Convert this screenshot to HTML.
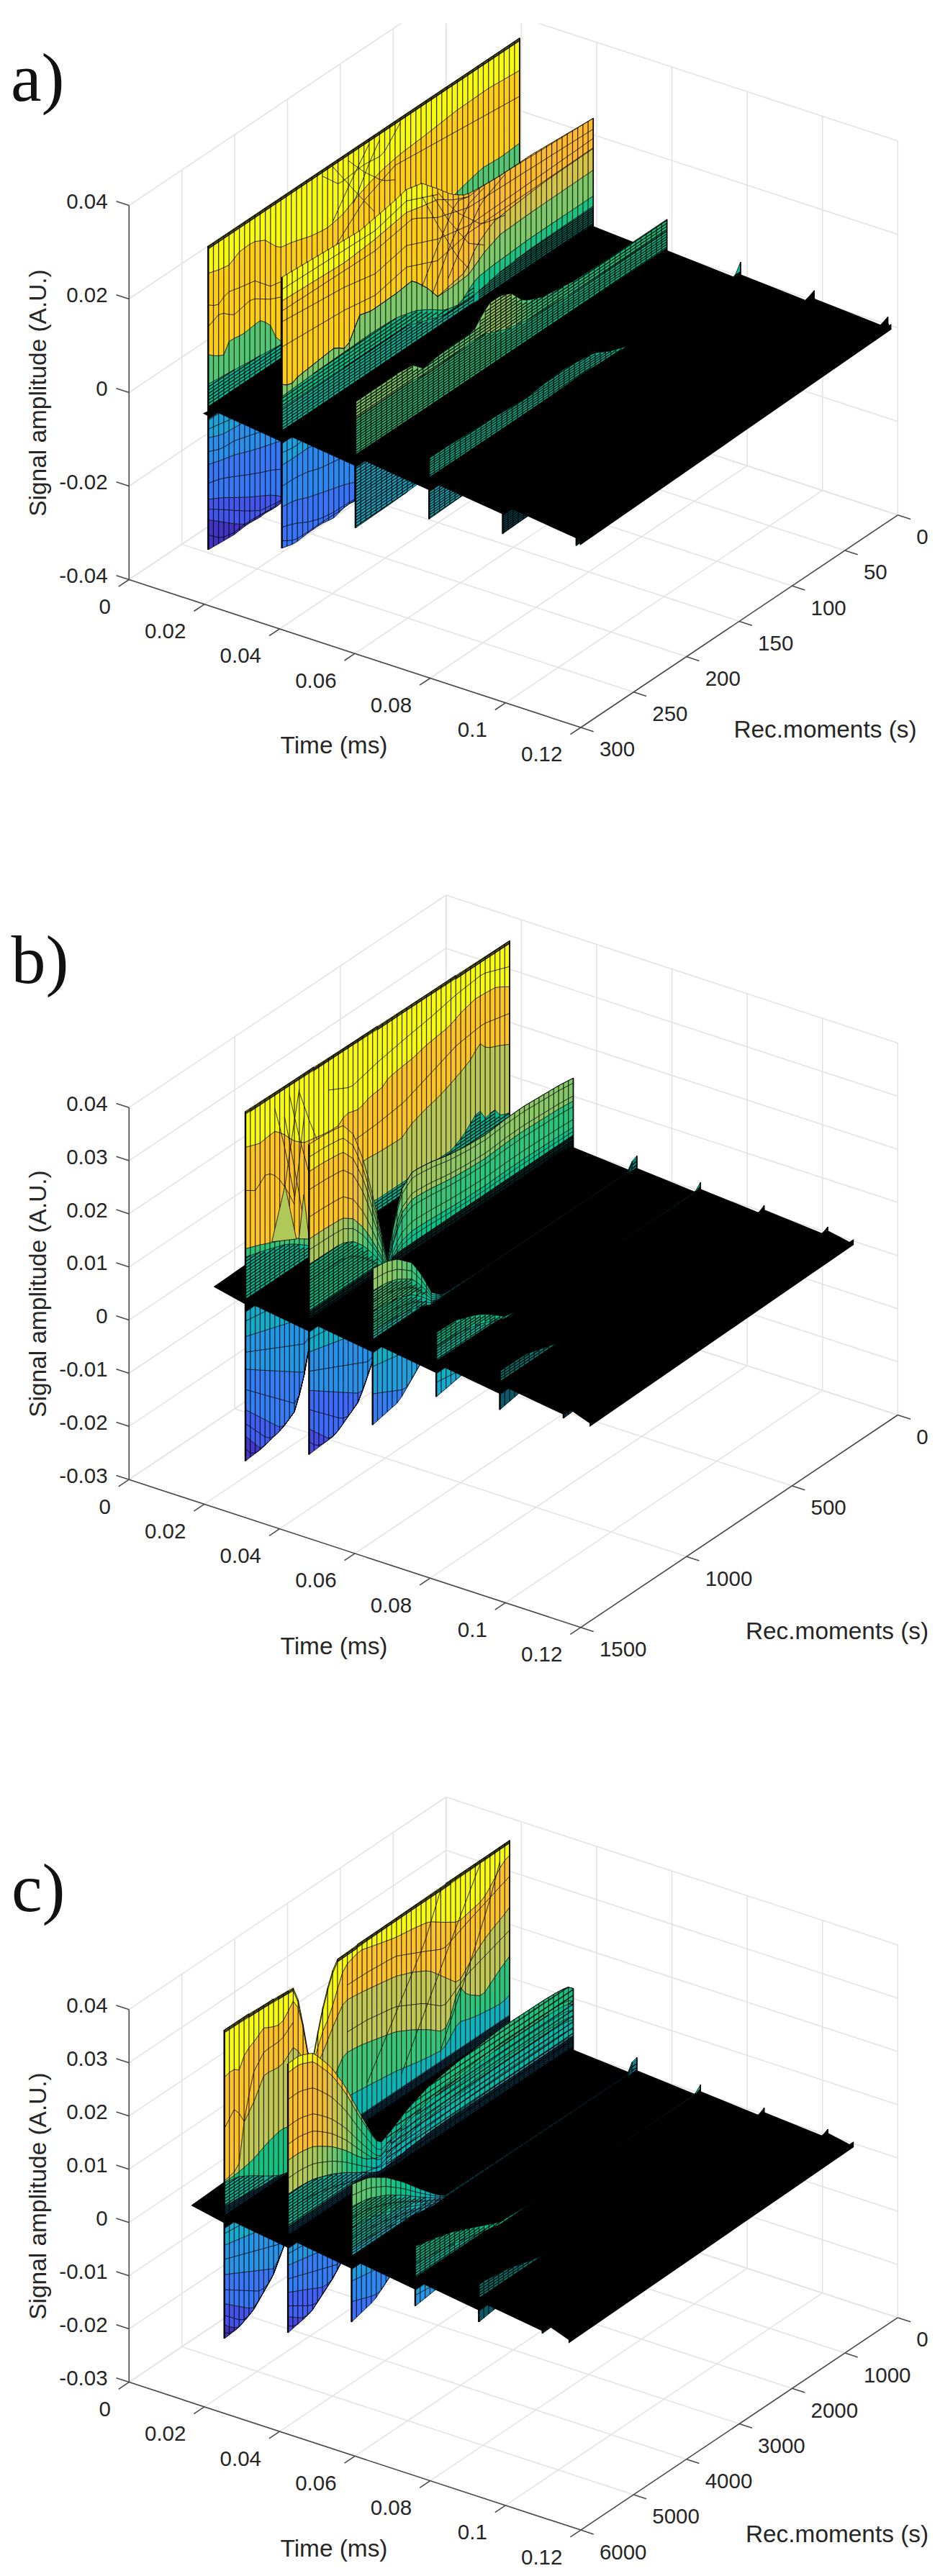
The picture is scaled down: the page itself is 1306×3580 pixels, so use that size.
<!DOCTYPE html>
<html lang="en"><head><meta charset="utf-8"><title>Signal amplitude surfaces</title>
<style>html,body{margin:0;padding:0;background:#fff}svg{display:block}text{white-space:pre}</style></head><body>
<svg width="1306" height="3580" viewBox="0 0 1306 3580">
<rect width="1306" height="3580" fill="#fff"/>
<g id="plot-a">
<clipPath id="cla"><rect x="0" y="32.5" width="1306" height="1300"/></clipPath>
<g clip-path="url(#cla)"><line x1="179.3" y1="805.5" x2="619.7" y2="510.3" stroke="#e3e3e3" stroke-width="1.6"/><line x1="283.9" y1="839.8" x2="724.3" y2="544.5" stroke="#e3e3e3" stroke-width="1.6"/><line x1="388.5" y1="874" x2="828.9" y2="578.8" stroke="#e3e3e3" stroke-width="1.6"/><line x1="493.1" y1="908.2" x2="933.5" y2="613" stroke="#e3e3e3" stroke-width="1.6"/><line x1="597.7" y1="942.5" x2="1038.1" y2="647.3" stroke="#e3e3e3" stroke-width="1.6"/><line x1="702.3" y1="976.8" x2="1142.7" y2="681.5" stroke="#e3e3e3" stroke-width="1.6"/><line x1="806.9" y1="1011" x2="1247.3" y2="715.8" stroke="#e3e3e3" stroke-width="1.6"/><line x1="179.3" y1="805.5" x2="806.9" y2="1011" stroke="#e3e3e3" stroke-width="1.6"/><line x1="179.3" y1="805.5" x2="179.3" y2="285.5" stroke="#e3e3e3" stroke-width="1.6"/><line x1="252.7" y1="756.3" x2="880.3" y2="961.8" stroke="#e3e3e3" stroke-width="1.6"/><line x1="252.7" y1="756.3" x2="252.7" y2="236.3" stroke="#e3e3e3" stroke-width="1.6"/><line x1="326.1" y1="707.1" x2="953.7" y2="912.6" stroke="#e3e3e3" stroke-width="1.6"/><line x1="326.1" y1="707.1" x2="326.1" y2="187.1" stroke="#e3e3e3" stroke-width="1.6"/><line x1="399.5" y1="657.9" x2="1027.1" y2="863.4" stroke="#e3e3e3" stroke-width="1.6"/><line x1="399.5" y1="657.9" x2="399.5" y2="137.9" stroke="#e3e3e3" stroke-width="1.6"/><line x1="472.9" y1="608.7" x2="1100.5" y2="814.2" stroke="#e3e3e3" stroke-width="1.6"/><line x1="472.9" y1="608.7" x2="472.9" y2="88.7" stroke="#e3e3e3" stroke-width="1.6"/><line x1="546.3" y1="559.5" x2="1173.9" y2="765" stroke="#e3e3e3" stroke-width="1.6"/><line x1="546.3" y1="559.5" x2="546.3" y2="39.5" stroke="#e3e3e3" stroke-width="1.6"/><line x1="619.7" y1="510.3" x2="1247.3" y2="715.8" stroke="#e3e3e3" stroke-width="1.6"/><line x1="619.7" y1="510.3" x2="619.7" y2="-9.7" stroke="#e3e3e3" stroke-width="1.6"/><line x1="619.7" y1="510.3" x2="619.7" y2="-9.7" stroke="#e3e3e3" stroke-width="1.6"/><line x1="724.3" y1="544.5" x2="724.3" y2="24.6" stroke="#e3e3e3" stroke-width="1.6"/><line x1="828.9" y1="578.8" x2="828.9" y2="58.8" stroke="#e3e3e3" stroke-width="1.6"/><line x1="933.5" y1="613" x2="933.5" y2="93.1" stroke="#e3e3e3" stroke-width="1.6"/><line x1="1038.1" y1="647.3" x2="1038.1" y2="127.3" stroke="#e3e3e3" stroke-width="1.6"/><line x1="1142.7" y1="681.5" x2="1142.7" y2="161.6" stroke="#e3e3e3" stroke-width="1.6"/><line x1="1247.3" y1="715.8" x2="1247.3" y2="195.8" stroke="#e3e3e3" stroke-width="1.6"/><line x1="179.3" y1="285.5" x2="619.7" y2="-9.7" stroke="#e3e3e3" stroke-width="1.6"/><line x1="619.7" y1="-9.7" x2="1247.3" y2="195.8" stroke="#e3e3e3" stroke-width="1.6"/><line x1="179.3" y1="415.5" x2="619.7" y2="120.3" stroke="#e3e3e3" stroke-width="1.6"/><line x1="619.7" y1="120.3" x2="1247.3" y2="325.8" stroke="#e3e3e3" stroke-width="1.6"/><line x1="179.3" y1="545.5" x2="619.7" y2="250.3" stroke="#e3e3e3" stroke-width="1.6"/><line x1="619.7" y1="250.3" x2="1247.3" y2="455.8" stroke="#e3e3e3" stroke-width="1.6"/><line x1="179.3" y1="675.5" x2="619.7" y2="380.3" stroke="#e3e3e3" stroke-width="1.6"/><line x1="619.7" y1="380.3" x2="1247.3" y2="585.8" stroke="#e3e3e3" stroke-width="1.6"/><line x1="179.3" y1="805.5" x2="619.7" y2="510.3" stroke="#e3e3e3" stroke-width="1.6"/><line x1="619.7" y1="510.3" x2="1247.3" y2="715.8" stroke="#e3e3e3" stroke-width="1.6"/></g>
<polygon points="281.9,574.5 289.5,571 289.5,578.5" fill="#000"/>
<path d="M289.3 341.8l7.2-4.8 7.2-4.8 7.2-4.8 7.3-4.8 7.2-4.9 7.2-4.8 7.2-4.8 7.2-4.8 7.2-4.8 7.2-4.8 7.2-4.9 7.2-4.8 7.3-4.8 7.2-4.8 7.2-4.8 7.2-4.8 7.2-4.9 7.2-4.8 7.2-4.8 7.2-4.8 7.2-4.8 7.3-4.8 7.2-4.9 7.2-4.8 7.2-4.8 7.2-4.8 7.2-4.8 7.2-4.9 7.2-4.8 7.3-4.8 7.2-4.8 7.2-4.8 7.2-4.8 7.2-4.9 7.2-4.8 7.2-4.8 7.2-4.8 7.2-4.8 7.3-4.8 7.2-4.9 7.2-4.8 7.2-4.8 7.2-4.8 7.2-4.8 7.2-4.8 7.2-4.9 7.2-4.8 7.3-4.8 7.2-4.8 7.2-4.8 7.2-4.8 7.2-4.9 7.2-4.8 7.2-4.8 7.2-4.8 7.3-4.8 7.2-4.9 7.2-4.8 7.2-4.8 7.2-4.8 0 4 -7.2 4.8 -7.2 4.8 -7.2 4.8 -7.2 4.9 -7.3 4.8 -7.2 4.8 -7.2 4.8 -7.2 4.8 -7.2 4.9 -7.2 4.8 -7.2 4.8 -7.2 4.8 -7.3 4.8 -7.2 4.8 -7.2 4.9 -7.2 4.8 -7.2 4.8 -7.2 4.8 -7.2 4.8 -7.2 4.8 -7.2 4.9 -7.3 4.8 -7.2 4.8 -7.2 4.8 -7.2 4.8 -7.2 4.8 -7.2 4.9 -7.2 4.8 -7.2 4.8 -7.2 4.8 -7.3 4.8 -7.2 4.8 -7.2 4.9 -7.2 4.8 -7.2 4.8 -7.2 4.8 -7.2 4.8 -7.2 4.9 -7.3 4.8 -7.2 4.8 -7.2 4.8 -7.2 4.8 -7.2 4.8 -7.2 4.9 -7.2 4.8 -7.2 4.8 -7.2 4.8 -7.3 4.8 -7.2 4.8 -7.2 4.9 -7.2 4.8 -7.2 4.8 -7.2 4.8 -7.2 4.8 -7.2 4.8 -7.2 4.9 -7.3 4.8 -7.2 4.8 -7.2 4.8 -7.2 4.8z" fill="#a3a600"/>
<path d="M289.3 345.8l7.2-4.8 7.2-4.8 7.2-4.8 7.3-4.8 7.2-4.9 7.2-4.8 7.2-4.8 7.2-4.8 7.2-4.8 7.2-4.8 7.2-4.9 7.2-4.8 7.3-4.8 7.2-4.8 7.2-4.8 7.2-4.8 7.2-4.9 7.2-4.8 7.2-4.8 7.2-4.8 7.2-4.8 7.3-4.8 7.2-4.9 7.2-4.8 7.2-4.8 7.2-4.8 7.2-4.8 7.2-4.9 7.2-4.8 7.3-4.8 7.2-4.8 7.2-4.8 7.2-4.8 7.2-4.9 7.2-4.8 7.2-4.8 7.2-4.8 7.2-4.8 7.3-4.8 7.2-4.9 7.2-4.8 7.2-4.8 7.2-4.8 7.2-4.8 7.2-4.8 7.2-4.9 7.2-4.8 7.3-4.8 7.2-4.8 7.2-4.8 7.2-4.8 7.2-4.9 7.2-4.8 7.2-4.8 7.2-4.8 7.3-4.8 7.2-4.9 7.2-4.8 7.2-4.8 7.2-4.8 0 41 -7.2 4.2 -7.2 4.1 -7.2 4.2 -7.2 4.2 -7.3 4.1 -7.2 4.2 -7.2 5 -7.2 5 -7.2 5 -7.2 5 -7.2 5 -7.2 5 -7.3 5.7 -7.2 5.6 -7.2 5.7 -7.2 5.7 -7.2 5.6 -7.2 5.7 -7.2 5.5 -7.2 5.4 -7.2 5.5 -7.3 5.4 -7.2 5.6 -7.2 6.2 -7.2 6.2 -7.2 6.3 -7.2 7.2 -7.2 7.2 -7.2 7.3 -7.2 8.2 -7.3 8.2 -7.2 8.3 -7.2 9 -7.2 9 -7.2 6.7 -7.2 6.2 -7.2 6.2 -7.2 4 -7.3 3.5 -7.2 3.5 -7.2 2.6 -7.2 2.3 -7.2 2.4 -7.2 2.5 -7.2 3.3 -7.2 3.2 -7.2-1.4 -7.3-4.3 -7.2-4.2 -7.2 0.9 -7.2 1 -7.2 3.7 -7.2 5.2 -7.2 5.5 -7.2 9.1 -7.2 9.1 -7.3 3.5 -7.2 3.3 -7.2 2.3 -7.2 2.4z" fill="#f9fb0e"/>
<path d="M289.3 379.8l7.2-2.4 7.2-2.3 7.2-3.3 7.3-3.5 7.2-9.1 7.2-9.1 7.2-5.5 7.2-5.2 7.2-3.7 7.2-1 7.2-0.9 7.2 4.2 7.3 4.3 7.2 1.4 7.2-3.2 7.2-3.3 7.2-2.5 7.2-2.4 7.2-2.3 7.2-2.6 7.2-3.5 7.3-3.5 7.2-4 7.2-6.2 7.2-6.2 7.2-6.7 7.2-9 7.2-9 7.2-8.3 7.3-8.2 7.2-8.2 7.2-7.3 7.2-7.2 7.2-7.2 7.2-6.3 7.2-6.2 7.2-6.2 7.2-5.6 7.3-5.4 7.2-5.5 7.2-5.4 7.2-5.5 7.2-5.7 7.2-5.6 7.2-5.7 7.2-5.7 7.2-5.6 7.3-5.7 7.2-5 7.2-5 7.2-5 7.2-5 7.2-5 7.2-5 7.2-4.2 7.3-4.1 7.2-4.2 7.2-4.2 7.2-4.1 7.2-4.2 0 101 -7.2 5.4 -7.2 5.4 -7.2 5.4 -7.2 4.9 -7.3 4.3 -7.2 4.3 -7.2 4.2 -7.2 6.3 -7.2 6.8 -7.2 6.8 -7.2 6.9 -7.2 7.3 -7.3 7.3 -7.2 7.4 -7.2 7.3 -7.2 7.3 -7.2 7.4 -7.2 7.3 -7.2 6.5 -7.2 6.5 -7.2 6.5 -7.3 6.5 -7.2 6.5 -7.2 6.5 -7.2 6.5 -7.2 6.5 -7.2 6.5 -7.2 6.5 -7.2 6.5 -7.2 6.5 -7.3 5.7 -7.2 5.6 -7.2 5.7 -7.2 5.7 -7.2 5.6 -7.2 5.7 -7.2 5.7 -7.2 5.7 -7.3 5.6 -7.2 5.7 -7.2 5.7 -7.2 5.6 -7.2 4.9 -7.2 4.8 -7.2 4.8 -7.2 2.6 -7.2-5.5 -7.3-16 -7.2-4.6 -7.2-2.3 -7.2 5.6 -7.2 5.7 -7.2 5.8 -7.2 4.3 -7.2 3.2 -7.2 4.5 -7.3 18.7 -7.2 1 -7.2-0.1 -7.2-1.4z" fill="#fecd14"/>
<path d="M289.3 492.8l7.2 1.4 7.2 0.1 7.2-1 7.3-18.7 7.2-4.5 7.2-3.2 7.2-4.3 7.2-5.8 7.2-5.7 7.2-5.6 7.2 2.3 7.2 4.6 7.3 16 7.2 5.5 7.2-2.6 7.2-4.8 7.2-4.8 7.2-4.9 7.2-5.6 7.2-5.7 7.2-5.7 7.3-5.6 7.2-5.7 7.2-5.7 7.2-5.7 7.2-5.6 7.2-5.7 7.2-5.7 7.2-5.6 7.3-5.7 7.2-6.5 7.2-6.5 7.2-6.5 7.2-6.5 7.2-6.5 7.2-6.5 7.2-6.5 7.2-6.5 7.3-6.5 7.2-6.5 7.2-6.5 7.2-6.5 7.2-7.3 7.2-7.4 7.2-7.3 7.2-7.3 7.2-7.4 7.3-7.3 7.2-7.3 7.2-6.9 7.2-6.8 7.2-6.8 7.2-6.3 7.2-4.2 7.2-4.3 7.3-4.3 7.2-4.9 7.2-5.4 7.2-5.4 7.2-5.4 0 55 -7.2 5 -7.2 4.9 -7.2 5 -7.2 5 -7.3 4.9 -7.2 5 -7.2 5 -7.2 4.9 -7.2 5 -7.2 5 -7.2 4.9 -7.2 5 -7.3 5 -7.2 4.9 -7.2 5 -7.2 5 -7.2 4.9 -7.2 5 -7.2 5 -7.2 4.9 -7.2 5 -7.3 5 -7.2 4.9 -7.2 5 -7.2 5 -7.2 4.9 -7.2 5 -7.2 5 -7.2 4.9 -7.2 5 -7.3 4.8 -7.2 4.8 -7.2 4.7 -7.2 4.8 -7.2 4.8 -7.2 4.7 -7.2 4.8 -7.2 4.8 -7.3 4.7 -7.2 4.8 -7.2 4.8 -7.2 4.8 -7.2 4.7 -7.2 4.8 -7.2 4.8 -7.2 4.4 -7.2 3.9 -7.3 4 -7.2 3.9 -7.2 3.9 -7.2 4 -7.2 3.9 -7.2 3.9 -7.2 3.9 -7.2 4 -7.2 3.9 -7.3 3.9 -7.2 4 -7.2 3.9 -7.2 3.9z" fill="#52c673"/>
<path d="M289.3 533.8l7.2-3.9 7.2-3.9 7.2-4 7.3-3.9 7.2-3.9 7.2-4 7.2-3.9 7.2-3.9 7.2-3.9 7.2-4 7.2-3.9 7.2-3.9 7.3-4 7.2-3.9 7.2-4.4 7.2-4.8 7.2-4.8 7.2-4.7 7.2-4.8 7.2-4.8 7.2-4.8 7.3-4.7 7.2-4.8 7.2-4.8 7.2-4.7 7.2-4.8 7.2-4.8 7.2-4.7 7.2-4.8 7.3-4.8 7.2-5 7.2-4.9 7.2-5 7.2-5 7.2-4.9 7.2-5 7.2-5 7.2-4.9 7.3-5 7.2-5 7.2-4.9 7.2-5 7.2-5 7.2-4.9 7.2-5 7.2-5 7.2-4.9 7.3-5 7.2-5 7.2-4.9 7.2-5 7.2-5 7.2-4.9 7.2-5 7.2-5 7.3-4.9 7.2-5 7.2-5 7.2-4.9 7.2-5 0 24 -7.2 4.8 -7.2 4.8 -7.2 4.7 -7.2 4.8 -7.3 4.8 -7.2 4.8 -7.2 4.8 -7.2 4.8 -7.2 4.8 -7.2 4.7 -7.2 4.8 -7.2 4.8 -7.3 4.8 -7.2 4.8 -7.2 4.8 -7.2 4.7 -7.2 4.8 -7.2 4.8 -7.2 4.8 -7.2 4.8 -7.2 4.8 -7.3 4.7 -7.2 4.8 -7.2 4.8 -7.2 4.8 -7.2 4.8 -7.2 4.8 -7.2 4.7 -7.2 4.8 -7.2 4.8 -7.3 4.8 -7.2 4.8 -7.2 4.8 -7.2 4.7 -7.2 4.8 -7.2 4.8 -7.2 4.8 -7.2 4.8 -7.3 4.8 -7.2 4.8 -7.2 4.7 -7.2 4.8 -7.2 4.8 -7.2 4.8 -7.2 4.8 -7.2 4.8 -7.2 4.7 -7.3 4.8 -7.2 4.8 -7.2 4.8 -7.2 4.8 -7.2 4.8 -7.2 4.7 -7.2 4.8 -7.2 4.8 -7.2 4.8 -7.3 4.8 -7.2 4.8 -7.2 4.7 -7.2 4.8z" fill="#02be97"/>
<path d="M289.3 564.8l7.2-4.8 7.2-4.7 7.2-4.8 7.3-4.8 7.2-4.8 7.2-4.8 7.2-4.8 7.2-4.7 7.2-4.8 7.2-4.8 7.2-4.8 7.2-4.8 7.3-4.8 7.2-4.7 7.2-4.8 7.2-4.8 7.2-4.8 7.2-4.8 7.2-4.8 7.2-4.7 7.2-4.8 7.3-4.8 7.2-4.8 7.2-4.8 7.2-4.8 7.2-4.8 7.2-4.7 7.2-4.8 7.2-4.8 7.3-4.8 7.2-4.8 7.2-4.8 7.2-4.7 7.2-4.8 7.2-4.8 7.2-4.8 7.2-4.8 7.2-4.8 7.3-4.7 7.2-4.8 7.2-4.8 7.2-4.8 7.2-4.8 7.2-4.8 7.2-4.7 7.2-4.8 7.2-4.8 7.3-4.8 7.2-4.8 7.2-4.8 7.2-4.7 7.2-4.8 7.2-4.8 7.2-4.8 7.2-4.8 7.3-4.8 7.2-4.8 7.2-4.7 7.2-4.8 7.2-4.8 0 12 -7.2 4.9 -7.2 4.9 -7.2 4.8 -7.2 4.9 -7.3 4.9 -7.2 4.9 -7.2 4.9 -7.2 4.9 -7.2 4.9 -7.2 4.8 -7.2 4.9 -7.2 4.9 -7.3 4.9 -7.2 4.9 -7.2 4.9 -7.2 4.8 -7.2 4.9 -7.2 4.9 -7.2 4.9 -7.2 4.9 -7.2 4.9 -7.3 4.8 -7.2 4.9 -7.2 4.9 -7.2 4.9 -7.2 4.9 -7.2 4.9 -7.2 4.8 -7.2 4.9 -7.2 4.9 -7.3 4.9 -7.2 4.9 -7.2 4.9 -7.2 4.8 -7.2 4.9 -7.2 4.9 -7.2 4.9 -7.2 4.9 -7.3 4.9 -7.2 4.9 -7.2 4.8 -7.2 4.9 -7.2 4.9 -7.2 4.9 -7.2 4.9 -7.2 4.9 -7.2 4.8 -7.3 4.9 -7.2 4.9 -7.2 4.9 -7.2 4.9 -7.2 4.9 -7.2 4.8 -7.2 4.9 -7.2 4.9 -7.2 4.9 -7.3 4.9 -7.2 4.9 -7.2 4.8 -7.2 4.9z" fill="#000"/>
<path d="M289.3 582.8l7.2-4.9 7.2-4.8 7.2-4.9 7.3-4.9 7.2-4.9 7.2-4.9 7.2-4.9 7.2-4.8 7.2-4.9 7.2-4.9 7.2-4.9 7.2-4.9 7.3-4.9 7.2-4.8 7.2-4.9 7.2-4.9 7.2-4.9 7.2-4.9 7.2-4.9 7.2-4.8 7.2-4.9 7.3-4.9 7.2-4.9 7.2-4.9 7.2-4.9 7.2-4.9 7.2-4.8 7.2-4.9 7.2-4.9 7.3-4.9 7.2-4.9 7.2-4.9 7.2-4.8 7.2-4.9 7.2-4.9 7.2-4.9 7.2-4.9 7.2-4.9 7.3-4.8 7.2-4.9 7.2-4.9 7.2-4.9 7.2-4.9 7.2-4.9 7.2-4.8 7.2-4.9 7.2-4.9 7.3-4.9 7.2-4.9 7.2-4.9 7.2-4.8 7.2-4.9 7.2-4.9 7.2-4.9 7.2-4.9 7.3-4.9 7.2-4.9 7.2-4.8 7.2-4.9 7.2-4.9 0 28.5 -7.2 5.1 -7.2 5.1 -7.2 4.8 -7.2 4.5 -7.3 4.4 -7.2 4.4 -7.2 4.3 -7.2 4.3 -7.2 4.2 -7.2 4.1 -7.2 5.5 -7.2 5.6 -7.3 4.5 -7.2 3.7 -7.2 3.6 -7.2 3.3 -7.2 3.3 -7.2 4.6 -7.2 5.9 -7.2 5.9 -7.2 4.2 -7.3 4.1 -7.2 4.2 -7.2 4.2 -7.2 4.3 -7.2 4.4 -7.2 4.4 -7.2 4.7 -7.2 4.8 -7.2 4.9 -7.3 3.4 -7.2 3.3 -7.2 3.9 -7.2 4.4 -7.2 4.4 -7.2 6.1 -7.2 6 -7.2 4.7 -7.3 3.3 -7.2 3.3 -7.2 4.3 -7.2 4.3 -7.2 4.4 -7.2 4.6 -7.2 4.7 -7.2 4.4 -7.2 4.5 -7.3 4.1 -7.2 3.8 -7.2 3.8 -7.2 5.2 -7.2 5.1 -7.2 5.2 -7.2 5.3 -7.2 5.3 -7.2 2.6 -7.3 2.6 -7.2 3.8 -7.2 4.9 -7.2 4.9z" fill="#12adcb"/>
<path d="M289.3 584.2l7.2-4.9 7.2-4.9 7.2-3.8 7.3-2.6 7.2-2.6 7.2-5.3 7.2-5.3 7.2-5.2 7.2-5.1 7.2-5.2 7.2-3.8 7.2-3.8 7.3-4.1 7.2-4.5 7.2-4.4 7.2-4.7 7.2-4.6 7.2-4.4 7.2-4.3 7.2-4.3 7.2-3.3 7.3-3.3 7.2-4.7 7.2-6 7.2-6.1 7.2-4.4 7.2-4.4 7.2-3.9 7.2-3.3 7.3-3.4 7.2-4.9 7.2-4.8 7.2-4.7 7.2-4.4 7.2-4.4 7.2-4.3 7.2-4.2 7.2-4.2 7.3-4.1 7.2-4.2 7.2-5.9 7.2-5.9 7.2-4.6 7.2-3.3 7.2-3.3 7.2-3.6 7.2-3.7 7.3-4.5 7.2-5.6 7.2-5.5 7.2-4.1 7.2-4.2 7.2-4.3 7.2-4.3 7.2-4.4 7.3-4.4 7.2-4.5 7.2-4.8 7.2-5.1 7.2-5.1 0 89.2 -7.2 1.9 -7.2 1.9 -7.2 3.1 -7.2 4.3 -7.3 4.4 -7.2 3.4 -7.2 3.5 -7.2 3.4 -7.2 3.3 -7.2 3.3 -7.2 3.3 -7.2 3.3 -7.3 3.8 -7.2 4.3 -7.2 4.4 -7.2 2.4 -7.2 2.5 -7.2 2.5 -7.2 2.6 -7.2 2.5 -7.2 5.1 -7.3 5.1 -7.2 4 -7.2 2.9 -7.2 3 -7.2 3.2 -7.2 3.2 -7.2 3.3 -7.2 3.5 -7.2 3.5 -7.3 3.7 -7.2 3.7 -7.2 3.1 -7.2 2.5 -7.2 2.4 -7.2 3.7 -7.2 3.6 -7.2 4.4 -7.3 4.9 -7.2 5 -7.2 2 -7.2 2 -7.2 2.8 -7.2 3.4 -7.2 3.4 -7.2 3.6 -7.2 3.7 -7.3 3.6 -7.2 3.4 -7.2 3.4 -7.2 3 -7.2 2.9 -7.2 3.6 -7.2 4.2 -7.2 4.2 -7.2 4 -7.3 3.9 -7.2 2.8 -7.2 1.6 -7.2 1.5z" fill="#1ba2db"/>
<path d="M289.3 608.4l7.2-1.5 7.2-1.6 7.2-2.8 7.3-3.9 7.2-4 7.2-4.2 7.2-4.2 7.2-3.6 7.2-2.9 7.2-3 7.2-3.4 7.2-3.4 7.3-3.6 7.2-3.7 7.2-3.6 7.2-3.4 7.2-3.4 7.2-2.8 7.2-2 7.2-2 7.2-5 7.3-4.9 7.2-4.4 7.2-3.6 7.2-3.7 7.2-2.4 7.2-2.5 7.2-3.1 7.2-3.7 7.3-3.7 7.2-3.5 7.2-3.5 7.2-3.3 7.2-3.2 7.2-3.2 7.2-3 7.2-2.9 7.2-4 7.3-5.1 7.2-5.1 7.2-2.5 7.2-2.6 7.2-2.5 7.2-2.5 7.2-2.4 7.2-4.4 7.2-4.3 7.3-3.8 7.2-3.3 7.2-3.3 7.2-3.3 7.2-3.3 7.2-3.4 7.2-3.5 7.2-3.4 7.3-4.4 7.2-4.3 7.2-3.1 7.2-1.9 7.2-1.9 0 64.5 -7.2 4.5 -7.2 4.5 -7.2 3.9 -7.2 3.4 -7.3 3.4 -7.2 6 -7.2 6 -7.2 5.4 -7.2 4.8 -7.2 4.8 -7.2 4.7 -7.2 4.7 -7.3 4.7 -7.2 4.8 -7.2 4.8 -7.2 4.7 -7.2 4.7 -7.2 2.8 -7.2 1.2 -7.2 1.1 -7.2 1.6 -7.3 1.6 -7.2 2.7 -7.2 3.9 -7.2 3.9 -7.2 1.4 -7.2 1.5 -7.2 1.7 -7.2 1.9 -7.2 1.9 -7.3 2.3 -7.2 2.3 -7.2 2.3 -7.2 2.3 -7.2 2.4 -7.2 1.3 -7.2 1.3 -7.2 1.9 -7.3 2.7 -7.2 2.6 -7.2 3.5 -7.2 3.5 -7.2 2 -7.2 0.5 -7.2 0.6 -7.2 2.3 -7.2 2.3 -7.3 2.4 -7.2 2.5 -7.2 2.5 -7.2 2.1 -7.2 2.1 -7.2 1.9 -7.2 1.8 -7.2 1.9 -7.2 2.9 -7.3 2.9 -7.2 2.7 -7.2 2.4 -7.2 2.4z" fill="#2890ec"/>
<path d="M289.3 645.6l7.2-2.4 7.2-2.4 7.2-2.7 7.3-2.9 7.2-2.9 7.2-1.9 7.2-1.8 7.2-1.9 7.2-2.1 7.2-2.1 7.2-2.5 7.2-2.5 7.3-2.4 7.2-2.3 7.2-2.3 7.2-0.6 7.2-0.5 7.2-2 7.2-3.5 7.2-3.5 7.2-2.6 7.3-2.7 7.2-1.9 7.2-1.3 7.2-1.3 7.2-2.4 7.2-2.3 7.2-2.3 7.2-2.3 7.3-2.3 7.2-1.9 7.2-1.9 7.2-1.7 7.2-1.5 7.2-1.4 7.2-3.9 7.2-3.9 7.2-2.7 7.3-1.6 7.2-1.6 7.2-1.1 7.2-1.2 7.2-2.8 7.2-4.7 7.2-4.7 7.2-4.8 7.2-4.8 7.3-4.7 7.2-4.7 7.2-4.7 7.2-4.8 7.2-4.8 7.2-5.4 7.2-6 7.2-6 7.3-3.4 7.2-3.4 7.2-3.9 7.2-4.5 7.2-4.5 0 0 -7.2 6 -7.2 6 -7.2 5.2 -7.2 4.2 -7.3 4.2 -7.2 3.6 -7.2 3.5 -7.2 4.9 -7.2 6.2 -7.2 6.3 -7.2 4.6 -7.2 4.7 -7.3 4.7 -7.2 4.6 -7.2 4.7 -7.2 4.8 -7.2 4.9 -7.2 5.1 -7.2 5.3 -7.2 5.4 -7.2 3.8 -7.3 3.8 -7.2 4.2 -7.2 4.6 -7.2 4.6 -7.2 6.5 -7.2 6.6 -7.2 5.2 -7.2 3.9 -7.2 3.9 -7.3 4.6 -7.2 4.7 -7.2 4.8 -7.2 5 -7.2 5 -7.2 4.9 -7.2 5 -7.2 4.5 -7.3 4.2 -7.2 4.1 -7.2 5.5 -7.2 5.4 -7.2 5.4 -7.2 5.2 -7.2 5.2 -7.2-1.5 -7.2-1.4 -7.3-0.5 -7.2 0.7 -7.2 0.6 -7.2 0.7 -7.2 0.7 -7.2 0.4 -7.2 0.1 -7.2 0.2 -7.2 0 -7.3 0.1 -7.2 0.5 -7.2 1 -7.2 0.9z" fill="#3677f6"/>
<path d="M289.3 694l7.2-0.9 7.2-1 7.2-0.5 7.3-0.1 7.2 0 7.2-0.2 7.2-0.1 7.2-0.4 7.2-0.7 7.2-0.7 7.2-0.6 7.2-0.7 7.3 0.5 7.2 1.4 7.2 1.5 7.2-5.2 7.2-5.2 7.2-5.4 7.2-5.4 7.2-5.5 7.2-4.1 7.3-4.2 7.2-4.5 7.2-5 7.2-4.9 7.2-5 7.2-5 7.2-4.8 7.2-4.7 7.3-4.6 7.2-3.9 7.2-3.9 7.2-5.2 7.2-6.6 7.2-6.5 7.2-4.6 7.2-4.6 7.2-4.2 7.3-3.8 7.2-3.8 7.2-5.4 7.2-5.3 7.2-5.1 7.2-4.9 7.2-4.8 7.2-4.7 7.2-4.6 7.3-4.7 7.2-4.7 7.2-4.6 7.2-6.3 7.2-6.2 7.2-4.9 7.2-3.5 7.2-3.6 7.3-4.2 7.2-4.2 7.2-5.2 7.2-6 7.2-6 0 3.7 -7.2 4.7 -7.2 4.6 -7.2 5.3 -7.2 5.8 -7.3 5.8 -7.2 4.1 -7.2 4 -7.2 3.9 -7.2 3.8 -7.2 4.4 -7.2 5.8 -7.2 6.4 -7.3 5.4 -7.2 4.5 -7.2 4.6 -7.2 4.6 -7.2 4.6 -7.2 4.8 -7.2 4.8 -7.2 4.9 -7.2 5.2 -7.3 5.2 -7.2 4.5 -7.2 3.9 -7.2 3.8 -7.2 4.9 -7.2 5 -7.2 5.4 -7.2 6.2 -7.2 6.2 -7.3 3.9 -7.2 3.9 -7.2 4.3 -7.2 4.8 -7.2 4.7 -7.2 5.1 -7.2 5 -7.2 5 -7.3 4.9 -7.2 4.9 -7.2 4.3 -7.2 4.3 -7.2 4.9 -7.2 5.5 -7.2 5.6 -7.2 5.4 -7.2 5.4 -7.3 4.3 -7.2 3.2 -7.2 3.2 -7.2 5.4 -7.2 5.4 -7.2 2.4 -7.2-0.4 -7.2-0.4 -7.2-1.1 -7.3-1.1 -7.2-1.1 -7.2-1 -7.2-1z" fill="#4256ec"/>
<path d="M289.3 722.5l7.2 1 7.2 1 7.2 1.1 7.3 1.1 7.2 1.1 7.2 0.4 7.2 0.4 7.2-2.4 7.2-5.4 7.2-5.4 7.2-3.2 7.2-3.2 7.3-4.3 7.2-5.4 7.2-5.4 7.2-5.6 7.2-5.5 7.2-4.9 7.2-4.3 7.2-4.3 7.2-4.9 7.3-4.9 7.2-5 7.2-5 7.2-5.1 7.2-4.7 7.2-4.8 7.2-4.3 7.2-3.9 7.3-3.9 7.2-6.2 7.2-6.2 7.2-5.4 7.2-5 7.2-4.9 7.2-3.8 7.2-3.9 7.2-4.5 7.3-5.2 7.2-5.2 7.2-4.9 7.2-4.8 7.2-4.8 7.2-4.6 7.2-4.6 7.2-4.6 7.2-4.5 7.3-5.4 7.2-6.4 7.2-5.8 7.2-4.4 7.2-3.8 7.2-3.9 7.2-4 7.2-4.1 7.3-5.8 7.2-5.8 7.2-5.3 7.2-4.6 7.2-4.7 0 0 -7.2 4.7 -7.2 5 -7.2 5.4 -7.2 5.3 -7.3 5.8 -7.2 4.1 -7.2 4 -7.2 3.9 -7.2 6.8 -7.2 6.9 -7.2 2.7 -7.2 4 -7.3 5.4 -7.2 4.5 -7.2 4.6 -7.2 4.6 -7.2 5.1 -7.2 4.3 -7.2 4.8 -7.2 4.9 -7.2 5.2 -7.3 6.2 -7.2 5.3 -7.2 3.4 -7.2 3.5 -7.2 4.9 -7.2 4.9 -7.2 5.2 -7.2 5.5 -7.2 6.2 -7.3 3.9 -7.2 3.9 -7.2 4.3 -7.2 5 -7.2 6.5 -7.2 4.5 -7.2 4.5 -7.2 4.4 -7.3 4.6 -7.2 4.9 -7.2 4.9 -7.2 5.7 -7.2 4.6 -7.2 3.8 -7.2 5.6 -7.2 5.4 -7.2 5.4 -7.3 4.3 -7.2 4.2 -7.2 5.5 -7.2 4.1 -7.2 4 -7.2 4.9 -7.2 5.6 -7.2 5.7 -7.2 4.2 -7.3 4.3 -7.2 4.2 -7.2 4.1 -7.2 4.1z" fill="#4235c3"/>
<path d="M289.3 345.6 722 55.6M289.3 343.2 722 53.2" fill="none" stroke="#000" stroke-width="1.5" stroke-opacity="0.85"/>
<path d="M318.2 546.2 722 275.5M289.3 560.9 722 270.9M289.3 556.3 722 266.3M289.3 551.7 722 261.7M289.3 547.1 476.8 421.4M520.1 392.4 722 257.1M289.3 542.5 361.4 494.2M289.3 537.9 325.4 513.8" fill="none" stroke="#000" stroke-width="1.5" stroke-opacity="0.85"/>
<path d="M289.3 341.8V763.9M296.5 337V759.8M303.7 332.2V755.7M310.9 327.4V751.5M318.2 322.6V747.2M325.4 317.7V743M332.6 312.9V737.3M339.8 308.1V731.7M347 303.3V726.8M354.2 298.5V722.8M361.4 293.7V718.7M368.6 288.8V713.2M375.8 284V709M383.1 279.2V704.7M390.3 274.4V699.3M397.5 269.6V693.9M404.7 264.8V688.3M411.9 259.9V684.5M419.1 255.1V679.9M426.3 250.3V674.2M433.5 245.5V669.3M440.7 240.7V664.4M448 235.9V659.8M455.2 231V655.4M462.4 226.2V650.9M469.6 221.4V646.4M476.8 216.6V639.9M484 211.8V634.9M491.2 206.9V630.6M498.4 202.1V626.7M505.7 197.3V622.8M512.9 192.5V616.6M520.1 187.7V611.1M527.3 182.9V605.9M534.5 178V601M541.7 173.2V596.1M548.9 168.4V592.6M556.1 163.6V589.2M563.3 158.8V583.9M570.6 154V577.7M577.8 149.1V572.5M585 144.3V567.6M592.2 139.5V562.8M599.4 134.7V558.5M606.6 129.9V553.4M613.8 125.1V548.8M621 120.2V544.2M628.2 115.4V539.7M635.5 110.6V534.3M642.7 105.8V530.3M649.9 101V527.6M657.1 96.2V520.7M664.3 91.3V513.9M671.5 86.5V510M678.7 81.7V506M685.9 76.9V501.9M693.2 72.1V496.1M700.4 67.2V490.8M707.6 62.4V485.4M714.8 57.6V480.4M722 52.8V475.7" fill="none" stroke="#000" stroke-width="1.25" stroke-opacity="0.8"/>
<path d="M289.3 341.8l7.2-4.8 7.2-4.8 7.2-4.8 7.3-4.8 7.2-4.9 7.2-4.8 7.2-4.8 7.2-4.8 7.2-4.8 7.2-4.8 7.2-4.9 7.2-4.8 7.3-4.8 7.2-4.8 7.2-4.8 7.2-4.8 7.2-4.9 7.2-4.8 7.2-4.8 7.2-4.8 7.2-4.8 7.3-4.8 7.2-4.9 7.2-4.8 7.2-4.8 7.2-4.8 7.2-4.8 7.2-4.9 7.2-4.8 7.3-4.8 7.2-4.8 7.2-4.8 7.2-4.8 7.2-4.9 7.2-4.8 7.2-4.8 7.2-4.8 7.2-4.8 7.3-4.8 7.2-4.9 7.2-4.8 7.2-4.8 7.2-4.8 7.2-4.8 7.2-4.8 7.2-4.9 7.2-4.8 7.3-4.8 7.2-4.8 7.2-4.8 7.2-4.8 7.2-4.9 7.2-4.8 7.2-4.8 7.2-4.8 7.3-4.8 7.2-4.9 7.2-4.8 7.2-4.8 7.2-4.8M289.3 345.8l7.2-4.8 7.2-4.8 7.2-4.8 7.3-4.8 7.2-4.9 7.2-4.8 7.2-4.8 7.2-4.8 7.2-4.8 7.2-4.8 7.2-4.9 7.2-4.8 7.3-4.8 7.2-4.8 7.2-4.8 7.2-4.8 7.2-4.9 7.2-4.8 7.2-4.8 7.2-4.8 7.2-4.8 7.3-4.8 7.2-4.9 7.2-4.8 7.2-4.8 7.2-4.8 7.2-4.8 7.2-4.9 7.2-4.8 7.3-4.8 7.2-4.8 7.2-4.8 7.2-4.8 7.2-4.9 7.2-4.8 7.2-4.8 7.2-4.8 7.2-4.8 7.3-4.8 7.2-4.9 7.2-4.8 7.2-4.8 7.2-4.8 7.2-4.8 7.2-4.8 7.2-4.9 7.2-4.8 7.3-4.8 7.2-4.8 7.2-4.8 7.2-4.8 7.2-4.9 7.2-4.8 7.2-4.8 7.2-4.8 7.3-4.8 7.2-4.9 7.2-4.8 7.2-4.8 7.2-4.8M289.3 379.8l7.2-2.4 7.2-2.3 7.2-3.3 7.3-3.5 7.2-9.1 7.2-9.1 7.2-5.5 7.2-5.2 7.2-3.7 7.2-1 7.2-0.9 7.2 4.2 7.3 4.3 7.2 1.4 7.2-3.2 7.2-3.3 7.2-2.5 7.2-2.4 7.2-2.3 7.2-2.6 7.2-3.5 7.3-3.5 7.2-4 7.2-6.2 7.2-6.2 7.2-6.7 7.2-9 7.2-9 7.2-8.3 7.3-8.2 7.2-8.2 7.2-7.3 7.2-7.2 7.2-7.2 7.2-6.3 7.2-6.2 7.2-6.2 7.2-5.6 7.3-5.4 7.2-5.5 7.2-5.4 7.2-5.5 7.2-5.7 7.2-5.6 7.2-5.7 7.2-5.7 7.2-5.6 7.3-5.7 7.2-5 7.2-5 7.2-5 7.2-5 7.2-5 7.2-5 7.2-4.2 7.3-4.1 7.2-4.2 7.2-4.2 7.2-4.1 7.2-4.2M289.3 492.8l7.2 1.4 7.2 0.1 7.2-1 7.3-18.7 7.2-4.5 7.2-3.2 7.2-4.3 7.2-5.8 7.2-5.7 7.2-5.6 7.2 2.3 7.2 4.6 7.3 16 7.2 5.5 7.2-2.6 7.2-4.8 7.2-4.8 7.2-4.9 7.2-5.6 7.2-5.7 7.2-5.7 7.3-5.6 7.2-5.7 7.2-5.7 7.2-5.7 7.2-5.6 7.2-5.7 7.2-5.7 7.2-5.6 7.3-5.7 7.2-6.5 7.2-6.5 7.2-6.5 7.2-6.5 7.2-6.5 7.2-6.5 7.2-6.5 7.2-6.5 7.3-6.5 7.2-6.5 7.2-6.5 7.2-6.5 7.2-7.3 7.2-7.4 7.2-7.3 7.2-7.3 7.2-7.4 7.3-7.3 7.2-7.3 7.2-6.9 7.2-6.8 7.2-6.8 7.2-6.3 7.2-4.2 7.2-4.3 7.3-4.3 7.2-4.9 7.2-5.4 7.2-5.4 7.2-5.4M289.3 533.8l7.2-3.9 7.2-3.9 7.2-4 7.3-3.9 7.2-3.9 7.2-4 7.2-3.9 7.2-3.9 7.2-3.9 7.2-4 7.2-3.9 7.2-3.9 7.3-4 7.2-3.9 7.2-4.4 7.2-4.8 7.2-4.8 7.2-4.7 7.2-4.8 7.2-4.8 7.2-4.8 7.3-4.7 7.2-4.8 7.2-4.8 7.2-4.7 7.2-4.8 7.2-4.8 7.2-4.7 7.2-4.8 7.3-4.8 7.2-5 7.2-4.9 7.2-5 7.2-5 7.2-4.9 7.2-5 7.2-5 7.2-4.9 7.3-5 7.2-5 7.2-4.9 7.2-5 7.2-5 7.2-4.9 7.2-5 7.2-5 7.2-4.9 7.3-5 7.2-5 7.2-4.9 7.2-5 7.2-5 7.2-4.9 7.2-5 7.2-5 7.3-4.9 7.2-5 7.2-5 7.2-4.9 7.2-5M289.3 564.8l7.2-4.8 7.2-4.7 7.2-4.8 7.3-4.8 7.2-4.8 7.2-4.8 7.2-4.8 7.2-4.7 7.2-4.8 7.2-4.8 7.2-4.8 7.2-4.8 7.3-4.8 7.2-4.7 7.2-4.8 7.2-4.8 7.2-4.8 7.2-4.8 7.2-4.8 7.2-4.7 7.2-4.8 7.3-4.8 7.2-4.8 7.2-4.8 7.2-4.8 7.2-4.8 7.2-4.7 7.2-4.8 7.2-4.8 7.3-4.8 7.2-4.8 7.2-4.8 7.2-4.7 7.2-4.8 7.2-4.8 7.2-4.8 7.2-4.8 7.2-4.8 7.3-4.7 7.2-4.8 7.2-4.8 7.2-4.8 7.2-4.8 7.2-4.8 7.2-4.7 7.2-4.8 7.2-4.8 7.3-4.8 7.2-4.8 7.2-4.8 7.2-4.7 7.2-4.8 7.2-4.8 7.2-4.8 7.2-4.8 7.3-4.8 7.2-4.8 7.2-4.7 7.2-4.8 7.2-4.8M289.3 582.8l7.2-4.9 7.2-4.8 7.2-4.9 7.3-4.9 7.2-4.9 7.2-4.9 7.2-4.9 7.2-4.8 7.2-4.9 7.2-4.9 7.2-4.9 7.2-4.9 7.3-4.9 7.2-4.8 7.2-4.9 7.2-4.9 7.2-4.9 7.2-4.9 7.2-4.9 7.2-4.8 7.2-4.9 7.3-4.9 7.2-4.9 7.2-4.9 7.2-4.9 7.2-4.9 7.2-4.8 7.2-4.9 7.2-4.9 7.3-4.9 7.2-4.9 7.2-4.9 7.2-4.8 7.2-4.9 7.2-4.9 7.2-4.9 7.2-4.9 7.2-4.9 7.3-4.8 7.2-4.9 7.2-4.9 7.2-4.9 7.2-4.9 7.2-4.9 7.2-4.8 7.2-4.9 7.2-4.9 7.3-4.9 7.2-4.9 7.2-4.9 7.2-4.8 7.2-4.9 7.2-4.9 7.2-4.9 7.2-4.9 7.3-4.9 7.2-4.9 7.2-4.8 7.2-4.9 7.2-4.9M289.3 584.2l7.2-4.9 7.2-4.9 7.2-3.8 7.3-2.6 7.2-2.6 7.2-5.3 7.2-5.3 7.2-5.2 7.2-5.1 7.2-5.2 7.2-3.8 7.2-3.8 7.3-4.1 7.2-4.5 7.2-4.4 7.2-4.7 7.2-4.6 7.2-4.4 7.2-4.3 7.2-4.3 7.2-3.3 7.3-3.3 7.2-4.7 7.2-6 7.2-6.1 7.2-4.4 7.2-4.4 7.2-3.9 7.2-3.3 7.3-3.4 7.2-4.9 7.2-4.8 7.2-4.7 7.2-4.4 7.2-4.4 7.2-4.3 7.2-4.2 7.2-4.2 7.3-4.1 7.2-4.2 7.2-5.9 7.2-5.9 7.2-4.6 7.2-3.3 7.2-3.3 7.2-3.6 7.2-3.7 7.3-4.5 7.2-5.6 7.2-5.5 7.2-4.1 7.2-4.2 7.2-4.3 7.2-4.3 7.2-4.4 7.3-4.4 7.2-4.5 7.2-4.8 7.2-5.1 7.2-5.1M289.3 608.4l7.2-1.5 7.2-1.6 7.2-2.8 7.3-3.9 7.2-4 7.2-4.2 7.2-4.2 7.2-3.6 7.2-2.9 7.2-3 7.2-3.4 7.2-3.4 7.3-3.6 7.2-3.7 7.2-3.6 7.2-3.4 7.2-3.4 7.2-2.8 7.2-2 7.2-2 7.2-5 7.3-4.9 7.2-4.4 7.2-3.6 7.2-3.7 7.2-2.4 7.2-2.5 7.2-3.1 7.2-3.7 7.3-3.7 7.2-3.5 7.2-3.5 7.2-3.3 7.2-3.2 7.2-3.2 7.2-3 7.2-2.9 7.2-4 7.3-5.1 7.2-5.1 7.2-2.5 7.2-2.6 7.2-2.5 7.2-2.5 7.2-2.4 7.2-4.4 7.2-4.3 7.3-3.8 7.2-3.3 7.2-3.3 7.2-3.3 7.2-3.3 7.2-3.4 7.2-3.5 7.2-3.4 7.3-4.4 7.2-4.3 7.2-3.1 7.2-1.9 7.2-1.9M289.3 645.6l7.2-2.4 7.2-2.4 7.2-2.7 7.3-2.9 7.2-2.9 7.2-1.9 7.2-1.8 7.2-1.9 7.2-2.1 7.2-2.1 7.2-2.5 7.2-2.5 7.3-2.4 7.2-2.3 7.2-2.3 7.2-0.6 7.2-0.5 7.2-2 7.2-3.5 7.2-3.5 7.2-2.6 7.3-2.7 7.2-1.9 7.2-1.3 7.2-1.3 7.2-2.4 7.2-2.3 7.2-2.3 7.2-2.3 7.3-2.3 7.2-1.9 7.2-1.9 7.2-1.7 7.2-1.5 7.2-1.4 7.2-3.9 7.2-3.9 7.2-2.7 7.3-1.6 7.2-1.6 7.2-1.1 7.2-1.2 7.2-2.8 7.2-4.7 7.2-4.7 7.2-4.8 7.2-4.8 7.3-4.7 7.2-4.7 7.2-4.7 7.2-4.8 7.2-4.8 7.2-5.4 7.2-6 7.2-6 7.3-3.4 7.2-3.4 7.2-3.9 7.2-4.5 7.2-4.5M289.3 694l7.2-0.9 7.2-1 7.2-0.5 7.3-0.1 7.2 0 7.2-0.2 7.2-0.1 7.2-0.4 7.2-0.7 7.2-0.7 7.2-0.6 7.2-0.7 7.3 0.5 7.2 1.4 7.2 1.5 7.2-5.2 7.2-5.2 7.2-5.4 7.2-5.4 7.2-5.5 7.2-4.1 7.3-4.2 7.2-4.5 7.2-5 7.2-4.9 7.2-5 7.2-5 7.2-4.8 7.2-4.7 7.3-4.6 7.2-3.9 7.2-3.9 7.2-5.2 7.2-6.6 7.2-6.5 7.2-4.6 7.2-4.6 7.2-4.2 7.3-3.8 7.2-3.8 7.2-5.4 7.2-5.3 7.2-5.1 7.2-4.9 7.2-4.8 7.2-4.7 7.2-4.6 7.3-4.7 7.2-4.7 7.2-4.6 7.2-6.3 7.2-6.2 7.2-4.9 7.2-3.5 7.2-3.6 7.3-4.2 7.2-4.2 7.2-5.2 7.2-6 7.2-6M289.3 722.5l7.2 1 7.2 1 7.2 1.1 7.3 1.1 7.2 1.1 7.2 0.4 7.2 0.4 7.2-2.4 7.2-5.4 7.2-5.4 7.2-3.2 7.2-3.2 7.3-4.3 7.2-5.4 7.2-5.4 7.2-5.6 7.2-5.5 7.2-4.9 7.2-4.3 7.2-4.3 7.2-4.9 7.3-4.9 7.2-5 7.2-5 7.2-5.1 7.2-4.7 7.2-4.8 7.2-4.3 7.2-3.9 7.3-3.9 7.2-6.2 7.2-6.2 7.2-5.4 7.2-5 7.2-4.9 7.2-3.8 7.2-3.9 7.2-4.5 7.3-5.2 7.2-5.2 7.2-4.9 7.2-4.8 7.2-4.8 7.2-4.6 7.2-4.6 7.2-4.6 7.2-4.5 7.3-5.4 7.2-6.4 7.2-5.8 7.2-4.4 7.2-3.8 7.2-3.9 7.2-4 7.2-4.1 7.3-5.8 7.2-5.8 7.2-5.3 7.2-4.6 7.2-4.7M289.3 763.9l7.2-4.1 7.2-4.1 7.2-4.2 7.3-4.3 7.2-4.2 7.2-5.7 7.2-5.6 7.2-4.9 7.2-4 7.2-4.1 7.2-5.5 7.2-4.2 7.3-4.3 7.2-5.4 7.2-5.4 7.2-5.6 7.2-3.8 7.2-4.6 7.2-5.7 7.2-4.9 7.2-4.9 7.3-4.6 7.2-4.4 7.2-4.5 7.2-4.5 7.2-6.5 7.2-5 7.2-4.3 7.2-3.9 7.3-3.9 7.2-6.2 7.2-5.5 7.2-5.2 7.2-4.9 7.2-4.9 7.2-3.5 7.2-3.4 7.2-5.3 7.3-6.2 7.2-5.2 7.2-4.9 7.2-4.8 7.2-4.3 7.2-5.1 7.2-4.6 7.2-4.6 7.2-4.5 7.3-5.4 7.2-4 7.2-2.7 7.2-6.9 7.2-6.8 7.2-3.9 7.2-4 7.2-4.1 7.3-5.8 7.2-5.3 7.2-5.4 7.2-5 7.2-4.7M289.3 596.4l7.2-3.2 7.2-3.2 7.2-3.1 7.3-3 7.2-3 7.2-5.7 7.2-5.7 7.2-4.6 7.2-3.4 7.2-3.4 7.2-3.5 7.2-3.6 7.3-3.8 7.2-4 7.2-4.1 7.2-4.1 7.2-4.1 7.2-3.6 7.2-3.2 7.2-3.2 7.2-4.1 7.3-4.1 7.2-4.7 7.2-5.5 7.2-5.5 7.2-2.4 7.2-2.5 7.2-3.1 7.2-3.8 7.3-3.8 7.2-4.4 7.2-4.4 7.2-4.1 7.2-3.8 7.2-3.9 7.2-3.6 7.2-3.6 7.2-4.1 7.3-4.4 7.2-4.5 7.2-4.5 7.2-4.5 7.2-3.2 7.2-2.1 7.2-2 7.2-4.8 7.2-4.8 7.3-4.6 7.2-4.5 7.2-4.5 7.2-3.5 7.2-3.4 7.2-3.7 7.2-4 7.2-3.9 7.3-4.2 7.2-4.3 7.2-3.9 7.2-3.7 7.2-3.8M289.3 627.7l7.2-1.6 7.2-1.5 7.2-3.1 7.3-4.4 7.2-4.4 7.2-2.5 7.2-2.5 7.2-2.5 7.2-2.4 7.2-2.4 7.2-2.9 7.2-2.8 7.3-3 7.2-3 7.2-3.1 7.2-1.9 7.2-2 7.2-2.3 7.2-2.7 7.2-2.7 7.2-4.5 7.3-4.5 7.2-3 7.2-1.5 7.2-1.5 7.2-2.5 7.2-2.6 7.2-2.8 7.2-3.1 7.3-3.2 7.2-2.7 7.2-2.8 7.2-2.5 7.2-2.4 7.2-2.4 7.2-3.3 7.2-3.3 7.2-3.4 7.3-3.6 7.2-3.7 7.2-0.9 7.2-0.9 7.2-2.1 7.2-3.3 7.2-3.3 7.2-3.4 7.2-3.4 7.3-2.9 7.2-2.4 7.2-2.4 7.2-2.8 7.2-2.7 7.2-2.9 7.2-3.2 7.2-3.2 7.3-2.7 7.2-2.7 7.2-2 7.2-1.3 7.2-1.2M289.3 671.7l7.2-2.7 7.2-2.6 7.2-1.9 7.3-1.1 7.2-1.1 7.2-1 7.2-0.9 7.2-1.1 7.2-1.2 7.2-1.2 7.2-1.6 7.2-1.6 7.3-1 7.2-0.4 7.2-0.3 7.2-0.8 7.2-0.8 7.2-1.9 7.2-3 7.2-3.1 7.2-0.2 7.3-0.2 7.2-0.9 7.2-1.6 7.2-1.6 7.2-5.1 7.2-5.1 7.2-5 7.2-4.9 7.3-4.9 7.2-4.2 7.2-4.3 7.2-4.8 7.2-5.3 7.2-5.3 7.2-6 7.2-6 7.2-4.5 7.3-3.1 7.2-3 7.2-5.1 7.2-5.1 7.2-5.3 7.2-5.4 7.2-5.4 7.2-4.6 7.2-4.7 7.3-4.6 7.2-4.7 7.2-4.7 7.2-5.4 7.2-5.3 7.2-5.2 7.2-4.9 7.2-5 7.3-3.1 7.2-3.2 7.2-4.7 7.2-6.1 7.2-6.1M289.3 707.5l7.2 0.2 7.2 0.3 7.2 0.3 7.3 0.5 7.2 0.6 7.2 0.3 7.2 0.3 7.2 0.1 7.2-0.3 7.2-0.3 7.2-3.3 7.2-3.3 7.3-3.7 7.2-4.1 7.2-4.2 7.2-6.6 7.2-6.7 7.2-5.4 7.2-4.2 7.2-4.1 7.2-4.5 7.3-4.5 7.2-4.7 7.2-5.1 7.2-5 7.2-4.9 7.2-5 7.2-4.6 7.2-4.1 7.3-4.2 7.2-5.2 7.2-5.1 7.2-5.7 7.2-6.2 7.2-6.3 7.2-3.2 7.2-3.2 7.2-4.1 7.3-4.8 7.2-4.9 7.2-5.3 7.2-5.4 7.2-5 7.2-4.7 7.2-4.7 7.2-4.6 7.2-4.6 7.3-5.1 7.2-5.4 7.2-5.4 7.2-5.2 7.2-5.2 7.2-4.1 7.2-3 7.2-3 7.3-5.9 7.2-5.9 7.2-5.6 7.2-5.3 7.2-5.4M289.3 743.5l7.2 1.8 7.2 1.8 7.2-0.7 7.3-3.2 7.2-3.2 7.2-5.6 7.2-5.6 7.2-4.9 7.2-4.1 7.2-4.1 7.2-4.1 7.2-4.1 7.3-5.2 7.2-6.3 7.2-6.3 7.2-4.4 7.2-4.4 7.2-4.5 7.2-4.5 7.2-4.5 7.2-4.9 7.3-5 7.2-5 7.2-5.1 7.2-5 7.2-4.1 7.2-4 7.2-4.5 7.2-4.9 7.3-5 7.2-6.4 7.2-6.5 7.2-4.9 7.2-3.5 7.2-3.4 7.2-4.7 7.2-4.7 7.2-5 7.3-5.2 7.2-5.3 7.2-4.7 7.2-4.8 7.2-4.7 7.2-4.5 7.2-4.4 7.2-5.5 7.2-5.4 7.3-5.5 7.2-5.5 7.2-5.5 7.2-3.1 7.2-3.1 7.2-4.3 7.2-5.4 7.2-5.4 7.3-5.4 7.2-5.4 7.2-4.9 7.2-4.5 7.2-4.5M289.3 423.8l7.2 0.8 7.2-1.5 7.2-10.4 7.3-7.4 7.2-2.7 7.2-2.8 7.2-3.1 7.2-3.2 7.2-3.2 7.2 2.5 7.2 2.5 7.2 2.5 7.3-3.1 7.2-3.2 7.2-3.2 7.2-3.1 7.2-3.2 7.2-3.2 7.2-5.1 7.2-5.2 7.2-5.2 7.3-5.1 7.2-5.2 7.2-5.2 7.2-11.5 7.2-11.5 7.2-11.5 7.2-11.5 7.2-11.5 7.3-11.5 7.2-8.2 7.2-8.1 7.2-8.2 7.2-8.2 7.2-8.1 7.2-8.2 7.2-4 7.2-4 7.3-4 7.2-4 7.2-4 7.2-4 7.2-4 7.2-4 7.2-4 7.2-4 7.2-4 7.3-4 7.2-4 7.2-4 7.2-4 7.2-4 7.2-4 7.2-4 7.2-4 7.3-4 7.2-4 7.2-4 7.2-4 7.2-4M289.3 453.8l7.2-8.1 7.2-8.2 7.2-2.2 7.3 1.9 7.2 0.1 7.2-6.5 7.2-6.5 7.2-6.5 7.2-2.5 7.2 0.2 7.2 0.2 7.2 0.1 7.3-1.5 7.2-1.5 7.2-1.5 7.2-1.5 7.2-1.5 7.2-1.5M462.4 231.8l7.2 8 7.2 7.9 7.2 7.9 7.2 7.9 7.2 7.6 7.3 7.7 7.2 7.7 7.2 7.6M462.4 307.8l7.2-15.9 7.2-16 7.2-15.9 7.2-15.5 7.2-14.9 7.3-14.8 7.2-14.8M484 223.3l7.2 5.2 7.2 5.1 7.3 5.2 7.2 3.5 7.2 3.5 7.2 3.5 7.2 1.8 7.2-0.6 7.2-0.7M491.2 282.9l7.2-18.7 7.3-18.7 7.2-18.7 7.2-16.3 7.2-15.7M448 244.8l7.2 3.5 7.2 3.5 7.2 3.5 7.2-3.8 7.2-5.7 7.2-5.7 7.2-5.6 7.3-5.7 7.2-3.7 7.2-3.7 7.2-3.8 7.2-7.5 7.2-13.1 7.2-13.2 7.2-13.2" fill="none" stroke="#000" stroke-width="0.8" stroke-linejoin="round"/>
<path d="M289.3 341.8L289.3 763.9" stroke="#000" stroke-width="2.4" fill="none"/>
<path d="M722 52.8L722 475.7" stroke="#000" stroke-width="1.6" fill="none"/>
<polygon points="289.3,567.8 391.6,614.3 824.3,321.3 722,280.8" fill="#000"/>
<defs><linearGradient id="g1" gradientUnits="userSpaceOnUse" x1="391.6" y1="0" x2="824.3" y2="0"><stop offset="0.000" stop-color="#f9fb0e"/><stop offset="0.450" stop-color="#f9fb0e"/><stop offset="0.500" stop-color="#fecd14"/><stop offset="0.600" stop-color="#fdbe2a"/><stop offset="1.000" stop-color="#fdb932"/></linearGradient><linearGradient id="g2" gradientUnits="userSpaceOnUse" x1="391.6" y1="0" x2="824.3" y2="0"><stop offset="0.000" stop-color="#fecd14"/><stop offset="0.450" stop-color="#fecd14"/><stop offset="0.600" stop-color="#fdbc2e"/><stop offset="1.000" stop-color="#fdb932"/></linearGradient><linearGradient id="g3" gradientUnits="userSpaceOnUse" x1="391.6" y1="0" x2="824.3" y2="0"><stop offset="0.000" stop-color="#07c28a"/><stop offset="0.600" stop-color="#07c28a"/><stop offset="0.750" stop-color="#1bc382"/><stop offset="1.000" stop-color="#1bc382"/></linearGradient><linearGradient id="g4" gradientUnits="userSpaceOnUse" x1="391.6" y1="0" x2="824.3" y2="0"><stop offset="0.000" stop-color="#03bc9d"/><stop offset="0.600" stop-color="#03bc9d"/><stop offset="0.800" stop-color="#0a7a66"/><stop offset="1.000" stop-color="#0a7a66"/></linearGradient></defs>
<path d="M391.6 385.3l7.2-4.3 7.2-4.3 7.2-4.3 7.3-4.3 7.2-4.3 7.2-4.3 7.2-4.3 7.2-4.3 7.2-4.3 7.2-4.3 7.2-4.3 7.2-4.3 7.3-4.3 7.2-4.3 7.2-4.3 7.2-6.2 7.2-6.2 7.2-6.2 7.2-6.2 7.2-6.2 7.2-6.2 7.3-6.5 7.2-6.9 7.2-6.9 7.2-2.8 7.2-2.9 7.2-2.8 7.2 2.5 7.2 2.5 7.3 2.5 7.2 3 7.2 2.9 7.2 2.2 7.2 0.3 7.2 0.4 7.2-2.2 7.2-3.8 7.2-3.9 7.3-4.1 7.2-4.2 7.2-4.3 7.2-4.3 7.2-4.8 7.2-4.9 7.2-4.8 7.2-4.8 7.2-4.9 7.3-4.8 7.2-4.3 7.2-4.2 7.2-4.3 7.2-4.2 7.2-4.3 7.2-4.2 7.2-4.3 7.3-4.2 7.2-4.3 7.2-4.2 7.2-4.3 7.2-4.2 0 0 -7.2 4.4 -7.2 4.4 -7.2 4.4 -7.2 4.5 -7.3 4.4 -7.2 4.4 -7.2 4.4 -7.2 4.4 -7.2 4.4 -7.2 4.5 -7.2 4.4 -7.2 4.4 -7.3 4.4 -7.2 4.4 -7.2 4.5 -7.2 4.4 -7.2 4.5 -7.2 4.8 -7.2 4.3 -7.2 4.3 -7.2 4.2 -7.3 4.9 -7.2 5.6 -7.2 5.7 -7.2 1.5 -7.2 1.5 -7.2 1.5 -7.2-0.2 -7.2-0.1 -7.2-0.2 -7.3 3.2 -7.2 3.1 -7.2 3.2 -7.2 2.8 -7.2 2.9 -7.2 2.8 -7.2 6.2 -7.2 6.1 -7.3 6.2 -7.2 6.2 -7.2 6.1 -7.2 6.2 -7.2 5.5 -7.2 5.5 -7.2 5.5 -7.2 5.5 -7.2 5.5 -7.3 5.5 -7.2 4.4 -7.2 4.5 -7.2 4.4 -7.2 4.4 -7.2 4.4 -7.2 4.4 -7.2 4.4 -7.2 4.5 -7.3 4.4 -7.2 4.4 -7.2 4.4 -7.2 4.4z" fill="url(#g1)"/>
<path d="M391.6 418.3l7.2-4.4 7.2-4.4 7.2-4.4 7.3-4.4 7.2-4.5 7.2-4.4 7.2-4.4 7.2-4.4 7.2-4.4 7.2-4.4 7.2-4.5 7.2-4.4 7.3-5.5 7.2-5.5 7.2-5.5 7.2-5.5 7.2-5.5 7.2-5.5 7.2-6.2 7.2-6.1 7.2-6.2 7.3-6.2 7.2-6.1 7.2-6.2 7.2-2.8 7.2-2.9 7.2-2.8 7.2-3.2 7.2-3.1 7.3-3.2 7.2 0.2 7.2 0.1 7.2 0.2 7.2-1.5 7.2-1.5 7.2-1.5 7.2-5.7 7.2-5.6 7.3-4.9 7.2-4.2 7.2-4.3 7.2-4.3 7.2-4.8 7.2-4.5 7.2-4.4 7.2-4.5 7.2-4.4 7.3-4.4 7.2-4.4 7.2-4.4 7.2-4.5 7.2-4.4 7.2-4.4 7.2-4.4 7.2-4.4 7.3-4.4 7.2-4.5 7.2-4.4 7.2-4.4 7.2-4.4 0 42 -7.2 4.9 -7.2 5 -7.2 4.9 -7.2 5 -7.3 4.9 -7.2 5 -7.2 4.9 -7.2 5 -7.2 4.9 -7.2 5.5 -7.2 5.5 -7.2 5.5 -7.3 5.5 -7.2 5.5 -7.2 5.5 -7.2 5.8 -7.2 5.7 -7.2 5.8 -7.2 5.7 -7.2 8.9 -7.2 10.3 -7.3 10.3 -7.2 13.3 -7.2 18.3 -7.2 12.1 -7.2 6.4 -7.2 6.4 -7.2 6.5 -7.2 6.5 -7.2 6.5 -7.3-6.3 -7.2-5.8 -7.2-3.8 -7.2-3.8 -7.2-1.9 -7.2 5.7 -7.2 5.8 -7.2 5.8 -7.3 5 -7.2 5.1 -7.2 5 -7.2 5.1 -7.2 4.4 -7.2 2.6 -7.2 2.7 -7.2 18.5 -7.2 19.4 -7.3 8.5 -7.2-0.7 -7.2 0.6 -7.2 5.6 -7.2 5.7 -7.2 5.7 -7.2 5.7 -7.2 5.7 -7.2 5.6 -7.3 6 -7.2 8.3 -7.2 2.4 -7.2-0.6z" fill="url(#g2)"/>
<path d="M391.6 534.3l7.2 0.6 7.2-2.4 7.2-8.3 7.3-6 7.2-5.6 7.2-5.7 7.2-5.7 7.2-5.7 7.2-5.7 7.2-5.6 7.2-0.6 7.2 0.7 7.3-8.5 7.2-19.4 7.2-18.5 7.2-2.7 7.2-2.6 7.2-4.4 7.2-5.1 7.2-5 7.2-5.1 7.3-5 7.2-5.8 7.2-5.8 7.2-5.7 7.2 1.9 7.2 3.8 7.2 3.8 7.2 5.8 7.3 6.3 7.2-6.5 7.2-6.5 7.2-6.5 7.2-6.4 7.2-6.4 7.2-12.1 7.2-18.3 7.2-13.3 7.3-10.3 7.2-10.3 7.2-8.9 7.2-5.7 7.2-5.8 7.2-5.7 7.2-5.8 7.2-5.5 7.2-5.5 7.3-5.5 7.2-5.5 7.2-5.5 7.2-5.5 7.2-4.9 7.2-5 7.2-4.9 7.2-5 7.3-4.9 7.2-5 7.2-4.9 7.2-5 7.2-4.9 0 30 -7.2 4.9 -7.2 4.9 -7.2 4.9 -7.2 5 -7.3 4.9 -7.2 4.9 -7.2 4.9 -7.2 4.9 -7.2 4.9 -7.2 5 -7.2 4.9 -7.2 4.9 -7.3 5.2 -7.2 5.1 -7.2 5.2 -7.2 5.2 -7.2 5.1 -7.2 5.2 -7.2 8.2 -7.2 8.1 -7.2 8.2 -7.3 10.2 -7.2 10.1 -7.2 10.2 -7.2 5.5 -7.2 5.5 -7.2 5.5 -7.2 4.8 -7.2 4.9 -7.2 4.8 -7.3-6.3 -7.2-5.8 -7.2-3.8 -7.2-3.8 -7.2-1.9 -7.2 5.7 -7.2 5.8 -7.2 5.8 -7.3 5 -7.2 5.1 -7.2 5 -7.2 5.1 -7.2 4.4 -7.2 2.6 -7.2 2.7 -7.2 18.5 -7.2 19.4 -7.3 8.5 -7.2-0.7 -7.2 0.6 -7.2 5.6 -7.2 5.7 -7.2 5.7 -7.2 5.7 -7.2 5.7 -7.2 5.6 -7.3 6 -7.2 8.3 -7.2 2.4 -7.2-0.6z" fill="#d4c548"/>
<path d="M391.6 534.3l7.2 0.6 7.2-2.4 7.2-8.3 7.3-6 7.2-5.6 7.2-5.7 7.2-5.7 7.2-5.7 7.2-5.7 7.2-5.6 7.2-0.6 7.2 0.7 7.3-8.5 7.2-19.4 7.2-18.5 7.2-2.7 7.2-2.6 7.2-4.4 7.2-5.1 7.2-5 7.2-5.1 7.3-5 7.2-5.8 7.2-5.8 7.2-5.7 7.2 1.9 7.2 3.8 7.2 3.8 7.2 5.8 7.3 6.3 7.2-4.8 7.2-4.9 7.2-4.8 7.2-5.5 7.2-5.5 7.2-5.5 7.2-10.2 7.2-10.1 7.3-10.2 7.2-8.2 7.2-8.1 7.2-8.2 7.2-5.2 7.2-5.1 7.2-5.2 7.2-5.2 7.2-5.1 7.3-5.2 7.2-4.9 7.2-4.9 7.2-5 7.2-4.9 7.2-4.9 7.2-4.9 7.2-4.9 7.3-4.9 7.2-5 7.2-4.9 7.2-4.9 7.2-4.9 0 36 -7.2 4.8 -7.2 4.9 -7.2 4.8 -7.2 4.8 -7.3 4.9 -7.2 4.8 -7.2 4.8 -7.2 4.9 -7.2 4.8 -7.2 4.8 -7.2 4.9 -7.2 4.8 -7.3 5.2 -7.2 5.3 -7.2 5.2 -7.2 5.3 -7.2 5.2 -7.2 5.3 -7.2 5.2 -7.2 5.6 -7.2 5.7 -7.3 5.8 -7.2 7.9 -7.2 11.3 -7.2 11.2 -7.2 9 -7.2 3.1 -7.2 3 -7.2 1.5 -7.2-0.4 -7.3-0.5 -7.2 0.1 -7.2 0.6 -7.2 0.6 -7.2 2.3 -7.2 2.7 -7.2 2.7 -7.2 2.8 -7.3 4.4 -7.2 4.4 -7.2 4.4 -7.2 4.4 -7.2 4.6 -7.2 5.1 -7.2 5 -7.2 5.1 -7.2 5 -7.3 5 -7.2 5.1 -7.2 5 -7.2 5.1 -7.2 5 -7.2 5.2 -7.2 5.2 -7.2 5.2 -7.2 5.3 -7.3 5.2 -7.2 5.2 -7.2 5.2 -7.2 5.2z" fill="#7dc869"/>
<path d="M391.6 551.3l7.2-5.2 7.2-5.2 7.2-5.2 7.3-5.2 7.2-5.3 7.2-5.2 7.2-5.2 7.2-5.2 7.2-5 7.2-5.1 7.2-5 7.2-5.1 7.3-5 7.2-5 7.2-5.1 7.2-5 7.2-5.1 7.2-4.6 7.2-4.4 7.2-4.4 7.2-4.4 7.3-4.4 7.2-2.8 7.2-2.7 7.2-2.7 7.2-2.3 7.2-0.6 7.2-0.6 7.2-0.1 7.3 0.5 7.2 0.4 7.2-1.5 7.2-3 7.2-3.1 7.2-9 7.2-11.2 7.2-11.3 7.2-7.9 7.3-5.8 7.2-5.7 7.2-5.6 7.2-5.2 7.2-5.3 7.2-5.2 7.2-5.3 7.2-5.2 7.2-5.3 7.3-5.2 7.2-4.8 7.2-4.9 7.2-4.8 7.2-4.8 7.2-4.9 7.2-4.8 7.2-4.8 7.3-4.9 7.2-4.8 7.2-4.8 7.2-4.9 7.2-4.8 0 14 -7.2 4.9 -7.2 4.9 -7.2 4.9 -7.2 5 -7.3 4.9 -7.2 4.9 -7.2 4.9 -7.2 4.9 -7.2 4.9 -7.2 5 -7.2 4.9 -7.2 4.9 -7.3 5.5 -7.2 5.5 -7.2 5.5 -7.2 5.5 -7.2 5.5 -7.2 5.5 -7.2 6.5 -7.2 6.5 -7.2 6.5 -7.3 6.5 -7.2 6.5 -7.2 6.5 -7.2 4.4 -7.2 4.4 -7.2 4.5 -7.2 4.4 -7.2 3.9 -7.2 2.1 -7.3 2 -7.2 2.1 -7.2 2 -7.2 2.1 -7.2 2.1 -7.2 2 -7.2 4.8 -7.2 4.7 -7.3 4.8 -7.2 4.7 -7.2 4.8 -7.2 4.7 -7.2 4.8 -7.2 4.7 -7.2 4.8 -7.2 4.7 -7.2 4.8 -7.3 4.7 -7.2 4.8 -7.2 4.7 -7.2 4.8 -7.2 4.7 -7.2 4.8 -7.2 4.7 -7.2 4.8 -7.2 4.7 -7.3 4.8 -7.2 4.7 -7.2 4.8 -7.2 4.7z" fill="url(#g3)"/>
<path d="M391.6 567.3l7.2-4.7 7.2-4.8 7.2-4.7 7.3-4.8 7.2-4.7 7.2-4.8 7.2-4.7 7.2-4.8 7.2-4.7 7.2-4.8 7.2-4.7 7.2-4.8 7.3-4.7 7.2-4.8 7.2-4.7 7.2-4.8 7.2-4.7 7.2-4.8 7.2-4.7 7.2-4.8 7.2-4.7 7.3-4.8 7.2-4.7 7.2-4.8 7.2-2 7.2-2.1 7.2-2.1 7.2-2 7.2-2.1 7.3-2 7.2-2.1 7.2-3.9 7.2-4.4 7.2-4.5 7.2-4.4 7.2-4.4 7.2-6.5 7.2-6.5 7.3-6.5 7.2-6.5 7.2-6.5 7.2-6.5 7.2-5.5 7.2-5.5 7.2-5.5 7.2-5.5 7.2-5.5 7.3-5.5 7.2-4.9 7.2-4.9 7.2-5 7.2-4.9 7.2-4.9 7.2-4.9 7.2-4.9 7.3-4.9 7.2-5 7.2-4.9 7.2-4.9 7.2-4.9 0 25 -7.2 4.8 -7.2 4.8 -7.2 4.7 -7.2 4.8 -7.3 4.8 -7.2 4.8 -7.2 4.8 -7.2 4.8 -7.2 4.7 -7.2 4.8 -7.2 4.8 -7.2 4.8 -7.3 4.8 -7.2 4.8 -7.2 4.8 -7.2 4.7 -7.2 4.8 -7.2 4.8 -7.2 4.8 -7.2 4.8 -7.2 4.8 -7.3 4.7 -7.2 4.8 -7.2 4.8 -7.2 4.8 -7.2 4.8 -7.2 4.8 -7.2 4.7 -7.2 4.8 -7.2 4.8 -7.3 4.8 -7.2 4.8 -7.2 4.8 -7.2 4.7 -7.2 4.8 -7.2 4.8 -7.2 4.8 -7.2 4.8 -7.3 4.8 -7.2 4.7 -7.2 4.8 -7.2 4.8 -7.2 4.8 -7.2 4.8 -7.2 4.8 -7.2 4.8 -7.2 4.7 -7.3 4.8 -7.2 4.8 -7.2 4.8 -7.2 4.8 -7.2 4.8 -7.2 4.7 -7.2 4.8 -7.2 4.8 -7.2 4.8 -7.3 4.8 -7.2 4.8 -7.2 4.7 -7.2 4.8z" fill="url(#g4)"/>
<path d="M391.6 598.3l7.2-4.8 7.2-4.7 7.2-4.8 7.3-4.8 7.2-4.8 7.2-4.8 7.2-4.8 7.2-4.7 7.2-4.8 7.2-4.8 7.2-4.8 7.2-4.8 7.3-4.8 7.2-4.7 7.2-4.8 7.2-4.8 7.2-4.8 7.2-4.8 7.2-4.8 7.2-4.8 7.2-4.7 7.3-4.8 7.2-4.8 7.2-4.8 7.2-4.8 7.2-4.8 7.2-4.7 7.2-4.8 7.2-4.8 7.3-4.8 7.2-4.8 7.2-4.8 7.2-4.7 7.2-4.8 7.2-4.8 7.2-4.8 7.2-4.8 7.2-4.8 7.3-4.7 7.2-4.8 7.2-4.8 7.2-4.8 7.2-4.8 7.2-4.8 7.2-4.7 7.2-4.8 7.2-4.8 7.3-4.8 7.2-4.8 7.2-4.8 7.2-4.8 7.2-4.7 7.2-4.8 7.2-4.8 7.2-4.8 7.3-4.8 7.2-4.8 7.2-4.7 7.2-4.8 7.2-4.8 0 12 -7.2 4.9 -7.2 4.9 -7.2 4.8 -7.2 4.9 -7.3 4.9 -7.2 4.9 -7.2 4.9 -7.2 4.9 -7.2 4.8 -7.2 4.9 -7.2 4.9 -7.2 4.9 -7.3 4.9 -7.2 4.9 -7.2 4.9 -7.2 4.8 -7.2 4.9 -7.2 4.9 -7.2 4.9 -7.2 4.9 -7.2 4.9 -7.3 4.8 -7.2 4.9 -7.2 4.9 -7.2 4.9 -7.2 4.9 -7.2 4.9 -7.2 4.8 -7.2 4.9 -7.2 4.9 -7.3 4.9 -7.2 4.9 -7.2 4.9 -7.2 4.8 -7.2 4.9 -7.2 4.9 -7.2 4.9 -7.2 4.9 -7.3 4.9 -7.2 4.8 -7.2 4.9 -7.2 4.9 -7.2 4.9 -7.2 4.9 -7.2 4.9 -7.2 4.9 -7.2 4.8 -7.3 4.9 -7.2 4.9 -7.2 4.9 -7.2 4.9 -7.2 4.9 -7.2 4.8 -7.2 4.9 -7.2 4.9 -7.2 4.9 -7.3 4.9 -7.2 4.9 -7.2 4.8 -7.2 4.9z" fill="#000"/>
<path d="M391.6 616.3l7.2-4.9 7.2-4.8 7.2-4.9 7.3-4.9 7.2-4.9 7.2-4.9 7.2-4.9 7.2-4.8 7.2-4.9 7.2-4.9 7.2-4.9 7.2-4.9 7.3-4.9 7.2-4.8 7.2-4.9 7.2-4.9 7.2-4.9 7.2-4.9 7.2-4.9 7.2-4.9 7.2-4.8 7.3-4.9 7.2-4.9 7.2-4.9 7.2-4.9 7.2-4.9 7.2-4.8 7.2-4.9 7.2-4.9 7.3-4.9 7.2-4.9 7.2-4.9 7.2-4.8 7.2-4.9 7.2-4.9 7.2-4.9 7.2-4.9 7.2-4.9 7.3-4.8 7.2-4.9 7.2-4.9 7.2-4.9 7.2-4.9 7.2-4.9 7.2-4.8 7.2-4.9 7.2-4.9 7.3-4.9 7.2-4.9 7.2-4.9 7.2-4.9 7.2-4.8 7.2-4.9 7.2-4.9 7.2-4.9 7.3-4.9 7.2-4.9 7.2-4.8 7.2-4.9 7.2-4.9 0 15.5 -7.2 3.8 -7.2 3.7 -7.2 4.3 -7.2 4.9 -7.3 4.9 -7.2 4.8 -7.2 4.7 -7.2 4.5 -7.2 4.4 -7.2 4.4 -7.2 4.2 -7.2 4.1 -7.3 5.3 -7.2 6.3 -7.2 6.3 -7.2 3.8 -7.2 3.7 -7.2 3.8 -7.2 3.7 -7.2 3.8 -7.2 5.5 -7.3 5.5 -7.2 5 -7.2 4.5 -7.2 4.5 -7.2 4.5 -7.2 4.5 -7.2 4.6 -7.2 4.7 -7.2 4.7 -7.3 5.6 -7.2 5.6 -7.2 4.3 -7.2 3.1 -7.2 3 -7.2 4.7 -7.2 4.6 -7.2 5.3 -7.3 5.9 -7.2 5.9 -7.2 4 -7.2 4 -7.2 4.3 -7.2 4.7 -7.2 4.6 -7.2 4.7 -7.2 4.8 -7.3 4.8 -7.2 4.8 -7.2 4.9 -7.2 3.3 -7.2 4.2 -7.2 4.8 -7.2 4.9 -7.2 5.4 -7.2 5.5 -7.3 5.5 -7.2 4.3 -7.2 3.7 -7.2 4.9z" fill="#12adcb"/>
<path d="M391.6 616.3l7.2-4.9 7.2-3.7 7.2-4.3 7.3-5.5 7.2-5.5 7.2-5.4 7.2-4.9 7.2-4.8 7.2-4.2 7.2-3.3 7.2-4.9 7.2-4.8 7.3-4.8 7.2-4.8 7.2-4.7 7.2-4.6 7.2-4.7 7.2-4.3 7.2-4 7.2-4 7.2-5.9 7.3-5.9 7.2-5.3 7.2-4.6 7.2-4.7 7.2-3 7.2-3.1 7.2-4.3 7.2-5.6 7.3-5.6 7.2-4.7 7.2-4.7 7.2-4.6 7.2-4.5 7.2-4.5 7.2-4.5 7.2-4.5 7.2-5 7.3-5.5 7.2-5.5 7.2-3.8 7.2-3.7 7.2-3.8 7.2-3.7 7.2-3.8 7.2-6.3 7.2-6.3 7.3-5.3 7.2-4.1 7.2-4.2 7.2-4.4 7.2-4.4 7.2-4.5 7.2-4.7 7.2-4.8 7.3-4.9 7.2-4.9 7.2-4.3 7.2-3.7 7.2-3.8 0 72.6 -7.2 3.8 -7.2 3.9 -7.2 3.4 -7.2 2.9 -7.3 2.9 -7.2 4.3 -7.2 4.3 -7.2 4.2 -7.2 3.9 -7.2 3.9 -7.2 3.7 -7.2 3.7 -7.3 3.7 -7.2 3.7 -7.2 3.6 -7.2 5.5 -7.2 5.4 -7.2 4.1 -7.2 2.8 -7.2 2.7 -7.2 3.2 -7.3 3.2 -7.2 4 -7.2 5 -7.2 4.9 -7.2 3.7 -7.2 3.7 -7.2 3.8 -7.2 3.8 -7.2 3.8 -7.3 4.1 -7.2 4 -7.2 4.3 -7.2 4.6 -7.2 4.6 -7.2 2.3 -7.2 2.3 -7.2 3.3 -7.3 4.3 -7.2 4.2 -7.2 5.2 -7.2 5.2 -7.2 4.1 -7.2 3.1 -7.2 3 -7.2 4 -7.2 3.9 -7.3 4 -7.2 4 -7.2 4 -7.2 4 -7.2 4 -7.2 3.4 -7.2 2.9 -7.2 2.8 -7.2 5.2 -7.3 5.1 -7.2 4.8 -7.2 4.5 -7.2 4.5z" fill="#1e9fde"/>
<path d="M391.6 646.6l7.2-4.5 7.2-4.5 7.2-4.8 7.3-5.1 7.2-5.2 7.2-2.8 7.2-2.9 7.2-3.4 7.2-4 7.2-4 7.2-4 7.2-4 7.3-4 7.2-3.9 7.2-4 7.2-3 7.2-3.1 7.2-4.1 7.2-5.2 7.2-5.2 7.2-4.2 7.3-4.3 7.2-3.3 7.2-2.3 7.2-2.3 7.2-4.6 7.2-4.6 7.2-4.3 7.2-4 7.3-4.1 7.2-3.8 7.2-3.8 7.2-3.8 7.2-3.7 7.2-3.7 7.2-4.9 7.2-5 7.2-4 7.3-3.2 7.2-3.2 7.2-2.7 7.2-2.8 7.2-4.1 7.2-5.4 7.2-5.5 7.2-3.6 7.2-3.7 7.3-3.7 7.2-3.7 7.2-3.7 7.2-3.9 7.2-3.9 7.2-4.2 7.2-4.3 7.2-4.3 7.3-2.9 7.2-2.9 7.2-3.4 7.2-3.9 7.2-3.8 0 61.6 -7.2 6.5 -7.2 6.6 -7.2 5.5 -7.2 4.5 -7.3 4.5 -7.2 3.8 -7.2 3.8 -7.2 4.6 -7.2 5.5 -7.2 5.4 -7.2 4.8 -7.2 4.8 -7.3 4.8 -7.2 4.6 -7.2 4.7 -7.2 4.7 -7.2 4.8 -7.2 5.3 -7.2 5.9 -7.2 5.9 -7.2 3.7 -7.3 3.7 -7.2 4.1 -7.2 4.3 -7.2 4.4 -7.2 6 -7.2 6 -7.2 5.3 -7.2 4.4 -7.2 4.5 -7.3 4.8 -7.2 4.8 -7.2 4.4 -7.2 4.2 -7.2 4.1 -7.2 2.9 -7.2 2.9 -7.2 2 -7.3 0.9 -7.2 0.9 -7.2 3.1 -7.2 3.1 -7.2 3.3 -7.2 3.6 -7.2 3.7 -7.2 1.3 -7.2 1.4 -7.3 2 -7.2 2.5 -7.2 2.6 -7.2 2.5 -7.2 2.5 -7.2 2.5 -7.2 2.4 -7.2 2.5 -7.2 1.6 -7.3 1.6 -7.2 2.6 -7.2 3.8 -7.2 3.8z" fill="#2c88f1"/>
<path d="M391.6 704.7l7.2-3.8 7.2-3.8 7.2-2.6 7.3-1.6 7.2-1.6 7.2-2.5 7.2-2.4 7.2-2.5 7.2-2.5 7.2-2.5 7.2-2.6 7.2-2.5 7.3-2 7.2-1.4 7.2-1.3 7.2-3.7 7.2-3.6 7.2-3.3 7.2-3.1 7.2-3.1 7.2-0.9 7.3-0.9 7.2-2 7.2-2.9 7.2-2.9 7.2-4.1 7.2-4.2 7.2-4.4 7.2-4.8 7.3-4.8 7.2-4.5 7.2-4.4 7.2-5.3 7.2-6 7.2-6 7.2-4.4 7.2-4.3 7.2-4.1 7.3-3.7 7.2-3.7 7.2-5.9 7.2-5.9 7.2-5.3 7.2-4.8 7.2-4.7 7.2-4.7 7.2-4.6 7.3-4.8 7.2-4.8 7.2-4.8 7.2-5.4 7.2-5.5 7.2-4.6 7.2-3.8 7.2-3.8 7.3-4.5 7.2-4.5 7.2-5.5 7.2-6.6 7.2-6.5 0 1 -7.2 5.5 -7.2 6.6 -7.2 5.5 -7.2 4.5 -7.3 4.5 -7.2 3.8 -7.2 4 -7.2 5 -7.2 5.9 -7.2 5.9 -7.2 4.4 -7.2 4.5 -7.3 4.2 -7.2 4.4 -7.2 4.7 -7.2 4.7 -7.2 5.6 -7.2 5 -7.2 5.4 -7.2 5.9 -7.2 3.7 -7.3 3.7 -7.2 5.5 -7.2 5.8 -7.2 5.7 -7.2 3.2 -7.2 4.6 -7.2 5.3 -7.2 4.4 -7.2 5 -7.3 4.5 -7.2 4.6 -7.2 4.4 -7.2 4.2 -7.2 4.1 -7.2 6.8 -7.2 6.7 -7.2 4.9 -7.3 3.1 -7.2 3.1 -7.2 5.5 -7.2 5.5 -7.2 5.2 -7.2 5 -7.2 5.1 -7.2 3.3 -7.2 3.3 -7.3 5.2 -7.2 7.2 -7.2 7.2 -7.2 3.4 -7.2 3.5 -7.2 4.3 -7.2 5 -7.2 5 -7.2 5.6 -7.3 5.7 -7.2 4.2 -7.2 2.7 -7.2 2.7z" fill="#3874f7"/>
<path d="M615.2 439 658.4 410M608 438.8 622.4 429.1M644 414.6 658.4 405M593.5 443.5 608 433.8M651.2 404.8 658.4 400M579.1 448.1 600.7 433.6M478.1 510.8 593.5 433.5M391.6 563.8 586.3 433.3M391.6 558.8 579.1 433.1M391.6 553.8 564.7 437.8M434.9 519.8 550.3 442.5" fill="none" stroke="#000" stroke-width="1.5" stroke-opacity="0.85"/>
<path d="M449.3 560.6 658.4 420.4M391.6 595 658.4 416.2M391.6 590.8 658.4 412M391.6 586.6 608 441.6M391.6 582.4 593.5 447.1M391.6 578.2 586.3 447.7M391.6 574 571.9 453.2M391.6 569.8 564.7 453.8" fill="none" stroke="#000" stroke-width="1.5" stroke-opacity="0.85"/>
<path d="M665.6 416.1 824.3 309.8M665.6 413.1 824.3 306.8M665.6 410.1 824.3 303.8M665.6 407.1 824.3 300.8M665.6 404.1 824.3 297.8M680.1 391.5 824.3 294.8M694.5 378.8 824.3 291.8M716.1 361.3 824.3 288.8" fill="none" stroke="#000" stroke-width="1.5" stroke-opacity="0.85"/>
<path d="M391.6 385.3V761.9M398.8 381V759.2M406 376.7V756.5M413.2 372.4V752.3M420.5 368.1V746.6M427.7 363.8V741M434.9 359.5V736M442.1 355.2V731M449.3 350.9V726.7M456.5 346.6V723.2M463.7 342.3V719.8M470.9 338V712.6M478.1 333.7V705.4M485.4 329.4V700.2M492.6 325.1V696.9M499.8 320.8V693.6M507 314.6V688.5M514.2 308.4V683.5M521.4 302.2V678.3M528.6 296V672.8M535.8 289.8V667.3M543 283.6V664.2M550.3 277.1V661.1M557.5 270.2V656.2M564.7 263.3V649.5M571.9 260.5V642.7M579.1 257.6V638.6M586.3 254.8V634.4M593.5 257.3V630M600.7 259.8V625.4M608 262.3V620.9M615.2 265.3V615.9M622.4 268.2V611.5M629.6 270.4V606.2M636.8 270.7V601.6M644 271.1V598.4M651.2 268.9V592.7M658.4 265.1V586.9M665.6 261.2V581.4M672.9 257.1V577.7M680.1 252.9V574M687.3 248.6V568.1M694.5 244.3V562.7M701.7 239.5V557.7M708.9 234.6V552.1M716.1 229.8V547.4M723.3 225V542.7M730.5 220.1V538.3M737.8 215.3V534.1M745 211V529.6M752.2 206.8V525.2M759.4 202.5V519.3M766.6 198.3V513.4M773.8 194V508.4M781 189.8V504.4M788.2 185.5V500.6M795.5 181.3V496.1M802.7 177V491.6M809.9 172.8V486.1M817.1 168.5V479.5M824.3 164.3V474" fill="none" stroke="#000" stroke-width="1.25" stroke-opacity="0.8"/>
<path d="M391.6 385.3l7.2-4.3 7.2-4.3 7.2-4.3 7.3-4.3 7.2-4.3 7.2-4.3 7.2-4.3 7.2-4.3 7.2-4.3 7.2-4.3 7.2-4.3 7.2-4.3 7.3-4.3 7.2-4.3 7.2-4.3 7.2-6.2 7.2-6.2 7.2-6.2 7.2-6.2 7.2-6.2 7.2-6.2 7.3-6.5 7.2-6.9 7.2-6.9 7.2-2.8 7.2-2.9 7.2-2.8 7.2 2.5 7.2 2.5 7.3 2.5 7.2 3 7.2 2.9 7.2 2.2 7.2 0.3 7.2 0.4 7.2-2.2 7.2-3.8 7.2-3.9 7.3-4.1 7.2-4.2 7.2-4.3 7.2-4.3 7.2-4.8 7.2-4.9 7.2-4.8 7.2-4.8 7.2-4.9 7.3-4.8 7.2-4.3 7.2-4.2 7.2-4.3 7.2-4.2 7.2-4.3 7.2-4.2 7.2-4.3 7.3-4.2 7.2-4.3 7.2-4.2 7.2-4.3 7.2-4.2M391.6 418.3l7.2-4.4 7.2-4.4 7.2-4.4 7.3-4.4 7.2-4.5 7.2-4.4 7.2-4.4 7.2-4.4 7.2-4.4 7.2-4.4 7.2-4.5 7.2-4.4 7.3-5.5 7.2-5.5 7.2-5.5 7.2-5.5 7.2-5.5 7.2-5.5 7.2-6.2 7.2-6.1 7.2-6.2 7.3-6.2 7.2-6.1 7.2-6.2 7.2-2.8 7.2-2.9 7.2-2.8 7.2-3.2 7.2-3.1 7.3-3.2 7.2 0.2 7.2 0.1 7.2 0.2 7.2-1.5 7.2-1.5 7.2-1.5 7.2-5.7 7.2-5.6 7.3-4.9 7.2-4.2 7.2-4.3 7.2-4.3 7.2-4.8 7.2-4.5 7.2-4.4 7.2-4.5 7.2-4.4 7.3-4.4 7.2-4.4 7.2-4.4 7.2-4.5 7.2-4.4 7.2-4.4 7.2-4.4 7.2-4.4 7.3-4.4 7.2-4.5 7.2-4.4 7.2-4.4 7.2-4.4M391.6 534.3l7.2 0.6 7.2-2.4 7.2-8.3 7.3-6 7.2-5.6 7.2-5.7 7.2-5.7 7.2-5.7 7.2-5.7 7.2-5.6 7.2-0.6 7.2 0.7 7.3-8.5 7.2-19.4 7.2-18.5 7.2-2.7 7.2-2.6 7.2-4.4 7.2-5.1 7.2-5 7.2-5.1 7.3-5 7.2-5.8 7.2-5.8 7.2-5.7 7.2 1.9 7.2 3.8 7.2 3.8 7.2 5.8 7.3 6.3 7.2-6.5 7.2-6.5 7.2-6.5 7.2-6.4 7.2-6.4 7.2-12.1 7.2-18.3 7.2-13.3 7.3-10.3 7.2-10.3 7.2-8.9 7.2-5.7 7.2-5.8 7.2-5.7 7.2-5.8 7.2-5.5 7.2-5.5 7.3-5.5 7.2-5.5 7.2-5.5 7.2-5.5 7.2-4.9 7.2-5 7.2-4.9 7.2-5 7.3-4.9 7.2-5 7.2-4.9 7.2-5 7.2-4.9M391.6 534.3l7.2 0.6 7.2-2.4 7.2-8.3 7.3-6 7.2-5.6 7.2-5.7 7.2-5.7 7.2-5.7 7.2-5.7 7.2-5.6 7.2-0.6 7.2 0.7 7.3-8.5 7.2-19.4 7.2-18.5 7.2-2.7 7.2-2.6 7.2-4.4 7.2-5.1 7.2-5 7.2-5.1 7.3-5 7.2-5.8 7.2-5.8 7.2-5.7 7.2 1.9 7.2 3.8 7.2 3.8 7.2 5.8 7.3 6.3 7.2-4.8 7.2-4.9 7.2-4.8 7.2-5.5 7.2-5.5 7.2-5.5 7.2-10.2 7.2-10.1 7.3-10.2 7.2-8.2 7.2-8.1 7.2-8.2 7.2-5.2 7.2-5.1 7.2-5.2 7.2-5.2 7.2-5.1 7.3-5.2 7.2-4.9 7.2-4.9 7.2-5 7.2-4.9 7.2-4.9 7.2-4.9 7.2-4.9 7.3-4.9 7.2-5 7.2-4.9 7.2-4.9 7.2-4.9M391.6 551.3l7.2-5.2 7.2-5.2 7.2-5.2 7.3-5.2 7.2-5.3 7.2-5.2 7.2-5.2 7.2-5.2 7.2-5 7.2-5.1 7.2-5 7.2-5.1 7.3-5 7.2-5 7.2-5.1 7.2-5 7.2-5.1 7.2-4.6 7.2-4.4 7.2-4.4 7.2-4.4 7.3-4.4 7.2-2.8 7.2-2.7 7.2-2.7 7.2-2.3 7.2-0.6 7.2-0.6 7.2-0.1 7.3 0.5 7.2 0.4 7.2-1.5 7.2-3 7.2-3.1 7.2-9 7.2-11.2 7.2-11.3 7.2-7.9 7.3-5.8 7.2-5.7 7.2-5.6 7.2-5.2 7.2-5.3 7.2-5.2 7.2-5.3 7.2-5.2 7.2-5.3 7.3-5.2 7.2-4.8 7.2-4.9 7.2-4.8 7.2-4.8 7.2-4.9 7.2-4.8 7.2-4.8 7.3-4.9 7.2-4.8 7.2-4.8 7.2-4.9 7.2-4.8M391.6 567.3l7.2-4.7 7.2-4.8 7.2-4.7 7.3-4.8 7.2-4.7 7.2-4.8 7.2-4.7 7.2-4.8 7.2-4.7 7.2-4.8 7.2-4.7 7.2-4.8 7.3-4.7 7.2-4.8 7.2-4.7 7.2-4.8 7.2-4.7 7.2-4.8 7.2-4.7 7.2-4.8 7.2-4.7 7.3-4.8 7.2-4.7 7.2-4.8 7.2-2 7.2-2.1 7.2-2.1 7.2-2 7.2-2.1 7.3-2 7.2-2.1 7.2-3.9 7.2-4.4 7.2-4.5 7.2-4.4 7.2-4.4 7.2-6.5 7.2-6.5 7.3-6.5 7.2-6.5 7.2-6.5 7.2-6.5 7.2-5.5 7.2-5.5 7.2-5.5 7.2-5.5 7.2-5.5 7.3-5.5 7.2-4.9 7.2-4.9 7.2-5 7.2-4.9 7.2-4.9 7.2-4.9 7.2-4.9 7.3-4.9 7.2-5 7.2-4.9 7.2-4.9 7.2-4.9M391.6 598.3l7.2-4.8 7.2-4.7 7.2-4.8 7.3-4.8 7.2-4.8 7.2-4.8 7.2-4.8 7.2-4.7 7.2-4.8 7.2-4.8 7.2-4.8 7.2-4.8 7.3-4.8 7.2-4.7 7.2-4.8 7.2-4.8 7.2-4.8 7.2-4.8 7.2-4.8 7.2-4.8 7.2-4.7 7.3-4.8 7.2-4.8 7.2-4.8 7.2-4.8 7.2-4.8 7.2-4.7 7.2-4.8 7.2-4.8 7.3-4.8 7.2-4.8 7.2-4.8 7.2-4.7 7.2-4.8 7.2-4.8 7.2-4.8 7.2-4.8 7.2-4.8 7.3-4.7 7.2-4.8 7.2-4.8 7.2-4.8 7.2-4.8 7.2-4.8 7.2-4.7 7.2-4.8 7.2-4.8 7.3-4.8 7.2-4.8 7.2-4.8 7.2-4.8 7.2-4.7 7.2-4.8 7.2-4.8 7.2-4.8 7.3-4.8 7.2-4.8 7.2-4.7 7.2-4.8 7.2-4.8M391.6 616.3l7.2-4.9 7.2-4.8 7.2-4.9 7.3-4.9 7.2-4.9 7.2-4.9 7.2-4.9 7.2-4.8 7.2-4.9 7.2-4.9 7.2-4.9 7.2-4.9 7.3-4.9 7.2-4.8 7.2-4.9 7.2-4.9 7.2-4.9 7.2-4.9 7.2-4.9 7.2-4.9 7.2-4.8 7.3-4.9 7.2-4.9 7.2-4.9 7.2-4.9 7.2-4.9 7.2-4.8 7.2-4.9 7.2-4.9 7.3-4.9 7.2-4.9 7.2-4.9 7.2-4.8 7.2-4.9 7.2-4.9 7.2-4.9 7.2-4.9 7.2-4.9 7.3-4.8 7.2-4.9 7.2-4.9 7.2-4.9 7.2-4.9 7.2-4.9 7.2-4.8 7.2-4.9 7.2-4.9 7.3-4.9 7.2-4.9 7.2-4.9 7.2-4.9 7.2-4.8 7.2-4.9 7.2-4.9 7.2-4.9 7.3-4.9 7.2-4.9 7.2-4.8 7.2-4.9 7.2-4.9M391.6 616.3l7.2-4.9 7.2-3.7 7.2-4.3 7.3-5.5 7.2-5.5 7.2-5.4 7.2-4.9 7.2-4.8 7.2-4.2 7.2-3.3 7.2-4.9 7.2-4.8 7.3-4.8 7.2-4.8 7.2-4.7 7.2-4.6 7.2-4.7 7.2-4.3 7.2-4 7.2-4 7.2-5.9 7.3-5.9 7.2-5.3 7.2-4.6 7.2-4.7 7.2-3 7.2-3.1 7.2-4.3 7.2-5.6 7.3-5.6 7.2-4.7 7.2-4.7 7.2-4.6 7.2-4.5 7.2-4.5 7.2-4.5 7.2-4.5 7.2-5 7.3-5.5 7.2-5.5 7.2-3.8 7.2-3.7 7.2-3.8 7.2-3.7 7.2-3.8 7.2-6.3 7.2-6.3 7.3-5.3 7.2-4.1 7.2-4.2 7.2-4.4 7.2-4.4 7.2-4.5 7.2-4.7 7.2-4.8 7.3-4.9 7.2-4.9 7.2-4.3 7.2-3.7 7.2-3.8M391.6 646.6l7.2-4.5 7.2-4.5 7.2-4.8 7.3-5.1 7.2-5.2 7.2-2.8 7.2-2.9 7.2-3.4 7.2-4 7.2-4 7.2-4 7.2-4 7.3-4 7.2-3.9 7.2-4 7.2-3 7.2-3.1 7.2-4.1 7.2-5.2 7.2-5.2 7.2-4.2 7.3-4.3 7.2-3.3 7.2-2.3 7.2-2.3 7.2-4.6 7.2-4.6 7.2-4.3 7.2-4 7.3-4.1 7.2-3.8 7.2-3.8 7.2-3.8 7.2-3.7 7.2-3.7 7.2-4.9 7.2-5 7.2-4 7.3-3.2 7.2-3.2 7.2-2.7 7.2-2.8 7.2-4.1 7.2-5.4 7.2-5.5 7.2-3.6 7.2-3.7 7.3-3.7 7.2-3.7 7.2-3.7 7.2-3.9 7.2-3.9 7.2-4.2 7.2-4.3 7.2-4.3 7.3-2.9 7.2-2.9 7.2-3.4 7.2-3.9 7.2-3.8M391.6 704.7l7.2-3.8 7.2-3.8 7.2-2.6 7.3-1.6 7.2-1.6 7.2-2.5 7.2-2.4 7.2-2.5 7.2-2.5 7.2-2.5 7.2-2.6 7.2-2.5 7.3-2 7.2-1.4 7.2-1.3 7.2-3.7 7.2-3.6 7.2-3.3 7.2-3.1 7.2-3.1 7.2-0.9 7.3-0.9 7.2-2 7.2-2.9 7.2-2.9 7.2-4.1 7.2-4.2 7.2-4.4 7.2-4.8 7.3-4.8 7.2-4.5 7.2-4.4 7.2-5.3 7.2-6 7.2-6 7.2-4.4 7.2-4.3 7.2-4.1 7.3-3.7 7.2-3.7 7.2-5.9 7.2-5.9 7.2-5.3 7.2-4.8 7.2-4.7 7.2-4.7 7.2-4.6 7.3-4.8 7.2-4.8 7.2-4.8 7.2-5.4 7.2-5.5 7.2-4.6 7.2-3.8 7.2-3.8 7.3-4.5 7.2-4.5 7.2-5.5 7.2-6.6 7.2-6.5M391.6 761.9l7.2-2.7 7.2-2.7 7.2-4.2 7.3-5.7 7.2-5.6 7.2-5 7.2-5 7.2-4.3 7.2-3.5 7.2-3.4 7.2-7.2 7.2-7.2 7.3-5.2 7.2-3.3 7.2-3.3 7.2-5.1 7.2-5 7.2-5.2 7.2-5.5 7.2-5.5 7.2-3.1 7.3-3.1 7.2-4.9 7.2-6.7 7.2-6.8 7.2-4.1 7.2-4.2 7.2-4.4 7.2-4.6 7.3-4.5 7.2-5 7.2-4.4 7.2-5.3 7.2-4.6 7.2-3.2 7.2-5.7 7.2-5.8 7.2-5.5 7.3-3.7 7.2-3.7 7.2-5.9 7.2-5.4 7.2-5 7.2-5.6 7.2-4.7 7.2-4.7 7.2-4.4 7.3-4.2 7.2-4.5 7.2-4.4 7.2-5.9 7.2-5.9 7.2-5 7.2-4 7.2-3.8 7.3-4.5 7.2-4.5 7.2-5.5 7.2-6.6 7.2-5.5M391.6 629.3l7.2-3.3 7.2-3.3 7.2-4.6 7.3-6 7.2-5.9 7.2-4.2 7.2-4.2 7.2-3.6 7.2-3.2 7.2-3.2 7.2-4.8 7.2-4.8 7.3-4.6 7.2-4.3 7.2-4.2 7.2-4.2 7.2-4.1 7.2-4.1 7.2-4.1 7.2-4.1 7.2-5.7 7.3-5.6 7.2-4.4 7.2-3.1 7.2-3.1 7.2-3.6 7.2-3.6 7.2-4.5 7.2-5.5 7.3-5.4 7.2-4 7.2-4 7.2-4.1 7.2-4.3 7.2-4.2 7.2-4.3 7.2-4.4 7.2-4.6 7.3-4.9 7.2-4.8 7.2-2.8 7.2-2.9 7.2-3.7 7.2-4.6 7.2-4.7 7.2-5.6 7.2-5.7 7.3-4.4 7.2-3.3 7.2-3.3 7.2-4.3 7.2-4.4 7.2-4.3 7.2-4.4 7.2-4.3 7.3-4.4 7.2-4.4 7.2-3.9 7.2-3.3 7.2-3.4M391.6 676.1l7.2-4.8 7.2-4.7 7.2-4.1 7.3-3.4 7.2-3.4 7.2-2.1 7.2-2.1 7.2-2.9 7.2-3.5 7.2-3.6 7.2-3.2 7.2-3.2 7.3-3.1 7.2-3 7.2-3.1 7.2-2.8 7.2-2.8 7.2-3.7 7.2-4.8 7.2-4.8 7.2-2.2 7.3-2.3 7.2-2.2 7.2-2.3 7.2-2.2 7.2-4.2 7.2-4.2 7.2-3.6 7.2-3.1 7.3-3 7.2-3.1 7.2-3.1 7.2-3.1 7.2-3.3 7.2-3.2 7.2-4 7.2-4 7.2-2.8 7.3-1.7 7.2-1.7 7.2-3.2 7.2-3.3 7.2-3.9 7.2-4.6 7.2-4.5 7.2-2.4 7.2-2.5 7.3-2.8 7.2-3.1 7.2-3.2 7.2-4.4 7.2-4.4 7.2-4.7 7.2-5 7.2-5 7.3-3.8 7.2-3.7 7.2-4.8 7.2-5.9 7.2-5.8M391.6 732.7l7.2-2.1 7.2-2.1 7.2-1.5 7.3-0.7 7.2-0.8 7.2-1.9 7.2-1.9 7.2-2.8 7.2-3.6 7.2-3.6 7.2-4.6 7.2-4.7 7.3-4.4 7.2-4.2 7.2-4.3 7.2-6.5 7.2-6.5 7.2-5.4 7.2-4.2 7.2-4.2 7.2-3.8 7.3-3.7 7.2-4.8 7.2-5.6 7.2-5.7 7.2-4.7 7.2-4.8 7.2-4.7 7.2-4.7 7.3-4.8 7.2-4.8 7.2-4.8 7.2-5.4 7.2-5.9 7.2-5.9 7.2-3.3 7.2-3.4 7.2-4 7.3-4.6 7.2-4.5 7.2-6.2 7.2-6.2 7.2-5.3 7.2-4.2 7.2-4.3 7.2-4.8 7.2-4.8 7.3-4.9 7.2-4.9 7.2-4.9 7.2-5.1 7.2-5.1 7.2-4.4 7.2-3.5 7.2-3.5 7.3-5.7 7.2-5.7 7.2-5.8 7.2-5.9 7.2-5.9M391.6 751.7l7.2-0.4 7.2-0.4 7.2-2.5 7.3-4.6 7.2-4.6 7.2-5 7.2-5 7.2-4.8 7.2-4.6 7.2-4.7 7.2-4.1 7.2-5.6 7.3-5.2 7.2-5 7.2-6.4 7.2-4.5 7.2-4.5 7.2-4.2 7.2-3.7 7.2-4.6 7.2-4.6 7.3-5.5 7.2-5.1 7.2-4.8 7.2-4.8 7.2-4.7 7.2-4.7 7.2-4.7 7.2-4.7 7.3-4.8 7.2-6.1 7.2-6.1 7.2-4.8 7.2-3.5 7.2-3.5 7.2-4.4 7.2-4.3 7.2-5.2 7.3-6 7.2-6.1 7.2-4.4 7.2-4.5 7.2-4.6 7.2-4.8 7.2-4.8 7.2-4.9 7.2-4.9 7.3-5.1 7.2-5.3 7.2-5.3 7.2-3.5 7.2-3.5 7.2-4.9 7.2-4.8 7.2-5.4 7.3-6 7.2-6.1 7.2-4.9 7.2-3.7 7.2-3.8M391.6 447.3l7.2-4 7.2-4 7.2-4 7.3-4 7.2-4 7.2-4 7.2-4 7.2-4 7.2-4 7.2-4 7.2-4 7.2-4 7.3-3.1 7.2-3.2 7.2-3.2 7.2-3.1 7.2-3.2 7.2-3.2 7.2-6.5 7.2-6.5 7.2-6.5 7.3-6.5 7.2-6.5 7.2-6.5 7.2-1.5 7.2-1.5 7.2-1.5 7.2-1.5 7.2-1.5 7.3-1.5 7.2-3.2 7.2-3.1 7.2-3.2 7.2-3.2 7.2-3.1 7.2-3.2 7.2-5 7.2-5.1 7.3-5 7.2-5.1 7.2-5 7.2-5 7.2-5.1 7.2-5 7.2-5.1 7.2-5 7.2-5.1 7.3-5 7.2-5 7.2-5.1 7.2-5 7.2-5.1 7.2-5 7.2-5.1 7.2-5 7.3-5 7.2-5.1 7.2-5 7.2-5.1 7.2-5M391.6 482.3l7.2-4.2 7.2-4.3 7.2-4.2 7.3-4.3 7.2-4.2 7.2-4.3 7.2-4.2 7.2-4.3 7.2-4.2 7.2-4.3 7.2-4.2 7.2-4.3 7.3-3.5 7.2-3.5 7.2-3.5 7.2-3.5 7.2-3.5 7.2-3.5 7.2-6.5 7.2-6.5 7.2-6.5 7.3-6.5 7.2-6.5 7.2-6.5 7.2-1.5 7.2-1.5 7.2-1.5 7.2-1.5 7.2-1.5 7.3-1.5 7.2-6.5 7.2-6.5 7.2-6.5 7.2-6.5 7.2-6.5 7.2-6.5 7.2-4.9 7.2-4.9 7.3-4.9 7.2-5 7.2-4.9 7.2-4.9 7.2-4.9 7.2-4.9 7.2-4.9 7.2-5 7.2-4.9 7.3-4.9 7.2-4.9 7.2-4.9 7.2-5 7.2-4.9 7.2-4.9 7.2-4.9 7.2-4.9 7.3-4.9 7.2-5 7.2-4.9 7.2-4.9 7.2-4.9M391.6 402.3l7.2-4.5 7.2-4.6 7.2-4.5 7.3-4.6 7.2-4.6 7.2-4.5 7.2-4.6 7.2-4.5 7.2-4.6 7.2-4.5 7.2-4.6 7.2-4.5 7.3-4.6 7.2-4.6 7.2-4.5 7.2-4.6 7.2-4.5 7.2-4.6 7.2-6.8 7.2-6.9 7.2-6.8 7.3-6.8 7.2-6.9 7.2-6.8 7.2-1.5 7.2-1.5 7.2-1.5 7.2-1.5 7.2-1.5 7.3-1.5M391.6 432.3l7.2-4.6 7.2-4.7 7.2-4.7 7.3-4.6 7.2-4.7 7.2-4.7 7.2-4.6 7.2-4.7 7.2-4.7 7.2-4.6 7.2-4.7 7.2-4.7 7.3-4.6 7.2-4.7 7.2-4.7 7.2-4.6 7.2-4.7 7.2-4.7 7.2-6.2 7.2-6.2 7.2-6.3 7.3-6.2 7.2-6.2 7.2-6.2 7.2-6.2 7.2-1.5 7.2-0.2 7.2-0.3 7.2-0.2 7.3-0.3 7.2-2.3 7.2-2.4 7.2-2.3 7.2-2.3 7.2-2.4 7.2-2.3 7.2-4.5 7.2-4.6 7.3-4.5 7.2-4.6 7.2-4.5 7.2-4.5 7.2-4.6 7.2-4.5 7.2-4.6 7.2-4.5 7.2-4.6 7.3-4.5 7.2-4.5 7.2-4.6 7.2-4.5 7.2-4.6 7.2-4.5 7.2-4.6 7.2-4.5 7.3-4.5 7.2-4.6 7.2-4.5 7.2-4.6 7.2-4.5M586.3 272.6l7.2 13.3 7.2 13.2 7.3 13.2 7.2 11.8 7.2 11.9 7.2 11.8 7.2 10.2 7.2 7.6 7.2 7.7M600.7 270.5l7.3 11.8 7.2 11.8 7.2 11.2 7.2 8.2 7.2 8.3 7.2 8.2 7.2 8.3 7.2 0.7 7.2 0.7 7.3 0.8M608 267.3l7.2 7.7 7.2 7.6 7.2 7.7 7.2 6 7.2 3.5 7.2 3.5 7.2 3.5 7.2 3.5 7.3-0.2 7.2-2.8 7.2-2.7 7.2-2.8 7.2-2.7M586.3 398.5l7.2-18.7 7.2-18.8 7.3-18.7 7.2-17.3 7.2-17.4 7.2-17.3 7.2-11.5 7.2-2.7 7.2-2.8M600.7 409.1l7.3-20.1 7.2-20.1 7.2-20.1 7.2-17.7 7.2-15.9 7.2-15.9 7.2-16 7.2-7.6 7.2-7.6 7.3-7.6M622.4 387.6l7.2-17.3 7.2-17.3 7.2-17.1 7.2-15.9 7.2-16 7.2-15.9 7.3-11.5 7.2-8.6 7.2-8.6 7.2-8.6 7.2-8.6" fill="none" stroke="#000" stroke-width="0.8" stroke-linejoin="round"/>
<path d="M391.6 385.3L391.6 761.9" stroke="#000" stroke-width="2.4" fill="none"/>
<path d="M824.3 164.3L824.3 474" stroke="#000" stroke-width="1.6" fill="none"/>
<polygon points="391.6,601.3 493.9,647.8 926.6,354.8 824.3,314.3" fill="#000"/>
<defs><linearGradient id="g5" gradientUnits="userSpaceOnUse" x1="493.9" y1="0" x2="926.6" y2="0"><stop offset="0.000" stop-color="#81c868"/><stop offset="0.062" stop-color="#81c868"/><stop offset="0.125" stop-color="#81c868"/><stop offset="0.188" stop-color="#76c86b"/><stop offset="0.250" stop-color="#54c673"/><stop offset="0.312" stop-color="#5dc671"/><stop offset="0.375" stop-color="#5ec770"/><stop offset="0.438" stop-color="#9ac85f"/><stop offset="0.500" stop-color="#89c865"/><stop offset="0.562" stop-color="#3ac579"/><stop offset="0.625" stop-color="#23c47f"/><stop offset="0.688" stop-color="#1dc381"/><stop offset="0.750" stop-color="#1ac382"/><stop offset="0.812" stop-color="#1ac382"/><stop offset="0.875" stop-color="#1ac382"/><stop offset="0.938" stop-color="#1ac382"/><stop offset="1.000" stop-color="#1ac382"/></linearGradient><linearGradient id="g6" gradientUnits="userSpaceOnUse" x1="493.9" y1="0" x2="926.6" y2="0"><stop offset="0.000" stop-color="#2cc47c"/><stop offset="0.062" stop-color="#2cc47c"/><stop offset="0.125" stop-color="#2cc47c"/><stop offset="0.188" stop-color="#2ac47d"/><stop offset="0.250" stop-color="#23c47f"/><stop offset="0.312" stop-color="#26c47e"/><stop offset="0.375" stop-color="#28c47d"/><stop offset="0.438" stop-color="#1fc380"/><stop offset="0.500" stop-color="#10c286"/><stop offset="0.562" stop-color="#08c289"/><stop offset="0.625" stop-color="#05c18a"/><stop offset="0.688" stop-color="#03c18b"/><stop offset="0.750" stop-color="#02c18b"/><stop offset="0.812" stop-color="#01c18c"/><stop offset="0.875" stop-color="#01c18c"/><stop offset="0.938" stop-color="#00c18c"/><stop offset="1.000" stop-color="#00c18d"/></linearGradient></defs>
<path d="M493.9 557.8l7.2-4.8 7.2-4.8 7.2-4.9 7.2-4.8 7.3-4.8 7.2-4.9 7.2-4.8 7.2-4.7 7.2-3.9 7.2-3.9 7.2-3.9 7.2 1.8 7.3 2.4 7.2-5.8 7.2-5.9 7.2-6 7.2-6 7.2-5.3 7.2-4.8 7.2-4.9 7.2-4.8 7.3-4.8 7.2-6.7 7.2-13.8 7.2-12.5 7.2-10.5 7.2-5.4 7.2-3.8 7.2-1.5 7.2-1.5 7.3 4.3 7.2 4.4 7.2 0.8 7.2-1.5 7.2-1.5 7.2-1.5 7.2-3.7 7.2-3.6 7.3-3.7 7.2-3.7 7.2-3.6 7.2-3.7 7.2-4.7 7.2-4.6 7.2-4.7 7.2-4.7 7.2-4.6 7.3-4.7 7.2-4.8 7.2-4.9 7.2-4.8 7.2-4.8 7.2-4.9 7.2-4.8 7.2-4.8 7.3-4.9 7.2-4.8 7.2-4.8 7.2-4.9 7.2-4.8 0 16 -7.2 4.7 -7.2 4.7 -7.2 4.8 -7.2 4.7 -7.3 4.7 -7.2 4.7 -7.2 4.7 -7.2 4.8 -7.2 4.7 -7.2 4.7 -7.2 4.7 -7.2 4.8 -7.3 4.7 -7.2 4.7 -7.2 4.7 -7.2 4.8 -7.2 4.7 -7.2 4.7 -7.2 4.4 -7.2 4.4 -7.2 4.4 -7.3 4.4 -7.2 4.3 -7.2 4.4 -7.2 4.4 -7.2 4.4 -7.2 4.4 -7.2 3 -7.2 3.1 -7.3 3 -7.2 3 -7.2 2.2 -7.2 1.6 -7.2 1.5 -7.2 1.6 -7.2 3.3 -7.2 4.4 -7.2 4.6 -7.3 5.3 -7.2 5.4 -7.2 5.3 -7.2 5.4 -7.2 5.3 -7.2 5.4 -7.2 5.3 -7.2 4.6 -7.2 3.4 -7.3 3.5 -7.2 3.4 -7.2 4.6 -7.2 4.8 -7.2 4.9 -7.2 4.8 -7.2 4.8 -7.2 4.9 -7.3 4.8 -7.2 4.8 -7.2 4.9 -7.2 4.8 -7.2 4.8z" fill="url(#g5)"/>
<path d="M493.9 581.8l7.2-4.8 7.2-4.8 7.2-4.9 7.2-4.8 7.3-4.8 7.2-4.9 7.2-4.8 7.2-4.8 7.2-4.9 7.2-4.8 7.2-4.6 7.2-3.4 7.3-3.5 7.2-3.4 7.2-4.6 7.2-5.3 7.2-5.4 7.2-5.3 7.2-5.4 7.2-5.3 7.2-5.4 7.3-5.3 7.2-4.6 7.2-4.4 7.2-3.3 7.2-1.6 7.2-1.5 7.2-1.6 7.2-2.2 7.2-3 7.3-3 7.2-3.1 7.2-3 7.2-4.4 7.2-4.4 7.2-4.4 7.2-4.4 7.2-4.3 7.3-4.4 7.2-4.4 7.2-4.4 7.2-4.4 7.2-4.7 7.2-4.7 7.2-4.8 7.2-4.7 7.2-4.7 7.3-4.7 7.2-4.8 7.2-4.7 7.2-4.7 7.2-4.7 7.2-4.8 7.2-4.7 7.2-4.7 7.3-4.7 7.2-4.7 7.2-4.8 7.2-4.7 7.2-4.7 0 24 -7.2 4.8 -7.2 4.8 -7.2 4.7 -7.2 4.8 -7.3 4.8 -7.2 4.8 -7.2 4.8 -7.2 4.8 -7.2 4.7 -7.2 4.8 -7.2 4.8 -7.2 4.8 -7.3 4.8 -7.2 4.8 -7.2 4.7 -7.2 4.8 -7.2 4.8 -7.2 4.8 -7.2 4.8 -7.2 4.8 -7.2 4.8 -7.3 4.7 -7.2 4.8 -7.2 4.8 -7.2 4.8 -7.2 4.8 -7.2 4.8 -7.2 4.7 -7.2 4.8 -7.3 4.8 -7.2 4.8 -7.2 4.8 -7.2 4.8 -7.2 4.7 -7.2 4.8 -7.2 4.8 -7.2 4.8 -7.2 4.8 -7.3 4.8 -7.2 4.7 -7.2 4.8 -7.2 4.8 -7.2 4.8 -7.2 4.8 -7.2 4.8 -7.2 4.7 -7.2 4.8 -7.3 4.8 -7.2 4.8 -7.2 4.8 -7.2 4.8 -7.2 4.8 -7.2 4.7 -7.2 4.8 -7.2 4.8 -7.3 4.8 -7.2 4.8 -7.2 4.8 -7.2 4.7 -7.2 4.8z" fill="url(#g6)"/>
<path d="M493.9 631.8l7.2-4.8 7.2-4.7 7.2-4.8 7.2-4.8 7.3-4.8 7.2-4.8 7.2-4.8 7.2-4.7 7.2-4.8 7.2-4.8 7.2-4.8 7.2-4.8 7.3-4.8 7.2-4.8 7.2-4.7 7.2-4.8 7.2-4.8 7.2-4.8 7.2-4.8 7.2-4.8 7.2-4.7 7.3-4.8 7.2-4.8 7.2-4.8 7.2-4.8 7.2-4.8 7.2-4.7 7.2-4.8 7.2-4.8 7.2-4.8 7.3-4.8 7.2-4.8 7.2-4.7 7.2-4.8 7.2-4.8 7.2-4.8 7.2-4.8 7.2-4.8 7.3-4.7 7.2-4.8 7.2-4.8 7.2-4.8 7.2-4.8 7.2-4.8 7.2-4.8 7.2-4.7 7.2-4.8 7.3-4.8 7.2-4.8 7.2-4.8 7.2-4.8 7.2-4.7 7.2-4.8 7.2-4.8 7.2-4.8 7.3-4.8 7.2-4.8 7.2-4.7 7.2-4.8 7.2-4.8 0 12 -7.2 4.9 -7.2 4.9 -7.2 4.8 -7.2 4.9 -7.3 4.9 -7.2 4.9 -7.2 4.9 -7.2 4.9 -7.2 4.8 -7.2 4.9 -7.2 4.9 -7.2 4.9 -7.3 4.9 -7.2 4.9 -7.2 4.8 -7.2 4.9 -7.2 4.9 -7.2 4.9 -7.2 4.9 -7.2 4.9 -7.2 4.9 -7.3 4.8 -7.2 4.9 -7.2 4.9 -7.2 4.9 -7.2 4.9 -7.2 4.9 -7.2 4.8 -7.2 4.9 -7.3 4.9 -7.2 4.9 -7.2 4.9 -7.2 4.9 -7.2 4.8 -7.2 4.9 -7.2 4.9 -7.2 4.9 -7.2 4.9 -7.3 4.9 -7.2 4.8 -7.2 4.9 -7.2 4.9 -7.2 4.9 -7.2 4.9 -7.2 4.9 -7.2 4.8 -7.2 4.9 -7.3 4.9 -7.2 4.9 -7.2 4.9 -7.2 4.9 -7.2 4.9 -7.2 4.8 -7.2 4.9 -7.2 4.9 -7.3 4.9 -7.2 4.9 -7.2 4.9 -7.2 4.8 -7.2 4.9z" fill="#000"/>
<path d="M493.9 649.8l7.2-4.9 7.2-4.8 7.2-4.9 7.2-4.9 7.3-4.9 7.2-4.9 7.2-4.9 7.2-4.8 7.2-4.9 7.2-4.9 7.2-4.9 7.2-4.9 7.3-4.9 7.2-4.9 7.2-4.8 7.2-4.9 7.2-4.9 7.2-4.9 7.2-4.9 7.2-4.9 7.2-4.8 7.3-4.9 7.2-4.9 7.2-4.9 7.2-4.9 7.2-4.9 7.2-4.8 7.2-4.9 7.2-4.9 7.2-4.9 7.3-4.9 7.2-4.9 7.2-4.8 7.2-4.9 7.2-4.9 7.2-4.9 7.2-4.9 7.2-4.9 7.3-4.8 7.2-4.9 7.2-4.9 7.2-4.9 7.2-4.9 7.2-4.9 7.2-4.9 7.2-4.8 7.2-4.9 7.3-4.9 7.2-4.9 7.2-4.9 7.2-4.9 7.2-4.8 7.2-4.9 7.2-4.9 7.2-4.9 7.3-4.9 7.2-4.9 7.2-4.8 7.2-4.9 7.2-4.9 0 34 -7.2 6 -7.2 5.9 -7.2 6 -7.2 6 -7.3 6 -7.2 6 -7.2 5.9 -7.2 6 -7.2 6 -7.2 6 -7.2 5.9 -7.2 6 -7.3 6 -7.2 6 -7.2 5.9 -7.2 6 -7.2 6 -7.2 6 -7.2 5.9 -7.2 6 -7.2 6 -7.3 6 -7.2 6 -7.2 5.9 -7.2 6 -7.2 6 -7.2 6 -7.2 5.9 -7.2 6 -7.3 6 -7.2 6 -7.2 5.9 -7.2 6 -7.2 6 -7.2 6 -7.2 6 -7.2 5.9 -7.2 6 -7.3 6 -7.2 6 -7.2 5.9 -7.2 6 -7.2 5.2 -7.2 5.1 -7.2 5.2 -7.2 5.2 -7.2 5.1 -7.3 5.2 -7.2 5.2 -7.2 5.2 -7.2 5.1 -7.2 5.2 -7.2 5.2 -7.2 5.1 -7.2 5 -7.3 5 -7.2 5 -7.2 5 -7.2 5 -7.2 5z" fill="#12adcb"/>
<path d="M789.6 410.5 926.6 318.7M731.9 445 926.6 314.5M717.5 450.5 926.6 310.3M703 455.9 926.6 306.1M688.6 461.4 782.4 398.6M681.4 462 760.7 408.9M580.4 525.5 645.3 482M659.8 472.3 746.3 414.3M493.9 579.3 731.9 419.8M493.9 575.1 724.7 420.4M493.9 570.9 580.4 512.9M609.3 493.6 724.7 416.2M493.9 566.7 573.2 513.6M667 450.7 717.5 416.9M493.9 562.5 573.2 509.4M667 446.5 717.5 412.7M493.9 558.3 551.6 519.7M674.2 437.5 710.2 413.3M674.2 433.3 710.2 409.1M681.4 424.2 703 409.7M681.4 420 695.8 410.4" fill="none" stroke="#000" stroke-width="1.5" stroke-opacity="0.85"/>
<path d="M602.1 560.5 926.6 343M493.9 629.4 926.6 339.4M493.9 625.8 926.6 335.8M493.9 622.2 926.6 332.2M493.9 618.6 926.6 328.6M493.9 615 926.6 325M493.9 611.4 926.6 321.4M493.9 607.8 782.4 414.5M493.9 604.2 724.7 449.5M493.9 600.6 710.2 455.6M493.9 597 695.8 461.7M493.9 593.4 688.6 462.9M493.9 589.8 681.4 464.1M493.9 586.2 674.2 465.4M493.9 582.6 573.2 529.5" fill="none" stroke="#000" stroke-width="1.5" stroke-opacity="0.85"/>
<path d="M493.9 731.7 566 683.4M493.9 727.5 630.9 635.7M493.9 723.3 659.8 612.1M493.9 719.1 681.4 593.4M493.9 714.9 710.2 569.9M493.9 710.7 739.1 546.4M493.9 706.5 760.7 527.7M493.9 702.3 789.6 504.1M493.9 698.1 818.4 480.6M493.9 693.9 840.1 461.9M493.9 689.7 868.9 438.4M493.9 685.5 897.8 414.8M493.9 681.3 926.6 391.3M493.9 677.1 926.6 387.1M493.9 672.9 926.6 382.9M493.9 668.7 926.6 378.7M493.9 664.5 926.6 374.5M493.9 660.3 926.6 370.3M493.9 656.1 926.6 366.1M493.9 651.9 926.6 361.9M731.9 488.2 926.6 357.7" fill="none" stroke="#000" stroke-width="1.5" stroke-opacity="0.85"/>
<path d="M493.9 557.8V733.8M501.1 553V728.8M508.3 548.2V723.8M515.5 543.3V718.8M522.7 538.5V713.8M530 533.7V708.8M537.2 528.8V703.8M544.4 524V698.7M551.6 519.3V693.5M558.8 515.4V688.3M566 511.5V683.2M573.2 507.6V678M580.4 509.4V672.8M587.7 511.8V667.6M594.9 506V662.5M602.1 500.1V657.3M609.3 494.1V652.1M616.5 488.1V647M623.7 482.8V641.8M630.9 478V635.8M638.1 473.1V629.9M645.3 468.3V623.9M652.6 463.5V617.9M659.8 456.8V611.9M667 443V606M674.2 430.5V600M681.4 420V594M688.6 414.6V588M695.8 410.8V582M703 409.3V576.1M710.2 407.8V570.1M717.5 412.1V564.1M724.7 416.5V558.1M731.9 417.3V552.2M739.1 415.8V546.2M746.3 414.3V540.2M753.5 412.8V534.2M760.7 409.1V528.3M767.9 405.5V522.3M775.2 401.8V516.3M782.4 398.1V510.3M789.6 394.5V504.3M796.8 390.8V498.4M804 386.1V492.4M811.2 381.5V486.4M818.4 376.8V480.4M825.6 372.1V474.5M832.8 367.5V468.5M840.1 362.8V462.5M847.3 358V456.5M854.5 353.1V450.6M861.7 348.3V444.6M868.9 343.5V438.6M876.1 338.6V432.6M883.3 333.8V426.7M890.5 329V420.7M897.8 324.1V414.7M905 319.3V408.7M912.2 314.5V402.7M919.4 309.6V396.8M926.6 304.8V390.8" fill="none" stroke="#000" stroke-width="1.25" stroke-opacity="0.8"/>
<path d="M493.9 557.8l7.2-4.8 7.2-4.8 7.2-4.9 7.2-4.8 7.3-4.8 7.2-4.9 7.2-4.8 7.2-4.7 7.2-3.9 7.2-3.9 7.2-3.9 7.2 1.8 7.3 2.4 7.2-5.8 7.2-5.9 7.2-6 7.2-6 7.2-5.3 7.2-4.8 7.2-4.9 7.2-4.8 7.3-4.8 7.2-6.7 7.2-13.8 7.2-12.5 7.2-10.5 7.2-5.4 7.2-3.8 7.2-1.5 7.2-1.5 7.3 4.3 7.2 4.4 7.2 0.8 7.2-1.5 7.2-1.5 7.2-1.5 7.2-3.7 7.2-3.6 7.3-3.7 7.2-3.7 7.2-3.6 7.2-3.7 7.2-4.7 7.2-4.6 7.2-4.7 7.2-4.7 7.2-4.6 7.3-4.7 7.2-4.8 7.2-4.9 7.2-4.8 7.2-4.8 7.2-4.9 7.2-4.8 7.2-4.8 7.3-4.9 7.2-4.8 7.2-4.8 7.2-4.9 7.2-4.8M493.9 581.8l7.2-4.8 7.2-4.8 7.2-4.9 7.2-4.8 7.3-4.8 7.2-4.9 7.2-4.8 7.2-4.8 7.2-4.9 7.2-4.8 7.2-4.6 7.2-3.4 7.3-3.5 7.2-3.4 7.2-4.6 7.2-5.3 7.2-5.4 7.2-5.3 7.2-5.4 7.2-5.3 7.2-5.4 7.3-5.3 7.2-4.6 7.2-4.4 7.2-3.3 7.2-1.6 7.2-1.5 7.2-1.6 7.2-2.2 7.2-3 7.3-3 7.2-3.1 7.2-3 7.2-4.4 7.2-4.4 7.2-4.4 7.2-4.4 7.2-4.3 7.3-4.4 7.2-4.4 7.2-4.4 7.2-4.4 7.2-4.7 7.2-4.7 7.2-4.8 7.2-4.7 7.2-4.7 7.3-4.7 7.2-4.8 7.2-4.7 7.2-4.7 7.2-4.7 7.2-4.8 7.2-4.7 7.2-4.7 7.3-4.7 7.2-4.7 7.2-4.8 7.2-4.7 7.2-4.7M493.9 631.8l7.2-4.8 7.2-4.7 7.2-4.8 7.2-4.8 7.3-4.8 7.2-4.8 7.2-4.8 7.2-4.7 7.2-4.8 7.2-4.8 7.2-4.8 7.2-4.8 7.3-4.8 7.2-4.8 7.2-4.7 7.2-4.8 7.2-4.8 7.2-4.8 7.2-4.8 7.2-4.8 7.2-4.7 7.3-4.8 7.2-4.8 7.2-4.8 7.2-4.8 7.2-4.8 7.2-4.7 7.2-4.8 7.2-4.8 7.2-4.8 7.3-4.8 7.2-4.8 7.2-4.7 7.2-4.8 7.2-4.8 7.2-4.8 7.2-4.8 7.2-4.8 7.3-4.7 7.2-4.8 7.2-4.8 7.2-4.8 7.2-4.8 7.2-4.8 7.2-4.8 7.2-4.7 7.2-4.8 7.3-4.8 7.2-4.8 7.2-4.8 7.2-4.8 7.2-4.7 7.2-4.8 7.2-4.8 7.2-4.8 7.3-4.8 7.2-4.8 7.2-4.7 7.2-4.8 7.2-4.8M493.9 649.8l7.2-4.9 7.2-4.8 7.2-4.9 7.2-4.9 7.3-4.9 7.2-4.9 7.2-4.9 7.2-4.8 7.2-4.9 7.2-4.9 7.2-4.9 7.2-4.9 7.3-4.9 7.2-4.9 7.2-4.8 7.2-4.9 7.2-4.9 7.2-4.9 7.2-4.9 7.2-4.9 7.2-4.8 7.3-4.9 7.2-4.9 7.2-4.9 7.2-4.9 7.2-4.9 7.2-4.8 7.2-4.9 7.2-4.9 7.2-4.9 7.3-4.9 7.2-4.9 7.2-4.8 7.2-4.9 7.2-4.9 7.2-4.9 7.2-4.9 7.2-4.9 7.3-4.8 7.2-4.9 7.2-4.9 7.2-4.9 7.2-4.9 7.2-4.9 7.2-4.9 7.2-4.8 7.2-4.9 7.3-4.9 7.2-4.9 7.2-4.9 7.2-4.9 7.2-4.8 7.2-4.9 7.2-4.9 7.2-4.9 7.3-4.9 7.2-4.9 7.2-4.8 7.2-4.9 7.2-4.9M493.9 733.8l7.2-5 7.2-5 7.2-5 7.2-5 7.3-5 7.2-5 7.2-5.1 7.2-5.2 7.2-5.2 7.2-5.1 7.2-5.2 7.2-5.2 7.3-5.2 7.2-5.1 7.2-5.2 7.2-5.2 7.2-5.1 7.2-5.2 7.2-6 7.2-5.9 7.2-6 7.3-6 7.2-6 7.2-5.9 7.2-6 7.2-6 7.2-6 7.2-6 7.2-5.9 7.2-6 7.3-6 7.2-6 7.2-5.9 7.2-6 7.2-6 7.2-6 7.2-5.9 7.2-6 7.3-6 7.2-6 7.2-6 7.2-5.9 7.2-6 7.2-6 7.2-6 7.2-5.9 7.2-6 7.3-6 7.2-6 7.2-5.9 7.2-6 7.2-6 7.2-6 7.2-5.9 7.2-6 7.3-6 7.2-6 7.2-6 7.2-5.9 7.2-6" fill="none" stroke="#000" stroke-width="0.8" stroke-linejoin="round"/>
<path d="M493.9 557.8L493.9 733.8" stroke="#000" stroke-width="2.4" fill="none"/>
<path d="M926.6 304.8L926.6 390.8" stroke="#000" stroke-width="1.6" fill="none"/>
<polygon points="493.9,634.8 596.2,681.3 1028.9,388.3 926.6,347.8" fill="#000"/>
<path d="M596.2 636.3l7.2-4.5 7.2-4.5 7.2-4.5 7.2-4.5 7.3-4.5 7.2-4.5 7.2-4.5 7.2-4.5 7.2-4.5 7.2-4.4 7.2-4.4 7.2-4.4 7.3-4.5 7.2-4.4 7.2-4.4 7.2-4.4 7.2-4.4 7.2-4.4 7.2-4.9 7.2-5.5 7.2-5.6 7.3-5.5 7.2-5.5 7.2-5.5 7.2-5.6 7.2-5.2 7.2-3.9 7.2-3.8 7.2-3.9 7.2-3.9 7.3-3.7 7.2-3.2 7.2-0.8 7.2-0.8 7.2-1.1 7.2-2.1 7.2-2 7.2-2.1 7.3-2.2 7.2-3.3 7.2-4.9 7.2-4.8 7.2-4.8 7.2-4.9 7.2-4.8 7.2-4.8 7.2-4.9 7.3-4.8 7.2-4.8 7.2-4.9 7.2-4.8 7.2-4.8 7.2-4.9 7.2-4.8 7.2-4.8 7.2-4.9 7.3-4.8 7.2-4.8 7.2-7.4 7.2-17.3 0 14 -7.2 4.7 -7.2 6 -7.2 4.8 -7.3 4.8 -7.2 4.9 -7.2 4.8 -7.2 4.8 -7.2 4.9 -7.2 4.8 -7.2 4.8 -7.2 4.9 -7.2 4.8 -7.3 4.8 -7.2 4.9 -7.2 4.8 -7.2 4.8 -7.2 4.9 -7.2 4.8 -7.2 4.8 -7.2 4.9 -7.2 3.3 -7.3 2.6 -7.2 4.7 -7.2 4.7 -7.2 4.3 -7.2 4.4 -7.2 4.3 -7.2 4.3 -7.2 4.4 -7.3 4.3 -7.2 5 -7.2 5 -7.2 5 -7.2 5 -7.2 5 -7.2 5 -7.2 5 -7.2 5 -7.3 5 -7.2 5 -7.2 5 -7.2 5 -7.2 4.8 -7.2 4.8 -7.2 4.7 -7.2 4.8 -7.2 4.8 -7.3 4.8 -7.2 4.8 -7.2 4.7 -7.2 4.8 -7.2 4.8 -7.2 4.8 -7.2 4.7 -7.2 4.8 -7.3 4.8 -7.2 4.8 -7.2 4.8 -7.2 4.7 -7.2 4.8z" fill="#02be97"/>
<path d="M596.2 663.3l7.2-4.8 7.2-4.7 7.2-4.8 7.2-4.8 7.3-4.8 7.2-4.8 7.2-4.7 7.2-4.8 7.2-4.8 7.2-4.8 7.2-4.7 7.2-4.8 7.3-4.8 7.2-4.8 7.2-4.8 7.2-4.7 7.2-4.8 7.2-4.8 7.2-5 7.2-5 7.2-5 7.3-5 7.2-5 7.2-5 7.2-5 7.2-5 7.2-5 7.2-5 7.2-5 7.2-5 7.3-4.3 7.2-4.4 7.2-4.3 7.2-4.3 7.2-4.4 7.2-4.3 7.2-4.7 7.2-4.7 7.3-2.6 7.2-3.3 7.2-4.9 7.2-4.8 7.2-4.8 7.2-4.9 7.2-4.8 7.2-4.8 7.2-4.9 7.3-4.8 7.2-4.8 7.2-4.9 7.2-4.8 7.2-4.8 7.2-4.9 7.2-4.8 7.2-4.8 7.2-4.9 7.3-4.8 7.2-4.8 7.2-6 7.2-4.7 0 12 -7.2 4.9 -7.2 4.9 -7.2 4.8 -7.3 4.9 -7.2 4.9 -7.2 4.9 -7.2 4.9 -7.2 4.9 -7.2 4.8 -7.2 4.9 -7.2 4.9 -7.2 4.9 -7.3 4.9 -7.2 4.9 -7.2 4.8 -7.2 4.9 -7.2 4.9 -7.2 4.9 -7.2 4.9 -7.2 4.9 -7.2 4.8 -7.3 4.9 -7.2 4.9 -7.2 4.9 -7.2 4.9 -7.2 4.9 -7.2 4.9 -7.2 4.8 -7.2 4.9 -7.3 4.9 -7.2 4.9 -7.2 4.9 -7.2 4.9 -7.2 4.8 -7.2 4.9 -7.2 4.9 -7.2 4.9 -7.2 4.9 -7.3 4.9 -7.2 4.8 -7.2 4.9 -7.2 4.9 -7.2 4.9 -7.2 4.9 -7.2 4.9 -7.2 4.8 -7.2 4.9 -7.3 4.9 -7.2 4.9 -7.2 4.9 -7.2 4.9 -7.2 4.8 -7.2 4.9 -7.2 4.9 -7.2 4.9 -7.3 4.9 -7.2 4.9 -7.2 4.9 -7.2 4.8 -7.2 4.9z" fill="#000"/>
<path d="M596.2 683.3l7.2-4.9 7.2-4.8 7.2-4.9 7.2-4.9 7.3-4.9 7.2-4.9 7.2-4.9 7.2-4.9 7.2-4.8 7.2-4.9 7.2-4.9 7.2-4.9 7.3-4.9 7.2-4.9 7.2-4.8 7.2-4.9 7.2-4.9 7.2-4.9 7.2-4.9 7.2-4.9 7.2-4.8 7.3-4.9 7.2-4.9 7.2-4.9 7.2-4.9 7.2-4.9 7.2-4.8 7.2-4.9 7.2-4.9 7.2-4.9 7.3-4.9 7.2-4.9 7.2-4.8 7.2-4.9 7.2-4.9 7.2-4.9 7.2-4.9 7.2-4.9 7.3-4.9 7.2-4.8 7.2-4.9 7.2-4.9 7.2-4.9 7.2-4.9 7.2-4.9 7.2-4.8 7.2-4.9 7.3-4.9 7.2-4.9 7.2-4.9 7.2-4.9 7.2-4.8 7.2-4.9 7.2-4.9 7.2-4.9 7.2-4.9 7.3-4.9 7.2-4.8 7.2-4.9 7.2-4.9 0 6 -7.2 5.5 -7.2 5.5 -7.2 5.5 -7.3 5.5 -7.2 5.5 -7.2 5.5 -7.2 5.5 -7.2 5.5 -7.2 5.5 -7.2 5.5 -7.2 5.5 -7.2 5.5 -7.3 5.5 -7.2 5.5 -7.2 5.5 -7.2 5.5 -7.2 5.5 -7.2 5.5 -7.2 5.5 -7.2 5.5 -7.2 5.5 -7.3 5.5 -7.2 5.5 -7.2 5.5 -7.2 5.5 -7.2 5.5 -7.2 5.5 -7.2 5.5 -7.2 5.5 -7.3 5.5 -7.2 5.5 -7.2 5.5 -7.2 5.5 -7.2 5.5 -7.2 5.5 -7.2 5.5 -7.2 5.5 -7.2 5.5 -7.3 5.5 -7.2 5.5 -7.2 5.5 -7.2 5.5 -7.2 5.5 -7.2 5.5 -7.2 5.5 -7.2 5.5 -7.2 5.5 -7.3 5.5 -7.2 5.1 -7.2 5.1 -7.2 5.1 -7.2 5 -7.2 5.1 -7.2 5.1 -7.2 5.1 -7.3 5.1 -7.2 5.1 -7.2 5.1 -7.2 5 -7.2 5.1z" fill="#0eb1c2"/>
<path d="M1021.7 382.4 1028.9 377.6M653.9 625.5 747.6 562.7M834.2 504.7 863 485.4M596.2 660.8 855.8 486.8M596.2 657.4 848.6 488.2M596.2 654 841.4 489.7M596.2 650.6 834.2 491.1M596.2 647.2 827 492.5M596.2 643.8 819.8 494M596.2 640.4 682.7 582.4M762.1 529.2 798.1 505.1M596.2 637 617.8 622.5" fill="none" stroke="#000" stroke-width="1.5" stroke-opacity="0.85"/>
<path d="M596.2 719.5 661.1 676M596.2 715.9 711.6 638.6M596.2 712.3 747.6 610.8M596.2 708.7 790.9 578.2M596.2 705.1 827 550.4M596.2 701.5 863 522.7M596.2 697.9 906.3 490.1M596.2 694.3 942.4 462.3M596.2 690.7 985.6 429.7M596.2 687.1 1021.7 401.9M596.2 683.5 1028.9 393.5" fill="none" stroke="#000" stroke-width="1.5" stroke-opacity="0.85"/>
<path d="M596.2 636.3V721.3M603.4 631.8V716.2M610.6 627.3V711.2M617.8 622.8V706.1M625 618.3V701M632.3 613.8V695.9M639.5 609.3V690.8M646.7 604.8V685.7M653.9 600.3V680.6M661.1 595.8V675.6M668.3 591.4V670.5M675.5 587V665.4M682.7 582.6V660.3M690 578.1V654.8M697.2 573.7V649.3M704.4 569.3V643.8M711.6 564.9V638.3M718.8 560.5V632.8M726 556.1V627.3M733.2 551.2V621.8M740.4 545.7V616.3M747.6 540.1V610.8M754.9 534.6V605.3M762.1 529.1V599.8M769.3 523.6V594.3M776.5 518V588.8M783.7 512.8V583.3M790.9 508.9V577.8M798.1 505.1V572.3M805.3 501.2V566.8M812.5 497.3V561.3M819.8 493.6V555.8M827 490.4V550.3M834.2 489.6V544.8M841.4 488.8V539.3M848.6 487.7V533.8M855.8 485.6V528.3M863 483.6V522.8M870.2 481.5V517.3M877.5 479.3V511.8M884.7 476V506.3M891.9 471.1V500.8M899.1 466.3V495.3M906.3 461.5V489.8M913.5 456.6V484.3M920.7 451.8V478.8M927.9 447V473.3M935.1 442.1V467.8M942.4 437.3V462.3M949.6 432.5V456.8M956.8 427.6V451.3M964 422.8V445.8M971.2 418V440.3M978.4 413.1V434.8M985.6 408.3V429.3M992.8 403.5V423.8M1000 398.6V418.3M1007.3 393.8V412.8M1014.5 389V407.3M1021.7 381.6V401.8M1028.9 364.3V396.3" fill="none" stroke="#000" stroke-width="1.3" stroke-opacity="0.8"/>
<path d="M596.2 636.3l7.2-4.5 7.2-4.5 7.2-4.5 7.2-4.5 7.3-4.5 7.2-4.5 7.2-4.5 7.2-4.5 7.2-4.5 7.2-4.4 7.2-4.4 7.2-4.4 7.3-4.5 7.2-4.4 7.2-4.4 7.2-4.4 7.2-4.4 7.2-4.4 7.2-4.9 7.2-5.5 7.2-5.6 7.3-5.5 7.2-5.5 7.2-5.5 7.2-5.6 7.2-5.2 7.2-3.9 7.2-3.8 7.2-3.9 7.2-3.9 7.3-3.7 7.2-3.2 7.2-0.8 7.2-0.8 7.2-1.1 7.2-2.1 7.2-2 7.2-2.1 7.3-2.2 7.2-3.3 7.2-4.9 7.2-4.8 7.2-4.8 7.2-4.9 7.2-4.8 7.2-4.8 7.2-4.9 7.3-4.8 7.2-4.8 7.2-4.9 7.2-4.8 7.2-4.8 7.2-4.9 7.2-4.8 7.2-4.8 7.2-4.9 7.3-4.8 7.2-4.8 7.2-7.4 7.2-17.3M596.2 663.3l7.2-4.8 7.2-4.7 7.2-4.8 7.2-4.8 7.3-4.8 7.2-4.8 7.2-4.7 7.2-4.8 7.2-4.8 7.2-4.8 7.2-4.7 7.2-4.8 7.3-4.8 7.2-4.8 7.2-4.8 7.2-4.7 7.2-4.8 7.2-4.8 7.2-5 7.2-5 7.2-5 7.3-5 7.2-5 7.2-5 7.2-5 7.2-5 7.2-5 7.2-5 7.2-5 7.2-5 7.3-4.3 7.2-4.4 7.2-4.3 7.2-4.3 7.2-4.4 7.2-4.3 7.2-4.7 7.2-4.7 7.3-2.6 7.2-3.3 7.2-4.9 7.2-4.8 7.2-4.8 7.2-4.9 7.2-4.8 7.2-4.8 7.2-4.9 7.3-4.8 7.2-4.8 7.2-4.9 7.2-4.8 7.2-4.8 7.2-4.9 7.2-4.8 7.2-4.8 7.2-4.9 7.3-4.8 7.2-4.8 7.2-6 7.2-4.7M596.2 683.3l7.2-4.9 7.2-4.8 7.2-4.9 7.2-4.9 7.3-4.9 7.2-4.9 7.2-4.9 7.2-4.9 7.2-4.8 7.2-4.9 7.2-4.9 7.2-4.9 7.3-4.9 7.2-4.9 7.2-4.8 7.2-4.9 7.2-4.9 7.2-4.9 7.2-4.9 7.2-4.9 7.2-4.8 7.3-4.9 7.2-4.9 7.2-4.9 7.2-4.9 7.2-4.9 7.2-4.8 7.2-4.9 7.2-4.9 7.2-4.9 7.3-4.9 7.2-4.9 7.2-4.8 7.2-4.9 7.2-4.9 7.2-4.9 7.2-4.9 7.2-4.9 7.3-4.9 7.2-4.8 7.2-4.9 7.2-4.9 7.2-4.9 7.2-4.9 7.2-4.9 7.2-4.8 7.2-4.9 7.3-4.9 7.2-4.9 7.2-4.9 7.2-4.9 7.2-4.8 7.2-4.9 7.2-4.9 7.2-4.9 7.2-4.9 7.3-4.9 7.2-4.8 7.2-4.9 7.2-4.9M596.2 721.3l7.2-5.1 7.2-5 7.2-5.1 7.2-5.1 7.3-5.1 7.2-5.1 7.2-5.1 7.2-5.1 7.2-5 7.2-5.1 7.2-5.1 7.2-5.1 7.3-5.5 7.2-5.5 7.2-5.5 7.2-5.5 7.2-5.5 7.2-5.5 7.2-5.5 7.2-5.5 7.2-5.5 7.3-5.5 7.2-5.5 7.2-5.5 7.2-5.5 7.2-5.5 7.2-5.5 7.2-5.5 7.2-5.5 7.2-5.5 7.3-5.5 7.2-5.5 7.2-5.5 7.2-5.5 7.2-5.5 7.2-5.5 7.2-5.5 7.2-5.5 7.3-5.5 7.2-5.5 7.2-5.5 7.2-5.5 7.2-5.5 7.2-5.5 7.2-5.5 7.2-5.5 7.2-5.5 7.3-5.5 7.2-5.5 7.2-5.5 7.2-5.5 7.2-5.5 7.2-5.5 7.2-5.5 7.2-5.5 7.2-5.5 7.3-5.5 7.2-5.5 7.2-5.5 7.2-5.5" fill="none" stroke="#000" stroke-width="0.8" stroke-linejoin="round"/>
<path d="M596.2 636.3L596.2 721.3" stroke="#000" stroke-width="2.4" fill="none"/>
<path d="M1028.9 364.3L1028.9 396.3" stroke="#000" stroke-width="1.6" fill="none"/>
<polygon points="596.2,668.3 698.5,714.8 1131.2,421.8 1028.9,381.3" fill="#000"/>
<path d="M698.5 695.8l7.2-4.8 7.2-4.7 7.2-4.8 7.2-4.8 7.3-4.7 7.2-4.8 7.2-4.8 7.2-4.7 7.2-4.8 7.2-4.8 7.2-4.7 7.2-4.8 7.3-4.8 7.2-4.7 7.2-4.8 7.2-4.8 7.2-4.7 7.2-4.8 7.2-4.8 7.2-4.7 7.2-4.8 7.3-4.8 7.2-4.7 7.2-4.8 7.2-4.8 7.2-4.7 7.2-4.8 7.2-4.8 7.2-4.7 7.2-4.8 7.3-4.8 7.2-4.7 7.2-4.8 7.2-4.8 7.2-4.7 7.2-4.8 7.2-4.7 7.2-4.8 7.3-4.8 7.2-4.7 7.2-4.8 7.2-4.8 7.2-4.7 7.2-4.8 7.2-4.7 7.2-4.8 7.2-4.8 7.3-4.7 7.2-4.8 7.2-4.8 7.2-4.7 7.2-4.8 7.2-4.7 7.2-4.8 7.2-4.8 7.2-4.7 7.3-4.8 7.2-4.8 7.2-7.5 7.2-8.1 0 20 -7.2 4.9 -7.2 4.9 -7.2 4.8 -7.3 4.9 -7.2 4.9 -7.2 4.9 -7.2 4.9 -7.2 4.9 -7.2 4.8 -7.2 4.9 -7.2 4.9 -7.2 4.9 -7.3 4.9 -7.2 4.9 -7.2 4.8 -7.2 4.9 -7.2 4.9 -7.2 4.9 -7.2 4.9 -7.2 4.9 -7.2 4.8 -7.3 4.9 -7.2 4.9 -7.2 4.9 -7.2 4.9 -7.2 4.9 -7.2 4.8 -7.2 4.9 -7.2 4.9 -7.3 4.9 -7.2 4.9 -7.2 4.9 -7.2 4.9 -7.2 4.8 -7.2 4.9 -7.2 4.9 -7.2 4.9 -7.2 4.9 -7.3 4.9 -7.2 4.8 -7.2 4.9 -7.2 4.9 -7.2 4.9 -7.2 4.9 -7.2 4.9 -7.2 4.8 -7.2 4.9 -7.3 4.9 -7.2 4.9 -7.2 4.9 -7.2 4.9 -7.2 4.8 -7.2 4.9 -7.2 4.9 -7.2 4.9 -7.3 4.9 -7.2 4.9 -7.2 4.8 -7.2 4.9 -7.2 4.9z" fill="#000"/>
<path d="M698.5 716.8l7.2-4.9 7.2-4.9 7.2-4.8 7.2-4.9 7.3-4.9 7.2-4.9 7.2-4.9 7.2-4.9 7.2-4.8 7.2-4.9 7.2-4.9 7.2-4.9 7.3-4.9 7.2-4.9 7.2-4.8 7.2-4.9 7.2-4.9 7.2-4.9 7.2-4.9 7.2-4.9 7.2-4.8 7.3-4.9 7.2-4.9 7.2-4.9 7.2-4.9 7.2-4.9 7.2-4.8 7.2-4.9 7.2-4.9 7.2-4.9 7.3-4.9 7.2-4.9 7.2-4.9 7.2-4.8 7.2-4.9 7.2-4.9 7.2-4.9 7.2-4.9 7.3-4.9 7.2-4.8 7.2-4.9 7.2-4.9 7.2-4.9 7.2-4.9 7.2-4.9 7.2-4.8 7.2-4.9 7.3-4.9 7.2-4.9 7.2-4.9 7.2-4.9 7.2-4.8 7.2-4.9 7.2-4.9 7.2-4.9 7.2-4.9 7.3-4.9 7.2-4.8 7.2-4.9 7.2-4.9 0 2 -7.2 5.3 -7.2 5.3 -7.2 5.3 -7.3 5.3 -7.2 5.2 -7.2 5.3 -7.2 5.3 -7.2 5.3 -7.2 5.3 -7.2 5.3 -7.2 5.3 -7.2 5.3 -7.3 5.3 -7.2 5.3 -7.2 5.3 -7.2 5.3 -7.2 5.3 -7.2 5.2 -7.2 5.3 -7.2 5.3 -7.2 5.3 -7.3 5.3 -7.2 5.3 -7.2 5.3 -7.2 5.3 -7.2 5.3 -7.2 5.3 -7.2 5.3 -7.2 5.3 -7.3 5.2 -7.2 5.3 -7.2 5.3 -7.2 5.3 -7.2 5.3 -7.2 5.3 -7.2 5.3 -7.2 5.3 -7.2 5.3 -7.3 5.3 -7.2 5.3 -7.2 5.3 -7.2 5.3 -7.2 5.2 -7.2 5.3 -7.2 5.3 -7.2 5.3 -7.2 5.3 -7.3 5.3 -7.2 5.2 -7.2 5.1 -7.2 5.2 -7.2 5.2 -7.2 5.1 -7.2 5.2 -7.2 5.2 -7.3 5.1 -7.2 5.2 -7.2 5.2 -7.2 5.1 -7.2 5.2z" fill="#0a4f5a"/>
<path d="M698.5 740.3 741.8 711.3M698.5 737.3 799.5 669.6M698.5 734.3 842.7 637.6M698.5 731.3 893.2 600.8M698.5 728.3 936.5 568.8M698.5 725.3 987 532M698.5 722.3 1030.2 500M698.5 719.3 1080.7 463.1M698.5 716.3 1131.2 426.3" fill="none" stroke="#000" stroke-width="1.5" stroke-opacity="0.85"/>
<path d="M698.5 695.8V741.8M705.7 691V736.6M712.9 686.3V731.5M720.1 681.5V726.3M727.3 676.7V721.1M734.6 672V716M741.8 667.2V710.8M749 662.4V705.6M756.2 657.7V700.5M763.4 652.9V695.3M770.6 648.1V690.1M777.8 643.4V685M785 638.6V679.8M792.3 633.8V674.5M799.5 629.1V669.2M806.7 624.3V663.9M813.9 619.5V658.6M821.1 614.8V653.3M828.3 610V648.1M835.5 605.2V642.8M842.7 600.5V637.5M849.9 595.7V632.2M857.2 590.9V626.9M864.4 586.2V621.6M871.6 581.4V616.3M878.8 576.6V611M886 571.9V605.7M893.2 567.1V600.4M900.4 562.3V595.1M907.6 557.6V589.8M914.8 552.8V584.5M922.1 548V579.3M929.3 543.3V574M936.5 538.5V568.7M943.7 533.7V563.4M950.9 529V558.1M958.1 524.2V552.8M965.3 519.5V547.5M972.5 514.7V542.2M979.8 509.9V536.9M987 505.2V531.6M994.2 500.4V526.3M1001.4 495.6V521M1008.6 490.9V515.8M1015.8 486.1V510.5M1023 481.4V505.2M1030.2 476.6V499.9M1037.4 471.8V494.6M1044.7 467.1V489.3M1051.9 462.3V484M1059.1 457.5V478.7M1066.3 452.8V473.4M1073.5 448V468.1M1080.7 443.3V462.8M1087.9 438.5V457.5M1095.1 433.7V452.2M1102.3 429V447M1109.6 424.2V441.7M1116.8 419.4V436.4M1124 411.9V431.1M1131.2 403.8V425.8" fill="none" stroke="#000" stroke-width="1.3" stroke-opacity="0.8"/>
<path d="M698.5 695.8l7.2-4.8 7.2-4.7 7.2-4.8 7.2-4.8 7.3-4.7 7.2-4.8 7.2-4.8 7.2-4.7 7.2-4.8 7.2-4.8 7.2-4.7 7.2-4.8 7.3-4.8 7.2-4.7 7.2-4.8 7.2-4.8 7.2-4.7 7.2-4.8 7.2-4.8 7.2-4.7 7.2-4.8 7.3-4.8 7.2-4.7 7.2-4.8 7.2-4.8 7.2-4.7 7.2-4.8 7.2-4.8 7.2-4.7 7.2-4.8 7.3-4.8 7.2-4.7 7.2-4.8 7.2-4.8 7.2-4.7 7.2-4.8 7.2-4.7 7.2-4.8 7.3-4.8 7.2-4.7 7.2-4.8 7.2-4.8 7.2-4.7 7.2-4.8 7.2-4.7 7.2-4.8 7.2-4.8 7.3-4.7 7.2-4.8 7.2-4.8 7.2-4.7 7.2-4.8 7.2-4.7 7.2-4.8 7.2-4.8 7.2-4.7 7.3-4.8 7.2-4.8 7.2-7.5 7.2-8.1M698.5 716.8l7.2-4.9 7.2-4.9 7.2-4.8 7.2-4.9 7.3-4.9 7.2-4.9 7.2-4.9 7.2-4.9 7.2-4.8 7.2-4.9 7.2-4.9 7.2-4.9 7.3-4.9 7.2-4.9 7.2-4.8 7.2-4.9 7.2-4.9 7.2-4.9 7.2-4.9 7.2-4.9 7.2-4.8 7.3-4.9 7.2-4.9 7.2-4.9 7.2-4.9 7.2-4.9 7.2-4.8 7.2-4.9 7.2-4.9 7.2-4.9 7.3-4.9 7.2-4.9 7.2-4.9 7.2-4.8 7.2-4.9 7.2-4.9 7.2-4.9 7.2-4.9 7.3-4.9 7.2-4.8 7.2-4.9 7.2-4.9 7.2-4.9 7.2-4.9 7.2-4.9 7.2-4.8 7.2-4.9 7.3-4.9 7.2-4.9 7.2-4.9 7.2-4.9 7.2-4.8 7.2-4.9 7.2-4.9 7.2-4.9 7.2-4.9 7.3-4.9 7.2-4.8 7.2-4.9 7.2-4.9M698.5 741.8l7.2-5.2 7.2-5.1 7.2-5.2 7.2-5.2 7.3-5.1 7.2-5.2 7.2-5.2 7.2-5.1 7.2-5.2 7.2-5.2 7.2-5.1 7.2-5.2 7.3-5.3 7.2-5.3 7.2-5.3 7.2-5.3 7.2-5.3 7.2-5.2 7.2-5.3 7.2-5.3 7.2-5.3 7.3-5.3 7.2-5.3 7.2-5.3 7.2-5.3 7.2-5.3 7.2-5.3 7.2-5.3 7.2-5.3 7.2-5.3 7.3-5.2 7.2-5.3 7.2-5.3 7.2-5.3 7.2-5.3 7.2-5.3 7.2-5.3 7.2-5.3 7.3-5.3 7.2-5.3 7.2-5.3 7.2-5.3 7.2-5.2 7.2-5.3 7.2-5.3 7.2-5.3 7.2-5.3 7.3-5.3 7.2-5.3 7.2-5.3 7.2-5.3 7.2-5.3 7.2-5.3 7.2-5.3 7.2-5.3 7.2-5.2 7.3-5.3 7.2-5.3 7.2-5.3 7.2-5.3" fill="none" stroke="#000" stroke-width="0.8" stroke-linejoin="round"/>
<path d="M698.5 695.8L698.5 741.8" stroke="#000" stroke-width="2.4" fill="none"/>
<path d="M1131.2 403.8L1131.2 425.8" stroke="#000" stroke-width="1.6" fill="none"/>
<polygon points="698.5,701.8 800.8,748.3 1233.5,455.3 1131.2,414.8" fill="#000"/>
<path d="M800.8 734.3l7.2-4.8 7.2-4.8 7.2-4.8 7.2-4.8 7.3-4.8 7.2-4.8 7.2-4.8 7.2-4.8 7.2-4.8 7.2-4.8 7.2-4.8 7.2-4.8 7.2-4.8 7.3-4.8 7.2-4.8 7.2-4.8 7.2-4.8 7.2-4.8 7.2-4.8 7.2-4.8 7.2-4.8 7.3-4.8 7.2-4.8 7.2-4.8 7.2-4.8 7.2-4.8 7.2-4.8 7.2-4.8 7.2-4.8 7.2-4.8 7.3-4.8 7.2-4.8 7.2-4.8 7.2-4.8 7.2-4.8 7.2-4.8 7.2-4.8 7.2-4.8 7.3-4.8 7.2-4.8 7.2-4.8 7.2-4.8 7.2-4.8 7.2-4.8 7.2-4.8 7.2-4.8 7.2-4.8 7.3-4.8 7.2-4.8 7.2-4.8 7.2-4.8 7.2-4.8 7.2-4.8 7.2-4.8 7.2-4.8 7.2-4.8 7.3-4.8 7.2-4.8 7.2-7.5 7.2-8.1 0 17 -7.2 4.9 -7.2 4.8 -7.2 4.9 -7.3 4.9 -7.2 4.9 -7.2 4.9 -7.2 4.9 -7.2 4.9 -7.2 4.8 -7.2 4.9 -7.2 4.9 -7.2 4.9 -7.3 4.9 -7.2 4.9 -7.2 4.8 -7.2 4.9 -7.2 4.9 -7.2 4.9 -7.2 4.9 -7.2 4.9 -7.2 4.8 -7.3 4.9 -7.2 4.9 -7.2 4.9 -7.2 4.9 -7.2 4.9 -7.2 4.8 -7.2 4.9 -7.2 4.9 -7.3 4.9 -7.2 4.9 -7.2 4.9 -7.2 4.8 -7.2 4.9 -7.2 4.9 -7.2 4.9 -7.2 4.9 -7.2 4.9 -7.3 4.9 -7.2 4.8 -7.2 4.9 -7.2 4.9 -7.2 4.9 -7.2 4.9 -7.2 4.9 -7.2 4.8 -7.3 4.9 -7.2 4.9 -7.2 4.9 -7.2 4.9 -7.2 4.9 -7.2 4.8 -7.2 4.9 -7.2 4.9 -7.2 4.9 -7.3 4.9 -7.2 4.9 -7.2 4.8 -7.2 4.9 -7.2 4.9z" fill="#000"/>
<path d="M800.8 750.3l7.2-4.9 7.2-4.9 7.2-4.8 7.2-4.9 7.3-4.9 7.2-4.9 7.2-4.9 7.2-4.9 7.2-4.8 7.2-4.9 7.2-4.9 7.2-4.9 7.2-4.9 7.3-4.9 7.2-4.8 7.2-4.9 7.2-4.9 7.2-4.9 7.2-4.9 7.2-4.9 7.2-4.8 7.3-4.9 7.2-4.9 7.2-4.9 7.2-4.9 7.2-4.9 7.2-4.9 7.2-4.8 7.2-4.9 7.2-4.9 7.3-4.9 7.2-4.9 7.2-4.9 7.2-4.8 7.2-4.9 7.2-4.9 7.2-4.9 7.2-4.9 7.3-4.9 7.2-4.8 7.2-4.9 7.2-4.9 7.2-4.9 7.2-4.9 7.2-4.9 7.2-4.8 7.2-4.9 7.3-4.9 7.2-4.9 7.2-4.9 7.2-4.9 7.2-4.8 7.2-4.9 7.2-4.9 7.2-4.9 7.2-4.9 7.3-4.9 7.2-4.9 7.2-4.8 7.2-4.9 0 0 -7.2 4.9 -7.2 4.8 -7.2 4.9 -7.3 4.9 -7.2 4.9 -7.2 4.9 -7.2 4.9 -7.2 5.1 -7.2 5 -7.2 5 -7.2 5.1 -7.2 5 -7.3 5 -7.2 5.1 -7.2 5 -7.2 5 -7.2 5.1 -7.2 5 -7.2 5 -7.2 5.1 -7.2 5 -7.3 5 -7.2 5.1 -7.2 5 -7.2 5 -7.2 5.1 -7.2 5 -7.2 5 -7.2 5.1 -7.3 5 -7.2 5 -7.2 5.1 -7.2 5 -7.2 5 -7.2 5.1 -7.2 5 -7.2 5 -7.2 5.1 -7.3 5 -7.2 5 -7.2 5.1 -7.2 5 -7.2 5 -7.2 5.1 -7.2 5 -7.2 5 -7.3 5.1 -7.2 5 -7.2 5 -7.2 5.1 -7.2 5 -7.2 5 -7.2 5.1 -7.2 5 -7.2 5 -7.3 5.1 -7.2 5 -7.2 5 -7.2 5.1 -7.2 5z" fill="#06303a"/>
<path d="M800.8 756.8 872.9 708.5M800.8 753.8 981.1 633M800.8 750.8 1089.3 557.5M1089.3 554.5 1233.5 457.8" fill="none" stroke="#000" stroke-width="1.5" stroke-opacity="0.85"/>
<path d="M800.8 734.3V758.3M808 729.5V753.3M815.2 724.7V748.2M822.4 719.9V743.2M829.6 715.1V738.2M836.9 710.3V733.1M844.1 705.5V728.1M851.3 700.7V723.1M858.5 695.9V718M865.7 691.1V713M872.9 686.3V708M880.1 681.5V702.9M887.3 676.7V697.9M894.5 671.9V692.9M901.8 667.1V687.8M909 662.3V682.8M916.2 657.5V677.8M923.4 652.7V672.7M930.6 647.9V667.7M937.8 643.1V662.7M945 638.3V657.6M952.2 633.5V652.6M959.5 628.7V647.6M966.7 623.9V642.5M973.9 619.1V637.5M981.1 614.3V632.5M988.3 609.5V627.4M995.5 604.7V622.4M1002.7 599.9V617.4M1009.9 595.1V612.3M1017.1 590.3V607.3M1024.4 585.5V602.3M1031.6 580.7V597.2M1038.8 575.9V592.2M1046 571.1V587.2M1053.2 566.3V582.1M1060.4 561.5V577.1M1067.6 556.7V572.1M1074.8 551.9V567M1082.1 547.1V562M1089.3 542.3V557M1096.5 537.5V551.9M1103.7 532.7V546.9M1110.9 527.9V541.9M1118.1 523.1V536.8M1125.3 518.3V531.8M1132.5 513.5V526.8M1139.7 508.7V521.7M1147 503.9V516.7M1154.2 499.1V511.7M1161.4 494.3V506.6M1168.6 489.5V501.6M1175.8 484.7V496.6M1183 479.9V491.5M1190.2 475.1V486.6M1197.4 470.3V481.7M1204.6 465.5V476.8M1211.9 460.7V471.9M1219.1 455.9V467M1226.3 448.4V462.2M1233.5 440.3V457.3" fill="none" stroke="#000" stroke-width="1.3" stroke-opacity="0.8"/>
<path d="M800.8 734.3l7.2-4.8 7.2-4.8 7.2-4.8 7.2-4.8 7.3-4.8 7.2-4.8 7.2-4.8 7.2-4.8 7.2-4.8 7.2-4.8 7.2-4.8 7.2-4.8 7.2-4.8 7.3-4.8 7.2-4.8 7.2-4.8 7.2-4.8 7.2-4.8 7.2-4.8 7.2-4.8 7.2-4.8 7.3-4.8 7.2-4.8 7.2-4.8 7.2-4.8 7.2-4.8 7.2-4.8 7.2-4.8 7.2-4.8 7.2-4.8 7.3-4.8 7.2-4.8 7.2-4.8 7.2-4.8 7.2-4.8 7.2-4.8 7.2-4.8 7.2-4.8 7.3-4.8 7.2-4.8 7.2-4.8 7.2-4.8 7.2-4.8 7.2-4.8 7.2-4.8 7.2-4.8 7.2-4.8 7.3-4.8 7.2-4.8 7.2-4.8 7.2-4.8 7.2-4.8 7.2-4.8 7.2-4.8 7.2-4.8 7.2-4.8 7.3-4.8 7.2-4.8 7.2-7.5 7.2-8.1M800.8 750.3l7.2-4.9 7.2-4.9 7.2-4.8 7.2-4.9 7.3-4.9 7.2-4.9 7.2-4.9 7.2-4.9 7.2-4.8 7.2-4.9 7.2-4.9 7.2-4.9 7.2-4.9 7.3-4.9 7.2-4.8 7.2-4.9 7.2-4.9 7.2-4.9 7.2-4.9 7.2-4.9 7.2-4.8 7.3-4.9 7.2-4.9 7.2-4.9 7.2-4.9 7.2-4.9 7.2-4.9 7.2-4.8 7.2-4.9 7.2-4.9 7.3-4.9 7.2-4.9 7.2-4.9 7.2-4.8 7.2-4.9 7.2-4.9 7.2-4.9 7.2-4.9 7.3-4.9 7.2-4.8 7.2-4.9 7.2-4.9 7.2-4.9 7.2-4.9 7.2-4.9 7.2-4.8 7.2-4.9 7.3-4.9 7.2-4.9 7.2-4.9 7.2-4.9 7.2-4.8 7.2-4.9 7.2-4.9 7.2-4.9 7.2-4.9 7.3-4.9 7.2-4.9 7.2-4.8 7.2-4.9M800.8 758.3l7.2-5 7.2-5.1 7.2-5 7.2-5 7.3-5.1 7.2-5 7.2-5 7.2-5.1 7.2-5 7.2-5 7.2-5.1 7.2-5 7.2-5 7.3-5.1 7.2-5 7.2-5 7.2-5.1 7.2-5 7.2-5 7.2-5.1 7.2-5 7.3-5 7.2-5.1 7.2-5 7.2-5 7.2-5.1 7.2-5 7.2-5 7.2-5.1 7.2-5 7.3-5 7.2-5.1 7.2-5 7.2-5 7.2-5.1 7.2-5 7.2-5 7.2-5.1 7.3-5 7.2-5 7.2-5.1 7.2-5 7.2-5 7.2-5.1 7.2-5 7.2-5 7.2-5.1 7.3-5 7.2-5 7.2-5.1 7.2-5 7.2-5 7.2-5.1 7.2-4.9 7.2-4.9 7.2-4.9 7.3-4.9 7.2-4.9 7.2-4.8 7.2-4.9" fill="none" stroke="#000" stroke-width="0.8" stroke-linejoin="round"/>
<path d="M800.8 734.3L800.8 758.3" stroke="#000" stroke-width="2.4" fill="none"/>
<path d="M1233.5 440.3L1233.5 457.3" stroke="#000" stroke-width="1.6" fill="none"/>
<polygon points="800.8,735.3 805.7,749.9 1238.4,456.9 1233.5,448.3" fill="#000"/>
<polygon points="805.7,736.9 1238.4,449.9 1238.4,457.9 805.7,757.9" fill="#000"/>
<line x1="179.3" y1="805.5" x2="179.3" y2="285.5" stroke="#4a4a4a" stroke-width="1.6"/>
<line x1="179.3" y1="805.5" x2="806.9" y2="1011" stroke="#4a4a4a" stroke-width="1.6"/>
<line x1="806.9" y1="1011" x2="1247.3" y2="715.8" stroke="#4a4a4a" stroke-width="1.6"/>
<line x1="179.3" y1="285.5" x2="161.5" y2="279.7" stroke="#4a4a4a" stroke-width="1.6"/>
<text x="149.6" y="290.1" font-size="29.5" text-anchor="end" font-family='"Liberation Sans", sans-serif' fill="#262626">0.04</text>
<line x1="179.3" y1="415.5" x2="161.5" y2="409.7" stroke="#4a4a4a" stroke-width="1.6"/>
<text x="149.6" y="420.1" font-size="29.5" text-anchor="end" font-family='"Liberation Sans", sans-serif' fill="#262626">0.02</text>
<line x1="179.3" y1="545.5" x2="161.5" y2="539.7" stroke="#4a4a4a" stroke-width="1.6"/>
<text x="149.6" y="550.1" font-size="29.5" text-anchor="end" font-family='"Liberation Sans", sans-serif' fill="#262626">0</text>
<line x1="179.3" y1="675.5" x2="161.5" y2="669.7" stroke="#4a4a4a" stroke-width="1.6"/>
<text x="149.6" y="680.1" font-size="29.5" text-anchor="end" font-family='"Liberation Sans", sans-serif' fill="#262626">-0.02</text>
<line x1="179.3" y1="805.5" x2="161.5" y2="799.7" stroke="#4a4a4a" stroke-width="1.6"/>
<text x="149.6" y="810.1" font-size="29.5" text-anchor="end" font-family='"Liberation Sans", sans-serif' fill="#262626">-0.04</text>
<line x1="179.3" y1="805.5" x2="164.8" y2="815.2" stroke="#4a4a4a" stroke-width="1.6"/>
<text x="153.8" y="852.9" font-size="29.5" text-anchor="end" font-family='"Liberation Sans", sans-serif' fill="#262626">0</text>
<line x1="283.9" y1="839.8" x2="269.4" y2="849.5" stroke="#4a4a4a" stroke-width="1.6"/>
<text x="258.4" y="887.1" font-size="29.5" text-anchor="end" font-family='"Liberation Sans", sans-serif' fill="#262626">0.02</text>
<line x1="388.5" y1="874" x2="374" y2="883.7" stroke="#4a4a4a" stroke-width="1.6"/>
<text x="363" y="921.4" font-size="29.5" text-anchor="end" font-family='"Liberation Sans", sans-serif' fill="#262626">0.04</text>
<line x1="493.1" y1="908.2" x2="478.6" y2="918" stroke="#4a4a4a" stroke-width="1.6"/>
<text x="467.6" y="955.6" font-size="29.5" text-anchor="end" font-family='"Liberation Sans", sans-serif' fill="#262626">0.06</text>
<line x1="597.7" y1="942.5" x2="583.2" y2="952.2" stroke="#4a4a4a" stroke-width="1.6"/>
<text x="572.2" y="989.9" font-size="29.5" text-anchor="end" font-family='"Liberation Sans", sans-serif' fill="#262626">0.08</text>
<line x1="702.3" y1="976.8" x2="687.8" y2="986.5" stroke="#4a4a4a" stroke-width="1.6"/>
<text x="676.8" y="1024.2" font-size="29.5" text-anchor="end" font-family='"Liberation Sans", sans-serif' fill="#262626">0.1</text>
<line x1="806.9" y1="1011" x2="792.4" y2="1020.7" stroke="#4a4a4a" stroke-width="1.6"/>
<text x="781.4" y="1058.4" font-size="29.5" text-anchor="end" font-family='"Liberation Sans", sans-serif' fill="#262626">0.12</text>
<line x1="1247.3" y1="715.8" x2="1265.1" y2="721.6" stroke="#4a4a4a" stroke-width="1.6"/>
<text x="1273.3" y="756.2" font-size="29.5" text-anchor="start" font-family='"Liberation Sans", sans-serif' fill="#262626">0</text>
<line x1="1173.9" y1="765" x2="1191.7" y2="770.8" stroke="#4a4a4a" stroke-width="1.6"/>
<text x="1199.9" y="805.4" font-size="29.5" text-anchor="start" font-family='"Liberation Sans", sans-serif' fill="#262626">50</text>
<line x1="1100.5" y1="814.2" x2="1118.3" y2="820" stroke="#4a4a4a" stroke-width="1.6"/>
<text x="1126.5" y="854.6" font-size="29.5" text-anchor="start" font-family='"Liberation Sans", sans-serif' fill="#262626">100</text>
<line x1="1027.1" y1="863.4" x2="1044.9" y2="869.2" stroke="#4a4a4a" stroke-width="1.6"/>
<text x="1053.1" y="903.8" font-size="29.5" text-anchor="start" font-family='"Liberation Sans", sans-serif' fill="#262626">150</text>
<line x1="953.7" y1="912.6" x2="971.5" y2="918.4" stroke="#4a4a4a" stroke-width="1.6"/>
<text x="979.7" y="953" font-size="29.5" text-anchor="start" font-family='"Liberation Sans", sans-serif' fill="#262626">200</text>
<line x1="880.3" y1="961.8" x2="898.1" y2="967.6" stroke="#4a4a4a" stroke-width="1.6"/>
<text x="906.3" y="1002.2" font-size="29.5" text-anchor="start" font-family='"Liberation Sans", sans-serif' fill="#262626">250</text>
<line x1="806.9" y1="1011" x2="824.7" y2="1016.8" stroke="#4a4a4a" stroke-width="1.6"/>
<text x="832.9" y="1051.4" font-size="29.5" text-anchor="start" font-family='"Liberation Sans", sans-serif' fill="#262626">300</text>
<text x="464" y="1047" font-size="33.4" text-anchor="middle" font-family='"Liberation Sans", sans-serif' fill="#262626">Time (ms)</text>
<text x="1146.5" y="1025" font-size="33.4" text-anchor="middle" font-family='"Liberation Sans", sans-serif' fill="#262626">Rec.moments (s)</text>
<text x="64.3" y="546" font-size="33.4" text-anchor="middle" font-family='"Liberation Sans", sans-serif' fill="#262626" transform="rotate(-90 64.3 546)">Signal amplitude (A.U.)</text>
<text x="15" y="140.3" font-size="96" text-anchor="start" font-family='"Liberation Serif", serif' fill="#111">a)</text>
</g>
<g id="plot-b">
<g><line x1="179.3" y1="2056.2" x2="619.7" y2="1761" stroke="#e3e3e3" stroke-width="1.6"/><line x1="283.9" y1="2090.4" x2="724.3" y2="1795.2" stroke="#e3e3e3" stroke-width="1.6"/><line x1="388.5" y1="2124.7" x2="828.9" y2="1829.5" stroke="#e3e3e3" stroke-width="1.6"/><line x1="493.1" y1="2158.9" x2="933.5" y2="1863.7" stroke="#e3e3e3" stroke-width="1.6"/><line x1="597.7" y1="2193.2" x2="1038.1" y2="1898" stroke="#e3e3e3" stroke-width="1.6"/><line x1="702.3" y1="2227.4" x2="1142.7" y2="1932.2" stroke="#e3e3e3" stroke-width="1.6"/><line x1="806.9" y1="2261.7" x2="1247.3" y2="1966.5" stroke="#e3e3e3" stroke-width="1.6"/><line x1="179.3" y1="2056.2" x2="806.9" y2="2261.7" stroke="#e3e3e3" stroke-width="1.6"/><line x1="179.3" y1="2056.2" x2="179.3" y2="1539.2" stroke="#e3e3e3" stroke-width="1.6"/><line x1="326.1" y1="1957.8" x2="953.7" y2="2163.3" stroke="#e3e3e3" stroke-width="1.6"/><line x1="326.1" y1="1957.8" x2="326.1" y2="1440.8" stroke="#e3e3e3" stroke-width="1.6"/><line x1="472.9" y1="1859.4" x2="1100.5" y2="2064.9" stroke="#e3e3e3" stroke-width="1.6"/><line x1="472.9" y1="1859.4" x2="472.9" y2="1342.4" stroke="#e3e3e3" stroke-width="1.6"/><line x1="619.7" y1="1761" x2="1247.3" y2="1966.5" stroke="#e3e3e3" stroke-width="1.6"/><line x1="619.7" y1="1761" x2="619.7" y2="1244" stroke="#e3e3e3" stroke-width="1.6"/><line x1="619.7" y1="1761" x2="619.7" y2="1244" stroke="#e3e3e3" stroke-width="1.6"/><line x1="724.3" y1="1795.2" x2="724.3" y2="1278.2" stroke="#e3e3e3" stroke-width="1.6"/><line x1="828.9" y1="1829.5" x2="828.9" y2="1312.5" stroke="#e3e3e3" stroke-width="1.6"/><line x1="933.5" y1="1863.7" x2="933.5" y2="1346.8" stroke="#e3e3e3" stroke-width="1.6"/><line x1="1038.1" y1="1898" x2="1038.1" y2="1381" stroke="#e3e3e3" stroke-width="1.6"/><line x1="1142.7" y1="1932.2" x2="1142.7" y2="1415.2" stroke="#e3e3e3" stroke-width="1.6"/><line x1="1247.3" y1="1966.5" x2="1247.3" y2="1449.5" stroke="#e3e3e3" stroke-width="1.6"/><line x1="179.3" y1="1539.2" x2="619.7" y2="1244" stroke="#e3e3e3" stroke-width="1.6"/><line x1="619.7" y1="1244" x2="1247.3" y2="1449.5" stroke="#e3e3e3" stroke-width="1.6"/><line x1="179.3" y1="1613.1" x2="619.7" y2="1317.9" stroke="#e3e3e3" stroke-width="1.6"/><line x1="619.7" y1="1317.9" x2="1247.3" y2="1523.4" stroke="#e3e3e3" stroke-width="1.6"/><line x1="179.3" y1="1686.9" x2="619.7" y2="1391.7" stroke="#e3e3e3" stroke-width="1.6"/><line x1="619.7" y1="1391.7" x2="1247.3" y2="1597.2" stroke="#e3e3e3" stroke-width="1.6"/><line x1="179.3" y1="1760.8" x2="619.7" y2="1465.6" stroke="#e3e3e3" stroke-width="1.6"/><line x1="619.7" y1="1465.6" x2="1247.3" y2="1671.1" stroke="#e3e3e3" stroke-width="1.6"/><line x1="179.3" y1="1834.6" x2="619.7" y2="1539.4" stroke="#e3e3e3" stroke-width="1.6"/><line x1="619.7" y1="1539.4" x2="1247.3" y2="1744.9" stroke="#e3e3e3" stroke-width="1.6"/><line x1="179.3" y1="1908.5" x2="619.7" y2="1613.3" stroke="#e3e3e3" stroke-width="1.6"/><line x1="619.7" y1="1613.3" x2="1247.3" y2="1818.8" stroke="#e3e3e3" stroke-width="1.6"/><line x1="179.3" y1="1982.3" x2="619.7" y2="1687.1" stroke="#e3e3e3" stroke-width="1.6"/><line x1="619.7" y1="1687.1" x2="1247.3" y2="1892.6" stroke="#e3e3e3" stroke-width="1.6"/><line x1="179.3" y1="2056.2" x2="619.7" y2="1761" stroke="#e3e3e3" stroke-width="1.6"/><line x1="619.7" y1="1761" x2="1247.3" y2="1966.5" stroke="#e3e3e3" stroke-width="1.6"/></g>
<polygon points="296.6,1788.3 341.5,1757 345,1757 345,1815" fill="#000"/>
<defs><linearGradient id="g7" gradientUnits="userSpaceOnUse" x1="341" y1="0" x2="708.1" y2="0"><stop offset="0.000" stop-color="#28c47d"/><stop offset="0.250" stop-color="#44c576"/><stop offset="0.350" stop-color="#b9c855"/><stop offset="1.000" stop-color="#b9c855"/></linearGradient></defs>
<path d="M341 1544.4l6.8-4.4 6.8-4.3 6.8-4.4 6.8-4.4 6.8-4.3 6.8-4.4 6.8-4.4 6.8-4.4 6.8-4.3 6.8-4.4 6.8-4.4 6.8-4.3 6.7-4.4 6.8-4.4 6.8-4.4 6.8-4.3 6.8-4.4 6.8-4.4 6.8-4.3 6.8-4.4 6.8-4.4 6.8-4.4 6.8-4.3 6.8-4.4 6.8-4.4 6.8-4.3 6.8-4.4 6.8-4.4 6.8-4.4 6.8-4.4 6.8-4.5 6.8-4.4 6.8-4.4 6.8-4.4 6.8-4.4 6.8-4.4 6.8-4.4 6.8-4.4 6.8-4.4 6.8-4.4 6.8-4.4 6.8-4.5 6.8-4.4 6.8-4.4 6.8-4.4 6.8-4.4 6.8-4.4 6.8-4.4 6.8-4.4 6.8-4.4 6.8-4.4 6.8-4.4 6.8-4.4 6.8-4.5 0 4 -6.8 4.5 -6.8 4.4 -6.8 4.4 -6.8 4.4 -6.8 4.4 -6.8 4.4 -6.8 4.4 -6.8 4.4 -6.8 4.4 -6.8 4.4 -6.8 4.4 -6.8 4.4 -6.8 4.5 -6.8 4.4 -6.8 4.4 -6.8 4.4 -6.8 4.4 -6.8 4.4 -6.8 4.4 -6.8 4.4 -6.8 4.4 -6.8 4.4 -6.8 4.4 -6.8 4.5 -6.8 4.4 -6.8 4.4 -6.8 4.4 -6.8 4.4 -6.8 4.3 -6.8 4.4 -6.8 4.4 -6.8 4.3 -6.8 4.4 -6.8 4.4 -6.8 4.4 -6.8 4.3 -6.8 4.4 -6.8 4.4 -6.8 4.3 -6.8 4.4 -6.8 4.4 -6.7 4.4 -6.8 4.3 -6.8 4.4 -6.8 4.4 -6.8 4.3 -6.8 4.4 -6.8 4.4 -6.8 4.4 -6.8 4.3 -6.8 4.4 -6.8 4.4 -6.8 4.3 -6.8 4.4z" fill="#a3a600"/>
<path d="M341 1548.4l6.8-4.4 6.8-4.3 6.8-4.4 6.8-4.4 6.8-4.3 6.8-4.4 6.8-4.4 6.8-4.4 6.8-4.3 6.8-4.4 6.8-4.4 6.8-4.3 6.7-4.4 6.8-4.4 6.8-4.4 6.8-4.3 6.8-4.4 6.8-4.4 6.8-4.3 6.8-4.4 6.8-4.4 6.8-4.4 6.8-4.3 6.8-4.4 6.8-4.4 6.8-4.3 6.8-4.4 6.8-4.4 6.8-4.4 6.8-4.4 6.8-4.5 6.8-4.4 6.8-4.4 6.8-4.4 6.8-4.4 6.8-4.4 6.8-4.4 6.8-4.4 6.8-4.4 6.8-4.4 6.8-4.4 6.8-4.5 6.8-4.4 6.8-4.4 6.8-4.4 6.8-4.4 6.8-4.4 6.8-4.4 6.8-4.4 6.8-4.4 6.8-4.4 6.8-4.4 6.8-4.4 6.8-4.5 0 60 -6.8 0.2 -6.8 0.1 -6.8 1.1 -6.8 3.7 -6.8 3.7 -6.8 4.1 -6.8 4 -6.8 6.4 -6.8 6.4 -6.8 6.8 -6.8 7.9 -6.8 7.9 -6.8 6.5 -6.8 5.5 -6.8 5.6 -6.8 5.6 -6.8 5.7 -6.8 6.3 -6.8 6.7 -6.8 6.2 -6.8 5.4 -6.8 5.4 -6.8 5.6 -6.8 5.7 -6.8 6.5 -6.8 10.6 -6.8 5.3 -6.8 5.3 -6.8 6.2 -6.8 7.8 -6.8 6.6 -6.8 2.4 -6.8 2.3 -6.8 6.7 -6.8 10.7 -6.8 4.5 -6.8 3.8 -6.8 3.7 -6.8 2.9 -6.8 3 -6.8 2.9 -6.7 2.9 -6.8-0.9 -6.8-1.5 -6.8-3.8 -6.8-4.7 -6.8-2.9 -6.8-1.7 -6.8 5.2 -6.8 5.5 -6.8 5.6 -6.8 2.1 -6.8 1.8 -6.8 1.8z" fill="#f9fb0e"/>
<path d="M341 1594.4l6.8-1.8 6.8-1.8 6.8-2.1 6.8-5.6 6.8-5.5 6.8-5.2 6.8 1.7 6.8 2.9 6.8 4.7 6.8 3.8 6.8 1.5 6.8 0.9 6.7-2.9 6.8-2.9 6.8-3 6.8-2.9 6.8-3.7 6.8-3.8 6.8-4.5 6.8-10.7 6.8-6.7 6.8-2.3 6.8-2.4 6.8-6.6 6.8-7.8 6.8-6.2 6.8-5.3 6.8-5.3 6.8-10.6 6.8-6.5 6.8-5.7 6.8-5.6 6.8-5.4 6.8-5.4 6.8-6.2 6.8-6.7 6.8-6.3 6.8-5.7 6.8-5.6 6.8-5.6 6.8-5.5 6.8-6.5 6.8-7.9 6.8-7.9 6.8-6.8 6.8-6.4 6.8-6.4 6.8-4 6.8-4.1 6.8-3.7 6.8-3.7 6.8-1.1 6.8-0.1 6.8-0.2 0 80 -6.8 0.9 -6.8 0.8 -6.8 1.4 -6.8 1.4 -6.8-0.5 -6.8-4.7 -6.8 10 -6.8 12.3 -6.8 8.6 -6.8 8.3 -6.8 7.9 -6.8 7.9 -6.8 7.6 -6.8 7.3 -6.8 7 -6.8 6.4 -6.8 6.4 -6.8 6.9 -6.8 7.2 -6.8 7.2 -6.8 9.6 -6.8 9.7 -6.8 4.9 -6.8 4.1 -6.8 4.2 -6.8 4.1 -6.8 4.2 -6.8 3.6 -6.8 3.6 -6.8 4.7 -6.8 4.9 -6.8 4.8 -6.8 6.9 -6.8 8.3 -6.8 8.3 -6.8 11.6 -6.8 11.9 -6.8 11.7 -6.8 10.8 -6.8 10.7 -6.8 10.7 -6.7 3.1 -6.8 2.7 -6.8 0.8 -6.8 0.3 -6.8 0.9 -6.8 1.6 -6.8 1.6 -6.8 1.4 -6.8 1.4 -6.8 1.3 -6.8 1.8 -6.8 1.8 -6.8 1.8z" fill="#fec421"/>
<path d="M341 1735.4l6.8-1.8 6.8-1.8 6.8-1.8 6.8-1.3 6.8-1.4 6.8-1.4 6.8-1.6 6.8-1.6 6.8-0.9 6.8-0.3 6.8-0.8 6.8-2.7 6.7-3.1 6.8-10.7 6.8-10.7 6.8-10.8 6.8-11.7 6.8-11.9 6.8-11.6 6.8-8.3 6.8-8.3 6.8-6.9 6.8-4.8 6.8-4.9 6.8-4.7 6.8-3.6 6.8-3.6 6.8-4.2 6.8-4.1 6.8-4.2 6.8-4.1 6.8-4.9 6.8-9.7 6.8-9.6 6.8-7.2 6.8-7.2 6.8-6.9 6.8-6.4 6.8-6.4 6.8-7 6.8-7.3 6.8-7.6 6.8-7.9 6.8-7.9 6.8-8.3 6.8-8.6 6.8-12.3 6.8-10 6.8 4.7 6.8 0.5 6.8-1.4 6.8-1.4 6.8-0.8 6.8-0.9 0 95 -6.8 2.4 -6.8 0.8 -6.8-7.1 -6.8 5.4 -6.8 6.5 -6.8-10 -6.8 5.4 -6.8 11.6 -6.8 11.6 -6.8 9.6 -6.8 8.5 -6.8 8 -6.8 4.5 -6.8 4.5 -6.8 4.5 -6.8 4.5 -6.8 4.5 -6.8 4.5 -6.8 4.5 -6.8 4.4 -6.8 4.5 -6.8 4.5 -6.8 4.5 -6.8 4.5 -6.8 4.5 -6.8 4.5 -6.8 4.5 -6.8 3.3 -6.8 3.3 -6.8 3.3 -6.8 3.4 -6.8 3.3 -6.8 3.3 -6.8 3.3 -6.8 3.4 -6.8 6.1 -6.8 6.4 -6.8 6.4 -6.8 6.4 -6.8 6.4 -6.8 6.4 -6.7-0.7 -6.8-1 -6.8-0.3 -6.8 0 -6.8 0.7 -6.8 2 -6.8 1.9 -6.8 2 -6.8 2.1 -6.8 2.2 -6.8 2.4 -6.8 2.5 -6.8 2.5z" fill="url(#g7)"/>
<path d="M341 1747.4l6.8-2.5 6.8-2.5 6.8-2.4 6.8-2.2 6.8-2.1 6.8-2 6.8-1.9 6.8-2 6.8-0.7 6.8 0 6.8 0.3 6.8 1 6.7 0.7 6.8-6.4 6.8-6.4 6.8-6.4 6.8-6.4 6.8-6.4 6.8-6.1 6.8-3.4 6.8-3.3 6.8-3.3 6.8-3.3 6.8-3.4 6.8-3.3 6.8-3.3 6.8-3.3 6.8-4.5 6.8-4.5 6.8-4.5 6.8-4.5 6.8-4.5 6.8-4.5 6.8-4.5 6.8-4.4 6.8-4.5 6.8-4.5 6.8-4.5 6.8-4.5 6.8-4.5 6.8-4.5 6.8-4.5 6.8-8 6.8-8.5 6.8-9.6 6.8-11.6 6.8-11.6 6.8-5.4 6.8 10 6.8-6.5 6.8-5.4 6.8 7.1 6.8-0.8 6.8-2.4 0 16 -6.8 4.5 -6.8 4.5 -6.8 4.5 -6.8 4.5 -6.8 4.5 -6.8 4.5 -6.8 4.6 -6.8 4.5 -6.8 4.5 -6.8 4.5 -6.8 4.5 -6.8 4.5 -6.8 4.5 -6.8 4.5 -6.8 4.5 -6.8 4.5 -6.8 4.5 -6.8 4.5 -6.8 4.5 -6.8 4.5 -6.8 4.5 -6.8 4.5 -6.8 4.5 -6.8 4.5 -6.8 4.5 -6.8 4.5 -6.8 4.5 -6.8 4.5 -6.8 4.5 -6.8 4.5 -6.8 4.5 -6.8 4.5 -6.8 4.5 -6.8 4.5 -6.8 4.5 -6.8 4.5 -6.8 4.5 -6.8 4.5 -6.8 4.5 -6.8 4.5 -6.8 4.5 -6.7 4.5 -6.8 4.5 -6.8 4.5 -6.8 4.5 -6.8 4.5 -6.8 4.5 -6.8 4.5 -6.8 4.5 -6.8 4.5 -6.8 4.5 -6.8 4.5 -6.8 4.5 -6.8 4.5z" fill="#02be97"/>
<path d="M341 1805.4l6.8-4.5 6.8-4.5 6.8-4.5 6.8-4.5 6.8-4.5 6.8-4.5 6.8-4.5 6.8-4.5 6.8-4.5 6.8-4.5 6.8-4.5 6.8-4.5 6.7-4.5 6.8-4.5 6.8-4.5 6.8-4.5 6.8-4.5 6.8-4.5 6.8-4.5 6.8-4.5 6.8-4.5 6.8-4.5 6.8-4.5 6.8-4.5 6.8-4.5 6.8-4.5 6.8-4.5 6.8-4.5 6.8-4.5 6.8-4.5 6.8-4.5 6.8-4.5 6.8-4.5 6.8-4.5 6.8-4.5 6.8-4.5 6.8-4.5 6.8-4.5 6.8-4.5 6.8-4.5 6.8-4.5 6.8-4.5 6.8-4.5 6.8-4.5 6.8-4.5 6.8-4.5 6.8-4.5 6.8-4.6 6.8-4.5 6.8-4.5 6.8-4.5 6.8-4.5 6.8-4.5 6.8-4.5 0 12 -6.8 4.7 -6.8 4.6 -6.8 4.6 -6.8 4.6 -6.8 4.6 -6.8 4.6 -6.8 4.6 -6.8 4.6 -6.8 4.7 -6.8 4.6 -6.8 4.6 -6.8 4.6 -6.8 4.6 -6.8 4.6 -6.8 4.6 -6.8 4.6 -6.8 4.7 -6.8 4.6 -6.8 4.6 -6.8 4.6 -6.8 4.6 -6.8 4.6 -6.8 4.6 -6.8 4.6 -6.8 4.7 -6.8 4.6 -6.8 4.6 -6.8 4.6 -6.8 4.6 -6.8 4.6 -6.8 4.6 -6.8 4.6 -6.8 4.7 -6.8 4.6 -6.8 4.6 -6.8 4.6 -6.8 4.6 -6.8 4.6 -6.8 4.6 -6.8 4.6 -6.8 4.7 -6.7 4.6 -6.8 4.6 -6.8 4.6 -6.8 4.6 -6.8 4.6 -6.8 4.6 -6.8 4.6 -6.8 4.7 -6.8 4.6 -6.8 4.6 -6.8 4.6 -6.8 4.6 -6.8 4.6z" fill="#000"/>
<path d="M341 1823.4l6.8-4.6 6.8-4.6 6.8-4.6 6.8-4.6 6.8-4.6 6.8-4.7 6.8-4.6 6.8-4.6 6.8-4.6 6.8-4.6 6.8-4.6 6.8-4.6 6.7-4.6 6.8-4.7 6.8-4.6 6.8-4.6 6.8-4.6 6.8-4.6 6.8-4.6 6.8-4.6 6.8-4.6 6.8-4.7 6.8-4.6 6.8-4.6 6.8-4.6 6.8-4.6 6.8-4.6 6.8-4.6 6.8-4.6 6.8-4.7 6.8-4.6 6.8-4.6 6.8-4.6 6.8-4.6 6.8-4.6 6.8-4.6 6.8-4.6 6.8-4.7 6.8-4.6 6.8-4.6 6.8-4.6 6.8-4.6 6.8-4.6 6.8-4.6 6.8-4.6 6.8-4.7 6.8-4.6 6.8-4.6 6.8-4.6 6.8-4.6 6.8-4.6 6.8-4.6 6.8-4.6 6.8-4.7 0 24 -6.8 4.6 -6.8 4.6 -6.8 4.5 -6.8 4.6 -6.8 4.5 -6.8 4.6 -6.8 4.5 -6.8 4.6 -6.8 4.6 -6.8 4.5 -6.8 4.6 -6.8 4.5 -6.8 4.6 -6.8 4.5 -6.8 4.6 -6.8 4.6 -6.8 4.5 -6.8 4.6 -6.8 4.5 -6.8 4.6 -6.8 4.5 -6.8 4.6 -6.8 4.6 -6.8 4.5 -6.8 4.6 -6.8 4.5 -6.8 4.6 -6.8 4.5 -6.8 4.6 -6.8 4.6 -6.8 4.5 -6.8 4.6 -6.8 4.5 -6.8 4.6 -6.8 4.5 -6.8 4.6 -6.8 4.6 -6.8 9.7 -6.8 30.5 -6.8 15.1 -6.8 7.3 -6.7 2.1 -6.8 2.2 -6.8 2.1 -6.8 2.2 -6.8 2.2 -6.8 2.1 -6.8 2.2 -6.8 2.1 -6.8 2.2 -6.8 2.1 -6.8 2.2 -6.8 2.2 -6.8 2.1z" fill="#12adcb"/>
<path d="M341 1857.6l6.8-2.1 6.8-2.2 6.8-2.2 6.8-2.1 6.8-2.2 6.8-2.1 6.8-2.2 6.8-2.1 6.8-2.2 6.8-2.2 6.8-2.1 6.8-2.2 6.7-2.1 6.8-7.3 6.8-15.1 6.8-30.5 6.8-9.7 6.8-4.6 6.8-4.6 6.8-4.5 6.8-4.6 6.8-4.5 6.8-4.6 6.8-4.5 6.8-4.6 6.8-4.6 6.8-4.5 6.8-4.6 6.8-4.5 6.8-4.6 6.8-4.5 6.8-4.6 6.8-4.6 6.8-4.5 6.8-4.6 6.8-4.5 6.8-4.6 6.8-4.5 6.8-4.6 6.8-4.6 6.8-4.5 6.8-4.6 6.8-4.5 6.8-4.6 6.8-4.5 6.8-4.6 6.8-4.6 6.8-4.5 6.8-4.6 6.8-4.5 6.8-4.6 6.8-4.5 6.8-4.6 6.8-4.6 0 0 -6.8 4.6 -6.8 4.6 -6.8 4.5 -6.8 4.6 -6.8 4.5 -6.8 4.6 -6.8 4.5 -6.8 4.6 -6.8 4.6 -6.8 4.5 -6.8 4.6 -6.8 4.5 -6.8 4.6 -6.8 4.5 -6.8 4.6 -6.8 4.6 -6.8 4.5 -6.8 4.6 -6.8 4.5 -6.8 4.6 -6.8 4.5 -6.8 4.6 -6.8 4.6 -6.8 4.5 -6.8 4.6 -6.8 4.5 -6.8 4.6 -6.8 4.5 -6.8 4.6 -6.8 4.6 -6.8 4.5 -6.8 4.6 -6.8 4.5 -6.8 4.6 -6.8 4.5 -6.8 4.6 -6.8 4.6 -6.8 9.7 -6.8 30.5 -6.8 30.5 -6.8 35.6 -6.7 33.3 -6.8 0.3 -6.8-0.3 -6.8-0.4 -6.8-0.3 -6.8-0.4 -6.8-0.3 -6.8-0.4 -6.8-0.4 -6.8-0.3 -6.8-0.4 -6.8-0.4 -6.8-0.3z" fill="#2297e6"/>
<path d="M341 1903l6.8 0.3 6.8 0.4 6.8 0.4 6.8 0.3 6.8 0.4 6.8 0.4 6.8 0.3 6.8 0.4 6.8 0.3 6.8 0.4 6.8 0.3 6.8-0.3 6.7-33.3 6.8-35.6 6.8-30.5 6.8-30.5 6.8-9.7 6.8-4.6 6.8-4.6 6.8-4.5 6.8-4.6 6.8-4.5 6.8-4.6 6.8-4.5 6.8-4.6 6.8-4.6 6.8-4.5 6.8-4.6 6.8-4.5 6.8-4.6 6.8-4.5 6.8-4.6 6.8-4.6 6.8-4.5 6.8-4.6 6.8-4.5 6.8-4.6 6.8-4.5 6.8-4.6 6.8-4.6 6.8-4.5 6.8-4.6 6.8-4.5 6.8-4.6 6.8-4.5 6.8-4.6 6.8-4.6 6.8-4.5 6.8-4.6 6.8-4.5 6.8-4.6 6.8-4.5 6.8-4.6 6.8-4.6 0 0 -6.8 4.6 -6.8 4.6 -6.8 4.5 -6.8 4.6 -6.8 4.5 -6.8 4.6 -6.8 4.5 -6.8 4.6 -6.8 4.6 -6.8 4.5 -6.8 4.6 -6.8 4.5 -6.8 4.6 -6.8 4.5 -6.8 4.6 -6.8 4.6 -6.8 4.5 -6.8 4.6 -6.8 4.5 -6.8 4.6 -6.8 4.5 -6.8 4.6 -6.8 4.6 -6.8 4.5 -6.8 4.6 -6.8 4.5 -6.8 4.6 -6.8 4.5 -6.8 4.6 -6.8 4.6 -6.8 4.5 -6.8 4.6 -6.8 4.5 -6.8 4.6 -6.8 4.5 -6.8 4.6 -6.8 4.6 -6.8 9.7 -6.8 30.5 -6.8 30.5 -6.8 35.6 -6.7 37.5 -6.8 28.1 -6.8 23.2 -6.8 9.4 -6.8 9.3 -6.8 2.6 -6.8-3.4 -6.8-3.4 -6.8-3.5 -6.8-3.5 -6.8-3.5 -6.8-3.5 -6.8-3.5z" fill="#327ef4"/>
<path d="M341 1959.1l6.8 3.5 6.8 3.5 6.8 3.5 6.8 3.5 6.8 3.5 6.8 3.4 6.8 3.4 6.8-2.6 6.8-9.3 6.8-9.4 6.8-23.2 6.8-28.1 6.7-37.5 6.8-35.6 6.8-30.5 6.8-30.5 6.8-9.7 6.8-4.6 6.8-4.6 6.8-4.5 6.8-4.6 6.8-4.5 6.8-4.6 6.8-4.5 6.8-4.6 6.8-4.6 6.8-4.5 6.8-4.6 6.8-4.5 6.8-4.6 6.8-4.5 6.8-4.6 6.8-4.6 6.8-4.5 6.8-4.6 6.8-4.5 6.8-4.6 6.8-4.5 6.8-4.6 6.8-4.6 6.8-4.5 6.8-4.6 6.8-4.5 6.8-4.6 6.8-4.5 6.8-4.6 6.8-4.6 6.8-4.5 6.8-4.6 6.8-4.5 6.8-4.6 6.8-4.5 6.8-4.6 6.8-4.6 0 0 -6.8 4.6 -6.8 4.6 -6.8 4.5 -6.8 4.6 -6.8 4.5 -6.8 4.6 -6.8 4.5 -6.8 4.6 -6.8 4.6 -6.8 4.5 -6.8 4.6 -6.8 4.5 -6.8 4.6 -6.8 4.5 -6.8 4.6 -6.8 4.6 -6.8 4.5 -6.8 4.6 -6.8 4.5 -6.8 4.6 -6.8 4.5 -6.8 4.6 -6.8 4.6 -6.8 4.5 -6.8 4.6 -6.8 4.5 -6.8 4.6 -6.8 4.5 -6.8 4.6 -6.8 4.6 -6.8 4.5 -6.8 4.6 -6.8 4.5 -6.8 4.6 -6.8 4.5 -6.8 4.6 -6.8 4.6 -6.8 9.7 -6.8 30.5 -6.8 30.5 -6.8 35.6 -6.7 37.5 -6.8 28.1 -6.8 23.2 -6.8 9.4 -6.8 9.3 -6.8 7.9 -6.8 6.6 -6.8 6.7 -6.8 6.6 -6.8 3.8 -6.8-5.5 -6.8-5.5 -6.8-5.5z" fill="#415ef2"/>
<path d="M341 1995.9l6.8 5.5 6.8 5.5 6.8 5.5 6.8-3.8 6.8-6.6 6.8-6.7 6.8-6.6 6.8-7.9 6.8-9.3 6.8-9.4 6.8-23.2 6.8-28.1 6.7-37.5 6.8-35.6 6.8-30.5 6.8-30.5 6.8-9.7 6.8-4.6 6.8-4.6 6.8-4.5 6.8-4.6 6.8-4.5 6.8-4.6 6.8-4.5 6.8-4.6 6.8-4.6 6.8-4.5 6.8-4.6 6.8-4.5 6.8-4.6 6.8-4.5 6.8-4.6 6.8-4.6 6.8-4.5 6.8-4.6 6.8-4.5 6.8-4.6 6.8-4.5 6.8-4.6 6.8-4.6 6.8-4.5 6.8-4.6 6.8-4.5 6.8-4.6 6.8-4.5 6.8-4.6 6.8-4.6 6.8-4.5 6.8-4.6 6.8-4.5 6.8-4.6 6.8-4.5 6.8-4.6 6.8-4.6 0 0 -6.8 4.6 -6.8 4.6 -6.8 4.5 -6.8 4.6 -6.8 4.5 -6.8 4.6 -6.8 4.5 -6.8 4.6 -6.8 4.6 -6.8 4.5 -6.8 4.6 -6.8 4.5 -6.8 4.6 -6.8 4.5 -6.8 4.6 -6.8 4.6 -6.8 4.5 -6.8 4.6 -6.8 4.5 -6.8 4.6 -6.8 4.5 -6.8 4.6 -6.8 4.6 -6.8 4.5 -6.8 4.6 -6.8 4.5 -6.8 4.6 -6.8 4.5 -6.8 4.6 -6.8 4.6 -6.8 4.5 -6.8 4.6 -6.8 4.5 -6.8 4.6 -6.8 4.5 -6.8 4.6 -6.8 4.6 -6.8 9.7 -6.8 30.5 -6.8 30.5 -6.8 35.6 -6.7 37.5 -6.8 28.1 -6.8 23.2 -6.8 9.4 -6.8 9.3 -6.8 7.9 -6.8 6.6 -6.8 6.7 -6.8 6.6 -6.8 6.3 -6.8 5.2 -6.8 5.1 -6.8 5.2z" fill="#4338c8"/>
<path d="M633.3 1360.3 708.1 1310.1M524.5 1430.8 708.1 1307.7M436.1 1487.6 633.3 1355.5M347.8 1544.5 524.5 1426M341 1546.6 436.1 1482.8" fill="none" stroke="#000" stroke-width="1.5" stroke-opacity="0.85"/>
<path d="M381.8 1778.9 708.1 1560.1M341 1801.8 708.1 1555.7M341 1797.4 708.1 1551.3M341 1793 708.1 1546.9M341 1788.6 422.6 1733.9M436.1 1724.8 517.7 1670.1M633.3 1592.7 694.5 1551.7M341 1784.2 415.8 1734.1M456.5 1706.8 497.3 1679.4M640.1 1583.7 687.7 1551.8M341 1779.8 415.8 1729.7M646.9 1574.8 687.7 1547.4M341 1775.4 409 1729.8M653.7 1565.8 667.3 1556.7M680.9 1547.6 687.7 1543M341 1771 402.2 1730M653.7 1561.4 667.3 1552.3M341 1766.6 395.4 1730.2M660.5 1552.4 667.3 1547.9M341 1762.2 381.8 1734.9M341 1757.8 368.2 1739.6M341 1753.4 361.4 1739.7M341 1749 347.8 1744.5" fill="none" stroke="#000" stroke-width="1.5" stroke-opacity="0.85"/>
<path d="M341 1544.4V2030.4M347.8 1540V2025.2M354.6 1535.7V2020.1M361.4 1531.3V2014.9M368.2 1526.9V2008.6M375 1522.6V2002M381.8 1518.2V1995.3M388.6 1513.8V1988.7M395.4 1509.4V1980.8M402.2 1505.1V1971.5M409 1500.7V1962.1M415.8 1496.3V1938.9M422.6 1492V1910.8M429.3 1487.6V1873.3M436.1 1483.2V1837.7M442.9 1478.8V1807.2M449.7 1474.5V1776.7M456.5 1470.1V1767M463.3 1465.7V1762.4M470.1 1461.4V1757.8M476.9 1457V1753.3M483.7 1452.6V1748.7M490.5 1448.2V1744.2M497.3 1443.9V1739.6M504.1 1439.5V1735.1M510.9 1435.1V1730.5M517.7 1430.8V1725.9M524.5 1426.4V1721.4M531.3 1422V1716.8M538.1 1417.6V1712.3M544.9 1413.2V1707.7M551.7 1408.7V1703.2M558.5 1404.3V1698.6M565.3 1399.9V1694M572.1 1395.5V1689.5M578.9 1391.1V1684.9M585.7 1386.7V1680.4M592.5 1382.3V1675.8M599.3 1377.9V1671.3M606.1 1373.5V1666.7M612.9 1369.1V1662.1M619.7 1364.7V1657.6M626.5 1360.2V1653M633.3 1355.8V1648.5M640.1 1351.4V1643.9M646.9 1347V1639.4M653.7 1342.6V1634.8M660.5 1338.2V1630.2M667.3 1333.8V1625.7M674.1 1329.4V1621.1M680.9 1325V1616.6M687.7 1320.6V1612M694.5 1316.2V1607.5M701.3 1311.8V1602.9M708.1 1307.3V1598.3" fill="none" stroke="#000" stroke-width="1.25" stroke-opacity="0.8"/>
<path d="M341 1544.4l6.8-4.4 6.8-4.3 6.8-4.4 6.8-4.4 6.8-4.3 6.8-4.4 6.8-4.4 6.8-4.4 6.8-4.3 6.8-4.4 6.8-4.4 6.8-4.3 6.7-4.4 6.8-4.4 6.8-4.4 6.8-4.3 6.8-4.4 6.8-4.4 6.8-4.3 6.8-4.4 6.8-4.4 6.8-4.4 6.8-4.3 6.8-4.4 6.8-4.4 6.8-4.3 6.8-4.4 6.8-4.4 6.8-4.4 6.8-4.4 6.8-4.5 6.8-4.4 6.8-4.4 6.8-4.4 6.8-4.4 6.8-4.4 6.8-4.4 6.8-4.4 6.8-4.4 6.8-4.4 6.8-4.4 6.8-4.5 6.8-4.4 6.8-4.4 6.8-4.4 6.8-4.4 6.8-4.4 6.8-4.4 6.8-4.4 6.8-4.4 6.8-4.4 6.8-4.4 6.8-4.4 6.8-4.5M341 1548.4l6.8-4.4 6.8-4.3 6.8-4.4 6.8-4.4 6.8-4.3 6.8-4.4 6.8-4.4 6.8-4.4 6.8-4.3 6.8-4.4 6.8-4.4 6.8-4.3 6.7-4.4 6.8-4.4 6.8-4.4 6.8-4.3 6.8-4.4 6.8-4.4 6.8-4.3 6.8-4.4 6.8-4.4 6.8-4.4 6.8-4.3 6.8-4.4 6.8-4.4 6.8-4.3 6.8-4.4 6.8-4.4 6.8-4.4 6.8-4.4 6.8-4.5 6.8-4.4 6.8-4.4 6.8-4.4 6.8-4.4 6.8-4.4 6.8-4.4 6.8-4.4 6.8-4.4 6.8-4.4 6.8-4.4 6.8-4.5 6.8-4.4 6.8-4.4 6.8-4.4 6.8-4.4 6.8-4.4 6.8-4.4 6.8-4.4 6.8-4.4 6.8-4.4 6.8-4.4 6.8-4.4 6.8-4.5M341 1594.4l6.8-1.8 6.8-1.8 6.8-2.1 6.8-5.6 6.8-5.5 6.8-5.2 6.8 1.7 6.8 2.9 6.8 4.7 6.8 3.8 6.8 1.5 6.8 0.9 6.7-2.9 6.8-2.9 6.8-3 6.8-2.9 6.8-3.7 6.8-3.8 6.8-4.5 6.8-10.7 6.8-6.7 6.8-2.3 6.8-2.4 6.8-6.6 6.8-7.8 6.8-6.2 6.8-5.3 6.8-5.3 6.8-10.6 6.8-6.5 6.8-5.7 6.8-5.6 6.8-5.4 6.8-5.4 6.8-6.2 6.8-6.7 6.8-6.3 6.8-5.7 6.8-5.6 6.8-5.6 6.8-5.5 6.8-6.5 6.8-7.9 6.8-7.9 6.8-6.8 6.8-6.4 6.8-6.4 6.8-4 6.8-4.1 6.8-3.7 6.8-3.7 6.8-1.1 6.8-0.1 6.8-0.2M341 1735.4l6.8-1.8 6.8-1.8 6.8-1.8 6.8-1.3 6.8-1.4 6.8-1.4 6.8-1.6 6.8-1.6 6.8-0.9 6.8-0.3 6.8-0.8 6.8-2.7 6.7-3.1 6.8-10.7 6.8-10.7 6.8-10.8 6.8-11.7 6.8-11.9 6.8-11.6 6.8-8.3 6.8-8.3 6.8-6.9 6.8-4.8 6.8-4.9 6.8-4.7 6.8-3.6 6.8-3.6 6.8-4.2 6.8-4.1 6.8-4.2 6.8-4.1 6.8-4.9 6.8-9.7 6.8-9.6 6.8-7.2 6.8-7.2 6.8-6.9 6.8-6.4 6.8-6.4 6.8-7 6.8-7.3 6.8-7.6 6.8-7.9 6.8-7.9 6.8-8.3 6.8-8.6 6.8-12.3 6.8-10 6.8 4.7 6.8 0.5 6.8-1.4 6.8-1.4 6.8-0.8 6.8-0.9M341 1747.4l6.8-2.5 6.8-2.5 6.8-2.4 6.8-2.2 6.8-2.1 6.8-2 6.8-1.9 6.8-2 6.8-0.7 6.8 0 6.8 0.3 6.8 1 6.7 0.7 6.8-6.4 6.8-6.4 6.8-6.4 6.8-6.4 6.8-6.4 6.8-6.1 6.8-3.4 6.8-3.3 6.8-3.3 6.8-3.3 6.8-3.4 6.8-3.3 6.8-3.3 6.8-3.3 6.8-4.5 6.8-4.5 6.8-4.5 6.8-4.5 6.8-4.5 6.8-4.5 6.8-4.5 6.8-4.4 6.8-4.5 6.8-4.5 6.8-4.5 6.8-4.5 6.8-4.5 6.8-4.5 6.8-4.5 6.8-8 6.8-8.5 6.8-9.6 6.8-11.6 6.8-11.6 6.8-5.4 6.8 10 6.8-6.5 6.8-5.4 6.8 7.1 6.8-0.8 6.8-2.4M341 1805.4l6.8-4.5 6.8-4.5 6.8-4.5 6.8-4.5 6.8-4.5 6.8-4.5 6.8-4.5 6.8-4.5 6.8-4.5 6.8-4.5 6.8-4.5 6.8-4.5 6.7-4.5 6.8-4.5 6.8-4.5 6.8-4.5 6.8-4.5 6.8-4.5 6.8-4.5 6.8-4.5 6.8-4.5 6.8-4.5 6.8-4.5 6.8-4.5 6.8-4.5 6.8-4.5 6.8-4.5 6.8-4.5 6.8-4.5 6.8-4.5 6.8-4.5 6.8-4.5 6.8-4.5 6.8-4.5 6.8-4.5 6.8-4.5 6.8-4.5 6.8-4.5 6.8-4.5 6.8-4.5 6.8-4.5 6.8-4.5 6.8-4.5 6.8-4.5 6.8-4.5 6.8-4.5 6.8-4.5 6.8-4.6 6.8-4.5 6.8-4.5 6.8-4.5 6.8-4.5 6.8-4.5 6.8-4.5M341 1823.4l6.8-4.6 6.8-4.6 6.8-4.6 6.8-4.6 6.8-4.6 6.8-4.7 6.8-4.6 6.8-4.6 6.8-4.6 6.8-4.6 6.8-4.6 6.8-4.6 6.7-4.6 6.8-4.7 6.8-4.6 6.8-4.6 6.8-4.6 6.8-4.6 6.8-4.6 6.8-4.6 6.8-4.6 6.8-4.7 6.8-4.6 6.8-4.6 6.8-4.6 6.8-4.6 6.8-4.6 6.8-4.6 6.8-4.6 6.8-4.7 6.8-4.6 6.8-4.6 6.8-4.6 6.8-4.6 6.8-4.6 6.8-4.6 6.8-4.6 6.8-4.7 6.8-4.6 6.8-4.6 6.8-4.6 6.8-4.6 6.8-4.6 6.8-4.6 6.8-4.6 6.8-4.7 6.8-4.6 6.8-4.6 6.8-4.6 6.8-4.6 6.8-4.6 6.8-4.6 6.8-4.6 6.8-4.7M341 1857.6l6.8-2.1 6.8-2.2 6.8-2.2 6.8-2.1 6.8-2.2 6.8-2.1 6.8-2.2 6.8-2.1 6.8-2.2 6.8-2.2 6.8-2.1 6.8-2.2 6.7-2.1 6.8-7.3 6.8-15.1 6.8-30.5 6.8-9.7 6.8-4.6 6.8-4.6 6.8-4.5 6.8-4.6 6.8-4.5 6.8-4.6 6.8-4.5 6.8-4.6 6.8-4.6 6.8-4.5 6.8-4.6 6.8-4.5 6.8-4.6 6.8-4.5 6.8-4.6 6.8-4.6 6.8-4.5 6.8-4.6 6.8-4.5 6.8-4.6 6.8-4.5 6.8-4.6 6.8-4.6 6.8-4.5 6.8-4.6 6.8-4.5 6.8-4.6 6.8-4.5 6.8-4.6 6.8-4.6 6.8-4.5 6.8-4.6 6.8-4.5 6.8-4.6 6.8-4.5 6.8-4.6 6.8-4.6M341 1903l6.8 0.3 6.8 0.4 6.8 0.4 6.8 0.3 6.8 0.4 6.8 0.4 6.8 0.3 6.8 0.4 6.8 0.3 6.8 0.4 6.8 0.3 6.8-0.3 6.7-33.3 6.8-35.6 6.8-30.5 6.8-30.5 6.8-9.7 6.8-4.6 6.8-4.6 6.8-4.5 6.8-4.6 6.8-4.5 6.8-4.6 6.8-4.5 6.8-4.6 6.8-4.6 6.8-4.5 6.8-4.6 6.8-4.5 6.8-4.6 6.8-4.5 6.8-4.6 6.8-4.6 6.8-4.5 6.8-4.6 6.8-4.5 6.8-4.6 6.8-4.5 6.8-4.6 6.8-4.6 6.8-4.5 6.8-4.6 6.8-4.5 6.8-4.6 6.8-4.5 6.8-4.6 6.8-4.6 6.8-4.5 6.8-4.6 6.8-4.5 6.8-4.6 6.8-4.5 6.8-4.6 6.8-4.6M341 1959.1l6.8 3.5 6.8 3.5 6.8 3.5 6.8 3.5 6.8 3.5 6.8 3.4 6.8 3.4 6.8-2.6 6.8-9.3 6.8-9.4 6.8-23.2 6.8-28.1 6.7-37.5 6.8-35.6 6.8-30.5 6.8-30.5 6.8-9.7 6.8-4.6 6.8-4.6 6.8-4.5 6.8-4.6 6.8-4.5 6.8-4.6 6.8-4.5 6.8-4.6 6.8-4.6 6.8-4.5 6.8-4.6 6.8-4.5 6.8-4.6 6.8-4.5 6.8-4.6 6.8-4.6 6.8-4.5 6.8-4.6 6.8-4.5 6.8-4.6 6.8-4.5 6.8-4.6 6.8-4.6 6.8-4.5 6.8-4.6 6.8-4.5 6.8-4.6 6.8-4.5 6.8-4.6 6.8-4.6 6.8-4.5 6.8-4.6 6.8-4.5 6.8-4.6 6.8-4.5 6.8-4.6 6.8-4.6M341 1995.9l6.8 5.5 6.8 5.5 6.8 5.5 6.8-3.8 6.8-6.6 6.8-6.7 6.8-6.6 6.8-7.9 6.8-9.3 6.8-9.4 6.8-23.2 6.8-28.1 6.7-37.5 6.8-35.6 6.8-30.5 6.8-30.5 6.8-9.7 6.8-4.6 6.8-4.6 6.8-4.5 6.8-4.6 6.8-4.5 6.8-4.6 6.8-4.5 6.8-4.6 6.8-4.6 6.8-4.5 6.8-4.6 6.8-4.5 6.8-4.6 6.8-4.5 6.8-4.6 6.8-4.6 6.8-4.5 6.8-4.6 6.8-4.5 6.8-4.6 6.8-4.5 6.8-4.6 6.8-4.6 6.8-4.5 6.8-4.6 6.8-4.5 6.8-4.6 6.8-4.5 6.8-4.6 6.8-4.6 6.8-4.5 6.8-4.6 6.8-4.5 6.8-4.6 6.8-4.5 6.8-4.6 6.8-4.6M341 2030.4l6.8-5.2 6.8-5.1 6.8-5.2 6.8-6.3 6.8-6.6 6.8-6.7 6.8-6.6 6.8-7.9 6.8-9.3 6.8-9.4 6.8-23.2 6.8-28.1 6.7-37.5 6.8-35.6 6.8-30.5 6.8-30.5 6.8-9.7 6.8-4.6 6.8-4.6 6.8-4.5 6.8-4.6 6.8-4.5 6.8-4.6 6.8-4.5 6.8-4.6 6.8-4.6 6.8-4.5 6.8-4.6 6.8-4.5 6.8-4.6 6.8-4.5 6.8-4.6 6.8-4.6 6.8-4.5 6.8-4.6 6.8-4.5 6.8-4.6 6.8-4.5 6.8-4.6 6.8-4.6 6.8-4.5 6.8-4.6 6.8-4.5 6.8-4.6 6.8-4.5 6.8-4.6 6.8-4.6 6.8-4.5 6.8-4.6 6.8-4.5 6.8-4.6 6.8-4.5 6.8-4.6 6.8-4.6M341 1836l6.8-3.3 6.8-3.4 6.8-3.4 6.8-3.3 6.8-3.4 6.8-3.3 6.8-3.4 6.8-3.3 6.8-3.4 6.8-3.4 6.8-3.3 6.8-3.4 6.7-3.3 6.8-3.4 6.8-4.6 6.8-11.5 6.8-5.9 6.8-4.6 6.8-4.6 6.8-4.5 6.8-4.6 6.8-4.5 6.8-4.6 6.8-4.5 6.8-4.6 6.8-4.6 6.8-4.5 6.8-4.6 6.8-4.5 6.8-4.6 6.8-4.5 6.8-4.6 6.8-4.6 6.8-4.5 6.8-4.6 6.8-4.5 6.8-4.6 6.8-4.5 6.8-4.6 6.8-4.6 6.8-4.5 6.8-4.6 6.8-4.5 6.8-4.6 6.8-4.5 6.8-4.6 6.8-4.6 6.8-4.5 6.8-4.6 6.8-4.5 6.8-4.6 6.8-4.5 6.8-4.6 6.8-4.6M341 1879.2l6.8-0.9 6.8-1 6.8-1 6.8-0.9 6.8-1 6.8-0.9 6.8-1 6.8-0.9 6.8-1 6.8-1 6.8-0.9 6.8-1 6.7-8.9 6.8-21.1 6.8-30.5 6.8-30.5 6.8-9.7 6.8-4.6 6.8-4.6 6.8-4.5 6.8-4.6 6.8-4.5 6.8-4.6 6.8-4.5 6.8-4.6 6.8-4.6 6.8-4.5 6.8-4.6 6.8-4.5 6.8-4.6 6.8-4.5 6.8-4.6 6.8-4.6 6.8-4.5 6.8-4.6 6.8-4.5 6.8-4.6 6.8-4.5 6.8-4.6 6.8-4.6 6.8-4.5 6.8-4.6 6.8-4.5 6.8-4.6 6.8-4.5 6.8-4.6 6.8-4.6 6.8-4.5 6.8-4.6 6.8-4.5 6.8-4.6 6.8-4.5 6.8-4.6 6.8-4.6M341 1931.1l6.8 1.9 6.8 1.9 6.8 1.9 6.8 2 6.8 1.9 6.8 1.9 6.8 1.9 6.8 1.9 6.8 2 6.8 1.9 6.8-11.4 6.8-28.1 6.7-37.5 6.8-35.6 6.8-30.5 6.8-30.5 6.8-9.7 6.8-4.6 6.8-4.6 6.8-4.5 6.8-4.6 6.8-4.5 6.8-4.6 6.8-4.5 6.8-4.6 6.8-4.6 6.8-4.5 6.8-4.6 6.8-4.5 6.8-4.6 6.8-4.5 6.8-4.6 6.8-4.6 6.8-4.5 6.8-4.6 6.8-4.5 6.8-4.6 6.8-4.5 6.8-4.6 6.8-4.6 6.8-4.5 6.8-4.6 6.8-4.5 6.8-4.6 6.8-4.5 6.8-4.6 6.8-4.6 6.8-4.5 6.8-4.6 6.8-4.5 6.8-4.6 6.8-4.5 6.8-4.6 6.8-4.6M341 1978.6l6.8 4.5 6.8 4.6 6.8 4.6 6.8 4.5 6.8 1.8 6.8-3.3 6.8-6.6 6.8-7.9 6.8-9.3 6.8-9.4 6.8-23.2 6.8-28.1 6.7-37.5 6.8-35.6 6.8-30.5 6.8-30.5 6.8-9.7 6.8-4.6 6.8-4.6 6.8-4.5 6.8-4.6 6.8-4.5 6.8-4.6 6.8-4.5 6.8-4.6 6.8-4.6 6.8-4.5 6.8-4.6 6.8-4.5 6.8-4.6 6.8-4.5 6.8-4.6 6.8-4.6 6.8-4.5 6.8-4.6 6.8-4.5 6.8-4.6 6.8-4.5 6.8-4.6 6.8-4.6 6.8-4.5 6.8-4.6 6.8-4.5 6.8-4.6 6.8-4.5 6.8-4.6 6.8-4.6 6.8-4.5 6.8-4.6 6.8-4.5 6.8-4.6 6.8-4.5 6.8-4.6 6.8-4.6M341 2013.1l6.8 6.5 6.8-0.3 6.8-4.4 6.8-6.3 6.8-6.6 6.8-6.7 6.8-6.6 6.8-7.9 6.8-9.3 6.8-9.4 6.8-23.2 6.8-28.1 6.7-37.5 6.8-35.6 6.8-30.5 6.8-30.5 6.8-9.7 6.8-4.6 6.8-4.6 6.8-4.5 6.8-4.6 6.8-4.5 6.8-4.6 6.8-4.5 6.8-4.6 6.8-4.6 6.8-4.5 6.8-4.6 6.8-4.5 6.8-4.6 6.8-4.5 6.8-4.6 6.8-4.6 6.8-4.5 6.8-4.6 6.8-4.5 6.8-4.6 6.8-4.5 6.8-4.6 6.8-4.6 6.8-4.5 6.8-4.6 6.8-4.5 6.8-4.6 6.8-4.5 6.8-4.6 6.8-4.6 6.8-4.5 6.8-4.6 6.8-4.5 6.8-4.6 6.8-4.5 6.8-4.6 6.8-4.6M341 1654.4l6.8 0.1 6.8 0.1 6.8-9.7 6.8-11.5 6.8-2 6.8 2.3 6.8 6 6.8 9.4 6.8 11 6.8 13.9M381.8 1540.9l6.8 25 6.8 28.4 6.8 32.4 6.8 35.1M395.4 1552.1l6.8 34.3 6.8 36.6 6.8 37.1 6.8 40.2M402.2 1521.7l6.8 29.7 6.8 28.8 6.8 25.1 6.7 25.1 6.8 28.7 6.8 32.5M415.8 1517.8l6.8 19.2 6.7 19 6.8 17.1 6.8 17 6.8 17.1M388.6 1700.1l6.8-47.8 6.8-47.8 6.8-46.7 6.8-44.1M409 1668.4l6.8-55.6 6.8-62M456.5 1514.9l6.8-0.8 6.8-0.9 6.8-0.8 6.8-0.9 6.8-3.1 6.8-6.4 6.8-6.4 6.8-6.4 6.8-6.4 6.8-6.4 6.8-5.9 6.8-5.8 6.8-5.9 6.8-5.8 6.8-5.9 6.8-5.7 6.8-5.7 6.8-5.7 6.8-5.6 6.8-5.7 6.8-5.7 6.8-6.1 6.8-6 6.8-6.1 6.8-6 6.8-6 6.8-5.5 6.8-5.3 6.8-5.3 6.8-5.3 6.8-5.3 6.8-3.9 6.8-1.7 6.8-1.8 6.8-1.8 6.8-1.8 6.8-1.8M456.5 1607.2l6.8-4.1 6.8-4.2 6.8-4.2 6.8-4.2 6.8-4.5 6.8-4.9 6.8-4.9 6.8-5 6.8-4.9 6.8-4.9 6.8-5.5 6.8-5.5 6.8-5.5 6.8-5.5 6.8-5.4 6.8-6.6 6.8-7.4 6.8-7.3 6.8-7.3 6.8-7.4 6.8-7.3 6.8-7.3 6.8-7.4 6.8-7.3 6.8-7.3 6.8-7.4 6.8-5.8 6.8-5.5 6.8-5.5 6.8-5.5 6.8-5.5 6.8-4.3 6.8-2.7 6.8-2.7 6.8-2.7 6.8-2.8 6.8-2.7" fill="none" stroke="#000" stroke-width="0.8" stroke-linejoin="round"/>
<path d="M341 1544.4L341 2030.4" stroke="#000" stroke-width="2.4" fill="none"/>
<path d="M708.1 1307.3L708.1 1598.3" stroke="#000" stroke-width="1.6" fill="none"/>
<polygon points="377.7,1725.8 390.5,1671.2 396,1647.5 403.4,1682.6 411.8,1721.9" fill="#afc858" stroke="#000" stroke-width="0.8"/>
<polygon points="415.3,1721.6 422.1,1660 429.6,1722" fill="#afc858" stroke="#000" stroke-width="0.8"/>
<polygon points="341,1808.4 429.4,1850.4 796.5,1601.3 708.1,1565.3" fill="#000"/>
<defs><linearGradient id="g8" gradientUnits="userSpaceOnUse" x1="429.4" y1="0" x2="796.5" y2="0"><stop offset="0.000" stop-color="#fbe810"/><stop offset="0.062" stop-color="#fbe711"/><stop offset="0.125" stop-color="#fce411"/><stop offset="0.188" stop-color="#fdc224"/><stop offset="0.250" stop-color="#93c862"/><stop offset="0.312" stop-color="#13c285"/><stop offset="0.375" stop-color="#a2c85d"/><stop offset="0.438" stop-color="#a9c85a"/><stop offset="0.500" stop-color="#9ec85e"/><stop offset="0.562" stop-color="#94c861"/><stop offset="0.625" stop-color="#8ec863"/><stop offset="0.688" stop-color="#8dc864"/><stop offset="0.750" stop-color="#92c862"/><stop offset="0.812" stop-color="#93c862"/><stop offset="0.875" stop-color="#90c863"/><stop offset="0.938" stop-color="#8cc864"/><stop offset="1.000" stop-color="#85c866"/></linearGradient><linearGradient id="g9" gradientUnits="userSpaceOnUse" x1="429.4" y1="0" x2="796.5" y2="0"><stop offset="0.000" stop-color="#fec61f"/><stop offset="0.062" stop-color="#fec51f"/><stop offset="0.125" stop-color="#fec422"/><stop offset="0.188" stop-color="#edbf3a"/><stop offset="0.250" stop-color="#68c76e"/><stop offset="0.312" stop-color="#10c286"/><stop offset="0.375" stop-color="#9cc85f"/><stop offset="0.438" stop-color="#a3c85c"/><stop offset="0.500" stop-color="#98c860"/><stop offset="0.562" stop-color="#8ec863"/><stop offset="0.625" stop-color="#89c865"/><stop offset="0.688" stop-color="#87c866"/><stop offset="0.750" stop-color="#8cc864"/><stop offset="0.812" stop-color="#8ec863"/><stop offset="0.875" stop-color="#8ac865"/><stop offset="0.938" stop-color="#87c866"/><stop offset="1.000" stop-color="#80c868"/></linearGradient><linearGradient id="g10" gradientUnits="userSpaceOnUse" x1="429.4" y1="0" x2="796.5" y2="0"><stop offset="0.000" stop-color="#adc859"/><stop offset="0.062" stop-color="#acc859"/><stop offset="0.125" stop-color="#a9c85a"/><stop offset="0.188" stop-color="#7dc869"/><stop offset="0.250" stop-color="#13c285"/><stop offset="0.312" stop-color="#02bf94"/><stop offset="0.375" stop-color="#3ec578"/><stop offset="0.438" stop-color="#45c576"/><stop offset="0.500" stop-color="#3bc579"/><stop offset="0.562" stop-color="#31c47b"/><stop offset="0.625" stop-color="#2cc47c"/><stop offset="0.688" stop-color="#2bc47c"/><stop offset="0.750" stop-color="#2fc47b"/><stop offset="0.812" stop-color="#31c47b"/><stop offset="0.875" stop-color="#2dc47c"/><stop offset="0.938" stop-color="#2ac47d"/><stop offset="1.000" stop-color="#26c47e"/></linearGradient></defs>
<path d="M429.4 1590.4l6.8-4.3 6.8-4.2 6.8-4.3 6.8-3.5 6.7-3.5 6.8-3.5 6.8-2.7 6.8 5.8 6.8 5.8 6.8 16.4 6.8 18 6.8 23.5 6.8 27.2 6.8 28.1 6.8 29.8 6.8 30.1 6.8-38.8 6.8-32.7 6.8-25.5 6.8-11.2 6.8-11.1 6.8-4.8 6.8-3.5 6.8-3.5 6.8-3.4 6.8-2.7 6.8-2.7 6.8-2.7 6.8-2.9 6.8-3.5 6.8-3.5 6.8-3.5 6.8-3.8 6.8-4 6.8-4.1 6.8-4 6.8-5.1 6.8-5.3 6.8-5.4 6.8-5.3 6.8-4.9 6.8-4.8 6.8-4.8 6.8-4.6 6.8-4 6.8-4.1 6.8-4 6.8-4 6.8-4 6.8-4.1 6.8-4 6.8-3.6 6.8-3.5 6.8-3.4 0 0 -6.8 3.4 -6.8 3.5 -6.8 3.6 -6.8 4 -6.8 4.1 -6.8 4 -6.8 4 -6.8 4 -6.8 4.1 -6.8 4 -6.8 4.6 -6.8 4.8 -6.8 4.8 -6.8 4.9 -6.8 5.3 -6.8 5.4 -6.8 5.3 -6.8 5.1 -6.8 4 -6.8 4.1 -6.8 4 -6.8 3.8 -6.8 3.5 -6.8 3.5 -6.8 3.5 -6.8 2.9 -6.8 2.7 -6.8 2.7 -6.8 2.7 -6.8 3.4 -6.8 3.5 -6.8 3.5 -6.8 4.8 -6.8 11.1 -6.8 11.2 -6.8 25.5 -6.8 33.3 -6.8 40.2 -6.8-23.8 -6.8-24.6 -6.8-23.1 -6.8-22.5 -6.8-19.3 -6.8-14.6 -6.8-13.2 -6.8-4.3 -6.8-4.3 -6.8 3 -6.8 3.7 -6.7 3.6 -6.8 3.8 -6.8 4.2 -6.8 4.3 -6.8 4.3z" fill="url(#g8)"/>
<path d="M429.4 1628.3l6.8-4.3 6.8-4.3 6.8-4.2 6.8-3.8 6.7-3.6 6.8-3.7 6.8-3 6.8 4.3 6.8 4.3 6.8 13.2 6.8 14.6 6.8 19.3 6.8 22.5 6.8 23.1 6.8 24.6 6.8 23.8 6.8-40.2 6.8-33.3 6.8-25.5 6.8-11.2 6.8-11.1 6.8-4.8 6.8-3.5 6.8-3.5 6.8-3.4 6.8-2.7 6.8-2.7 6.8-2.7 6.8-2.9 6.8-3.5 6.8-3.5 6.8-3.5 6.8-3.8 6.8-4 6.8-4.1 6.8-4 6.8-5.1 6.8-5.3 6.8-5.4 6.8-5.3 6.8-4.9 6.8-4.8 6.8-4.8 6.8-4.6 6.8-4 6.8-4.1 6.8-4 6.8-4 6.8-4 6.8-4.1 6.8-4 6.8-3.6 6.8-3.5 6.8-3.4 0 31.7 -6.8 3.8 -6.8 3.8 -6.8 3.9 -6.8 4.2 -6.8 4.2 -6.8 4.2 -6.8 4.2 -6.8 4.2 -6.8 4.2 -6.8 4.2 -6.8 4.6 -6.8 4.7 -6.8 4.7 -6.8 4.8 -6.8 5.1 -6.8 5.1 -6.8 5 -6.8 5 -6.8 4.2 -6.8 4.2 -6.8 4.2 -6.8 4 -6.8 3.9 -6.8 3.8 -6.8 3.8 -6.8 3.5 -6.8 3.3 -6.8 3.3 -6.8 3.3 -6.8 3.7 -6.8 3.9 -6.8 3.8 -6.8 4.7 -6.8 9.1 -6.8 9 -6.8 21.2 -6.8 25.2 -6.8 27.1 -6.8-11 -6.8-11.9 -6.8-11.1 -6.8-10.7 -6.8-8.9 -6.8-6.3 -6.8-5.5 -6.8-0.4 -6.8-0.4 -6.8 3.6 -6.8 4.1 -6.7 4 -6.8 4.1 -6.8 4.4 -6.8 4.4 -6.8 4.4z" fill="url(#g9)"/>
<path d="M429.4 1721.9l6.8-4.4 6.8-4.4 6.8-4.4 6.8-4.1 6.7-4 6.8-4.1 6.8-3.6 6.8 0.4 6.8 0.4 6.8 5.5 6.8 6.3 6.8 8.9 6.8 10.7 6.8 11.1 6.8 11.9 6.8 11 6.8-27.1 6.8-25.2 6.8-21.2 6.8-9 6.8-9.1 6.8-4.7 6.8-3.8 6.8-3.9 6.8-3.7 6.8-3.3 6.8-3.3 6.8-3.3 6.8-3.5 6.8-3.8 6.8-3.8 6.8-3.9 6.8-4 6.8-4.2 6.8-4.2 6.8-4.2 6.8-5 6.8-5 6.8-5.1 6.8-5.1 6.8-4.8 6.8-4.7 6.8-4.7 6.8-4.6 6.8-4.2 6.8-4.2 6.8-4.2 6.8-4.2 6.8-4.2 6.8-4.2 6.8-4.2 6.8-3.9 6.8-3.8 6.8-3.8 0 36.6 -6.8 4.2 -6.8 4.2 -6.8 4.3 -6.8 4.4 -6.8 4.4 -6.8 4.4 -6.8 4.4 -6.8 4.3 -6.8 4.4 -6.8 4.4 -6.8 4.6 -6.8 4.6 -6.8 4.7 -6.8 4.6 -6.8 4.8 -6.8 4.8 -6.8 4.8 -6.8 4.8 -6.8 4.4 -6.8 4.3 -6.8 4.4 -6.8 4.4 -6.8 4.2 -6.8 4.2 -6.8 4.2 -6.8 4.1 -6.8 4 -6.8 4 -6.8 3.9 -6.8 4.2 -6.8 4.3 -6.8 4.2 -6.8 4.6 -6.8 6.6 -6.8 6.6 -6.8 10.7 -6.8 13.1 -6.8 15.3 -6.8-7.4 -6.8-7.2 -6.8-6.5 -6.8-6.2 -6.8-5 -6.8-3.1 -6.8-2.6 -6.8 1 -6.8 1.1 -6.8 3.9 -6.8 4.2 -6.7 4.2 -6.8 4.2 -6.8 4.4 -6.8 4.5 -6.8 4.4z" fill="url(#g10)"/>
<path d="M429.4 1757.3l6.8-4.4 6.8-4.5 6.8-4.4 6.8-4.2 6.7-4.2 6.8-4.2 6.8-3.9 6.8-1.1 6.8-1 6.8 2.6 6.8 3.1 6.8 5 6.8 6.2 6.8 6.5 6.8 7.2 6.8 7.4 6.8-15.3 6.8-13.1 6.8-10.7 6.8-6.6 6.8-6.6 6.8-4.6 6.8-4.2 6.8-4.3 6.8-4.2 6.8-3.9 6.8-4 6.8-4 6.8-4.1 6.8-4.2 6.8-4.2 6.8-4.2 6.8-4.4 6.8-4.4 6.8-4.3 6.8-4.4 6.8-4.8 6.8-4.8 6.8-4.8 6.8-4.8 6.8-4.6 6.8-4.7 6.8-4.6 6.8-4.6 6.8-4.4 6.8-4.4 6.8-4.3 6.8-4.4 6.8-4.4 6.8-4.4 6.8-4.4 6.8-4.3 6.8-4.2 6.8-4.2 0 10.7 -6.8 4.5 -6.8 4.6 -6.8 4.6 -6.8 4.5 -6.8 4.6 -6.8 4.5 -6.8 4.6 -6.8 4.5 -6.8 4.6 -6.8 4.6 -6.8 4.5 -6.8 4.6 -6.8 4.5 -6.8 4.6 -6.8 4.5 -6.8 4.6 -6.8 4.6 -6.8 4.5 -6.8 4.6 -6.8 4.5 -6.8 4.6 -6.8 4.5 -6.8 4.6 -6.8 4.6 -6.8 4.5 -6.8 4.6 -6.8 4.5 -6.8 4.6 -6.8 4.5 -6.8 4.6 -6.8 4.5 -6.8 4.6 -6.8 4.6 -6.8 4.5 -6.8 4.6 -6.8 4.5 -6.8 6.8 -6.8 15.3 -6.8-7.4 -6.8 3.6 -6.8 4.5 -6.8 4.6 -6.8 4.5 -6.8 4.6 -6.8 4.5 -6.8 4.6 -6.8 4.6 -6.8 4.5 -6.8 4.6 -6.7 4.5 -6.8 4.6 -6.8 4.5 -6.8 4.6 -6.8 4.6z" fill="#0ac288"/>
<path d="M429.4 1823.4l6.8-4.6 6.8-4.6 6.8-4.5 6.8-4.6 6.7-4.5 6.8-4.6 6.8-4.5 6.8-4.6 6.8-4.6 6.8-4.5 6.8-4.6 6.8-4.5 6.8-4.6 6.8-4.5 6.8-3.6 6.8 7.4 6.8-15.3 6.8-6.8 6.8-4.5 6.8-4.6 6.8-4.5 6.8-4.6 6.8-4.6 6.8-4.5 6.8-4.6 6.8-4.5 6.8-4.6 6.8-4.5 6.8-4.6 6.8-4.5 6.8-4.6 6.8-4.6 6.8-4.5 6.8-4.6 6.8-4.5 6.8-4.6 6.8-4.5 6.8-4.6 6.8-4.6 6.8-4.5 6.8-4.6 6.8-4.5 6.8-4.6 6.8-4.5 6.8-4.6 6.8-4.6 6.8-4.5 6.8-4.6 6.8-4.5 6.8-4.6 6.8-4.5 6.8-4.6 6.8-4.6 6.8-4.5 0 13 -6.8 4.5 -6.8 4.5 -6.8 4.5 -6.8 4.5 -6.8 4.5 -6.8 4.5 -6.8 4.5 -6.8 4.5 -6.8 4.5 -6.8 4.5 -6.8 4.5 -6.8 4.5 -6.8 4.5 -6.8 4.5 -6.8 4.5 -6.8 4.5 -6.8 4.5 -6.8 4.5 -6.8 4.5 -6.8 4.5 -6.8 4.5 -6.8 4.5 -6.8 4.5 -6.8 4.5 -6.8 4.5 -6.8 4.5 -6.8 4.5 -6.8 4.5 -6.8 4.5 -6.8 4.5 -6.8 4.5 -6.8 4.5 -6.8 4.5 -6.8 4.5 -6.8 4.5 -6.8 4.5 -6.8 4.5 -6.8 6.6 -6.8 2.4 -6.8 4.5 -6.8 4.5 -6.8 4.5 -6.8 4.5 -6.8 4.5 -6.8 4.5 -6.8 4.5 -6.8 4.6 -6.8 4.5 -6.8 4.5 -6.7 4.5 -6.8 4.5 -6.8 4.5 -6.8 4.5 -6.8 4.5z" fill="#0a5a52"/>
<path d="M429.4 1833.4l6.8-4.5 6.8-4.5 6.8-4.5 6.8-4.5 6.7-4.5 6.8-4.5 6.8-4.5 6.8-4.6 6.8-4.5 6.8-4.5 6.8-4.5 6.8-4.5 6.8-4.5 6.8-4.5 6.8-4.5 6.8-2.4 6.8-6.6 6.8-4.5 6.8-4.5 6.8-4.5 6.8-4.5 6.8-4.5 6.8-4.5 6.8-4.5 6.8-4.5 6.8-4.5 6.8-4.5 6.8-4.5 6.8-4.5 6.8-4.5 6.8-4.5 6.8-4.5 6.8-4.5 6.8-4.5 6.8-4.5 6.8-4.5 6.8-4.5 6.8-4.5 6.8-4.5 6.8-4.5 6.8-4.5 6.8-4.5 6.8-4.5 6.8-4.5 6.8-4.5 6.8-4.5 6.8-4.5 6.8-4.5 6.8-4.5 6.8-4.5 6.8-4.5 6.8-4.5 6.8-4.5 6.8-4.5 0 12.6 -6.8 4.6 -6.8 4.6 -6.8 4.6 -6.8 4.6 -6.8 4.6 -6.8 4.6 -6.8 4.6 -6.8 4.6 -6.8 4.6 -6.8 4.6 -6.8 4.6 -6.8 4.6 -6.8 4.6 -6.8 4.6 -6.8 4.6 -6.8 4.6 -6.8 4.6 -6.8 4.6 -6.8 4.6 -6.8 4.6 -6.8 4.6 -6.8 4.6 -6.8 4.6 -6.8 4.6 -6.8 4.6 -6.8 4.6 -6.8 4.6 -6.8 4.6 -6.8 4.6 -6.8 4.6 -6.8 4.6 -6.8 4.6 -6.8 4.6 -6.8 4.6 -6.8 4.6 -6.8 4.6 -6.8 4.6 -6.8 4.6 -6.8 4.6 -6.8 4.6 -6.8 4.6 -6.8 4.6 -6.8 4.6 -6.8 4.6 -6.8 4.6 -6.8 4.6 -6.8 4.7 -6.8 4.6 -6.8 4.6 -6.7 4.6 -6.8 4.6 -6.8 4.6 -6.8 4.6 -6.8 4.6z" fill="#000"/>
<path d="M429.4 1851.4l6.8-4.6 6.8-4.6 6.8-4.6 6.8-4.6 6.7-4.6 6.8-4.6 6.8-4.6 6.8-4.7 6.8-4.6 6.8-4.6 6.8-4.6 6.8-4.6 6.8-4.6 6.8-4.6 6.8-4.6 6.8-4.6 6.8-4.6 6.8-4.6 6.8-4.6 6.8-4.6 6.8-4.6 6.8-4.6 6.8-4.6 6.8-4.6 6.8-4.6 6.8-4.6 6.8-4.6 6.8-4.6 6.8-4.6 6.8-4.6 6.8-4.6 6.8-4.6 6.8-4.6 6.8-4.6 6.8-4.6 6.8-4.6 6.8-4.6 6.8-4.6 6.8-4.6 6.8-4.6 6.8-4.6 6.8-4.6 6.8-4.6 6.8-4.6 6.8-4.6 6.8-4.6 6.8-4.6 6.8-4.6 6.8-4.6 6.8-4.6 6.8-4.6 6.8-4.6 6.8-4.6 6.8-4.6 0 14.4 -6.8 4.7 -6.8 4.7 -6.8 4.7 -6.8 4.6 -6.8 4.7 -6.8 4.7 -6.8 4.7 -6.8 4.7 -6.8 4.7 -6.8 4.7 -6.8 4.7 -6.8 4.7 -6.8 4.6 -6.8 4.7 -6.8 4.7 -6.8 4.7 -6.8 4.7 -6.8 4.7 -6.8 4.7 -6.8 4.7 -6.8 4.7 -6.8 4.6 -6.8 4.7 -6.8 4.7 -6.8 4.7 -6.8 4.7 -6.8 4.7 -6.8 4.7 -6.8 4.7 -6.8 4.7 -6.8 4.7 -6.8 4.6 -6.8 4.7 -6.8 4.7 -6.8 4.7 -6.8 4.7 -6.8 4.7 -6.8 10.2 -6.8 32.3 -6.8 8.6 -6.8 3.5 -6.8 2.6 -6.8 2.6 -6.8 2.6 -6.8 2.5 -6.8 2.6 -6.8 2.6 -6.8 2.6 -6.8 2.6 -6.7 2.5 -6.8 2.6 -6.8 2.6 -6.8 2.6 -6.8 2.6z" fill="#12adcb"/>
<path d="M429.4 1879l6.8-2.6 6.8-2.6 6.8-2.6 6.8-2.6 6.7-2.5 6.8-2.6 6.8-2.6 6.8-2.6 6.8-2.6 6.8-2.5 6.8-2.6 6.8-2.6 6.8-2.6 6.8-3.5 6.8-8.6 6.8-32.3 6.8-10.2 6.8-4.7 6.8-4.7 6.8-4.7 6.8-4.7 6.8-4.7 6.8-4.6 6.8-4.7 6.8-4.7 6.8-4.7 6.8-4.7 6.8-4.7 6.8-4.7 6.8-4.7 6.8-4.7 6.8-4.7 6.8-4.6 6.8-4.7 6.8-4.7 6.8-4.7 6.8-4.7 6.8-4.7 6.8-4.7 6.8-4.7 6.8-4.7 6.8-4.6 6.8-4.7 6.8-4.7 6.8-4.7 6.8-4.7 6.8-4.7 6.8-4.7 6.8-4.7 6.8-4.7 6.8-4.6 6.8-4.7 6.8-4.7 6.8-4.7 0 0 -6.8 4.7 -6.8 4.7 -6.8 4.7 -6.8 4.6 -6.8 4.7 -6.8 4.7 -6.8 4.7 -6.8 4.7 -6.8 4.7 -6.8 4.7 -6.8 4.7 -6.8 4.7 -6.8 4.6 -6.8 4.7 -6.8 4.7 -6.8 4.7 -6.8 4.7 -6.8 4.7 -6.8 4.7 -6.8 4.7 -6.8 4.7 -6.8 4.6 -6.8 4.7 -6.8 4.7 -6.8 4.7 -6.8 4.7 -6.8 4.7 -6.8 4.7 -6.8 4.7 -6.8 4.7 -6.8 4.7 -6.8 4.6 -6.8 4.7 -6.8 4.7 -6.8 4.7 -6.8 4.7 -6.8 4.7 -6.8 10.2 -6.8 32.3 -6.8 32.4 -6.8 26.1 -6.8 20 -6.8 20 -6.8 4.4 -6.8-0.4 -6.8-0.3 -6.8-0.4 -6.8-0.4 -6.8-0.4 -6.7-0.4 -6.8-0.4 -6.8-0.4 -6.8-0.4 -6.8-0.3z" fill="#2692ea"/>
<path d="M429.4 1932.4l6.8 0.3 6.8 0.4 6.8 0.4 6.8 0.4 6.7 0.4 6.8 0.4 6.8 0.4 6.8 0.4 6.8 0.3 6.8 0.4 6.8-4.4 6.8-20 6.8-20 6.8-26.1 6.8-32.4 6.8-32.3 6.8-10.2 6.8-4.7 6.8-4.7 6.8-4.7 6.8-4.7 6.8-4.7 6.8-4.6 6.8-4.7 6.8-4.7 6.8-4.7 6.8-4.7 6.8-4.7 6.8-4.7 6.8-4.7 6.8-4.7 6.8-4.7 6.8-4.6 6.8-4.7 6.8-4.7 6.8-4.7 6.8-4.7 6.8-4.7 6.8-4.7 6.8-4.7 6.8-4.7 6.8-4.6 6.8-4.7 6.8-4.7 6.8-4.7 6.8-4.7 6.8-4.7 6.8-4.7 6.8-4.7 6.8-4.7 6.8-4.6 6.8-4.7 6.8-4.7 6.8-4.7 0 0 -6.8 4.7 -6.8 4.7 -6.8 4.7 -6.8 4.6 -6.8 4.7 -6.8 4.7 -6.8 4.7 -6.8 4.7 -6.8 4.7 -6.8 4.7 -6.8 4.7 -6.8 4.7 -6.8 4.6 -6.8 4.7 -6.8 4.7 -6.8 4.7 -6.8 4.7 -6.8 4.7 -6.8 4.7 -6.8 4.7 -6.8 4.7 -6.8 4.6 -6.8 4.7 -6.8 4.7 -6.8 4.7 -6.8 4.7 -6.8 4.7 -6.8 4.7 -6.8 4.7 -6.8 4.7 -6.8 4.7 -6.8 4.6 -6.8 4.7 -6.8 4.7 -6.8 4.7 -6.8 4.7 -6.8 4.7 -6.8 10.2 -6.8 32.3 -6.8 32.4 -6.8 26.1 -6.8 20 -6.8 20 -6.8 17.3 -6.8 9.7 -6.8 9.7 -6.8 9.7 -6.8 9.7 -6.8 7.5 -6.7 3.8 -6.8-3.4 -6.8-3.3 -6.8-3.4 -6.8-3.3z" fill="#3d6bf9"/>
<path d="M429.4 1985.8l6.8 3.3 6.8 3.4 6.8 3.3 6.8 3.4 6.7-3.8 6.8-7.5 6.8-9.7 6.8-9.7 6.8-9.7 6.8-9.7 6.8-17.3 6.8-20 6.8-20 6.8-26.1 6.8-32.4 6.8-32.3 6.8-10.2 6.8-4.7 6.8-4.7 6.8-4.7 6.8-4.7 6.8-4.7 6.8-4.6 6.8-4.7 6.8-4.7 6.8-4.7 6.8-4.7 6.8-4.7 6.8-4.7 6.8-4.7 6.8-4.7 6.8-4.7 6.8-4.6 6.8-4.7 6.8-4.7 6.8-4.7 6.8-4.7 6.8-4.7 6.8-4.7 6.8-4.7 6.8-4.7 6.8-4.6 6.8-4.7 6.8-4.7 6.8-4.7 6.8-4.7 6.8-4.7 6.8-4.7 6.8-4.7 6.8-4.7 6.8-4.6 6.8-4.7 6.8-4.7 6.8-4.7 0 0 -6.8 4.7 -6.8 4.7 -6.8 4.7 -6.8 4.6 -6.8 4.7 -6.8 4.7 -6.8 4.7 -6.8 4.7 -6.8 4.7 -6.8 4.7 -6.8 4.7 -6.8 4.7 -6.8 4.6 -6.8 4.7 -6.8 4.7 -6.8 4.7 -6.8 4.7 -6.8 4.7 -6.8 4.7 -6.8 4.7 -6.8 4.7 -6.8 4.6 -6.8 4.7 -6.8 4.7 -6.8 4.7 -6.8 4.7 -6.8 4.7 -6.8 4.7 -6.8 4.7 -6.8 4.7 -6.8 4.7 -6.8 4.6 -6.8 4.7 -6.8 4.7 -6.8 4.7 -6.8 4.7 -6.8 4.7 -6.8 10.2 -6.8 32.3 -6.8 32.4 -6.8 26.1 -6.8 20 -6.8 20 -6.8 17.3 -6.8 9.7 -6.8 9.7 -6.8 9.7 -6.8 9.7 -6.8 7.9 -6.7 5.1 -6.8 5.1 -6.8 5.1 -6.8 5.1 -6.8 5.2z" fill="#4649e2"/>
<path d="M504.1 1784.3 531.3 1766.1M544.9 1757 796.5 1588.4M429.4 1830.7 531.3 1762.3M544.9 1753.2 796.5 1584.6M429.4 1826.9 531.3 1758.5M544.9 1749.4 796.5 1580.8" fill="none" stroke="#000" stroke-width="1.5" stroke-opacity="0.85"/>
<path d="M429.4 1821.6 524.5 1757.8M429.4 1817.4 524.5 1753.6M429.4 1813.2 524.5 1749.4M429.4 1809 517.7 1749.7M429.4 1804.8 517.7 1745.5M429.4 1800.6 510.9 1745.9M429.4 1796.4 510.9 1741.7M429.4 1792.2 510.9 1737.5M429.4 1788 504.1 1737.8M429.4 1783.8 504.1 1733.6M429.4 1779.6 497.3 1734M429.4 1775.4 497.3 1729.8M429.4 1771.2 490.5 1730.2M429.4 1767 490.5 1726M429.4 1762.8 483.7 1726.3M429.4 1758.6 470.1 1731.2" fill="none" stroke="#000" stroke-width="1.5" stroke-opacity="0.85"/>
<path d="M578.9 1734.8 796.5 1589M429.4 1832.5 531.3 1764.1M544.9 1755 796.5 1586.4M429.4 1829.9 531.3 1761.5M544.9 1752.4 796.5 1583.8M429.4 1827.3 531.3 1758.9M544.9 1749.8 796.5 1581.2M429.4 1824.7 531.3 1756.3M551.7 1742.6 796.5 1578.6" fill="none" stroke="#000" stroke-width="1.5" stroke-opacity="0.85"/>
<path d="M429.4 1590.4V2021.4M436.2 1586.1V2016.2M443 1581.9V2011.1M449.8 1577.6V2006M456.6 1574.1V2000.9M463.3 1570.6V1995.8M470.1 1567.1V1987.9M476.9 1564.4V1978.2M483.7 1570.2V1968.5M490.5 1576V1958.8M497.3 1592.4V1949.1M504.1 1610.4V1931.8M510.9 1633.9V1911.8M517.7 1661.1V1891.8M524.5 1689.2V1865.7M531.3 1719V1833.3M538.1 1749.1V1801M544.9 1710.3V1790.8M551.7 1677.6V1786.1M558.5 1652.1V1781.4M565.3 1640.9V1776.7M572.1 1629.8V1772M578.9 1625V1767.3M585.7 1621.5V1762.7M592.5 1618V1758M599.3 1614.6V1753.3M606.1 1611.9V1748.6M612.9 1609.2V1743.9M619.7 1606.5V1739.2M626.5 1603.6V1734.5M633.3 1600.1V1729.8M640.1 1596.6V1725.1M646.9 1593.1V1720.4M653.7 1589.3V1715.8M660.5 1585.3V1711.1M667.3 1581.2V1706.4M674.1 1577.2V1701.7M680.9 1572.1V1697M687.7 1566.8V1692.3M694.5 1561.4V1687.6M701.3 1556.1V1682.9M708.1 1551.2V1678.2M714.9 1546.4V1673.6M721.7 1541.6V1668.9M728.5 1537V1664.2M735.3 1533V1659.5M742.1 1528.9V1654.8M748.9 1524.9V1650.1M755.7 1520.9V1645.4M762.5 1516.9V1640.7M769.3 1512.8V1636M776.1 1508.8V1631.4M782.9 1505.2V1626.7M789.7 1501.7V1622M796.5 1498.3V1617.3" fill="none" stroke="#000" stroke-width="1.25" stroke-opacity="0.8"/>
<path d="M429.4 1590.4l6.8-4.3 6.8-4.2 6.8-4.3 6.8-3.5 6.7-3.5 6.8-3.5 6.8-2.7 6.8 5.8 6.8 5.8 6.8 16.4 6.8 18 6.8 23.5 6.8 27.2 6.8 28.1 6.8 29.8 6.8 30.1 6.8-38.8 6.8-32.7 6.8-25.5 6.8-11.2 6.8-11.1 6.8-4.8 6.8-3.5 6.8-3.5 6.8-3.4 6.8-2.7 6.8-2.7 6.8-2.7 6.8-2.9 6.8-3.5 6.8-3.5 6.8-3.5 6.8-3.8 6.8-4 6.8-4.1 6.8-4 6.8-5.1 6.8-5.3 6.8-5.4 6.8-5.3 6.8-4.9 6.8-4.8 6.8-4.8 6.8-4.6 6.8-4 6.8-4.1 6.8-4 6.8-4 6.8-4 6.8-4.1 6.8-4 6.8-3.6 6.8-3.5 6.8-3.4M429.4 1628.3l6.8-4.3 6.8-4.3 6.8-4.2 6.8-3.8 6.7-3.6 6.8-3.7 6.8-3 6.8 4.3 6.8 4.3 6.8 13.2 6.8 14.6 6.8 19.3 6.8 22.5 6.8 23.1 6.8 24.6 6.8 23.8 6.8-40.2 6.8-33.3 6.8-25.5 6.8-11.2 6.8-11.1 6.8-4.8 6.8-3.5 6.8-3.5 6.8-3.4 6.8-2.7 6.8-2.7 6.8-2.7 6.8-2.9 6.8-3.5 6.8-3.5 6.8-3.5 6.8-3.8 6.8-4 6.8-4.1 6.8-4 6.8-5.1 6.8-5.3 6.8-5.4 6.8-5.3 6.8-4.9 6.8-4.8 6.8-4.8 6.8-4.6 6.8-4 6.8-4.1 6.8-4 6.8-4 6.8-4 6.8-4.1 6.8-4 6.8-3.6 6.8-3.5 6.8-3.4M429.4 1721.9l6.8-4.4 6.8-4.4 6.8-4.4 6.8-4.1 6.7-4 6.8-4.1 6.8-3.6 6.8 0.4 6.8 0.4 6.8 5.5 6.8 6.3 6.8 8.9 6.8 10.7 6.8 11.1 6.8 11.9 6.8 11 6.8-27.1 6.8-25.2 6.8-21.2 6.8-9 6.8-9.1 6.8-4.7 6.8-3.8 6.8-3.9 6.8-3.7 6.8-3.3 6.8-3.3 6.8-3.3 6.8-3.5 6.8-3.8 6.8-3.8 6.8-3.9 6.8-4 6.8-4.2 6.8-4.2 6.8-4.2 6.8-5 6.8-5 6.8-5.1 6.8-5.1 6.8-4.8 6.8-4.7 6.8-4.7 6.8-4.6 6.8-4.2 6.8-4.2 6.8-4.2 6.8-4.2 6.8-4.2 6.8-4.2 6.8-4.2 6.8-3.9 6.8-3.8 6.8-3.8M429.4 1757.3l6.8-4.4 6.8-4.5 6.8-4.4 6.8-4.2 6.7-4.2 6.8-4.2 6.8-3.9 6.8-1.1 6.8-1 6.8 2.6 6.8 3.1 6.8 5 6.8 6.2 6.8 6.5 6.8 7.2 6.8 7.4 6.8-15.3 6.8-13.1 6.8-10.7 6.8-6.6 6.8-6.6 6.8-4.6 6.8-4.2 6.8-4.3 6.8-4.2 6.8-3.9 6.8-4 6.8-4 6.8-4.1 6.8-4.2 6.8-4.2 6.8-4.2 6.8-4.4 6.8-4.4 6.8-4.3 6.8-4.4 6.8-4.8 6.8-4.8 6.8-4.8 6.8-4.8 6.8-4.6 6.8-4.7 6.8-4.6 6.8-4.6 6.8-4.4 6.8-4.4 6.8-4.3 6.8-4.4 6.8-4.4 6.8-4.4 6.8-4.4 6.8-4.3 6.8-4.2 6.8-4.2M429.4 1823.4l6.8-4.6 6.8-4.6 6.8-4.5 6.8-4.6 6.7-4.5 6.8-4.6 6.8-4.5 6.8-4.6 6.8-4.6 6.8-4.5 6.8-4.6 6.8-4.5 6.8-4.6 6.8-4.5 6.8-3.6 6.8 7.4 6.8-15.3 6.8-6.8 6.8-4.5 6.8-4.6 6.8-4.5 6.8-4.6 6.8-4.6 6.8-4.5 6.8-4.6 6.8-4.5 6.8-4.6 6.8-4.5 6.8-4.6 6.8-4.5 6.8-4.6 6.8-4.6 6.8-4.5 6.8-4.6 6.8-4.5 6.8-4.6 6.8-4.5 6.8-4.6 6.8-4.6 6.8-4.5 6.8-4.6 6.8-4.5 6.8-4.6 6.8-4.5 6.8-4.6 6.8-4.6 6.8-4.5 6.8-4.6 6.8-4.5 6.8-4.6 6.8-4.5 6.8-4.6 6.8-4.6 6.8-4.5M429.4 1833.4l6.8-4.5 6.8-4.5 6.8-4.5 6.8-4.5 6.7-4.5 6.8-4.5 6.8-4.5 6.8-4.6 6.8-4.5 6.8-4.5 6.8-4.5 6.8-4.5 6.8-4.5 6.8-4.5 6.8-4.5 6.8-2.4 6.8-6.6 6.8-4.5 6.8-4.5 6.8-4.5 6.8-4.5 6.8-4.5 6.8-4.5 6.8-4.5 6.8-4.5 6.8-4.5 6.8-4.5 6.8-4.5 6.8-4.5 6.8-4.5 6.8-4.5 6.8-4.5 6.8-4.5 6.8-4.5 6.8-4.5 6.8-4.5 6.8-4.5 6.8-4.5 6.8-4.5 6.8-4.5 6.8-4.5 6.8-4.5 6.8-4.5 6.8-4.5 6.8-4.5 6.8-4.5 6.8-4.5 6.8-4.5 6.8-4.5 6.8-4.5 6.8-4.5 6.8-4.5 6.8-4.5 6.8-4.5M429.4 1851.4l6.8-4.6 6.8-4.6 6.8-4.6 6.8-4.6 6.7-4.6 6.8-4.6 6.8-4.6 6.8-4.7 6.8-4.6 6.8-4.6 6.8-4.6 6.8-4.6 6.8-4.6 6.8-4.6 6.8-4.6 6.8-4.6 6.8-4.6 6.8-4.6 6.8-4.6 6.8-4.6 6.8-4.6 6.8-4.6 6.8-4.6 6.8-4.6 6.8-4.6 6.8-4.6 6.8-4.6 6.8-4.6 6.8-4.6 6.8-4.6 6.8-4.6 6.8-4.6 6.8-4.6 6.8-4.6 6.8-4.6 6.8-4.6 6.8-4.6 6.8-4.6 6.8-4.6 6.8-4.6 6.8-4.6 6.8-4.6 6.8-4.6 6.8-4.6 6.8-4.6 6.8-4.6 6.8-4.6 6.8-4.6 6.8-4.6 6.8-4.6 6.8-4.6 6.8-4.6 6.8-4.6 6.8-4.6M429.4 1879l6.8-2.6 6.8-2.6 6.8-2.6 6.8-2.6 6.7-2.5 6.8-2.6 6.8-2.6 6.8-2.6 6.8-2.6 6.8-2.5 6.8-2.6 6.8-2.6 6.8-2.6 6.8-3.5 6.8-8.6 6.8-32.3 6.8-10.2 6.8-4.7 6.8-4.7 6.8-4.7 6.8-4.7 6.8-4.7 6.8-4.6 6.8-4.7 6.8-4.7 6.8-4.7 6.8-4.7 6.8-4.7 6.8-4.7 6.8-4.7 6.8-4.7 6.8-4.7 6.8-4.6 6.8-4.7 6.8-4.7 6.8-4.7 6.8-4.7 6.8-4.7 6.8-4.7 6.8-4.7 6.8-4.7 6.8-4.6 6.8-4.7 6.8-4.7 6.8-4.7 6.8-4.7 6.8-4.7 6.8-4.7 6.8-4.7 6.8-4.7 6.8-4.6 6.8-4.7 6.8-4.7 6.8-4.7M429.4 1932.4l6.8 0.3 6.8 0.4 6.8 0.4 6.8 0.4 6.7 0.4 6.8 0.4 6.8 0.4 6.8 0.4 6.8 0.3 6.8 0.4 6.8-4.4 6.8-20 6.8-20 6.8-26.1 6.8-32.4 6.8-32.3 6.8-10.2 6.8-4.7 6.8-4.7 6.8-4.7 6.8-4.7 6.8-4.7 6.8-4.6 6.8-4.7 6.8-4.7 6.8-4.7 6.8-4.7 6.8-4.7 6.8-4.7 6.8-4.7 6.8-4.7 6.8-4.7 6.8-4.6 6.8-4.7 6.8-4.7 6.8-4.7 6.8-4.7 6.8-4.7 6.8-4.7 6.8-4.7 6.8-4.7 6.8-4.6 6.8-4.7 6.8-4.7 6.8-4.7 6.8-4.7 6.8-4.7 6.8-4.7 6.8-4.7 6.8-4.7 6.8-4.6 6.8-4.7 6.8-4.7 6.8-4.7M429.4 1985.8l6.8 3.3 6.8 3.4 6.8 3.3 6.8 3.4 6.7-3.8 6.8-7.5 6.8-9.7 6.8-9.7 6.8-9.7 6.8-9.7 6.8-17.3 6.8-20 6.8-20 6.8-26.1 6.8-32.4 6.8-32.3 6.8-10.2 6.8-4.7 6.8-4.7 6.8-4.7 6.8-4.7 6.8-4.7 6.8-4.6 6.8-4.7 6.8-4.7 6.8-4.7 6.8-4.7 6.8-4.7 6.8-4.7 6.8-4.7 6.8-4.7 6.8-4.7 6.8-4.6 6.8-4.7 6.8-4.7 6.8-4.7 6.8-4.7 6.8-4.7 6.8-4.7 6.8-4.7 6.8-4.7 6.8-4.6 6.8-4.7 6.8-4.7 6.8-4.7 6.8-4.7 6.8-4.7 6.8-4.7 6.8-4.7 6.8-4.7 6.8-4.6 6.8-4.7 6.8-4.7 6.8-4.7M429.4 2021.4l6.8-5.2 6.8-5.1 6.8-5.1 6.8-5.1 6.7-5.1 6.8-7.9 6.8-9.7 6.8-9.7 6.8-9.7 6.8-9.7 6.8-17.3 6.8-20 6.8-20 6.8-26.1 6.8-32.4 6.8-32.3 6.8-10.2 6.8-4.7 6.8-4.7 6.8-4.7 6.8-4.7 6.8-4.7 6.8-4.6 6.8-4.7 6.8-4.7 6.8-4.7 6.8-4.7 6.8-4.7 6.8-4.7 6.8-4.7 6.8-4.7 6.8-4.7 6.8-4.6 6.8-4.7 6.8-4.7 6.8-4.7 6.8-4.7 6.8-4.7 6.8-4.7 6.8-4.7 6.8-4.7 6.8-4.6 6.8-4.7 6.8-4.7 6.8-4.7 6.8-4.7 6.8-4.7 6.8-4.7 6.8-4.7 6.8-4.7 6.8-4.6 6.8-4.7 6.8-4.7 6.8-4.7M429.4 1608.1l6.8-4.3 6.8-4.2 6.8-4.3 6.8-3.7 6.7-3.5 6.8-3.6 6.8-2.8 6.8 5.1 6.8 5.1 6.8 14.9 6.8 16.4 6.8 21.5 6.8 25 6.8 25.8 6.8 27.4 6.8 27.7 6.8-36.4 6.8-30.8 6.8-24 6.8-10.7 6.8-10.7 6.8-4.7 6.8-3.6 6.8-3.5 6.8-3.5 6.8-2.9 6.8-2.8 6.8-2.8 6.8-3.1 6.8-3.6 6.8-3.5 6.8-3.6 6.8-3.8 6.8-4.1 6.8-4.1 6.8-4 6.8-5.1 6.8-5.3 6.8-5.3 6.8-5.3 6.8-4.8 6.8-4.8 6.8-4.8 6.8-4.6 6.8-4.1 6.8-4 6.8-4.1 6.8-4.1 6.8-4 6.8-4.1 6.8-4.1 6.8-3.6 6.8-3.6 6.8-3.5M429.4 1653.6l6.8-4.3 6.8-4.3 6.8-4.3 6.8-3.9 6.7-3.7 6.8-3.8 6.8-3.2 6.8 3.3 6.8 3.2 6.8 11.2 6.8 12.3 6.8 16.5 6.8 19.3 6.8 19.9 6.8 21.2 6.8 21.5 6.8-30.3 6.8-25.7 6.8-20.2 6.8-9.5 6.8-9.6 6.8-4.7 6.8-3.7 6.8-3.8 6.8-3.7 6.8-3.1 6.8-3.2 6.8-3.2 6.8-3.3 6.8-3.8 6.8-3.7 6.8-3.8 6.8-4 6.8-4.1 6.8-4.2 6.8-4.2 6.8-4.9 6.8-5.2 6.8-5.1 6.8-5.2 6.8-4.7 6.8-4.8 6.8-4.7 6.8-4.6 6.8-4.2 6.8-4.2 6.8-4.1 6.8-4.2 6.8-4.1 6.8-4.2 6.8-4.2 6.8-3.8 6.8-3.7 6.8-3.8M429.4 1691.6l6.8-4.4 6.8-4.4 6.8-4.3 6.8-4 6.7-3.9 6.8-4 6.8-3.4 6.8 1.7 6.8 1.7 6.8 8 6.8 8.9 6.8 12.3 6.8 14.5 6.8 15 6.8 16.1 6.8 16.3 6.8-25.2 6.8-21.4 6.8-17.1 6.8-8.5 6.8-8.6 6.8-4.7 6.8-3.9 6.8-3.9 6.8-3.8 6.8-3.5 6.8-3.4 6.8-3.5 6.8-3.6 6.8-3.9 6.8-3.9 6.8-3.9 6.8-4.1 6.8-4.3 6.8-4.2 6.8-4.2 6.8-4.9 6.8-5.1 6.8-5 6.8-5 6.8-4.7 6.8-4.8 6.8-4.7 6.8-4.6 6.8-4.2 6.8-4.2 6.8-4.3 6.8-4.2 6.8-4.3 6.8-4.2 6.8-4.2 6.8-4 6.8-3.9 6.8-3.9M429.4 1737.1l6.8-4.4 6.8-4.4 6.8-4.5 6.8-4.1 6.7-4.1 6.8-4.1 6.8-3.8 6.8-0.2 6.8-0.2 6.8 4.2 6.8 4.9 6.8 7.3 6.8 8.8 6.8 9.1 6.8 9.9 6.8 10 6.8-19 6.8-16.3 6.8-13.4 6.8-7.3 6.8-7.3 6.8-4.7 6.8-4.1 6.8-4.1 6.8-4.1 6.8-3.8 6.8-3.7 6.8-3.8 6.8-3.9 6.8-4.1 6.8-4.1 6.8-4.1 6.8-4.3 6.8-4.3 6.8-4.3 6.8-4.4 6.8-4.8 6.8-4.9 6.8-4.8 6.8-4.9 6.8-4.7 6.8-4.7 6.8-4.6 6.8-4.6 6.8-4.3 6.8-4.4 6.8-4.3 6.8-4.3 6.8-4.4 6.8-4.3 6.8-4.4 6.8-4.1 6.8-4.1 6.8-4.1M429.4 1780.1l6.8-4.5 6.8-4.4 6.8-4.5 6.8-4.3 6.7-4.3 6.8-4.3 6.8-4.1 6.8-2 6.8-1.9 6.8 0.7 6.8 1 6.8 2.5 6.8 3.4 6.8 3.6 6.8 4 6.8 4.1 6.8-13.1 6.8-11.6 6.8-9.8 6.8-6.2 6.8-6.2 6.8-4.6 6.8-4.3 6.8-4.3 6.8-4.3 6.8-4.1 6.8-4.1 6.8-4 6.8-4.2 6.8-4.3 6.8-4.3 6.8-4.3 6.8-4.3 6.8-4.5 6.8-4.4 6.8-4.4 6.8-4.7 6.8-4.8 6.8-4.7 6.8-4.8 6.8-4.6 6.8-4.6 6.8-4.6 6.8-4.6 6.8-4.4 6.8-4.5 6.8-4.4 6.8-4.4 6.8-4.4 6.8-4.5 6.8-4.4 6.8-4.3 6.8-4.3 6.8-4.3M429.4 1861.2l6.8-3.6 6.8-3.6 6.8-3.5 6.8-3.6 6.7-3.6 6.8-3.5 6.8-3.6 6.8-3.6 6.8-3.6 6.8-3.5 6.8-3.6 6.8-3.6 6.8-3.5 6.8-3.6 6.8-4.5 6.8-10.1 6.8-5.8 6.8-4.7 6.8-4.7 6.8-4.7 6.8-4.7 6.8-4.7 6.8-4.6 6.8-4.7 6.8-4.7 6.8-4.7 6.8-4.7 6.8-4.7 6.8-4.7 6.8-4.7 6.8-4.7 6.8-4.7 6.8-4.6 6.8-4.7 6.8-4.7 6.8-4.7 6.8-4.7 6.8-4.7 6.8-4.7 6.8-4.7 6.8-4.7 6.8-4.6 6.8-4.7 6.8-4.7 6.8-4.7 6.8-4.7 6.8-4.7 6.8-4.7 6.8-4.7 6.8-4.7 6.8-4.6 6.8-4.7 6.8-4.7 6.8-4.7M429.4 1905.7l6.8-1.1 6.8-1.1 6.8-1.1 6.8-1.1 6.7-1.1 6.8-1.1 6.8-1.1 6.8-1.1 6.8-1.1 6.8-1.1 6.8-1.1 6.8-1.1 6.8-6.8 6.8-20 6.8-32.4 6.8-32.3 6.8-10.2 6.8-4.7 6.8-4.7 6.8-4.7 6.8-4.7 6.8-4.7 6.8-4.6 6.8-4.7 6.8-4.7 6.8-4.7 6.8-4.7 6.8-4.7 6.8-4.7 6.8-4.7 6.8-4.7 6.8-4.7 6.8-4.6 6.8-4.7 6.8-4.7 6.8-4.7 6.8-4.7 6.8-4.7 6.8-4.7 6.8-4.7 6.8-4.7 6.8-4.6 6.8-4.7 6.8-4.7 6.8-4.7 6.8-4.7 6.8-4.7 6.8-4.7 6.8-4.7 6.8-4.7 6.8-4.6 6.8-4.7 6.8-4.7 6.8-4.7M429.4 1959.1l6.8 1.8 6.8 1.9 6.8 1.9 6.8 1.8 6.7 1.9 6.8 1.9 6.8 0.6 6.8-3 6.8-9.1 6.8-9.7 6.8-17.3 6.8-20 6.8-20 6.8-26.1 6.8-32.4 6.8-32.3 6.8-10.2 6.8-4.7 6.8-4.7 6.8-4.7 6.8-4.7 6.8-4.7 6.8-4.6 6.8-4.7 6.8-4.7 6.8-4.7 6.8-4.7 6.8-4.7 6.8-4.7 6.8-4.7 6.8-4.7 6.8-4.7 6.8-4.6 6.8-4.7 6.8-4.7 6.8-4.7 6.8-4.7 6.8-4.7 6.8-4.7 6.8-4.7 6.8-4.7 6.8-4.6 6.8-4.7 6.8-4.7 6.8-4.7 6.8-4.7 6.8-4.7 6.8-4.7 6.8-4.7 6.8-4.7 6.8-4.6 6.8-4.7 6.8-4.7 6.8-4.7M429.4 2003.6l6.8 4.3 6.8 0.6 6.8-2.5 6.8-5.1 6.7-5.1 6.8-7.9 6.8-9.7 6.8-9.7 6.8-9.7 6.8-9.7 6.8-17.3 6.8-20 6.8-20 6.8-26.1 6.8-32.4 6.8-32.3 6.8-10.2 6.8-4.7 6.8-4.7 6.8-4.7 6.8-4.7 6.8-4.7 6.8-4.6 6.8-4.7 6.8-4.7 6.8-4.7 6.8-4.7 6.8-4.7 6.8-4.7 6.8-4.7 6.8-4.7 6.8-4.7 6.8-4.6 6.8-4.7 6.8-4.7 6.8-4.7 6.8-4.7 6.8-4.7 6.8-4.7 6.8-4.7 6.8-4.7 6.8-4.6 6.8-4.7 6.8-4.7 6.8-4.7 6.8-4.7 6.8-4.7 6.8-4.7 6.8-4.7 6.8-4.7 6.8-4.6 6.8-4.7 6.8-4.7 6.8-4.7" fill="none" stroke="#000" stroke-width="0.8" stroke-linejoin="round"/>
<path d="M429.4 1590.4L429.4 2021.4" stroke="#000" stroke-width="2.4" fill="none"/>
<path d="M796.5 1498.3L796.5 1617.3" stroke="#000" stroke-width="1.6" fill="none"/>
<polygon points="429.4,1837.4 517.7,1879.3 884.9,1630.2 796.5,1594.3" fill="#000"/>
<defs><linearGradient id="g11" gradientUnits="userSpaceOnUse" x1="517.7" y1="0" x2="884.9" y2="0"><stop offset="0.000" stop-color="#95c861"/><stop offset="0.062" stop-color="#8cc864"/><stop offset="0.125" stop-color="#65c76f"/><stop offset="0.188" stop-color="#15c384"/><stop offset="0.250" stop-color="#06b9a9"/><stop offset="0.312" stop-color="#07b7af"/><stop offset="0.375" stop-color="#07b7b0"/><stop offset="0.438" stop-color="#07b7b0"/><stop offset="0.500" stop-color="#07b7b0"/><stop offset="0.562" stop-color="#07b7b0"/><stop offset="0.625" stop-color="#07b7b0"/><stop offset="0.688" stop-color="#07b7b0"/><stop offset="0.750" stop-color="#07b7b0"/><stop offset="0.812" stop-color="#07b7b0"/><stop offset="0.875" stop-color="#07b7b0"/><stop offset="0.938" stop-color="#07b7b0"/><stop offset="1.000" stop-color="#04bba0"/></linearGradient><linearGradient id="g12" gradientUnits="userSpaceOnUse" x1="517.7" y1="0" x2="884.9" y2="0"><stop offset="0.000" stop-color="#46c576"/><stop offset="0.062" stop-color="#3dc578"/><stop offset="0.125" stop-color="#23c47f"/><stop offset="0.188" stop-color="#00c18c"/><stop offset="0.250" stop-color="#07b8ad"/><stop offset="0.312" stop-color="#07b7b1"/><stop offset="0.375" stop-color="#08b7b2"/><stop offset="0.438" stop-color="#08b6b2"/><stop offset="0.500" stop-color="#08b6b2"/><stop offset="0.562" stop-color="#08b6b2"/><stop offset="0.625" stop-color="#08b6b2"/><stop offset="0.688" stop-color="#08b6b2"/><stop offset="0.750" stop-color="#08b6b2"/><stop offset="0.812" stop-color="#08b6b2"/><stop offset="0.875" stop-color="#08b6b2"/><stop offset="0.938" stop-color="#08b6b2"/><stop offset="1.000" stop-color="#05baa7"/></linearGradient><linearGradient id="g13" gradientUnits="userSpaceOnUse" x1="517.7" y1="0" x2="884.9" y2="0"><stop offset="0.000" stop-color="#0ec287"/><stop offset="0.062" stop-color="#0bc288"/><stop offset="0.125" stop-color="#02c18b"/><stop offset="0.188" stop-color="#03bd9c"/><stop offset="0.250" stop-color="#07b7b1"/><stop offset="0.312" stop-color="#08b6b3"/><stop offset="0.375" stop-color="#08b6b4"/><stop offset="0.438" stop-color="#08b6b4"/><stop offset="0.500" stop-color="#08b6b4"/><stop offset="0.562" stop-color="#08b6b4"/><stop offset="0.625" stop-color="#08b6b4"/><stop offset="0.688" stop-color="#08b6b4"/><stop offset="0.750" stop-color="#08b6b4"/><stop offset="0.812" stop-color="#08b6b4"/><stop offset="0.875" stop-color="#08b6b4"/><stop offset="0.938" stop-color="#08b6b4"/><stop offset="1.000" stop-color="#07b8ad"/></linearGradient><linearGradient id="g14" gradientUnits="userSpaceOnUse" x1="517.7" y1="0" x2="884.9" y2="0"><stop offset="0.000" stop-color="#04bc9f"/><stop offset="0.062" stop-color="#04bca0"/><stop offset="0.125" stop-color="#05bba3"/><stop offset="0.188" stop-color="#06b9ab"/><stop offset="0.250" stop-color="#08b6b4"/><stop offset="0.312" stop-color="#08b6b5"/><stop offset="0.375" stop-color="#08b6b5"/><stop offset="0.438" stop-color="#08b6b5"/><stop offset="0.500" stop-color="#08b6b5"/><stop offset="0.562" stop-color="#08b6b5"/><stop offset="0.625" stop-color="#08b6b5"/><stop offset="0.688" stop-color="#08b6b5"/><stop offset="0.750" stop-color="#08b6b5"/><stop offset="0.812" stop-color="#08b6b5"/><stop offset="0.875" stop-color="#08b6b5"/><stop offset="0.938" stop-color="#08b6b5"/><stop offset="1.000" stop-color="#08b6b2"/></linearGradient></defs>
<path d="M517.7 1763.3l6.8-3.5 6.8-3.6 6.8-3.3 6.8-1.4 6.8-1.4 6.8 1.3 6.8 1.8 6.8 1.7 6.8 8 6.8 9.1 6.8 11.5 6.8 12.5 6.8 1.8 6.8 1.8 6.8-3.4 6.8-4.3 6.8-4.3 6.8-4.3 6.8-4.3 6.8-4.3 6.8-4.3 6.8-4.4 6.8-4.5 6.8-4.6 6.8-4.5 6.8-4.6 6.8-4.5 6.8-4.6 6.8-4.6 6.8-4.5 6.8-4.6 6.8-4.5 6.8-4.6 6.8-4.5 6.8-4.6 6.8-4.6 6.8-4.5 6.8-4.6 6.8-4.5 6.8-4.6 6.8-4.5 6.8-4.6 6.8-4.5 6.8-4.6 6.8-4.6 6.8-4.5 6.8-4.6 6.8-4.5 6.8-4.6 6.8-4.5 6.8-4.6 6.8-4.6 6.8-15.2 6.8-7.9 0 5.6 -6.8 6.9 -6.8 12.3 -6.8 4.6 -6.8 4.5 -6.8 4.6 -6.8 4.5 -6.8 4.6 -6.8 4.6 -6.8 4.5 -6.8 4.6 -6.8 4.5 -6.8 4.6 -6.8 4.5 -6.8 4.6 -6.8 4.6 -6.8 4.5 -6.8 4.6 -6.8 4.5 -6.8 4.6 -6.8 4.5 -6.8 4.6 -6.8 4.6 -6.8 4.5 -6.8 4.6 -6.8 4.5 -6.8 4.6 -6.8 4.5 -6.8 4.6 -6.8 4.6 -6.8 4.5 -6.8 4.6 -6.8 4.5 -6.8 4.5 -6.8 4.3 -6.8 4.4 -6.8 4.4 -6.8 4.3 -6.8 4.4 -6.8 4.4 -6.8 3.7 -6.8 0 -6.8 0 -6.8-7.8 -6.8-7 -6.8-5.3 -6.8-4.5 -6.8 0.1 -6.8 0 -6.8 0.3 -6.8 2.3 -6.8 2.3 -6.8 3.7 -6.8 3.8 -6.8 3.8z" fill="url(#g11)"/>
<path d="M517.7 1793.8l6.8-3.8 6.8-3.8 6.8-3.7 6.8-2.3 6.8-2.3 6.8-0.3 6.8 0 6.8-0.1 6.8 4.5 6.8 5.3 6.8 7 6.8 7.8 6.8 0 6.8 0 6.8-3.7 6.8-4.4 6.8-4.4 6.8-4.3 6.8-4.4 6.8-4.4 6.8-4.3 6.8-4.5 6.8-4.5 6.8-4.6 6.8-4.5 6.8-4.6 6.8-4.6 6.8-4.5 6.8-4.6 6.8-4.5 6.8-4.6 6.8-4.5 6.8-4.6 6.8-4.6 6.8-4.5 6.8-4.6 6.8-4.5 6.8-4.6 6.8-4.5 6.8-4.6 6.8-4.6 6.8-4.5 6.8-4.6 6.8-4.5 6.8-4.6 6.8-4.5 6.8-4.6 6.8-4.6 6.8-4.5 6.8-4.6 6.8-4.5 6.8-4.6 6.8-12.3 6.8-6.9 0 5.4 -6.8 6.1 -6.8 9.3 -6.8 4.6 -6.8 4.6 -6.8 4.5 -6.8 4.6 -6.8 4.5 -6.8 4.6 -6.8 4.5 -6.8 4.6 -6.8 4.6 -6.8 4.5 -6.8 4.6 -6.8 4.5 -6.8 4.6 -6.8 4.5 -6.8 4.6 -6.8 4.5 -6.8 4.6 -6.8 4.6 -6.8 4.5 -6.8 4.6 -6.8 4.5 -6.8 4.6 -6.8 4.5 -6.8 4.6 -6.8 4.6 -6.8 4.5 -6.8 4.6 -6.8 4.5 -6.8 4.6 -6.8 4.5 -6.8 4.5 -6.8 4.5 -6.8 4.4 -6.8 4.4 -6.8 4.5 -6.8 4.4 -6.8 4.5 -6.8 4 -6.8 1.7 -6.8 1.7 -6.8-3.1 -6.8-2.7 -6.8-1.6 -6.8-1.1 -6.8 1.7 -6.8 1.8 -6.8 1.9 -6.8 3.1 -6.8 3.2 -6.8 4 -6.8 4.1 -6.8 4.1z" fill="url(#g12)"/>
<path d="M517.7 1823.3l6.8-4.1 6.8-4.1 6.8-4 6.8-3.2 6.8-3.1 6.8-1.9 6.8-1.8 6.8-1.7 6.8 1.1 6.8 1.6 6.8 2.7 6.8 3.1 6.8-1.7 6.8-1.7 6.8-4 6.8-4.5 6.8-4.4 6.8-4.5 6.8-4.4 6.8-4.4 6.8-4.5 6.8-4.5 6.8-4.5 6.8-4.6 6.8-4.5 6.8-4.6 6.8-4.5 6.8-4.6 6.8-4.6 6.8-4.5 6.8-4.6 6.8-4.5 6.8-4.6 6.8-4.5 6.8-4.6 6.8-4.6 6.8-4.5 6.8-4.6 6.8-4.5 6.8-4.6 6.8-4.5 6.8-4.6 6.8-4.5 6.8-4.6 6.8-4.6 6.8-4.5 6.8-4.6 6.8-4.5 6.8-4.6 6.8-4.5 6.8-4.6 6.8-4.6 6.8-9.3 6.8-6.1 0 5 -6.8 5.2 -6.8 6.7 -6.8 4.6 -6.8 4.6 -6.8 4.5 -6.8 4.6 -6.8 4.5 -6.8 4.6 -6.8 4.5 -6.8 4.6 -6.8 4.6 -6.8 4.5 -6.8 4.6 -6.8 4.5 -6.8 4.6 -6.8 4.5 -6.8 4.6 -6.8 4.5 -6.8 4.6 -6.8 4.6 -6.8 4.5 -6.8 4.6 -6.8 4.5 -6.8 4.6 -6.8 4.5 -6.8 4.6 -6.8 4.6 -6.8 4.5 -6.8 4.6 -6.8 4.5 -6.8 4.6 -6.8 4.5 -6.8 4.6 -6.8 4.5 -6.8 4.5 -6.8 4.5 -6.8 4.5 -6.8 4.5 -6.8 4.5 -6.8 4.3 -6.8 3.3 -6.8 3.3 -6.8 1.1 -6.8 1.4 -6.8 1.8 -6.8 2.1 -6.8 3.3 -6.8 3.3 -6.8 3.3 -6.8 4 -6.8 3.9 -6.8 4.3 -6.8 4.4 -6.8 4.3z" fill="url(#g13)"/>
<path d="M517.7 1850.5l6.8-4.3 6.8-4.4 6.8-4.3 6.8-3.9 6.8-4 6.8-3.3 6.8-3.3 6.8-3.3 6.8-2.1 6.8-1.8 6.8-1.4 6.8-1.1 6.8-3.3 6.8-3.3 6.8-4.3 6.8-4.5 6.8-4.5 6.8-4.5 6.8-4.5 6.8-4.5 6.8-4.5 6.8-4.6 6.8-4.5 6.8-4.6 6.8-4.5 6.8-4.6 6.8-4.5 6.8-4.6 6.8-4.6 6.8-4.5 6.8-4.6 6.8-4.5 6.8-4.6 6.8-4.5 6.8-4.6 6.8-4.6 6.8-4.5 6.8-4.6 6.8-4.5 6.8-4.6 6.8-4.5 6.8-4.6 6.8-4.5 6.8-4.6 6.8-4.6 6.8-4.5 6.8-4.6 6.8-4.5 6.8-4.6 6.8-4.5 6.8-4.6 6.8-4.6 6.8-6.7 6.8-5.2 0 0 -6.8 5.2 -6.8 6.7 -6.8 4.6 -6.8 4.6 -6.8 4.5 -6.8 4.6 -6.8 4.5 -6.8 4.6 -6.8 4.5 -6.8 4.6 -6.8 4.6 -6.8 4.5 -6.8 4.6 -6.8 4.5 -6.8 4.6 -6.8 4.5 -6.8 4.6 -6.8 4.5 -6.8 4.6 -6.8 4.6 -6.8 4.5 -6.8 4.6 -6.8 4.5 -6.8 4.6 -6.8 4.5 -6.8 4.6 -6.8 4.6 -6.8 4.5 -6.8 4.6 -6.8 4.5 -6.8 4.6 -6.8 4.5 -6.8 4.6 -6.8 4.5 -6.8 4.5 -6.8 4.5 -6.8 4.5 -6.8 4.5 -6.8 4.5 -6.8 4.3 -6.8 3.3 -6.8 3.3 -6.8 1.1 -6.8 2.9 -6.8 4.5 -6.8 4.5 -6.8 4.5 -6.8 4.5 -6.8 4.5 -6.8 4.5 -6.8 4.5 -6.8 4.5 -6.8 4.5 -6.8 4.5z" fill="url(#g14)"/>
<path d="M517.7 1862.3l6.8-4.5 6.8-4.5 6.8-4.5 6.8-4.5 6.8-4.5 6.8-4.5 6.8-4.5 6.8-4.5 6.8-4.5 6.8-4.5 6.8-2.9 6.8-1.1 6.8-3.3 6.8-3.3 6.8-4.3 6.8-4.5 6.8-4.5 6.8-4.5 6.8-4.5 6.8-4.5 6.8-4.5 6.8-4.6 6.8-4.5 6.8-4.6 6.8-4.5 6.8-4.6 6.8-4.5 6.8-4.6 6.8-4.6 6.8-4.5 6.8-4.6 6.8-4.5 6.8-4.6 6.8-4.5 6.8-4.6 6.8-4.6 6.8-4.5 6.8-4.6 6.8-4.5 6.8-4.6 6.8-4.5 6.8-4.6 6.8-4.5 6.8-4.6 6.8-4.6 6.8-4.5 6.8-4.6 6.8-4.5 6.8-4.6 6.8-4.5 6.8-4.6 6.8-4.6 6.8-6.7 6.8-5.2 0 9.6 -6.8 4.6 -6.8 4.6 -6.8 4.6 -6.8 4.6 -6.8 4.6 -6.8 4.6 -6.8 4.6 -6.8 4.6 -6.8 4.6 -6.8 4.6 -6.8 4.6 -6.8 4.6 -6.8 4.6 -6.8 4.6 -6.8 4.6 -6.8 4.6 -6.8 4.6 -6.8 4.6 -6.8 4.7 -6.8 4.6 -6.8 4.6 -6.8 4.6 -6.8 4.6 -6.8 4.6 -6.8 4.6 -6.8 4.6 -6.8 4.6 -6.8 4.6 -6.8 4.6 -6.8 4.6 -6.8 4.6 -6.8 4.6 -6.8 4.6 -6.8 4.6 -6.8 4.6 -6.8 4.6 -6.8 4.6 -6.8 4.6 -6.8 4.6 -6.8 4.6 -6.8 4.6 -6.8 4.6 -6.8 4.6 -6.8 4.6 -6.8 4.6 -6.8 4.6 -6.8 4.6 -6.8 4.6 -6.8 4.6 -6.8 4.6 -6.8 4.6 -6.8 4.6 -6.8 4.6 -6.8 4.6z" fill="#000"/>
<path d="M517.7 1880.3l6.8-4.6 6.8-4.6 6.8-4.6 6.8-4.6 6.8-4.6 6.8-4.6 6.8-4.6 6.8-4.6 6.8-4.6 6.8-4.6 6.8-4.6 6.8-4.6 6.8-4.6 6.8-4.6 6.8-4.6 6.8-4.6 6.8-4.6 6.8-4.6 6.8-4.6 6.8-4.6 6.8-4.6 6.8-4.6 6.8-4.6 6.8-4.6 6.8-4.6 6.8-4.6 6.8-4.6 6.8-4.6 6.8-4.6 6.8-4.6 6.8-4.6 6.8-4.6 6.8-4.6 6.8-4.6 6.8-4.6 6.8-4.7 6.8-4.6 6.8-4.6 6.8-4.6 6.8-4.6 6.8-4.6 6.8-4.6 6.8-4.6 6.8-4.6 6.8-4.6 6.8-4.6 6.8-4.6 6.8-4.6 6.8-4.6 6.8-4.6 6.8-4.6 6.8-4.6 6.8-4.6 6.8-4.6 0 0.4 -6.8 4.7 -6.8 4.6 -6.8 4.7 -6.8 4.7 -6.8 4.6 -6.8 4.7 -6.8 4.6 -6.8 4.7 -6.8 4.7 -6.8 4.6 -6.8 4.7 -6.8 4.6 -6.8 4.7 -6.8 4.7 -6.8 4.6 -6.8 4.7 -6.8 4.6 -6.8 4.7 -6.8 4.7 -6.8 4.6 -6.8 4.7 -6.8 4.6 -6.8 4.7 -6.8 4.7 -6.8 4.6 -6.8 4.7 -6.8 4.6 -6.8 4.7 -6.8 4.7 -6.8 4.6 -6.8 4.7 -6.8 4.6 -6.8 4.7 -6.8 4.7 -6.8 4.6 -6.8 4.7 -6.8 4.6 -6.8 4.7 -6.8 6 -6.8 16.2 -6.8 16.1 -6.8 14.3 -6.8 3.6 -6.8 3.2 -6.8 3.1 -6.8 3 -6.8 3.1 -6.8 3.1 -6.8 3 -6.8 3.1 -6.8 3 -6.8 3.1 -6.8 3 -6.8 3.1z" fill="#10afc7"/>
<path d="M517.7 1899.3l6.8-3.1 6.8-3 6.8-3.1 6.8-3 6.8-3.1 6.8-3 6.8-3.1 6.8-3.1 6.8-3 6.8-3.1 6.8-3.2 6.8-3.6 6.8-14.3 6.8-16.1 6.8-16.2 6.8-6 6.8-4.7 6.8-4.6 6.8-4.7 6.8-4.6 6.8-4.7 6.8-4.7 6.8-4.6 6.8-4.7 6.8-4.6 6.8-4.7 6.8-4.7 6.8-4.6 6.8-4.7 6.8-4.6 6.8-4.7 6.8-4.7 6.8-4.6 6.8-4.7 6.8-4.6 6.8-4.7 6.8-4.7 6.8-4.6 6.8-4.7 6.8-4.6 6.8-4.7 6.8-4.7 6.8-4.6 6.8-4.7 6.8-4.6 6.8-4.7 6.8-4.7 6.8-4.6 6.8-4.7 6.8-4.6 6.8-4.7 6.8-4.7 6.8-4.6 6.8-4.7 0 0 -6.8 4.7 -6.8 4.6 -6.8 4.7 -6.8 4.7 -6.8 4.6 -6.8 4.7 -6.8 4.6 -6.8 4.7 -6.8 4.7 -6.8 4.6 -6.8 4.7 -6.8 4.6 -6.8 4.7 -6.8 4.7 -6.8 4.6 -6.8 4.7 -6.8 4.6 -6.8 4.7 -6.8 4.7 -6.8 4.6 -6.8 4.7 -6.8 4.6 -6.8 4.7 -6.8 4.7 -6.8 4.6 -6.8 4.7 -6.8 4.6 -6.8 4.7 -6.8 4.7 -6.8 4.6 -6.8 4.7 -6.8 4.6 -6.8 4.7 -6.8 4.7 -6.8 4.6 -6.8 4.7 -6.8 4.6 -6.8 4.7 -6.8 6 -6.8 16.2 -6.8 16.1 -6.8 16.1 -6.8 16.2 -6.8 12.8 -6.8 11.9 -6.8 11.9 -6.8 11.3 -6.8 3.6 -6.8 0.9 -6.8 1 -6.8 0.9 -6.8 1 -6.8 0.9 -6.8 1z" fill="#1e9fde"/>
<path d="M517.7 1937.1l6.8-1 6.8-0.9 6.8-1 6.8-0.9 6.8-1 6.8-0.9 6.8-3.6 6.8-11.3 6.8-11.9 6.8-11.9 6.8-12.8 6.8-16.2 6.8-16.1 6.8-16.1 6.8-16.2 6.8-6 6.8-4.7 6.8-4.6 6.8-4.7 6.8-4.6 6.8-4.7 6.8-4.7 6.8-4.6 6.8-4.7 6.8-4.6 6.8-4.7 6.8-4.7 6.8-4.6 6.8-4.7 6.8-4.6 6.8-4.7 6.8-4.7 6.8-4.6 6.8-4.7 6.8-4.6 6.8-4.7 6.8-4.7 6.8-4.6 6.8-4.7 6.8-4.6 6.8-4.7 6.8-4.7 6.8-4.6 6.8-4.7 6.8-4.6 6.8-4.7 6.8-4.7 6.8-4.6 6.8-4.7 6.8-4.6 6.8-4.7 6.8-4.7 6.8-4.6 6.8-4.7 0 0 -6.8 4.7 -6.8 4.6 -6.8 4.7 -6.8 4.7 -6.8 4.6 -6.8 4.7 -6.8 4.6 -6.8 4.7 -6.8 4.7 -6.8 4.6 -6.8 4.7 -6.8 4.6 -6.8 4.7 -6.8 4.7 -6.8 4.6 -6.8 4.7 -6.8 4.6 -6.8 4.7 -6.8 4.7 -6.8 4.6 -6.8 4.7 -6.8 4.6 -6.8 4.7 -6.8 4.7 -6.8 4.6 -6.8 4.7 -6.8 4.6 -6.8 4.7 -6.8 4.7 -6.8 4.6 -6.8 4.7 -6.8 4.6 -6.8 4.7 -6.8 4.7 -6.8 4.6 -6.8 4.7 -6.8 4.6 -6.8 4.7 -6.8 6 -6.8 16.2 -6.8 16.1 -6.8 16.1 -6.8 16.2 -6.8 12.8 -6.8 11.9 -6.8 12 -6.8 12 -6.8 11.9 -6.8 9.6 -6.8 6 -6.8 6.1 -6.8 6 -6.8 6.1 -6.8 6z" fill="#3180f3"/>
<path d="M612.9 1803.9 871.3 1630.7M878.1 1618.6 884.9 1614M585.7 1799.3 592.5 1794.8M578.9 1800.1 585.7 1795.5M578.9 1796.3 585.7 1791.7M565.3 1801.6 585.7 1787.9M558.5 1802.4 578.9 1788.7M544.9 1807.7 578.9 1784.9M517.7 1822.1 572.1 1785.6M517.7 1818.3 572.1 1781.8M517.7 1814.5 572.1 1778M517.7 1810.7 565.3 1778.8M517.7 1806.9 558.5 1779.6M517.7 1803.1 551.7 1780.3M517.7 1799.3 544.9 1781.1M517.7 1795.5 531.3 1786.4" fill="none" stroke="#000" stroke-width="1.5" stroke-opacity="0.85"/>
<path d="M606.1 1810 878.1 1627.7M599.3 1810.7 606.1 1806.2M878.1 1623.9 884.9 1619.3M585.7 1816 592.5 1811.5M578.9 1816.8 592.5 1807.7M558.5 1826.7 585.7 1808.4M517.7 1850.2 585.7 1804.6M517.7 1846.4 578.9 1805.4M517.7 1842.6 578.9 1801.6M517.7 1838.8 572.1 1802.3M517.7 1835 565.3 1803.1M517.7 1831.2 558.5 1803.9M517.7 1827.4 551.7 1804.6M517.7 1823.6 524.5 1819" fill="none" stroke="#000" stroke-width="1.5" stroke-opacity="0.85"/>
<path d="M517.7 1861.6 585.7 1816M517.7 1857.8 572.1 1821.3M517.7 1854 558.5 1826.7" fill="none" stroke="#000" stroke-width="1.5" stroke-opacity="0.85"/>
<path d="M517.7 1763.3V1980.3M524.5 1759.8V1974.3M531.3 1756.2V1968.2M538.1 1752.9V1962.2M544.9 1751.5V1956.1M551.7 1750.1V1950.1M558.5 1751.4V1940.5M565.3 1753.2V1928.6M572.1 1754.9V1916.6M578.9 1762.9V1904.6M585.7 1772V1892.7M592.5 1783.5V1879.9M599.3 1796V1863.7M606.1 1797.8V1847.6M612.9 1799.6V1831.5M619.7 1796.2V1815.3M626.5 1791.9V1809.3M633.3 1787.6V1804.6M640.1 1783.3V1800M646.9 1779V1795.3M653.7 1774.7V1790.7M660.5 1770.4V1786M667.3 1766V1781.3M674.1 1761.5V1776.7M680.9 1756.9V1772M687.7 1752.4V1767.4M694.5 1747.8V1762.7M701.3 1743.3V1758M708.1 1738.7V1753.4M714.9 1734.1V1748.7M721.7 1729.6V1744.1M728.5 1725V1739.4M735.3 1720.5V1734.7M742.1 1715.9V1730.1M748.9 1711.4V1725.4M755.7 1706.8V1720.8M762.5 1702.2V1716.1M769.3 1697.7V1711.4M776.1 1693.1V1706.8M782.9 1688.6V1702.1M789.7 1684V1697.5M796.5 1679.5V1692.8M803.3 1674.9V1688.1M810.1 1670.4V1683.5M816.9 1665.8V1678.8M823.7 1661.2V1674.2M830.5 1656.7V1669.5M837.3 1652.1V1664.8M844.1 1647.6V1660.2M850.9 1643V1655.5M857.7 1638.5V1650.9M864.5 1633.9V1646.2M871.3 1629.3V1641.5M878.1 1614.1V1636.9M884.9 1606.2V1632.2" fill="none" stroke="#000" stroke-width="1.25" stroke-opacity="0.8"/>
<path d="M517.7 1763.3l6.8-3.5 6.8-3.6 6.8-3.3 6.8-1.4 6.8-1.4 6.8 1.3 6.8 1.8 6.8 1.7 6.8 8 6.8 9.1 6.8 11.5 6.8 12.5 6.8 1.8 6.8 1.8 6.8-3.4 6.8-4.3 6.8-4.3 6.8-4.3 6.8-4.3 6.8-4.3 6.8-4.3 6.8-4.4 6.8-4.5 6.8-4.6 6.8-4.5 6.8-4.6 6.8-4.5 6.8-4.6 6.8-4.6 6.8-4.5 6.8-4.6 6.8-4.5 6.8-4.6 6.8-4.5 6.8-4.6 6.8-4.6 6.8-4.5 6.8-4.6 6.8-4.5 6.8-4.6 6.8-4.5 6.8-4.6 6.8-4.5 6.8-4.6 6.8-4.6 6.8-4.5 6.8-4.6 6.8-4.5 6.8-4.6 6.8-4.5 6.8-4.6 6.8-4.6 6.8-15.2 6.8-7.9M517.7 1793.8l6.8-3.8 6.8-3.8 6.8-3.7 6.8-2.3 6.8-2.3 6.8-0.3 6.8 0 6.8-0.1 6.8 4.5 6.8 5.3 6.8 7 6.8 7.8 6.8 0 6.8 0 6.8-3.7 6.8-4.4 6.8-4.4 6.8-4.3 6.8-4.4 6.8-4.4 6.8-4.3 6.8-4.5 6.8-4.5 6.8-4.6 6.8-4.5 6.8-4.6 6.8-4.6 6.8-4.5 6.8-4.6 6.8-4.5 6.8-4.6 6.8-4.5 6.8-4.6 6.8-4.6 6.8-4.5 6.8-4.6 6.8-4.5 6.8-4.6 6.8-4.5 6.8-4.6 6.8-4.6 6.8-4.5 6.8-4.6 6.8-4.5 6.8-4.6 6.8-4.5 6.8-4.6 6.8-4.6 6.8-4.5 6.8-4.6 6.8-4.5 6.8-4.6 6.8-12.3 6.8-6.9M517.7 1823.3l6.8-4.1 6.8-4.1 6.8-4 6.8-3.2 6.8-3.1 6.8-1.9 6.8-1.8 6.8-1.7 6.8 1.1 6.8 1.6 6.8 2.7 6.8 3.1 6.8-1.7 6.8-1.7 6.8-4 6.8-4.5 6.8-4.4 6.8-4.5 6.8-4.4 6.8-4.4 6.8-4.5 6.8-4.5 6.8-4.5 6.8-4.6 6.8-4.5 6.8-4.6 6.8-4.5 6.8-4.6 6.8-4.6 6.8-4.5 6.8-4.6 6.8-4.5 6.8-4.6 6.8-4.5 6.8-4.6 6.8-4.6 6.8-4.5 6.8-4.6 6.8-4.5 6.8-4.6 6.8-4.5 6.8-4.6 6.8-4.5 6.8-4.6 6.8-4.6 6.8-4.5 6.8-4.6 6.8-4.5 6.8-4.6 6.8-4.5 6.8-4.6 6.8-4.6 6.8-9.3 6.8-6.1M517.7 1850.5l6.8-4.3 6.8-4.4 6.8-4.3 6.8-3.9 6.8-4 6.8-3.3 6.8-3.3 6.8-3.3 6.8-2.1 6.8-1.8 6.8-1.4 6.8-1.1 6.8-3.3 6.8-3.3 6.8-4.3 6.8-4.5 6.8-4.5 6.8-4.5 6.8-4.5 6.8-4.5 6.8-4.5 6.8-4.6 6.8-4.5 6.8-4.6 6.8-4.5 6.8-4.6 6.8-4.5 6.8-4.6 6.8-4.6 6.8-4.5 6.8-4.6 6.8-4.5 6.8-4.6 6.8-4.5 6.8-4.6 6.8-4.6 6.8-4.5 6.8-4.6 6.8-4.5 6.8-4.6 6.8-4.5 6.8-4.6 6.8-4.5 6.8-4.6 6.8-4.6 6.8-4.5 6.8-4.6 6.8-4.5 6.8-4.6 6.8-4.5 6.8-4.6 6.8-4.6 6.8-6.7 6.8-5.2M517.7 1862.3l6.8-4.5 6.8-4.5 6.8-4.5 6.8-4.5 6.8-4.5 6.8-4.5 6.8-4.5 6.8-4.5 6.8-4.5 6.8-4.5 6.8-2.9 6.8-1.1 6.8-3.3 6.8-3.3 6.8-4.3 6.8-4.5 6.8-4.5 6.8-4.5 6.8-4.5 6.8-4.5 6.8-4.5 6.8-4.6 6.8-4.5 6.8-4.6 6.8-4.5 6.8-4.6 6.8-4.5 6.8-4.6 6.8-4.6 6.8-4.5 6.8-4.6 6.8-4.5 6.8-4.6 6.8-4.5 6.8-4.6 6.8-4.6 6.8-4.5 6.8-4.6 6.8-4.5 6.8-4.6 6.8-4.5 6.8-4.6 6.8-4.5 6.8-4.6 6.8-4.6 6.8-4.5 6.8-4.6 6.8-4.5 6.8-4.6 6.8-4.5 6.8-4.6 6.8-4.6 6.8-6.7 6.8-5.2M517.7 1880.3l6.8-4.6 6.8-4.6 6.8-4.6 6.8-4.6 6.8-4.6 6.8-4.6 6.8-4.6 6.8-4.6 6.8-4.6 6.8-4.6 6.8-4.6 6.8-4.6 6.8-4.6 6.8-4.6 6.8-4.6 6.8-4.6 6.8-4.6 6.8-4.6 6.8-4.6 6.8-4.6 6.8-4.6 6.8-4.6 6.8-4.6 6.8-4.6 6.8-4.6 6.8-4.6 6.8-4.6 6.8-4.6 6.8-4.6 6.8-4.6 6.8-4.6 6.8-4.6 6.8-4.6 6.8-4.6 6.8-4.6 6.8-4.7 6.8-4.6 6.8-4.6 6.8-4.6 6.8-4.6 6.8-4.6 6.8-4.6 6.8-4.6 6.8-4.6 6.8-4.6 6.8-4.6 6.8-4.6 6.8-4.6 6.8-4.6 6.8-4.6 6.8-4.6 6.8-4.6 6.8-4.6 6.8-4.6M517.7 1899.3l6.8-3.1 6.8-3 6.8-3.1 6.8-3 6.8-3.1 6.8-3 6.8-3.1 6.8-3.1 6.8-3 6.8-3.1 6.8-3.2 6.8-3.6 6.8-14.3 6.8-16.1 6.8-16.2 6.8-6 6.8-4.7 6.8-4.6 6.8-4.7 6.8-4.6 6.8-4.7 6.8-4.7 6.8-4.6 6.8-4.7 6.8-4.6 6.8-4.7 6.8-4.7 6.8-4.6 6.8-4.7 6.8-4.6 6.8-4.7 6.8-4.7 6.8-4.6 6.8-4.7 6.8-4.6 6.8-4.7 6.8-4.7 6.8-4.6 6.8-4.7 6.8-4.6 6.8-4.7 6.8-4.7 6.8-4.6 6.8-4.7 6.8-4.6 6.8-4.7 6.8-4.7 6.8-4.6 6.8-4.7 6.8-4.6 6.8-4.7 6.8-4.7 6.8-4.6 6.8-4.7M517.7 1937.1l6.8-1 6.8-0.9 6.8-1 6.8-0.9 6.8-1 6.8-0.9 6.8-3.6 6.8-11.3 6.8-11.9 6.8-11.9 6.8-12.8 6.8-16.2 6.8-16.1 6.8-16.1 6.8-16.2 6.8-6 6.8-4.7 6.8-4.6 6.8-4.7 6.8-4.6 6.8-4.7 6.8-4.7 6.8-4.6 6.8-4.7 6.8-4.6 6.8-4.7 6.8-4.7 6.8-4.6 6.8-4.7 6.8-4.6 6.8-4.7 6.8-4.7 6.8-4.6 6.8-4.7 6.8-4.6 6.8-4.7 6.8-4.7 6.8-4.6 6.8-4.7 6.8-4.6 6.8-4.7 6.8-4.7 6.8-4.6 6.8-4.7 6.8-4.6 6.8-4.7 6.8-4.7 6.8-4.6 6.8-4.7 6.8-4.6 6.8-4.7 6.8-4.7 6.8-4.6 6.8-4.7M517.7 1980.3l6.8-6 6.8-6.1 6.8-6 6.8-6.1 6.8-6 6.8-9.6 6.8-11.9 6.8-12 6.8-12 6.8-11.9 6.8-12.8 6.8-16.2 6.8-16.1 6.8-16.1 6.8-16.2 6.8-6 6.8-4.7 6.8-4.6 6.8-4.7 6.8-4.6 6.8-4.7 6.8-4.7 6.8-4.6 6.8-4.7 6.8-4.6 6.8-4.7 6.8-4.7 6.8-4.6 6.8-4.7 6.8-4.6 6.8-4.7 6.8-4.7 6.8-4.6 6.8-4.7 6.8-4.6 6.8-4.7 6.8-4.7 6.8-4.6 6.8-4.7 6.8-4.6 6.8-4.7 6.8-4.7 6.8-4.6 6.8-4.7 6.8-4.6 6.8-4.7 6.8-4.7 6.8-4.6 6.8-4.7 6.8-4.6 6.8-4.7 6.8-4.7 6.8-4.6 6.8-4.7M517.7 1778.6l6.8-3.7 6.8-3.7 6.8-3.5 6.8-1.8 6.8-1.9 6.8 0.5 6.8 0.9 6.8 0.8 6.8 6.2 6.8 7.2 6.8 9.3 6.8 10.2 6.8 0.8 6.8 0.9 6.8-3.5 6.8-4.4 6.8-4.3 6.8-4.3 6.8-4.3 6.8-4.4 6.8-4.3 6.8-4.4 6.8-4.6 6.8-4.5 6.8-4.6 6.8-4.5 6.8-4.6 6.8-4.6 6.8-4.5 6.8-4.6 6.8-4.5 6.8-4.6 6.8-4.5 6.8-4.6 6.8-4.6 6.8-4.5 6.8-4.6 6.8-4.5 6.8-4.6 6.8-4.5 6.8-4.6 6.8-4.6 6.8-4.5 6.8-4.6 6.8-4.5 6.8-4.6 6.8-4.5 6.8-4.6 6.8-4.6 6.8-4.5 6.8-4.6 6.8-4.5 6.8-13.8 6.8-7.4M517.7 1809.1l6.8-4 6.8-3.9 6.8-3.9 6.8-2.7 6.8-2.7 6.8-1.2 6.8-0.9 6.8-0.9 6.8 2.7 6.8 3.4 6.8 4.7 6.8 5.4 6.8-0.9 6.8-0.9 6.8-3.9 6.8-4.4 6.8-4.4 6.8-4.4 6.8-4.4 6.8-4.4 6.8-4.4 6.8-4.4 6.8-4.6 6.8-4.5 6.8-4.6 6.8-4.6 6.8-4.5 6.8-4.6 6.8-4.5 6.8-4.6 6.8-4.5 6.8-4.6 6.8-4.6 6.8-4.5 6.8-4.6 6.8-4.5 6.8-4.6 6.8-4.5 6.8-4.6 6.8-4.6 6.8-4.5 6.8-4.6 6.8-4.5 6.8-4.6 6.8-4.5 6.8-4.6 6.8-4.6 6.8-4.5 6.8-4.6 6.8-4.5 6.8-4.6 6.8-4.5 6.8-10.8 6.8-6.5M517.7 1837.4l6.8-4.2 6.8-4.2 6.8-4.2 6.8-3.5 6.8-3.6 6.8-2.7 6.8-2.5 6.8-2.6 6.8-0.5 6.8-0.2 6.8 0.6 6.8 0.9 6.8-2.5 6.8-2.6 6.8-4.1 6.8-4.5 6.8-4.5 6.8-4.5 6.8-4.4 6.8-4.5 6.8-4.5 6.8-4.5 6.8-4.5 6.8-4.6 6.8-4.5 6.8-4.6 6.8-4.6 6.8-4.5 6.8-4.6 6.8-4.5 6.8-4.6 6.8-4.5 6.8-4.6 6.8-4.6 6.8-4.5 6.8-4.6 6.8-4.5 6.8-4.6 6.8-4.5 6.8-4.6 6.8-4.6 6.8-4.5 6.8-4.6 6.8-4.5 6.8-4.6 6.8-4.5 6.8-4.6 6.8-4.6 6.8-4.5 6.8-4.6 6.8-4.5 6.8-4.6 6.8-8 6.8-5.6" fill="none" stroke="#000" stroke-width="0.8" stroke-linejoin="round"/>
<path d="M517.7 1763.3L517.7 1980.3" stroke="#000" stroke-width="2.4" fill="none"/>
<path d="M884.9 1606.2L884.9 1632.2" stroke="#000" stroke-width="1.6" fill="none"/>
<polygon points="517.7,1866.3 606.1,1908.2 973.2,1659.2 884.9,1623.2" fill="#000"/>
<path d="M606.1 1852.2l6.8-4.3 6.8-4.3 6.8-4.3 6.8-4.3 6.8-2.1 6.8-1.7 6.8-1.7 6.8-1.7 6.8-1.1 6.8 0.1 6.8 0.2 6.8 0.5 6.8 1.2 6.8 0.8 6.8-3.2 6.8-3.2 6.8-4.3 6.8-4.5 6.8-4.6 6.8-4.5 6.8-4.5 6.8-4.6 6.8-4.5 6.8-4.5 6.8-4.5 6.8-4.6 6.8-4.5 6.8-4.5 6.8-4.6 6.8-4.5 6.8-4.5 6.8-4.6 6.8-4.5 6.8-4.5 6.8-4.5 6.8-4.6 6.8-4.5 6.8-4.5 6.8-4.6 6.8-4.5 6.8-4.5 6.8-4.5 6.8-4.6 6.8-4.5 6.8-4.5 6.8-4.6 6.8-4.5 6.8-4.5 6.8-4.6 6.8-4.5 6.8-4.5 6.8-4.5 6.7-5.2 6.8-11.9 0 4.8 -6.8 9 -6.7 4.9 -6.8 4.5 -6.8 4.5 -6.8 4.6 -6.8 4.5 -6.8 4.6 -6.8 4.5 -6.8 4.5 -6.8 4.6 -6.8 4.5 -6.8 4.6 -6.8 4.5 -6.8 4.6 -6.8 4.5 -6.8 4.5 -6.8 4.6 -6.8 4.5 -6.8 4.6 -6.8 4.5 -6.8 4.5 -6.8 4.6 -6.8 4.5 -6.8 4.6 -6.8 4.5 -6.8 4.5 -6.8 4.6 -6.8 4.5 -6.8 4.6 -6.8 4.5 -6.8 4.5 -6.8 4.6 -6.8 4.5 -6.8 4.6 -6.8 4.5 -6.8 4.5 -6.8 4.6 -6.8 4.4 -6.8 3.7 -6.8 3.8 -6.8 1.3 -6.8 1.1 -6.8 1.5 -6.8 1.8 -6.8 1.7 -6.8 2.5 -6.8 2.8 -6.8 2.9 -6.8 2.8 -6.8 3.1 -6.8 4.4 -6.8 4.4 -6.8 4.4 -6.8 4.4z" fill="#00c18c"/>
<path d="M606.1 1871.8l6.8-4.4 6.8-4.4 6.8-4.4 6.8-4.4 6.8-3.1 6.8-2.8 6.8-2.9 6.8-2.8 6.8-2.5 6.8-1.7 6.8-1.8 6.8-1.5 6.8-1.1 6.8-1.3 6.8-3.8 6.8-3.7 6.8-4.4 6.8-4.6 6.8-4.5 6.8-4.5 6.8-4.6 6.8-4.5 6.8-4.6 6.8-4.5 6.8-4.5 6.8-4.6 6.8-4.5 6.8-4.6 6.8-4.5 6.8-4.5 6.8-4.6 6.8-4.5 6.8-4.6 6.8-4.5 6.8-4.5 6.8-4.6 6.8-4.5 6.8-4.6 6.8-4.5 6.8-4.5 6.8-4.6 6.8-4.5 6.8-4.6 6.8-4.5 6.8-4.6 6.8-4.5 6.8-4.5 6.8-4.6 6.8-4.5 6.8-4.6 6.8-4.5 6.8-4.5 6.7-4.9 6.8-9 0 0.2 -6.8 8.8 -6.7 4.9 -6.8 4.5 -6.8 4.5 -6.8 4.6 -6.8 4.5 -6.8 4.6 -6.8 4.5 -6.8 4.5 -6.8 4.6 -6.8 4.5 -6.8 4.6 -6.8 4.5 -6.8 4.6 -6.8 4.5 -6.8 4.5 -6.8 4.6 -6.8 4.5 -6.8 4.6 -6.8 4.5 -6.8 4.5 -6.8 4.6 -6.8 4.5 -6.8 4.6 -6.8 4.5 -6.8 4.5 -6.8 4.6 -6.8 4.5 -6.8 4.6 -6.8 4.5 -6.8 4.5 -6.8 4.6 -6.8 4.5 -6.8 4.6 -6.8 4.5 -6.8 4.5 -6.8 4.6 -6.8 4.4 -6.8 3.7 -6.8 3.8 -6.8 1.3 -6.8 3.2 -6.8 4.5 -6.8 4.5 -6.8 4.5 -6.8 4.5 -6.8 4.5 -6.8 4.5 -6.8 4.5 -6.8 4.5 -6.8 4.5 -6.8 4.5 -6.8 4.5 -6.8 4.5z" fill="#03bc9d"/>
<path d="M606.1 1891.2l6.8-4.5 6.8-4.5 6.8-4.5 6.8-4.5 6.8-4.5 6.8-4.5 6.8-4.5 6.8-4.5 6.8-4.5 6.8-4.5 6.8-4.5 6.8-4.5 6.8-3.2 6.8-1.3 6.8-3.8 6.8-3.7 6.8-4.4 6.8-4.6 6.8-4.5 6.8-4.5 6.8-4.6 6.8-4.5 6.8-4.6 6.8-4.5 6.8-4.5 6.8-4.6 6.8-4.5 6.8-4.6 6.8-4.5 6.8-4.5 6.8-4.6 6.8-4.5 6.8-4.6 6.8-4.5 6.8-4.5 6.8-4.6 6.8-4.5 6.8-4.6 6.8-4.5 6.8-4.5 6.8-4.6 6.8-4.5 6.8-4.6 6.8-4.5 6.8-4.6 6.8-4.5 6.8-4.5 6.8-4.6 6.8-4.5 6.8-4.6 6.8-4.5 6.8-4.5 6.7-4.9 6.8-8.8 0 12.6 -6.8 4.6 -6.7 4.6 -6.8 4.6 -6.8 4.6 -6.8 4.6 -6.8 4.6 -6.8 4.6 -6.8 4.6 -6.8 4.6 -6.8 4.6 -6.8 4.6 -6.8 4.6 -6.8 4.6 -6.8 4.6 -6.8 4.6 -6.8 4.6 -6.8 4.6 -6.8 4.6 -6.8 4.6 -6.8 4.6 -6.8 4.6 -6.8 4.6 -6.8 4.6 -6.8 4.6 -6.8 4.6 -6.8 4.6 -6.8 4.6 -6.8 4.6 -6.8 4.6 -6.8 4.6 -6.8 4.6 -6.8 4.6 -6.8 4.6 -6.8 4.6 -6.8 4.6 -6.8 4.6 -6.8 4.6 -6.8 4.6 -6.8 4.6 -6.8 4.6 -6.8 4.6 -6.8 4.6 -6.8 4.6 -6.8 4.6 -6.8 4.6 -6.8 4.6 -6.8 4.6 -6.8 4.6 -6.8 4.6 -6.8 4.6 -6.8 4.6 -6.8 4.6 -6.8 4.6 -6.8 4.6z" fill="#000"/>
<path d="M606.1 1909.2l6.8-4.6 6.8-4.6 6.8-4.6 6.8-4.6 6.8-4.6 6.8-4.6 6.8-4.6 6.8-4.6 6.8-4.6 6.8-4.6 6.8-4.6 6.8-4.6 6.8-4.6 6.8-4.6 6.8-4.6 6.8-4.6 6.8-4.6 6.8-4.6 6.8-4.6 6.8-4.6 6.8-4.6 6.8-4.6 6.8-4.6 6.8-4.6 6.8-4.6 6.8-4.6 6.8-4.6 6.8-4.6 6.8-4.6 6.8-4.6 6.8-4.6 6.8-4.6 6.8-4.6 6.8-4.6 6.8-4.6 6.8-4.6 6.8-4.6 6.8-4.6 6.8-4.6 6.8-4.6 6.8-4.6 6.8-4.6 6.8-4.6 6.8-4.6 6.8-4.6 6.8-4.6 6.8-4.6 6.8-4.6 6.8-4.6 6.8-4.6 6.8-4.6 6.8-4.6 6.7-4.6 6.8-4.6 0 0 -6.8 4.6 -6.7 4.6 -6.8 4.6 -6.8 4.6 -6.8 4.6 -6.8 4.6 -6.8 4.6 -6.8 4.6 -6.8 4.6 -6.8 4.6 -6.8 4.6 -6.8 4.6 -6.8 4.6 -6.8 4.6 -6.8 4.6 -6.8 4.6 -6.8 4.6 -6.8 4.6 -6.8 4.6 -6.8 4.6 -6.8 4.7 -6.8 4.6 -6.8 4.7 -6.8 4.6 -6.8 4.6 -6.8 4.7 -6.8 4.6 -6.8 4.6 -6.8 4.7 -6.8 4.6 -6.8 4.6 -6.8 4.7 -6.8 4.6 -6.8 4.6 -6.8 4.7 -6.8 4.6 -6.8 4.6 -6.8 4.7 -6.8 5 -6.8 7.7 -6.8 7.6 -6.8 7.7 -6.8 7.7 -6.8 7.7 -6.8 7.4 -6.8 6.6 -6.8 3.4 -6.8 3.5 -6.8 3.4 -6.8 3.5 -6.8 3.4 -6.8 3.5 -6.8 3.4 -6.8 3.4z" fill="#0fb0c4"/>
<path d="M606.1 1921.2l6.8-3.4 6.8-3.4 6.8-3.5 6.8-3.4 6.8-3.5 6.8-3.4 6.8-3.5 6.8-3.4 6.8-6.6 6.8-7.4 6.8-7.7 6.8-7.7 6.8-7.7 6.8-7.6 6.8-7.7 6.8-5 6.8-4.7 6.8-4.6 6.8-4.6 6.8-4.7 6.8-4.6 6.8-4.6 6.8-4.7 6.8-4.6 6.8-4.6 6.8-4.7 6.8-4.6 6.8-4.6 6.8-4.7 6.8-4.6 6.8-4.6 6.8-4.7 6.8-4.6 6.8-4.7 6.8-4.6 6.8-4.6 6.8-4.6 6.8-4.6 6.8-4.6 6.8-4.6 6.8-4.6 6.8-4.6 6.8-4.6 6.8-4.6 6.8-4.6 6.8-4.6 6.8-4.6 6.8-4.6 6.8-4.6 6.8-4.6 6.8-4.6 6.8-4.6 6.7-4.6 6.8-4.6 0 0 -6.8 4.6 -6.7 4.6 -6.8 4.6 -6.8 4.6 -6.8 4.6 -6.8 4.6 -6.8 4.6 -6.8 4.6 -6.8 4.6 -6.8 4.6 -6.8 4.6 -6.8 4.6 -6.8 4.6 -6.8 4.6 -6.8 4.6 -6.8 4.6 -6.8 4.6 -6.8 4.6 -6.8 4.6 -6.8 4.6 -6.8 4.7 -6.8 4.6 -6.8 4.7 -6.8 4.6 -6.8 4.6 -6.8 4.7 -6.8 4.6 -6.8 4.6 -6.8 4.7 -6.8 4.6 -6.8 4.6 -6.8 4.7 -6.8 4.6 -6.8 4.6 -6.8 4.7 -6.8 4.6 -6.8 4.6 -6.8 4.7 -6.8 5 -6.8 7.7 -6.8 7.6 -6.8 7.7 -6.8 7.7 -6.8 7.7 -6.8 7.7 -6.8 7.5 -6.8 5.8 -6.8 5.8 -6.8 5.8 -6.8 5.8 -6.8 5.8 -6.8 5.8 -6.8 5.8 -6.8 5.7z" fill="#15aad3"/>
<path d="M701.3 1833.1 966.4 1655.4M694.5 1833.9 701.3 1829.3M687.7 1834.6 694.5 1830.1M680.9 1835.4 687.7 1830.8M674.1 1836.2 687.7 1827M660.5 1841.5 680.9 1827.8M640.1 1851.3 674.1 1828.6M606.1 1870.3 667.3 1829.3M606.1 1866.5 660.5 1830.1M606.1 1862.7 653.7 1830.8M606.1 1858.9 646.9 1831.6M606.1 1855.1 633.3 1836.9" fill="none" stroke="#000" stroke-width="1.5" stroke-opacity="0.85"/>
<path d="M701.3 1833.1 708.1 1828.6M606.1 1889.3 687.7 1834.6M606.1 1885.5 674.1 1840M606.1 1881.7 667.3 1840.7M606.1 1877.9 653.7 1846M606.1 1874.1 640.1 1851.3" fill="none" stroke="#000" stroke-width="1.5" stroke-opacity="0.85"/>
<path d="M606.1 1852.2V1941.2M612.9 1847.9V1935.5M619.7 1843.6V1929.7M626.5 1839.3V1923.9M633.3 1835V1918.1M640.1 1832.9V1912.3M646.9 1831.2V1906.5M653.7 1829.5V1900.7M660.5 1827.8V1894.9M667.3 1826.7V1887.4M674.1 1826.8V1879.7M680.9 1827V1872M687.7 1827.5V1864.3M694.5 1828.7V1856.6M701.3 1829.5V1849M708.1 1826.3V1841.3M714.9 1823.1V1836.3M721.7 1818.8V1831.6M728.5 1814.3V1827M735.3 1809.7V1822.4M742.1 1805.2V1817.7M748.9 1800.7V1813.1M755.7 1796.1V1808.5M762.5 1791.6V1803.8M769.3 1787.1V1799.2M776.1 1782.6V1794.6M782.9 1778V1789.9M789.7 1773.5V1785.3M796.5 1769V1780.7M803.3 1764.4V1776M810.1 1759.9V1771.4M816.9 1755.4V1766.8M823.7 1750.8V1762.1M830.5 1746.3V1757.5M837.3 1741.8V1752.8M844.1 1737.3V1748.2M850.9 1732.7V1743.6M857.7 1728.2V1739M864.5 1723.7V1734.4M871.3 1719.1V1729.8M878.1 1714.6V1725.2M884.9 1710.1V1720.6M891.7 1705.6V1716M898.5 1701V1711.4M905.3 1696.5V1706.8M912.1 1692V1702.2M918.9 1687.4V1697.6M925.7 1682.9V1693M932.5 1678.4V1688.4M939.3 1673.8V1683.8M946.1 1669.3V1679.2M952.9 1664.8V1674.6M959.7 1660.3V1670M966.4 1655.1V1665.4M973.2 1643.2V1660.8" fill="none" stroke="#000" stroke-width="1.2" stroke-opacity="0.8"/>
<path d="M606.1 1852.2l6.8-4.3 6.8-4.3 6.8-4.3 6.8-4.3 6.8-2.1 6.8-1.7 6.8-1.7 6.8-1.7 6.8-1.1 6.8 0.1 6.8 0.2 6.8 0.5 6.8 1.2 6.8 0.8 6.8-3.2 6.8-3.2 6.8-4.3 6.8-4.5 6.8-4.6 6.8-4.5 6.8-4.5 6.8-4.6 6.8-4.5 6.8-4.5 6.8-4.5 6.8-4.6 6.8-4.5 6.8-4.5 6.8-4.6 6.8-4.5 6.8-4.5 6.8-4.6 6.8-4.5 6.8-4.5 6.8-4.5 6.8-4.6 6.8-4.5 6.8-4.5 6.8-4.6 6.8-4.5 6.8-4.5 6.8-4.5 6.8-4.6 6.8-4.5 6.8-4.5 6.8-4.6 6.8-4.5 6.8-4.5 6.8-4.6 6.8-4.5 6.8-4.5 6.8-4.5 6.7-5.2 6.8-11.9M606.1 1871.8l6.8-4.4 6.8-4.4 6.8-4.4 6.8-4.4 6.8-3.1 6.8-2.8 6.8-2.9 6.8-2.8 6.8-2.5 6.8-1.7 6.8-1.8 6.8-1.5 6.8-1.1 6.8-1.3 6.8-3.8 6.8-3.7 6.8-4.4 6.8-4.6 6.8-4.5 6.8-4.5 6.8-4.6 6.8-4.5 6.8-4.6 6.8-4.5 6.8-4.5 6.8-4.6 6.8-4.5 6.8-4.6 6.8-4.5 6.8-4.5 6.8-4.6 6.8-4.5 6.8-4.6 6.8-4.5 6.8-4.5 6.8-4.6 6.8-4.5 6.8-4.6 6.8-4.5 6.8-4.5 6.8-4.6 6.8-4.5 6.8-4.6 6.8-4.5 6.8-4.6 6.8-4.5 6.8-4.5 6.8-4.6 6.8-4.5 6.8-4.6 6.8-4.5 6.8-4.5 6.7-4.9 6.8-9M606.1 1891.2l6.8-4.5 6.8-4.5 6.8-4.5 6.8-4.5 6.8-4.5 6.8-4.5 6.8-4.5 6.8-4.5 6.8-4.5 6.8-4.5 6.8-4.5 6.8-4.5 6.8-3.2 6.8-1.3 6.8-3.8 6.8-3.7 6.8-4.4 6.8-4.6 6.8-4.5 6.8-4.5 6.8-4.6 6.8-4.5 6.8-4.6 6.8-4.5 6.8-4.5 6.8-4.6 6.8-4.5 6.8-4.6 6.8-4.5 6.8-4.5 6.8-4.6 6.8-4.5 6.8-4.6 6.8-4.5 6.8-4.5 6.8-4.6 6.8-4.5 6.8-4.6 6.8-4.5 6.8-4.5 6.8-4.6 6.8-4.5 6.8-4.6 6.8-4.5 6.8-4.6 6.8-4.5 6.8-4.5 6.8-4.6 6.8-4.5 6.8-4.6 6.8-4.5 6.8-4.5 6.7-4.9 6.8-8.8M606.1 1909.2l6.8-4.6 6.8-4.6 6.8-4.6 6.8-4.6 6.8-4.6 6.8-4.6 6.8-4.6 6.8-4.6 6.8-4.6 6.8-4.6 6.8-4.6 6.8-4.6 6.8-4.6 6.8-4.6 6.8-4.6 6.8-4.6 6.8-4.6 6.8-4.6 6.8-4.6 6.8-4.6 6.8-4.6 6.8-4.6 6.8-4.6 6.8-4.6 6.8-4.6 6.8-4.6 6.8-4.6 6.8-4.6 6.8-4.6 6.8-4.6 6.8-4.6 6.8-4.6 6.8-4.6 6.8-4.6 6.8-4.6 6.8-4.6 6.8-4.6 6.8-4.6 6.8-4.6 6.8-4.6 6.8-4.6 6.8-4.6 6.8-4.6 6.8-4.6 6.8-4.6 6.8-4.6 6.8-4.6 6.8-4.6 6.8-4.6 6.8-4.6 6.8-4.6 6.8-4.6 6.7-4.6 6.8-4.6M606.1 1921.2l6.8-3.4 6.8-3.4 6.8-3.5 6.8-3.4 6.8-3.5 6.8-3.4 6.8-3.5 6.8-3.4 6.8-6.6 6.8-7.4 6.8-7.7 6.8-7.7 6.8-7.7 6.8-7.6 6.8-7.7 6.8-5 6.8-4.7 6.8-4.6 6.8-4.6 6.8-4.7 6.8-4.6 6.8-4.6 6.8-4.7 6.8-4.6 6.8-4.6 6.8-4.7 6.8-4.6 6.8-4.6 6.8-4.7 6.8-4.6 6.8-4.6 6.8-4.7 6.8-4.6 6.8-4.7 6.8-4.6 6.8-4.6 6.8-4.6 6.8-4.6 6.8-4.6 6.8-4.6 6.8-4.6 6.8-4.6 6.8-4.6 6.8-4.6 6.8-4.6 6.8-4.6 6.8-4.6 6.8-4.6 6.8-4.6 6.8-4.6 6.8-4.6 6.8-4.6 6.7-4.6 6.8-4.6M606.1 1941.2l6.8-5.7 6.8-5.8 6.8-5.8 6.8-5.8 6.8-5.8 6.8-5.8 6.8-5.8 6.8-5.8 6.8-7.5 6.8-7.7 6.8-7.7 6.8-7.7 6.8-7.7 6.8-7.6 6.8-7.7 6.8-5 6.8-4.7 6.8-4.6 6.8-4.6 6.8-4.7 6.8-4.6 6.8-4.6 6.8-4.7 6.8-4.6 6.8-4.6 6.8-4.7 6.8-4.6 6.8-4.6 6.8-4.7 6.8-4.6 6.8-4.6 6.8-4.7 6.8-4.6 6.8-4.7 6.8-4.6 6.8-4.6 6.8-4.6 6.8-4.6 6.8-4.6 6.8-4.6 6.8-4.6 6.8-4.6 6.8-4.6 6.8-4.6 6.8-4.6 6.8-4.6 6.8-4.6 6.8-4.6 6.8-4.6 6.8-4.6 6.8-4.6 6.8-4.6 6.7-4.6 6.8-4.6" fill="none" stroke="#000" stroke-width="0.8" stroke-linejoin="round"/>
<path d="M606.1 1852.2L606.1 1941.2" stroke="#000" stroke-width="2.4" fill="none"/>
<path d="M973.2 1643.2L973.2 1660.8" stroke="#000" stroke-width="1.6" fill="none"/>
<polygon points="606.1,1895.2 694.5,1937.2 1061.6,1688.1 973.2,1652.2" fill="#000"/>
<path d="M694.5 1905.2l6.8-4.4 6.8-4.4 6.8-4.3 6.8-4.4 6.8-4.4 6.8-3.1 6.8-2.4 6.8-2.3 6.8-2.3 6.8-2.4 6.8-2.4 6.8-2.7 6.8-2.7 6.8-2.7 6.8-3.5 6.8-4.5 6.8-4.5 6.8-4.6 6.8-4.5 6.8-4.5 6.8-4.5 6.8-4.6 6.8-4.5 6.8-4.5 6.8-4.6 6.8-4.5 6.8-4.5 6.8-4.6 6.8-4.5 6.8-4.5 6.8-4.6 6.8-4.5 6.8-4.5 6.8-4.5 6.8-4.6 6.8-4.5 6.8-4.5 6.8-4.6 6.8-4.5 6.8-4.5 6.8-4.6 6.8-4.5 6.8-4.5 6.8-4.6 6.7-4.5 6.8-4.5 6.8-4.5 6.8-4.6 6.8-4.5 6.8-4.5 6.8-4.6 6.8-4.5 6.8-4.9 6.8-9.2 0 2 -6.8 7.2 -6.8 4.9 -6.8 4.5 -6.8 4.6 -6.8 4.5 -6.8 4.5 -6.8 4.6 -6.8 4.5 -6.8 4.5 -6.7 4.5 -6.8 4.6 -6.8 4.5 -6.8 4.5 -6.8 4.6 -6.8 4.5 -6.8 4.5 -6.8 4.6 -6.8 4.5 -6.8 4.5 -6.8 4.6 -6.8 4.5 -6.8 4.5 -6.8 4.5 -6.8 4.6 -6.8 4.5 -6.8 4.5 -6.8 4.6 -6.8 4.5 -6.8 4.5 -6.8 4.6 -6.8 4.5 -6.8 4.5 -6.8 4.6 -6.8 4.5 -6.8 4.5 -6.8 4.5 -6.8 4.6 -6.8 4.5 -6.8 4.5 -6.8 3.5 -6.8 2.7 -6.8 3.2 -6.8 4.5 -6.8 4.5 -6.8 4.5 -6.8 4.5 -6.8 4.5 -6.8 4.5 -6.8 4.5 -6.8 4.5 -6.8 4.5 -6.8 4.5 -6.8 4.5 -6.8 4.5z" fill="#0a7a72"/>
<path d="M694.5 1920.2l6.8-4.5 6.8-4.5 6.8-4.5 6.8-4.5 6.8-4.5 6.8-4.5 6.8-4.5 6.8-4.5 6.8-4.5 6.8-4.5 6.8-4.5 6.8-4.5 6.8-3.2 6.8-2.7 6.8-3.5 6.8-4.5 6.8-4.5 6.8-4.6 6.8-4.5 6.8-4.5 6.8-4.5 6.8-4.6 6.8-4.5 6.8-4.5 6.8-4.6 6.8-4.5 6.8-4.5 6.8-4.6 6.8-4.5 6.8-4.5 6.8-4.6 6.8-4.5 6.8-4.5 6.8-4.5 6.8-4.6 6.8-4.5 6.8-4.5 6.8-4.6 6.8-4.5 6.8-4.5 6.8-4.6 6.8-4.5 6.8-4.5 6.8-4.6 6.7-4.5 6.8-4.5 6.8-4.5 6.8-4.6 6.8-4.5 6.8-4.5 6.8-4.6 6.8-4.5 6.8-4.9 6.8-7.2 0 12.6 -6.8 4.6 -6.8 4.6 -6.8 4.6 -6.8 4.6 -6.8 4.6 -6.8 4.6 -6.8 4.6 -6.8 4.6 -6.8 4.6 -6.7 4.6 -6.8 4.6 -6.8 4.6 -6.8 4.6 -6.8 4.6 -6.8 4.6 -6.8 4.6 -6.8 4.6 -6.8 4.6 -6.8 4.6 -6.8 4.6 -6.8 4.6 -6.8 4.6 -6.8 4.6 -6.8 4.6 -6.8 4.6 -6.8 4.6 -6.8 4.6 -6.8 4.6 -6.8 4.6 -6.8 4.6 -6.8 4.7 -6.8 4.6 -6.8 4.6 -6.8 4.6 -6.8 4.6 -6.8 4.6 -6.8 4.6 -6.8 4.6 -6.8 4.6 -6.8 4.6 -6.8 4.6 -6.8 4.6 -6.8 4.6 -6.8 4.6 -6.8 4.6 -6.8 4.6 -6.8 4.6 -6.8 4.6 -6.8 4.6 -6.8 4.6 -6.8 4.6 -6.8 4.6 -6.8 4.6 -6.8 4.6z" fill="#000"/>
<path d="M694.5 1938.2l6.8-4.6 6.8-4.6 6.8-4.6 6.8-4.6 6.8-4.6 6.8-4.6 6.8-4.6 6.8-4.6 6.8-4.6 6.8-4.6 6.8-4.6 6.8-4.6 6.8-4.6 6.8-4.6 6.8-4.6 6.8-4.6 6.8-4.6 6.8-4.6 6.8-4.6 6.8-4.6 6.8-4.6 6.8-4.6 6.8-4.6 6.8-4.7 6.8-4.6 6.8-4.6 6.8-4.6 6.8-4.6 6.8-4.6 6.8-4.6 6.8-4.6 6.8-4.6 6.8-4.6 6.8-4.6 6.8-4.6 6.8-4.6 6.8-4.6 6.8-4.6 6.8-4.6 6.8-4.6 6.8-4.6 6.8-4.6 6.8-4.6 6.8-4.6 6.7-4.6 6.8-4.6 6.8-4.6 6.8-4.6 6.8-4.6 6.8-4.6 6.8-4.6 6.8-4.6 6.8-4.6 6.8-4.6 0 0 -6.8 4.6 -6.8 4.6 -6.8 4.6 -6.8 4.6 -6.8 4.6 -6.8 4.6 -6.8 4.6 -6.8 4.6 -6.8 4.6 -6.7 4.6 -6.8 4.6 -6.8 4.6 -6.8 4.6 -6.8 4.6 -6.8 4.6 -6.8 4.6 -6.8 4.6 -6.8 4.6 -6.8 4.6 -6.8 4.6 -6.8 4.6 -6.8 4.6 -6.8 4.6 -6.8 4.6 -6.8 4.6 -6.8 4.6 -6.8 4.6 -6.8 4.6 -6.8 4.6 -6.8 4.6 -6.8 4.7 -6.8 4.6 -6.8 4.6 -6.8 4.6 -6.8 4.6 -6.8 4.6 -6.8 4.6 -6.8 4.6 -6.8 5.2 -6.8 6.3 -6.8 6.2 -6.8 6.2 -6.8 6.2 -6.8 6 -6.8 5.8 -6.8 5.9 -6.8 5.8 -6.8 5.9 -6.8 5.8 -6.8 5.9 -6.8 5.8 -6.8 5.9 -6.8 5.8 -6.8 5.9z" fill="#0a5a6a"/>
<path d="M694.5 1920.5 776.1 1865.8M694.5 1916.7 762.5 1871.1M694.5 1912.9 748.9 1876.4M694.5 1909.1 735.3 1881.7M694.5 1905.3 714.9 1891.6" fill="none" stroke="#000" stroke-width="1.5" stroke-opacity="0.85"/>
<path d="M694.5 1905.2V1959.2M701.3 1900.8V1953.3M708.1 1896.4V1947.5M714.9 1892.1V1941.6M721.7 1887.7V1935.8M728.5 1883.3V1929.9M735.3 1880.2V1924.1M742.1 1877.8V1918.2M748.9 1875.5V1912.4M755.7 1873.2V1906.5M762.5 1870.8V1900.7M769.3 1868.4V1894.7M776.1 1865.7V1888.5M782.9 1863V1882.3M789.7 1860.3V1876.1M796.5 1856.8V1869.8M803.3 1852.3V1864.6M810.1 1847.8V1860M816.9 1843.2V1855.4M823.7 1838.7V1850.8M830.5 1834.2V1846.2M837.3 1829.7V1841.6M844.1 1825.1V1837M850.9 1820.6V1832.4M857.7 1816.1V1827.7M864.5 1811.5V1823.1M871.3 1807V1818.5M878.1 1802.5V1813.9M884.9 1797.9V1809.3M891.7 1793.4V1804.7M898.5 1788.9V1800.1M905.3 1784.3V1795.5M912.1 1779.8V1790.9M918.9 1775.3V1786.3M925.7 1770.8V1781.7M932.5 1766.2V1777.1M939.3 1761.7V1772.5M946.1 1757.2V1767.9M952.9 1752.6V1763.3M959.7 1748.1V1758.7M966.5 1743.6V1754.1M973.3 1739V1749.5M980.1 1734.5V1744.9M986.9 1730V1740.3M993.7 1725.4V1735.7M1000.4 1720.9V1731.1M1007.2 1716.4V1726.5M1014 1711.9V1721.9M1020.8 1707.3V1717.3M1027.6 1702.8V1712.7M1034.4 1698.3V1708.1M1041.2 1693.7V1703.5M1048 1689.2V1698.9M1054.8 1684.3V1694.3M1061.6 1675.1V1689.7" fill="none" stroke="#000" stroke-width="1.3" stroke-opacity="0.8"/>
<path d="M694.5 1905.2l6.8-4.4 6.8-4.4 6.8-4.3 6.8-4.4 6.8-4.4 6.8-3.1 6.8-2.4 6.8-2.3 6.8-2.3 6.8-2.4 6.8-2.4 6.8-2.7 6.8-2.7 6.8-2.7 6.8-3.5 6.8-4.5 6.8-4.5 6.8-4.6 6.8-4.5 6.8-4.5 6.8-4.5 6.8-4.6 6.8-4.5 6.8-4.5 6.8-4.6 6.8-4.5 6.8-4.5 6.8-4.6 6.8-4.5 6.8-4.5 6.8-4.6 6.8-4.5 6.8-4.5 6.8-4.5 6.8-4.6 6.8-4.5 6.8-4.5 6.8-4.6 6.8-4.5 6.8-4.5 6.8-4.6 6.8-4.5 6.8-4.5 6.8-4.6 6.7-4.5 6.8-4.5 6.8-4.5 6.8-4.6 6.8-4.5 6.8-4.5 6.8-4.6 6.8-4.5 6.8-4.9 6.8-9.2M694.5 1920.2l6.8-4.5 6.8-4.5 6.8-4.5 6.8-4.5 6.8-4.5 6.8-4.5 6.8-4.5 6.8-4.5 6.8-4.5 6.8-4.5 6.8-4.5 6.8-4.5 6.8-3.2 6.8-2.7 6.8-3.5 6.8-4.5 6.8-4.5 6.8-4.6 6.8-4.5 6.8-4.5 6.8-4.5 6.8-4.6 6.8-4.5 6.8-4.5 6.8-4.6 6.8-4.5 6.8-4.5 6.8-4.6 6.8-4.5 6.8-4.5 6.8-4.6 6.8-4.5 6.8-4.5 6.8-4.5 6.8-4.6 6.8-4.5 6.8-4.5 6.8-4.6 6.8-4.5 6.8-4.5 6.8-4.6 6.8-4.5 6.8-4.5 6.8-4.6 6.7-4.5 6.8-4.5 6.8-4.5 6.8-4.6 6.8-4.5 6.8-4.5 6.8-4.6 6.8-4.5 6.8-4.9 6.8-7.2M694.5 1938.2l6.8-4.6 6.8-4.6 6.8-4.6 6.8-4.6 6.8-4.6 6.8-4.6 6.8-4.6 6.8-4.6 6.8-4.6 6.8-4.6 6.8-4.6 6.8-4.6 6.8-4.6 6.8-4.6 6.8-4.6 6.8-4.6 6.8-4.6 6.8-4.6 6.8-4.6 6.8-4.6 6.8-4.6 6.8-4.6 6.8-4.6 6.8-4.7 6.8-4.6 6.8-4.6 6.8-4.6 6.8-4.6 6.8-4.6 6.8-4.6 6.8-4.6 6.8-4.6 6.8-4.6 6.8-4.6 6.8-4.6 6.8-4.6 6.8-4.6 6.8-4.6 6.8-4.6 6.8-4.6 6.8-4.6 6.8-4.6 6.8-4.6 6.8-4.6 6.7-4.6 6.8-4.6 6.8-4.6 6.8-4.6 6.8-4.6 6.8-4.6 6.8-4.6 6.8-4.6 6.8-4.6 6.8-4.6M694.5 1959.2l6.8-5.9 6.8-5.8 6.8-5.9 6.8-5.8 6.8-5.9 6.8-5.8 6.8-5.9 6.8-5.8 6.8-5.9 6.8-5.8 6.8-6 6.8-6.2 6.8-6.2 6.8-6.2 6.8-6.3 6.8-5.2 6.8-4.6 6.8-4.6 6.8-4.6 6.8-4.6 6.8-4.6 6.8-4.6 6.8-4.6 6.8-4.7 6.8-4.6 6.8-4.6 6.8-4.6 6.8-4.6 6.8-4.6 6.8-4.6 6.8-4.6 6.8-4.6 6.8-4.6 6.8-4.6 6.8-4.6 6.8-4.6 6.8-4.6 6.8-4.6 6.8-4.6 6.8-4.6 6.8-4.6 6.8-4.6 6.8-4.6 6.8-4.6 6.7-4.6 6.8-4.6 6.8-4.6 6.8-4.6 6.8-4.6 6.8-4.6 6.8-4.6 6.8-4.6 6.8-4.6 6.8-4.6" fill="none" stroke="#000" stroke-width="0.8" stroke-linejoin="round"/>
<path d="M694.5 1905.2L694.5 1959.2" stroke="#000" stroke-width="2.4" fill="none"/>
<path d="M1061.6 1675.1L1061.6 1689.7" stroke="#000" stroke-width="1.6" fill="none"/>
<polygon points="694.5,1924.2 782.9,1966.1 1150,1717 1061.6,1681.1" fill="#000"/>
<path d="M782.9 1949.1l6.8-4.1 6.8-4.1 6.8-4.1 6.8-4 6.8-4.1 6.8-4.1 6.8-4.1 6.8-4.1 6.8-4.1 6.8-4.1 6.8-4.2 6.8-4.5 6.8-4.6 6.8-4.5 6.8-4.5 6.8-4.6 6.8-4.5 6.8-4.5 6.8-4.6 6.8-4.5 6.8-4.5 6.8-4.6 6.8-4.5 6.8-4.5 6.8-4.6 6.8-4.5 6.8-4.5 6.8-4.6 6.8-4.5 6.8-4.5 6.8-4.6 6.8-4.5 6.8-4.5 6.8-4.6 6.8-4.5 6.7-4.5 6.8-4.6 6.8-4.5 6.8-4.5 6.8-4.6 6.8-4.5 6.8-4.5 6.8-4.6 6.8-4.5 6.8-4.5 6.8-4.6 6.8-4.5 6.8-4.5 6.8-4.6 6.8-4.5 6.8-4.5 6.8-4.6 6.8-4.8 6.8-8.3 0 1 -6.8 7.3 -6.8 4.8 -6.8 4.6 -6.8 4.5 -6.8 4.5 -6.8 4.6 -6.8 4.5 -6.8 4.5 -6.8 4.6 -6.8 4.5 -6.8 4.5 -6.8 4.6 -6.8 4.5 -6.8 4.5 -6.8 4.6 -6.8 4.5 -6.8 4.5 -6.8 4.6 -6.7 4.5 -6.8 4.5 -6.8 4.6 -6.8 4.5 -6.8 4.5 -6.8 4.6 -6.8 4.5 -6.8 4.5 -6.8 4.6 -6.8 4.5 -6.8 4.5 -6.8 4.6 -6.8 4.5 -6.8 4.5 -6.8 4.6 -6.8 4.5 -6.8 4.5 -6.8 4.6 -6.8 4.5 -6.8 4.5 -6.8 4.6 -6.8 4.5 -6.8 4.5 -6.8 4.6 -6.8 4.5 -6.8 4.2 -6.8 4.1 -6.8 4.1 -6.8 4.1 -6.8 4.1 -6.8 4.1 -6.8 4.1 -6.8 4 -6.8 4.1 -6.8 4.1 -6.8 4.1z" fill="#000"/>
<path d="M782.9 1949.1l6.8-4.1 6.8-4.1 6.8-4.1 6.8-4 6.8-4.1 6.8-4.1 6.8-4.1 6.8-4.1 6.8-4.1 6.8-4.1 6.8-4.2 6.8-4.5 6.8-4.6 6.8-4.5 6.8-4.5 6.8-4.6 6.8-4.5 6.8-4.5 6.8-4.6 6.8-4.5 6.8-4.5 6.8-4.6 6.8-4.5 6.8-4.5 6.8-4.6 6.8-4.5 6.8-4.5 6.8-4.6 6.8-4.5 6.8-4.5 6.8-4.6 6.8-4.5 6.8-4.5 6.8-4.6 6.8-4.5 6.7-4.5 6.8-4.6 6.8-4.5 6.8-4.5 6.8-4.6 6.8-4.5 6.8-4.5 6.8-4.6 6.8-4.5 6.8-4.5 6.8-4.6 6.8-4.5 6.8-4.5 6.8-4.6 6.8-4.5 6.8-4.5 6.8-4.6 6.8-4.8 6.8-7.3 0 12.6 -6.8 4.6 -6.8 4.7 -6.8 4.6 -6.8 4.6 -6.8 4.6 -6.8 4.6 -6.8 4.6 -6.8 4.6 -6.8 4.6 -6.8 4.6 -6.8 4.6 -6.8 4.6 -6.8 4.6 -6.8 4.6 -6.8 4.6 -6.8 4.6 -6.8 4.6 -6.8 4.6 -6.7 4.6 -6.8 4.6 -6.8 4.6 -6.8 4.6 -6.8 4.6 -6.8 4.6 -6.8 4.6 -6.8 4.6 -6.8 4.6 -6.8 4.6 -6.8 4.6 -6.8 4.6 -6.8 4.6 -6.8 4.6 -6.8 4.6 -6.8 4.6 -6.8 4.6 -6.8 4.6 -6.8 4.6 -6.8 4.6 -6.8 4.6 -6.8 4.6 -6.8 4.6 -6.8 4.6 -6.8 4.6 -6.8 4.6 -6.8 4.6 -6.8 4.6 -6.8 4.6 -6.8 4.6 -6.8 4.6 -6.8 4.6 -6.8 4.6 -6.8 4.6 -6.8 4.6 -6.8 4.6z" fill="#000"/>
<path d="M782.9 1967.1l6.8-4.6 6.8-4.6 6.8-4.6 6.8-4.6 6.8-4.6 6.8-4.6 6.8-4.6 6.8-4.6 6.8-4.6 6.8-4.6 6.8-4.6 6.8-4.6 6.8-4.6 6.8-4.6 6.8-4.6 6.8-4.6 6.8-4.6 6.8-4.6 6.8-4.6 6.8-4.6 6.8-4.6 6.8-4.6 6.8-4.6 6.8-4.6 6.8-4.6 6.8-4.6 6.8-4.6 6.8-4.6 6.8-4.6 6.8-4.6 6.8-4.6 6.8-4.6 6.8-4.6 6.8-4.6 6.8-4.6 6.7-4.6 6.8-4.6 6.8-4.6 6.8-4.6 6.8-4.6 6.8-4.6 6.8-4.6 6.8-4.6 6.8-4.6 6.8-4.6 6.8-4.6 6.8-4.6 6.8-4.6 6.8-4.6 6.8-4.6 6.8-4.6 6.8-4.6 6.8-4.7 6.8-4.6 0 0 -6.8 4.6 -6.8 4.7 -6.8 4.6 -6.8 4.6 -6.8 4.6 -6.8 4.6 -6.8 4.6 -6.8 4.6 -6.8 4.6 -6.8 4.6 -6.8 4.6 -6.8 4.6 -6.8 4.6 -6.8 4.6 -6.8 4.6 -6.8 4.6 -6.8 4.6 -6.8 4.6 -6.7 4.6 -6.8 4.6 -6.8 4.6 -6.8 4.6 -6.8 4.6 -6.8 4.6 -6.8 4.6 -6.8 4.6 -6.8 4.6 -6.8 4.6 -6.8 4.6 -6.8 4.6 -6.8 4.6 -6.8 4.6 -6.8 4.6 -6.8 4.6 -6.8 4.6 -6.8 4.6 -6.8 4.6 -6.8 4.6 -6.8 4.6 -6.8 4.6 -6.8 4.6 -6.8 4.6 -6.8 4.6 -6.8 4.7 -6.8 5 -6.8 5 -6.8 5 -6.8 5 -6.8 5 -6.8 5 -6.8 5 -6.8 4.9 -6.8 5 -6.8 5z" fill="#06303a"/>
<path d="M782.9 1949.1V1971.1M789.7 1945V1966.1M796.5 1940.9V1961.1M803.3 1936.8V1956.2M810.1 1932.8V1951.2M816.9 1928.7V1946.2M823.7 1924.6V1941.2M830.5 1920.5V1936.2M837.3 1916.4V1931.2M844.1 1912.3V1926.2M850.9 1908.2V1921.2M857.7 1904V1916.5M864.5 1899.5V1911.9M871.3 1894.9V1907.3M878.1 1890.4V1902.7M884.9 1885.9V1898.1M891.7 1881.3V1893.5M898.5 1876.8V1888.9M905.3 1872.3V1884.3M912.1 1867.7V1879.7M918.9 1863.2V1875.1M925.7 1858.7V1870.5M932.5 1854.1V1865.9M939.3 1849.6V1861.3M946.1 1845.1V1856.7M952.9 1840.5V1852.1M959.7 1836V1847.5M966.5 1831.5V1842.9M973.3 1826.9V1838.3M980.1 1822.4V1833.7M986.9 1817.9V1829.1M993.7 1813.3V1824.5M1000.5 1808.8V1819.9M1007.3 1804.3V1815.3M1014.1 1799.7V1810.7M1020.9 1795.2V1806.1M1027.6 1790.7V1801.5M1034.4 1786.1V1796.9M1041.2 1781.6V1792.3M1048 1777.1V1787.7M1054.8 1772.5V1783.1M1061.6 1768V1778.5M1068.4 1763.5V1773.9M1075.2 1758.9V1769.3M1082 1754.4V1764.7M1088.8 1749.9V1760.1M1095.6 1745.3V1755.5M1102.4 1740.8V1750.9M1109.2 1736.3V1746.3M1116 1731.7V1741.7M1122.8 1727.2V1737.1M1129.6 1722.7V1732.5M1136.4 1718.1V1727.9M1143.2 1713.3V1723.2M1150 1705V1718.6" fill="none" stroke="#000" stroke-width="1.3" stroke-opacity="0.8"/>
<path d="M782.9 1949.1l6.8-4.1 6.8-4.1 6.8-4.1 6.8-4 6.8-4.1 6.8-4.1 6.8-4.1 6.8-4.1 6.8-4.1 6.8-4.1 6.8-4.2 6.8-4.5 6.8-4.6 6.8-4.5 6.8-4.5 6.8-4.6 6.8-4.5 6.8-4.5 6.8-4.6 6.8-4.5 6.8-4.5 6.8-4.6 6.8-4.5 6.8-4.5 6.8-4.6 6.8-4.5 6.8-4.5 6.8-4.6 6.8-4.5 6.8-4.5 6.8-4.6 6.8-4.5 6.8-4.5 6.8-4.6 6.8-4.5 6.7-4.5 6.8-4.6 6.8-4.5 6.8-4.5 6.8-4.6 6.8-4.5 6.8-4.5 6.8-4.6 6.8-4.5 6.8-4.5 6.8-4.6 6.8-4.5 6.8-4.5 6.8-4.6 6.8-4.5 6.8-4.5 6.8-4.6 6.8-4.8 6.8-8.3M782.9 1949.1l6.8-4.1 6.8-4.1 6.8-4.1 6.8-4 6.8-4.1 6.8-4.1 6.8-4.1 6.8-4.1 6.8-4.1 6.8-4.1 6.8-4.2 6.8-4.5 6.8-4.6 6.8-4.5 6.8-4.5 6.8-4.6 6.8-4.5 6.8-4.5 6.8-4.6 6.8-4.5 6.8-4.5 6.8-4.6 6.8-4.5 6.8-4.5 6.8-4.6 6.8-4.5 6.8-4.5 6.8-4.6 6.8-4.5 6.8-4.5 6.8-4.6 6.8-4.5 6.8-4.5 6.8-4.6 6.8-4.5 6.7-4.5 6.8-4.6 6.8-4.5 6.8-4.5 6.8-4.6 6.8-4.5 6.8-4.5 6.8-4.6 6.8-4.5 6.8-4.5 6.8-4.6 6.8-4.5 6.8-4.5 6.8-4.6 6.8-4.5 6.8-4.5 6.8-4.6 6.8-4.8 6.8-7.3M782.9 1967.1l6.8-4.6 6.8-4.6 6.8-4.6 6.8-4.6 6.8-4.6 6.8-4.6 6.8-4.6 6.8-4.6 6.8-4.6 6.8-4.6 6.8-4.6 6.8-4.6 6.8-4.6 6.8-4.6 6.8-4.6 6.8-4.6 6.8-4.6 6.8-4.6 6.8-4.6 6.8-4.6 6.8-4.6 6.8-4.6 6.8-4.6 6.8-4.6 6.8-4.6 6.8-4.6 6.8-4.6 6.8-4.6 6.8-4.6 6.8-4.6 6.8-4.6 6.8-4.6 6.8-4.6 6.8-4.6 6.8-4.6 6.7-4.6 6.8-4.6 6.8-4.6 6.8-4.6 6.8-4.6 6.8-4.6 6.8-4.6 6.8-4.6 6.8-4.6 6.8-4.6 6.8-4.6 6.8-4.6 6.8-4.6 6.8-4.6 6.8-4.6 6.8-4.6 6.8-4.6 6.8-4.7 6.8-4.6M782.9 1971.1l6.8-5 6.8-5 6.8-4.9 6.8-5 6.8-5 6.8-5 6.8-5 6.8-5 6.8-5 6.8-5 6.8-4.7 6.8-4.6 6.8-4.6 6.8-4.6 6.8-4.6 6.8-4.6 6.8-4.6 6.8-4.6 6.8-4.6 6.8-4.6 6.8-4.6 6.8-4.6 6.8-4.6 6.8-4.6 6.8-4.6 6.8-4.6 6.8-4.6 6.8-4.6 6.8-4.6 6.8-4.6 6.8-4.6 6.8-4.6 6.8-4.6 6.8-4.6 6.8-4.6 6.7-4.6 6.8-4.6 6.8-4.6 6.8-4.6 6.8-4.6 6.8-4.6 6.8-4.6 6.8-4.6 6.8-4.6 6.8-4.6 6.8-4.6 6.8-4.6 6.8-4.6 6.8-4.6 6.8-4.6 6.8-4.6 6.8-4.6 6.8-4.7 6.8-4.6" fill="none" stroke="#000" stroke-width="0.8" stroke-linejoin="round"/>
<path d="M782.9 1949.1L782.9 1971.1" stroke="#000" stroke-width="2.4" fill="none"/>
<path d="M1150 1705L1150 1718.6" stroke="#000" stroke-width="1.6" fill="none"/>
<polygon points="782.9,1953.1 819.1,1978 1186.2,1728.9 1150,1710" fill="#000"/>
<polygon points="819.1,1965 1186.2,1721.9 1186.2,1729.9 819.1,1983" fill="#000"/>
<line x1="179.3" y1="2056.2" x2="179.3" y2="1539.2" stroke="#4a4a4a" stroke-width="1.6"/>
<line x1="179.3" y1="2056.2" x2="806.9" y2="2261.7" stroke="#4a4a4a" stroke-width="1.6"/>
<line x1="806.9" y1="2261.7" x2="1247.3" y2="1966.5" stroke="#4a4a4a" stroke-width="1.6"/>
<line x1="179.3" y1="1539.2" x2="161.5" y2="1533.4" stroke="#4a4a4a" stroke-width="1.6"/>
<text x="149.6" y="1543.8" font-size="29.5" text-anchor="end" font-family='"Liberation Sans", sans-serif' fill="#262626">0.04</text>
<line x1="179.3" y1="1613.1" x2="161.5" y2="1607.3" stroke="#4a4a4a" stroke-width="1.6"/>
<text x="149.6" y="1617.7" font-size="29.5" text-anchor="end" font-family='"Liberation Sans", sans-serif' fill="#262626">0.03</text>
<line x1="179.3" y1="1686.9" x2="161.5" y2="1681.1" stroke="#4a4a4a" stroke-width="1.6"/>
<text x="149.6" y="1691.5" font-size="29.5" text-anchor="end" font-family='"Liberation Sans", sans-serif' fill="#262626">0.02</text>
<line x1="179.3" y1="1760.8" x2="161.5" y2="1755" stroke="#4a4a4a" stroke-width="1.6"/>
<text x="149.6" y="1765.4" font-size="29.5" text-anchor="end" font-family='"Liberation Sans", sans-serif' fill="#262626">0.01</text>
<line x1="179.3" y1="1834.6" x2="161.5" y2="1828.8" stroke="#4a4a4a" stroke-width="1.6"/>
<text x="149.6" y="1839.2" font-size="29.5" text-anchor="end" font-family='"Liberation Sans", sans-serif' fill="#262626">0</text>
<line x1="179.3" y1="1908.5" x2="161.5" y2="1902.7" stroke="#4a4a4a" stroke-width="1.6"/>
<text x="149.6" y="1913.1" font-size="29.5" text-anchor="end" font-family='"Liberation Sans", sans-serif' fill="#262626">-0.01</text>
<line x1="179.3" y1="1982.3" x2="161.5" y2="1976.5" stroke="#4a4a4a" stroke-width="1.6"/>
<text x="149.6" y="1986.9" font-size="29.5" text-anchor="end" font-family='"Liberation Sans", sans-serif' fill="#262626">-0.02</text>
<line x1="179.3" y1="2056.2" x2="161.5" y2="2050.4" stroke="#4a4a4a" stroke-width="1.6"/>
<text x="149.6" y="2060.8" font-size="29.5" text-anchor="end" font-family='"Liberation Sans", sans-serif' fill="#262626">-0.03</text>
<line x1="179.3" y1="2056.2" x2="164.8" y2="2065.9" stroke="#4a4a4a" stroke-width="1.6"/>
<text x="153.8" y="2103.6" font-size="29.5" text-anchor="end" font-family='"Liberation Sans", sans-serif' fill="#262626">0</text>
<line x1="283.9" y1="2090.4" x2="269.4" y2="2100.2" stroke="#4a4a4a" stroke-width="1.6"/>
<text x="258.4" y="2137.8" font-size="29.5" text-anchor="end" font-family='"Liberation Sans", sans-serif' fill="#262626">0.02</text>
<line x1="388.5" y1="2124.7" x2="374" y2="2134.4" stroke="#4a4a4a" stroke-width="1.6"/>
<text x="363" y="2172.1" font-size="29.5" text-anchor="end" font-family='"Liberation Sans", sans-serif' fill="#262626">0.04</text>
<line x1="493.1" y1="2158.9" x2="478.6" y2="2168.7" stroke="#4a4a4a" stroke-width="1.6"/>
<text x="467.6" y="2206.3" font-size="29.5" text-anchor="end" font-family='"Liberation Sans", sans-serif' fill="#262626">0.06</text>
<line x1="597.7" y1="2193.2" x2="583.2" y2="2202.9" stroke="#4a4a4a" stroke-width="1.6"/>
<text x="572.2" y="2240.6" font-size="29.5" text-anchor="end" font-family='"Liberation Sans", sans-serif' fill="#262626">0.08</text>
<line x1="702.3" y1="2227.4" x2="687.8" y2="2237.2" stroke="#4a4a4a" stroke-width="1.6"/>
<text x="676.8" y="2274.8" font-size="29.5" text-anchor="end" font-family='"Liberation Sans", sans-serif' fill="#262626">0.1</text>
<line x1="806.9" y1="2261.7" x2="792.4" y2="2271.4" stroke="#4a4a4a" stroke-width="1.6"/>
<text x="781.4" y="2309.1" font-size="29.5" text-anchor="end" font-family='"Liberation Sans", sans-serif' fill="#262626">0.12</text>
<line x1="1247.3" y1="1966.5" x2="1265.1" y2="1972.3" stroke="#4a4a4a" stroke-width="1.6"/>
<text x="1273.3" y="2006.9" font-size="29.5" text-anchor="start" font-family='"Liberation Sans", sans-serif' fill="#262626">0</text>
<line x1="1100.5" y1="2064.9" x2="1118.3" y2="2070.7" stroke="#4a4a4a" stroke-width="1.6"/>
<text x="1126.5" y="2105.3" font-size="29.5" text-anchor="start" font-family='"Liberation Sans", sans-serif' fill="#262626">500</text>
<line x1="953.7" y1="2163.3" x2="971.5" y2="2169.1" stroke="#4a4a4a" stroke-width="1.6"/>
<text x="979.7" y="2203.7" font-size="29.5" text-anchor="start" font-family='"Liberation Sans", sans-serif' fill="#262626">1000</text>
<line x1="806.9" y1="2261.7" x2="824.7" y2="2267.5" stroke="#4a4a4a" stroke-width="1.6"/>
<text x="832.9" y="2302.1" font-size="29.5" text-anchor="start" font-family='"Liberation Sans", sans-serif' fill="#262626">1500</text>
<text x="464" y="2299.3" font-size="33.4" text-anchor="middle" font-family='"Liberation Sans", sans-serif' fill="#262626">Time (ms)</text>
<text x="1163" y="2277.8" font-size="33.4" text-anchor="middle" font-family='"Liberation Sans", sans-serif' fill="#262626">Rec.moments (s)</text>
<text x="64.3" y="1798" font-size="33.4" text-anchor="middle" font-family='"Liberation Sans", sans-serif' fill="#262626" transform="rotate(-90 64.3 1798)">Signal amplitude (A.U.)</text>
<text x="15.5" y="1366" font-size="96" text-anchor="start" font-family='"Liberation Serif", serif' fill="#111">b)</text>
</g>
<g id="plot-c">
<g><line x1="179.3" y1="3310.6" x2="619.7" y2="3015.4" stroke="#e3e3e3" stroke-width="1.6"/><line x1="283.9" y1="3344.8" x2="724.3" y2="3049.7" stroke="#e3e3e3" stroke-width="1.6"/><line x1="388.5" y1="3379.1" x2="828.9" y2="3083.9" stroke="#e3e3e3" stroke-width="1.6"/><line x1="493.1" y1="3413.3" x2="933.5" y2="3118.2" stroke="#e3e3e3" stroke-width="1.6"/><line x1="597.7" y1="3447.6" x2="1038.1" y2="3152.4" stroke="#e3e3e3" stroke-width="1.6"/><line x1="702.3" y1="3481.8" x2="1142.7" y2="3186.7" stroke="#e3e3e3" stroke-width="1.6"/><line x1="806.9" y1="3516.1" x2="1247.3" y2="3220.9" stroke="#e3e3e3" stroke-width="1.6"/><line x1="179.3" y1="3310.6" x2="806.9" y2="3516.1" stroke="#e3e3e3" stroke-width="1.6"/><line x1="179.3" y1="3310.6" x2="179.3" y2="2792.7" stroke="#e3e3e3" stroke-width="1.6"/><line x1="252.7" y1="3261.4" x2="880.3" y2="3466.9" stroke="#e3e3e3" stroke-width="1.6"/><line x1="252.7" y1="3261.4" x2="252.7" y2="2743.5" stroke="#e3e3e3" stroke-width="1.6"/><line x1="326.1" y1="3212.2" x2="953.7" y2="3417.7" stroke="#e3e3e3" stroke-width="1.6"/><line x1="326.1" y1="3212.2" x2="326.1" y2="2694.3" stroke="#e3e3e3" stroke-width="1.6"/><line x1="399.5" y1="3163" x2="1027.1" y2="3368.5" stroke="#e3e3e3" stroke-width="1.6"/><line x1="399.5" y1="3163" x2="399.5" y2="2645.1" stroke="#e3e3e3" stroke-width="1.6"/><line x1="472.9" y1="3113.8" x2="1100.5" y2="3319.3" stroke="#e3e3e3" stroke-width="1.6"/><line x1="472.9" y1="3113.8" x2="472.9" y2="2595.9" stroke="#e3e3e3" stroke-width="1.6"/><line x1="546.3" y1="3064.6" x2="1173.9" y2="3270.1" stroke="#e3e3e3" stroke-width="1.6"/><line x1="546.3" y1="3064.6" x2="546.3" y2="2546.7" stroke="#e3e3e3" stroke-width="1.6"/><line x1="619.7" y1="3015.4" x2="1247.3" y2="3220.9" stroke="#e3e3e3" stroke-width="1.6"/><line x1="619.7" y1="3015.4" x2="619.7" y2="2497.5" stroke="#e3e3e3" stroke-width="1.6"/><line x1="619.7" y1="3015.4" x2="619.7" y2="2497.5" stroke="#e3e3e3" stroke-width="1.6"/><line x1="724.3" y1="3049.7" x2="724.3" y2="2531.8" stroke="#e3e3e3" stroke-width="1.6"/><line x1="828.9" y1="3083.9" x2="828.9" y2="2566" stroke="#e3e3e3" stroke-width="1.6"/><line x1="933.5" y1="3118.2" x2="933.5" y2="2600.2" stroke="#e3e3e3" stroke-width="1.6"/><line x1="1038.1" y1="3152.4" x2="1038.1" y2="2634.5" stroke="#e3e3e3" stroke-width="1.6"/><line x1="1142.7" y1="3186.7" x2="1142.7" y2="2668.8" stroke="#e3e3e3" stroke-width="1.6"/><line x1="1247.3" y1="3220.9" x2="1247.3" y2="2703" stroke="#e3e3e3" stroke-width="1.6"/><line x1="179.3" y1="2792.7" x2="619.7" y2="2497.5" stroke="#e3e3e3" stroke-width="1.6"/><line x1="619.7" y1="2497.5" x2="1247.3" y2="2703" stroke="#e3e3e3" stroke-width="1.6"/><line x1="179.3" y1="2866.7" x2="619.7" y2="2571.5" stroke="#e3e3e3" stroke-width="1.6"/><line x1="619.7" y1="2571.5" x2="1247.3" y2="2777" stroke="#e3e3e3" stroke-width="1.6"/><line x1="179.3" y1="2940.7" x2="619.7" y2="2645.5" stroke="#e3e3e3" stroke-width="1.6"/><line x1="619.7" y1="2645.5" x2="1247.3" y2="2851" stroke="#e3e3e3" stroke-width="1.6"/><line x1="179.3" y1="3014.7" x2="619.7" y2="2719.5" stroke="#e3e3e3" stroke-width="1.6"/><line x1="619.7" y1="2719.5" x2="1247.3" y2="2925" stroke="#e3e3e3" stroke-width="1.6"/><line x1="179.3" y1="3088.7" x2="619.7" y2="2793.5" stroke="#e3e3e3" stroke-width="1.6"/><line x1="619.7" y1="2793.5" x2="1247.3" y2="2999" stroke="#e3e3e3" stroke-width="1.6"/><line x1="179.3" y1="3162.7" x2="619.7" y2="2867.5" stroke="#e3e3e3" stroke-width="1.6"/><line x1="619.7" y1="2867.5" x2="1247.3" y2="3073" stroke="#e3e3e3" stroke-width="1.6"/><line x1="179.3" y1="3236.6" x2="619.7" y2="2941.4" stroke="#e3e3e3" stroke-width="1.6"/><line x1="619.7" y1="2941.4" x2="1247.3" y2="3146.9" stroke="#e3e3e3" stroke-width="1.6"/><line x1="179.3" y1="3310.6" x2="619.7" y2="3015.4" stroke="#e3e3e3" stroke-width="1.6"/><line x1="619.7" y1="3015.4" x2="1247.3" y2="3220.9" stroke="#e3e3e3" stroke-width="1.6"/></g>
<polygon points="265.4,3065.1 311.7,3032 316,3032 316,3092" fill="#000"/>
<defs><linearGradient id="g15" gradientUnits="userSpaceOnUse" x1="311.7" y1="0" x2="708.1" y2="0"><stop offset="0.000" stop-color="#14c284"/><stop offset="0.300" stop-color="#14c284"/><stop offset="0.420" stop-color="#44c576"/><stop offset="1.000" stop-color="#28c47d"/></linearGradient><linearGradient id="g16" gradientUnits="userSpaceOnUse" x1="311.7" y1="0" x2="708.1" y2="0"><stop offset="0.000" stop-color="#02be97"/><stop offset="0.400" stop-color="#07b8ae"/><stop offset="1.000" stop-color="#0eb1c2"/></linearGradient></defs>
<path d="M311.7 2821.1l6.9-4.4 6.8-4.4 6.8-4.4 6.9-4.4 6.8-4.4 6.8-4.4 6.9-4 6.8-4.1 6.8-4 6.9-4.1 6.8-4.1 6.8-3.9 6.9-3.9 6.8-3.8 6.8 16.1 6.9 34.1 6.8 39.2 6.8 8.9 6.9-37.7 6.8-33.3 6.8-27.7 6.9-23.6 6.8-16.1 6.8-4.9 6.9-4.9 6.8-4.9 6.8-4.9 6.9-4.9 6.8-4.9 6.8-4.7 6.9-4.7 6.8-4.7 6.8-4.7 6.9-4.6 6.8-4.7 6.8-4.7 6.9-4.7 6.8-4.7 6.8-4.7 6.9-4.6 6.8-4.7 6.8-4.7 6.9-4.7 6.8-4.7 6.8-4.7 6.9-4.6 6.8-4.7 6.8-4.7 6.9-4.7 6.8-4.7 6.9-4.7 6.8-4.7 6.8-4.6 6.9-4.7 6.8-4.7 6.8-4.7 6.9-4.7 6.8-4.7 0 4 -6.8 4.7 -6.9 4.7 -6.8 4.7 -6.8 4.7 -6.9 4.7 -6.8 4.6 -6.8 4.7 -6.9 4.7 -6.8 4.7 -6.9 4.7 -6.8 4.7 -6.8 4.7 -6.9 4.6 -6.8 4.7 -6.8 4.7 -6.9 4.7 -6.8 4.7 -6.8 4.7 -6.9 4.6 -6.8 4.7 -6.8 4.7 -6.9 4.7 -6.8 4.7 -6.8 4.7 -6.9 4.6 -6.8 4.7 -6.8 4.7 -6.9 4.7 -6.8 4.7 -6.8 4.9 -6.9 4.9 -6.8 4.9 -6.8 4.9 -6.9 4.9 -6.8 4.9 -6.8 16.1 -6.9 23.6 -6.8 27.7 -6.8 33.3 -6.9 37.7 -6.8-8.9 -6.8-39.2 -6.9-34.1 -6.8-16.1 -6.8 3.8 -6.9 3.9 -6.8 3.9 -6.8 4.1 -6.9 4.1 -6.8 4 -6.8 4.1 -6.9 4 -6.8 4.4 -6.8 4.4 -6.9 4.4 -6.8 4.4 -6.8 4.4 -6.9 4.4z" fill="#a3a600"/>
<path d="M311.7 2825.1l6.9-4.4 6.8-4.4 6.8-4.4 6.9-4.4 6.8-4.4 6.8-4.4 6.9-4 6.8-4.1 6.8-4 6.9-4.1 6.8-4.1 6.8-3.9 6.9-3.9 6.8-3.8 6.8 16.1 6.9 34.1 6.8 39.2 6.8 8.9 6.9-37.7 6.8-33.3 6.8-27.7 6.9-23.6 6.8-16.1 6.8-4.9 6.9-4.9 6.8-4.9 6.8-4.9 6.9-4.9 6.8-4.9 6.8-4.7 6.9-4.7 6.8-4.7 6.8-4.7 6.9-4.6 6.8-4.7 6.8-4.7 6.9-4.7 6.8-4.7 6.8-4.7 6.9-4.6 6.8-4.7 6.8-4.7 6.9-4.7 6.8-4.7 6.8-4.7 6.9-4.6 6.8-4.7 6.8-4.7 6.9-4.7 6.8-4.7 6.9-4.7 6.8-4.7 6.8-4.6 6.9-4.7 6.8-4.7 6.8-4.7 6.9-4.7 6.8-4.7 0 17 -6.8 7.3 -6.9 10.4 -6.8 13.7 -6.8 12.8 -6.9 12 -6.8 9.1 -6.8 6.1 -6.9 6.1 -6.8 6.3 -6.9 6.3 -6.8 2.8 -6.8 0.1 -6.9 0.1 -6.8-0.1 -6.8-0.3 -6.9-0.3 -6.8 1.6 -6.8 3.1 -6.9 3.1 -6.8 3.1 -6.8 3.5 -6.9 3.4 -6.8 3.4 -6.8 2.8 -6.9 2.5 -6.8 2.6 -6.8 2.5 -6.9 2.5 -6.8 2.4 -6.8 2.4 -6.9 5.2 -6.8 7.1 -6.8 7 -6.9 12.8 -6.8 22.8 -6.8 22.9 -6.9 19.7 -6.8 16.1 -6.8 22.1 -6.9 24.4 -6.8-13.6 -6.8-39.2 -6.9-26.8 -6.8-8.9 -6.8 13.2 -6.9 13.2 -6.8 6.7 -6.8 2.2 -6.9 1.1 -6.8 0.8 -6.8 9.6 -6.9 9.5 -6.8 8.3 -6.8 11.3 -6.9 19.7 -6.8-0.9 -6.8 4.2 -6.9 6.9z" fill="#f9fb0e"/>
<path d="M311.7 2887.1l6.9-6.9 6.8-4.2 6.8 0.9 6.9-19.7 6.8-11.3 6.8-8.3 6.9-9.5 6.8-9.6 6.8-0.8 6.9-1.1 6.8-2.2 6.8-6.7 6.9-13.2 6.8-13.2 6.8 8.9 6.9 26.8 6.8 39.2 6.8 13.6 6.9-24.4 6.8-22.1 6.8-16.1 6.9-19.7 6.8-22.9 6.8-22.8 6.9-12.8 6.8-7 6.8-7.1 6.9-5.2 6.8-2.4 6.8-2.4 6.9-2.5 6.8-2.5 6.8-2.6 6.9-2.5 6.8-2.8 6.8-3.4 6.9-3.4 6.8-3.5 6.8-3.1 6.9-3.1 6.8-3.1 6.8-1.6 6.9 0.3 6.8 0.3 6.8 0.1 6.9-0.1 6.8-0.1 6.8-2.8 6.9-6.3 6.8-6.3 6.9-6.1 6.8-6.1 6.8-9.1 6.9-12 6.8-12.8 6.8-13.7 6.9-10.4 6.8-7.3 0 72 -6.8 9.3 -6.9 8.6 -6.8 8.2 -6.8 8.6 -6.9 9 -6.8 10 -6.8 11.1 -6.9 11.1 -6.8 12.2 -6.9 12.3 -6.8 3.8 -6.8-3 -6.9-3 -6.8-3 -6.8-2.9 -6.9-2.9 -6.8-0.8 -6.8 0.7 -6.9 0.6 -6.8 1 -6.8 1.7 -6.9 1.7 -6.8 1.7 -6.8 2.8 -6.9 3.2 -6.8 3.1 -6.8 3.2 -6.9 3.2 -6.8 3.3 -6.8 3.2 -6.9 3.5 -6.8 3.6 -6.8 3.7 -6.9 7.9 -6.8 15.3 -6.8 15.5 -6.9 17.5 -6.8 17.5 -6.8 15 -6.9 14 -6.8-4.9 -6.8-15.8 -6.9-10.7 -6.8-4.9 -6.8 10.6 -6.9 10.6 -6.8 6.2 -6.8 3.5 -6.9 3.4 -6.8 5.2 -6.8 17.9 -6.9 18 -6.8 14.5 -6.8 13.8 -6.9 57.5 -6.8 11.7 -6.8 6.3 -6.9 6.3z" fill="#fdc225"/>
<path d="M311.7 3031.1l6.9-6.3 6.8-6.3 6.8-11.7 6.9-57.5 6.8-13.8 6.8-14.5 6.9-18 6.8-17.9 6.8-5.2 6.9-3.4 6.8-3.5 6.8-6.2 6.9-10.6 6.8-10.6 6.8 4.9 6.9 10.7 6.8 15.8 6.8 4.9 6.9-14 6.8-15 6.8-17.5 6.9-17.5 6.8-15.5 6.8-15.3 6.9-7.9 6.8-3.7 6.8-3.6 6.9-3.5 6.8-3.2 6.8-3.3 6.9-3.2 6.8-3.2 6.8-3.1 6.9-3.2 6.8-2.8 6.8-1.7 6.9-1.7 6.8-1.7 6.8-1 6.9-0.6 6.8-0.7 6.8 0.8 6.9 2.9 6.8 2.9 6.8 3 6.9 3 6.8 3 6.8-3.8 6.9-12.3 6.8-12.2 6.9-11.1 6.8-11.1 6.8-10 6.9-9 6.8-8.6 6.8-8.2 6.9-8.6 6.8-9.3 0 68 -6.8 9.3 -6.9 9.6 -6.8 10.2 -6.8 10.3 -6.9 10.5 -6.8 5.2 -6.8-0.5 -6.9-0.4 -6.8-2.7 -6.9-8.1 -6.8 14.5 -6.8 25.7 -6.9 16.1 -6.8 4.8 -6.8-0.9 -6.9-1 -6.8-0.3 -6.8 0 -6.9 0 -6.8 0.3 -6.8 0.9 -6.9 0.8 -6.8 0.8 -6.8 2.3 -6.9 2.5 -6.8 2.6 -6.8 2.6 -6.9 2.7 -6.8 2.7 -6.8 2.7 -6.9 3.3 -6.8 3.6 -6.8 3.7 -6.9 8 -6.8 15.8 -6.8 15.8 -6.9 15.8 -6.8 15.8 -6.8 10.8 -6.9 8.9 -6.8 5.8 -6.8 1.1 -6.9 1.1 -6.8 1.9 -6.8 2.5 -6.9 2.5 -6.8 5 -6.8 6.6 -6.9 6.7 -6.8 7.6 -6.8 8 -6.9 8 -6.8 6.4 -6.8 6 -6.9 5.9 -6.8 5.1 -6.8 4.9 -6.9 4.9z" fill="#c0c752"/>
<path d="M311.7 3033.1l6.9-4.9 6.8-4.9 6.8-5.1 6.9-5.9 6.8-6 6.8-6.4 6.9-8 6.8-8 6.8-7.6 6.9-6.7 6.8-6.6 6.8-5 6.9-2.5 6.8-2.5 6.8-1.9 6.9-1.1 6.8-1.1 6.8-5.8 6.9-8.9 6.8-10.8 6.8-15.8 6.9-15.8 6.8-15.8 6.8-15.8 6.9-8 6.8-3.7 6.8-3.6 6.9-3.3 6.8-2.7 6.8-2.7 6.9-2.7 6.8-2.6 6.8-2.6 6.9-2.5 6.8-2.3 6.8-0.8 6.9-0.8 6.8-0.9 6.8-0.3 6.9 0 6.8 0 6.8 0.3 6.9 1 6.8 0.9 6.8-4.8 6.9-16.1 6.8-25.7 6.8-14.5 6.9 8.1 6.8 2.7 6.9 0.4 6.8 0.5 6.8-5.2 6.9-10.5 6.8-10.3 6.8-10.2 6.9-9.6 6.8-9.3 0 54 -6.8 7.3 -6.9 5.4 -6.8 3.6 -6.8 3.6 -6.9 3.6 -6.8 3.3 -6.8 3 -6.9 3.1 -6.8 2.1 -6.9 2 -6.8 8.1 -6.8 12.8 -6.9 12.9 -6.8 6.7 -6.8 3.6 -6.9 3.6 -6.8 3.3 -6.8 3.1 -6.9 3.1 -6.8 3 -6.8 2.8 -6.9 2.9 -6.8 2.8 -6.8 3.5 -6.9 3.5 -6.8 3.5 -6.8 3.6 -6.9 3.5 -6.8 3.6 -6.8 3.7 -6.9 3.7 -6.8 3.7 -6.8 3.8 -6.9 7.1 -6.8 13.2 -6.8 13.2 -6.9 13.2 -6.8 11.2 -6.8 10.9 -6.9 10.9 -6.8 8.3 -6.8 4.6 -6.9 4.6 -6.8 3.9 -6.8 3.2 -6.9 3.2 -6.8 1.6 -6.8 0.4 -6.9 0.4 -6.8 0 -6.8-0.3 -6.9-0.2 -6.8 0.3 -6.8 0.5 -6.9 0.4 -6.8 2.9 -6.8 3.2 -6.9 3.2z" fill="url(#g15)"/>
<path d="M311.7 3034.1l6.9-3.2 6.8-3.2 6.8-2.9 6.9-0.4 6.8-0.5 6.8-0.3 6.9 0.2 6.8 0.3 6.8 0 6.9-0.4 6.8-0.4 6.8-1.6 6.9-3.2 6.8-3.2 6.8-3.9 6.9-4.6 6.8-4.6 6.8-8.3 6.9-10.9 6.8-10.9 6.8-11.2 6.9-13.2 6.8-13.2 6.8-13.2 6.9-7.1 6.8-3.8 6.8-3.7 6.9-3.7 6.8-3.7 6.8-3.6 6.9-3.5 6.8-3.6 6.8-3.5 6.9-3.5 6.8-3.5 6.8-2.8 6.9-2.9 6.8-2.8 6.8-3 6.9-3.1 6.8-3.1 6.8-3.3 6.9-3.6 6.8-3.6 6.8-6.7 6.9-12.9 6.8-12.8 6.8-8.1 6.9-2 6.8-2.1 6.9-3.1 6.8-3 6.8-3.3 6.9-3.6 6.8-3.6 6.8-3.6 6.9-5.4 6.8-7.3 0 28 -6.8 4.6 -6.9 4.6 -6.8 4.6 -6.8 4.6 -6.9 4.5 -6.8 4.6 -6.8 4.6 -6.9 4.6 -6.8 4.6 -6.9 4.5 -6.8 4.6 -6.8 4.6 -6.9 4.6 -6.8 4.6 -6.8 4.6 -6.9 4.5 -6.8 4.6 -6.8 4.6 -6.9 4.6 -6.8 4.6 -6.8 4.5 -6.9 4.6 -6.8 4.6 -6.8 4.6 -6.9 4.6 -6.8 4.5 -6.8 4.6 -6.9 4.6 -6.8 4.6 -6.8 4.6 -6.9 4.5 -6.8 4.6 -6.8 4.6 -6.9 4.6 -6.8 4.9 -6.8 6.3 -6.9 6.3 -6.8 6.3 -6.8 6.3 -6.9 7.6 -6.8 8.3 -6.8 4.6 -6.9 4.6 -6.8 3.9 -6.8 3.2 -6.9 3.2 -6.8 3.5 -6.8 3.7 -6.9 3.8 -6.8 3.7 -6.8 3.7 -6.9 3.7 -6.8 3.7 -6.8 3.7 -6.9 3.8 -6.8 3.7 -6.8 3.7 -6.9 3.7z" fill="url(#g16)"/>
<path d="M311.7 3066.1l6.9-3.7 6.8-3.7 6.8-3.7 6.9-3.8 6.8-3.7 6.8-3.7 6.9-3.7 6.8-3.7 6.8-3.7 6.9-3.8 6.8-3.7 6.8-3.5 6.9-3.2 6.8-3.2 6.8-3.9 6.9-4.6 6.8-4.6 6.8-8.3 6.9-7.6 6.8-6.3 6.8-6.3 6.9-6.3 6.8-6.3 6.8-4.9 6.9-4.6 6.8-4.6 6.8-4.6 6.9-4.5 6.8-4.6 6.8-4.6 6.9-4.6 6.8-4.6 6.8-4.5 6.9-4.6 6.8-4.6 6.8-4.6 6.9-4.6 6.8-4.5 6.8-4.6 6.9-4.6 6.8-4.6 6.8-4.6 6.9-4.5 6.8-4.6 6.8-4.6 6.9-4.6 6.8-4.6 6.8-4.6 6.9-4.5 6.8-4.6 6.9-4.6 6.8-4.6 6.8-4.6 6.9-4.5 6.8-4.6 6.8-4.6 6.9-4.6 6.8-4.6 0 14 -6.8 4.6 -6.9 4.6 -6.8 4.5 -6.8 4.6 -6.9 4.6 -6.8 4.5 -6.8 4.6 -6.9 4.5 -6.8 4.6 -6.9 4.6 -6.8 4.5 -6.8 4.6 -6.9 4.6 -6.8 4.5 -6.8 4.6 -6.9 4.6 -6.8 4.5 -6.8 4.6 -6.9 4.5 -6.8 4.6 -6.8 4.6 -6.9 4.5 -6.8 4.6 -6.8 4.6 -6.9 4.5 -6.8 4.6 -6.8 4.6 -6.9 4.5 -6.8 4.6 -6.8 4.5 -6.9 4.6 -6.8 4.6 -6.8 4.5 -6.9 4.6 -6.8 4.6 -6.8 4.5 -6.9 4.6 -6.8 4.6 -6.8 4.5 -6.9 4.6 -6.8 5.2 -6.8 4.6 -6.9 4.6 -6.8 3.9 -6.8 4.5 -6.9 4.6 -6.8 4.5 -6.8 4.6 -6.9 4.6 -6.8 4.5 -6.8 4.6 -6.9 4.5 -6.8 4.6 -6.8 4.6 -6.9 4.5 -6.8 4.6 -6.8 4.6 -6.9 4.5z" fill="#0c4a66"/>
<path d="M311.7 3079.1l6.9-4.5 6.8-4.6 6.8-4.6 6.9-4.5 6.8-4.6 6.8-4.6 6.9-4.5 6.8-4.6 6.8-4.5 6.9-4.6 6.8-4.6 6.8-4.5 6.9-4.6 6.8-4.5 6.8-3.9 6.9-4.6 6.8-4.6 6.8-5.2 6.9-4.6 6.8-4.5 6.8-4.6 6.9-4.6 6.8-4.5 6.8-4.6 6.9-4.6 6.8-4.5 6.8-4.6 6.9-4.6 6.8-4.5 6.8-4.6 6.9-4.5 6.8-4.6 6.8-4.6 6.9-4.5 6.8-4.6 6.8-4.6 6.9-4.5 6.8-4.6 6.8-4.6 6.9-4.5 6.8-4.6 6.8-4.5 6.9-4.6 6.8-4.6 6.8-4.5 6.9-4.6 6.8-4.6 6.8-4.5 6.9-4.6 6.8-4.6 6.9-4.5 6.8-4.6 6.8-4.5 6.9-4.6 6.8-4.6 6.8-4.5 6.9-4.6 6.8-4.6 0 14 -6.8 4.7 -6.9 4.6 -6.8 4.6 -6.8 4.7 -6.9 4.6 -6.8 4.6 -6.8 4.7 -6.9 4.6 -6.8 4.6 -6.9 4.7 -6.8 4.6 -6.8 4.6 -6.9 4.7 -6.8 4.6 -6.8 4.6 -6.9 4.7 -6.8 4.6 -6.8 4.6 -6.9 4.7 -6.8 4.6 -6.8 4.6 -6.9 4.7 -6.8 4.6 -6.8 4.6 -6.9 4.7 -6.8 4.6 -6.8 4.6 -6.9 4.6 -6.8 4.7 -6.8 4.6 -6.9 4.6 -6.8 4.7 -6.8 4.6 -6.9 4.6 -6.8 4.7 -6.8 4.6 -6.9 4.6 -6.8 4.7 -6.8 4.6 -6.9 4.6 -6.8 4.7 -6.8 4.6 -6.9 4.6 -6.8 4.7 -6.8 4.6 -6.9 4.6 -6.8 4.7 -6.8 4.6 -6.9 4.6 -6.8 4.7 -6.8 4.6 -6.9 4.6 -6.8 4.7 -6.8 4.6 -6.9 4.6 -6.8 4.7 -6.8 4.6 -6.9 4.6z" fill="#000"/>
<path d="M311.7 3097.1l6.9-4.6 6.8-4.6 6.8-4.7 6.9-4.6 6.8-4.6 6.8-4.7 6.9-4.6 6.8-4.6 6.8-4.7 6.9-4.6 6.8-4.6 6.8-4.7 6.9-4.6 6.8-4.6 6.8-4.7 6.9-4.6 6.8-4.6 6.8-4.7 6.9-4.6 6.8-4.6 6.8-4.7 6.9-4.6 6.8-4.6 6.8-4.7 6.9-4.6 6.8-4.6 6.8-4.7 6.9-4.6 6.8-4.6 6.8-4.7 6.9-4.6 6.8-4.6 6.8-4.6 6.9-4.7 6.8-4.6 6.8-4.6 6.9-4.7 6.8-4.6 6.8-4.6 6.9-4.7 6.8-4.6 6.8-4.6 6.9-4.7 6.8-4.6 6.8-4.6 6.9-4.7 6.8-4.6 6.8-4.6 6.9-4.7 6.8-4.6 6.9-4.6 6.8-4.7 6.8-4.6 6.9-4.6 6.8-4.7 6.8-4.6 6.9-4.6 6.8-4.7 0 4 -6.8 4.6 -6.9 4.6 -6.8 4.6 -6.8 4.6 -6.9 4.5 -6.8 4.6 -6.8 4.6 -6.9 4.6 -6.8 4.6 -6.9 4.5 -6.8 4.6 -6.8 4.6 -6.9 4.6 -6.8 4.6 -6.8 4.6 -6.9 4.5 -6.8 4.6 -6.8 4.6 -6.9 4.6 -6.8 4.6 -6.8 4.5 -6.9 4.6 -6.8 4.6 -6.8 4.6 -6.9 4.6 -6.8 4.5 -6.8 4.6 -6.9 4.6 -6.8 4.6 -6.8 4.6 -6.9 4.5 -6.8 4.6 -6.8 4.6 -6.9 4.6 -6.8 4.6 -6.8 4.5 -6.9 4.6 -6.8 4.6 -6.8 4.6 -6.9 4.6 -6.8 9.7 -6.8 17.5 -6.9 17.9 -6.8 14.7 -6.8 7.3 -6.9 2.9 -6.8 2.9 -6.8 2.9 -6.9 2.9 -6.8 2.9 -6.8 2.9 -6.9 2.9 -6.8 2.9 -6.8 2.9 -6.9 2.9 -6.8 2.9 -6.8 2.9 -6.9 2.9z" fill="#14accf"/>
<path d="M311.7 3120.5l6.9-2.9 6.8-2.9 6.8-2.9 6.9-2.9 6.8-2.9 6.8-2.9 6.9-2.9 6.8-2.9 6.8-2.9 6.9-2.9 6.8-2.9 6.8-2.9 6.9-2.9 6.8-7.3 6.8-14.7 6.9-17.9 6.8-17.5 6.8-9.7 6.9-4.6 6.8-4.6 6.8-4.6 6.9-4.6 6.8-4.5 6.8-4.6 6.9-4.6 6.8-4.6 6.8-4.6 6.9-4.5 6.8-4.6 6.8-4.6 6.9-4.6 6.8-4.6 6.8-4.5 6.9-4.6 6.8-4.6 6.8-4.6 6.9-4.6 6.8-4.5 6.8-4.6 6.9-4.6 6.8-4.6 6.8-4.6 6.9-4.5 6.8-4.6 6.8-4.6 6.9-4.6 6.8-4.6 6.8-4.6 6.9-4.5 6.8-4.6 6.9-4.6 6.8-4.6 6.8-4.6 6.9-4.5 6.8-4.6 6.8-4.6 6.9-4.6 6.8-4.6 0 0 -6.8 4.6 -6.9 4.6 -6.8 4.6 -6.8 4.6 -6.9 4.5 -6.8 4.6 -6.8 4.6 -6.9 4.6 -6.8 4.6 -6.9 4.5 -6.8 4.6 -6.8 4.6 -6.9 4.6 -6.8 4.6 -6.8 4.6 -6.9 4.5 -6.8 4.6 -6.8 4.6 -6.9 4.6 -6.8 4.6 -6.8 4.5 -6.9 4.6 -6.8 4.6 -6.8 4.6 -6.9 4.6 -6.8 4.5 -6.8 4.6 -6.9 4.6 -6.8 4.6 -6.8 4.6 -6.9 4.5 -6.8 4.6 -6.8 4.6 -6.9 4.6 -6.8 4.6 -6.8 4.5 -6.9 4.6 -6.8 4.6 -6.8 4.6 -6.9 4.6 -6.8 9.7 -6.8 17.5 -6.9 17.9 -6.8 21.8 -6.8 21.8 -6.9 19.2 -6.8 16.4 -6.8 12.9 -6.9 0.8 -6.8 0.8 -6.8 0.9 -6.9 0.8 -6.8 0.8 -6.8 0.8 -6.9 0.8 -6.8 0.8 -6.8 0.8 -6.9 0.8z" fill="#2594e9"/>
<path d="M311.7 3161l6.9-0.8 6.8-0.8 6.8-0.8 6.9-0.8 6.8-0.8 6.8-0.8 6.9-0.8 6.8-0.9 6.8-0.8 6.9-0.8 6.8-12.9 6.8-16.4 6.9-19.2 6.8-21.8 6.8-21.8 6.9-17.9 6.8-17.5 6.8-9.7 6.9-4.6 6.8-4.6 6.8-4.6 6.9-4.6 6.8-4.5 6.8-4.6 6.9-4.6 6.8-4.6 6.8-4.6 6.9-4.5 6.8-4.6 6.8-4.6 6.9-4.6 6.8-4.6 6.8-4.5 6.9-4.6 6.8-4.6 6.8-4.6 6.9-4.6 6.8-4.5 6.8-4.6 6.9-4.6 6.8-4.6 6.8-4.6 6.9-4.5 6.8-4.6 6.8-4.6 6.9-4.6 6.8-4.6 6.8-4.6 6.9-4.5 6.8-4.6 6.9-4.6 6.8-4.6 6.8-4.6 6.9-4.5 6.8-4.6 6.8-4.6 6.9-4.6 6.8-4.6 0 0 -6.8 4.6 -6.9 4.6 -6.8 4.6 -6.8 4.6 -6.9 4.5 -6.8 4.6 -6.8 4.6 -6.9 4.6 -6.8 4.6 -6.9 4.5 -6.8 4.6 -6.8 4.6 -6.9 4.6 -6.8 4.6 -6.8 4.6 -6.9 4.5 -6.8 4.6 -6.8 4.6 -6.9 4.6 -6.8 4.6 -6.8 4.5 -6.9 4.6 -6.8 4.6 -6.8 4.6 -6.9 4.6 -6.8 4.5 -6.8 4.6 -6.9 4.6 -6.8 4.6 -6.8 4.6 -6.9 4.5 -6.8 4.6 -6.8 4.6 -6.9 4.6 -6.8 4.6 -6.8 4.5 -6.9 4.6 -6.8 4.6 -6.8 4.6 -6.9 4.6 -6.8 9.7 -6.8 17.5 -6.9 17.9 -6.8 21.8 -6.8 21.8 -6.9 19.2 -6.8 18.4 -6.8 18.4 -6.9 12.8 -6.8 12 -6.8 11.5 -6.9 10.2 -6.8 1 -6.8-1.2 -6.9-1.3 -6.8-1.3 -6.8-1.3 -6.9-1.3z" fill="#3677f6"/>
<path d="M311.7 3201.5l6.9 1.3 6.8 1.3 6.8 1.3 6.9 1.3 6.8 1.2 6.8-1 6.9-10.2 6.8-11.5 6.8-12 6.9-12.8 6.8-18.4 6.8-18.4 6.9-19.2 6.8-21.8 6.8-21.8 6.9-17.9 6.8-17.5 6.8-9.7 6.9-4.6 6.8-4.6 6.8-4.6 6.9-4.6 6.8-4.5 6.8-4.6 6.9-4.6 6.8-4.6 6.8-4.6 6.9-4.5 6.8-4.6 6.8-4.6 6.9-4.6 6.8-4.6 6.8-4.5 6.9-4.6 6.8-4.6 6.8-4.6 6.9-4.6 6.8-4.5 6.8-4.6 6.9-4.6 6.8-4.6 6.8-4.6 6.9-4.5 6.8-4.6 6.8-4.6 6.9-4.6 6.8-4.6 6.8-4.6 6.9-4.5 6.8-4.6 6.9-4.6 6.8-4.6 6.8-4.6 6.9-4.5 6.8-4.6 6.8-4.6 6.9-4.6 6.8-4.6 0 0 -6.8 4.6 -6.9 4.6 -6.8 4.6 -6.8 4.6 -6.9 4.5 -6.8 4.6 -6.8 4.6 -6.9 4.6 -6.8 4.6 -6.9 4.5 -6.8 4.6 -6.8 4.6 -6.9 4.6 -6.8 4.6 -6.8 4.6 -6.9 4.5 -6.8 4.6 -6.8 4.6 -6.9 4.6 -6.8 4.6 -6.8 4.5 -6.9 4.6 -6.8 4.6 -6.8 4.6 -6.9 4.6 -6.8 4.5 -6.8 4.6 -6.9 4.6 -6.8 4.6 -6.8 4.6 -6.9 4.5 -6.8 4.6 -6.8 4.6 -6.9 4.6 -6.8 4.6 -6.8 4.5 -6.9 4.6 -6.8 4.6 -6.8 4.6 -6.9 4.6 -6.8 9.7 -6.8 17.5 -6.9 17.9 -6.8 21.8 -6.8 21.8 -6.9 19.2 -6.8 18.4 -6.8 18.4 -6.9 12.8 -6.8 12 -6.8 12 -6.9 12 -6.8 8.8 -6.8 8 -6.9 8 -6.8 0.8 -6.8-1.3 -6.9-2.8z" fill="#4353e9"/>
<path d="M311.7 3230.7l6.9 2.8 6.8 1.3 6.8-0.8 6.9-8 6.8-8 6.8-8.8 6.9-12 6.8-12 6.8-12 6.9-12.8 6.8-18.4 6.8-18.4 6.9-19.2 6.8-21.8 6.8-21.8 6.9-17.9 6.8-17.5 6.8-9.7 6.9-4.6 6.8-4.6 6.8-4.6 6.9-4.6 6.8-4.5 6.8-4.6 6.9-4.6 6.8-4.6 6.8-4.6 6.9-4.5 6.8-4.6 6.8-4.6 6.9-4.6 6.8-4.6 6.8-4.5 6.9-4.6 6.8-4.6 6.8-4.6 6.9-4.6 6.8-4.5 6.8-4.6 6.9-4.6 6.8-4.6 6.8-4.6 6.9-4.5 6.8-4.6 6.8-4.6 6.9-4.6 6.8-4.6 6.8-4.6 6.9-4.5 6.8-4.6 6.9-4.6 6.8-4.6 6.8-4.6 6.9-4.5 6.8-4.6 6.8-4.6 6.9-4.6 6.8-4.6 0 0 -6.8 4.6 -6.9 4.6 -6.8 4.6 -6.8 4.6 -6.9 4.5 -6.8 4.6 -6.8 4.6 -6.9 4.6 -6.8 4.6 -6.9 4.5 -6.8 4.6 -6.8 4.6 -6.9 4.6 -6.8 4.6 -6.8 4.6 -6.9 4.5 -6.8 4.6 -6.8 4.6 -6.9 4.6 -6.8 4.6 -6.8 4.5 -6.9 4.6 -6.8 4.6 -6.8 4.6 -6.9 4.6 -6.8 4.5 -6.8 4.6 -6.9 4.6 -6.8 4.6 -6.8 4.6 -6.9 4.5 -6.8 4.6 -6.8 4.6 -6.9 4.6 -6.8 4.6 -6.8 4.5 -6.9 4.6 -6.8 4.6 -6.8 4.6 -6.9 4.6 -6.8 9.7 -6.8 17.5 -6.9 17.9 -6.8 21.8 -6.8 21.8 -6.9 19.2 -6.8 18.4 -6.8 18.4 -6.9 12.8 -6.8 12 -6.8 12 -6.9 12 -6.8 8.8 -6.8 8 -6.9 8 -6.8 5.6 -6.8 5.3 -6.9 5.2z" fill="#4232be"/>
<path d="M468.9 2725.8 496.2 2707.5M386.9 2778.4 407.4 2764.7M468.9 2723.4 626.1 2618.1M345.9 2803.5 400.6 2766.9M496.2 2702.7 708.1 2560.7M311.7 2824 380.1 2778.2M619.2 2617.9 708.1 2558.3M311.7 2821.6 345.9 2798.7" fill="none" stroke="#000" stroke-width="1.5" stroke-opacity="0.85"/>
<path d="M373.2 3032.3 386.9 3023.1M332.2 3055.4 380.1 3023.3M311.7 3064.7 366.4 3028.1M311.7 3060.3 366.4 3023.7M311.7 3055.9 359.6 3023.9M311.7 3051.5 352.7 3024M311.7 3047.1 345.9 3024.2M311.7 3042.7 339.1 3024.4M311.7 3038.3 332.2 3024.6" fill="none" stroke="#000" stroke-width="1.5" stroke-opacity="0.85"/>
<path d="M311.7 3078.8 400.6 3019.3M434.7 2996.4 708.1 2813.1M311.7 3076.2 393.7 3021.3M434.7 2993.8 708.1 2810.5M311.7 3073.6 373.2 3032.4M441.6 2986.6 708.1 2807.9M311.7 3071 352.7 3043.5M455.2 2974.8 708.1 2805.3M311.7 3068.4 332.2 3054.7M462.1 2967.6 708.1 2802.7" fill="none" stroke="#000" stroke-width="1.5" stroke-opacity="0.85"/>
<path d="M311.7 2821.1V3250.1M318.6 2816.7V3244.9M325.4 2812.3V3239.6M332.2 2807.9V3234M339.1 2803.5V3226M345.9 2799.1V3218M352.7 2794.7V3209.2M359.6 2790.7V3197.2M366.4 2786.6V3185.2M373.2 2782.6V3173.2M380.1 2778.5V3160.4M386.9 2774.4V3142M393.7 2770.5V3123.6M400.6 2766.6V3104.4M407.4 2762.8V3082.6M414.2 2778.9V3060.8M421.1 2813V3042.9M427.9 2852.2V3025.4M434.7 2861.1V3015.7M441.6 2823.4V3011.1M448.4 2790.1V3006.5M455.2 2762.4V3001.9M462.1 2738.8V2997.3M468.9 2722.7V2992.8M475.7 2717.8V2988.2M482.6 2712.9V2983.6M489.4 2708V2979M496.2 2703.1V2974.4M503.1 2698.2V2969.9M509.9 2693.3V2965.3M516.7 2688.6V2960.7M523.6 2683.9V2956.1M530.4 2679.2V2951.5M537.2 2674.5V2947M544.1 2669.9V2942.4M550.9 2665.2V2937.8M557.7 2660.5V2933.2M564.6 2655.8V2928.6M571.4 2651.1V2924.1M578.2 2646.4V2919.5M585.1 2641.8V2914.9M591.9 2637.1V2910.3M598.7 2632.4V2905.7M605.6 2627.7V2901.2M612.4 2623V2896.6M619.2 2618.3V2892M626.1 2613.7V2887.4M632.9 2609V2882.8M639.7 2604.3V2878.2M646.6 2599.6V2873.7M653.4 2594.9V2869.1M660.3 2590.2V2864.5M667.1 2585.5V2859.9M673.9 2580.9V2855.3M680.8 2576.2V2850.8M687.6 2571.5V2846.2M694.4 2566.8V2841.6M701.3 2562.1V2837M708.1 2557.4V2832.4" fill="none" stroke="#000" stroke-width="1.25" stroke-opacity="0.8"/>
<path d="M311.7 2821.1l6.9-4.4 6.8-4.4 6.8-4.4 6.9-4.4 6.8-4.4 6.8-4.4 6.9-4 6.8-4.1 6.8-4 6.9-4.1 6.8-4.1 6.8-3.9 6.9-3.9 6.8-3.8 6.8 16.1 6.9 34.1 6.8 39.2 6.8 8.9 6.9-37.7 6.8-33.3 6.8-27.7 6.9-23.6 6.8-16.1 6.8-4.9 6.9-4.9 6.8-4.9 6.8-4.9 6.9-4.9 6.8-4.9 6.8-4.7 6.9-4.7 6.8-4.7 6.8-4.7 6.9-4.6 6.8-4.7 6.8-4.7 6.9-4.7 6.8-4.7 6.8-4.7 6.9-4.6 6.8-4.7 6.8-4.7 6.9-4.7 6.8-4.7 6.8-4.7 6.9-4.6 6.8-4.7 6.8-4.7 6.9-4.7 6.8-4.7 6.9-4.7 6.8-4.7 6.8-4.6 6.9-4.7 6.8-4.7 6.8-4.7 6.9-4.7 6.8-4.7M311.7 2825.1l6.9-4.4 6.8-4.4 6.8-4.4 6.9-4.4 6.8-4.4 6.8-4.4 6.9-4 6.8-4.1 6.8-4 6.9-4.1 6.8-4.1 6.8-3.9 6.9-3.9 6.8-3.8 6.8 16.1 6.9 34.1 6.8 39.2 6.8 8.9 6.9-37.7 6.8-33.3 6.8-27.7 6.9-23.6 6.8-16.1 6.8-4.9 6.9-4.9 6.8-4.9 6.8-4.9 6.9-4.9 6.8-4.9 6.8-4.7 6.9-4.7 6.8-4.7 6.8-4.7 6.9-4.6 6.8-4.7 6.8-4.7 6.9-4.7 6.8-4.7 6.8-4.7 6.9-4.6 6.8-4.7 6.8-4.7 6.9-4.7 6.8-4.7 6.8-4.7 6.9-4.6 6.8-4.7 6.8-4.7 6.9-4.7 6.8-4.7 6.9-4.7 6.8-4.7 6.8-4.6 6.9-4.7 6.8-4.7 6.8-4.7 6.9-4.7 6.8-4.7M311.7 2887.1l6.9-6.9 6.8-4.2 6.8 0.9 6.9-19.7 6.8-11.3 6.8-8.3 6.9-9.5 6.8-9.6 6.8-0.8 6.9-1.1 6.8-2.2 6.8-6.7 6.9-13.2 6.8-13.2 6.8 8.9 6.9 26.8 6.8 39.2 6.8 13.6 6.9-24.4 6.8-22.1 6.8-16.1 6.9-19.7 6.8-22.9 6.8-22.8 6.9-12.8 6.8-7 6.8-7.1 6.9-5.2 6.8-2.4 6.8-2.4 6.9-2.5 6.8-2.5 6.8-2.6 6.9-2.5 6.8-2.8 6.8-3.4 6.9-3.4 6.8-3.5 6.8-3.1 6.9-3.1 6.8-3.1 6.8-1.6 6.9 0.3 6.8 0.3 6.8 0.1 6.9-0.1 6.8-0.1 6.8-2.8 6.9-6.3 6.8-6.3 6.9-6.1 6.8-6.1 6.8-9.1 6.9-12 6.8-12.8 6.8-13.7 6.9-10.4 6.8-7.3M311.7 3031.1l6.9-6.3 6.8-6.3 6.8-11.7 6.9-57.5 6.8-13.8 6.8-14.5 6.9-18 6.8-17.9 6.8-5.2 6.9-3.4 6.8-3.5 6.8-6.2 6.9-10.6 6.8-10.6 6.8 4.9 6.9 10.7 6.8 15.8 6.8 4.9 6.9-14 6.8-15 6.8-17.5 6.9-17.5 6.8-15.5 6.8-15.3 6.9-7.9 6.8-3.7 6.8-3.6 6.9-3.5 6.8-3.2 6.8-3.3 6.9-3.2 6.8-3.2 6.8-3.1 6.9-3.2 6.8-2.8 6.8-1.7 6.9-1.7 6.8-1.7 6.8-1 6.9-0.6 6.8-0.7 6.8 0.8 6.9 2.9 6.8 2.9 6.8 3 6.9 3 6.8 3 6.8-3.8 6.9-12.3 6.8-12.2 6.9-11.1 6.8-11.1 6.8-10 6.9-9 6.8-8.6 6.8-8.2 6.9-8.6 6.8-9.3M311.7 3033.1l6.9-4.9 6.8-4.9 6.8-5.1 6.9-5.9 6.8-6 6.8-6.4 6.9-8 6.8-8 6.8-7.6 6.9-6.7 6.8-6.6 6.8-5 6.9-2.5 6.8-2.5 6.8-1.9 6.9-1.1 6.8-1.1 6.8-5.8 6.9-8.9 6.8-10.8 6.8-15.8 6.9-15.8 6.8-15.8 6.8-15.8 6.9-8 6.8-3.7 6.8-3.6 6.9-3.3 6.8-2.7 6.8-2.7 6.9-2.7 6.8-2.6 6.8-2.6 6.9-2.5 6.8-2.3 6.8-0.8 6.9-0.8 6.8-0.9 6.8-0.3 6.9 0 6.8 0 6.8 0.3 6.9 1 6.8 0.9 6.8-4.8 6.9-16.1 6.8-25.7 6.8-14.5 6.9 8.1 6.8 2.7 6.9 0.4 6.8 0.5 6.8-5.2 6.9-10.5 6.8-10.3 6.8-10.2 6.9-9.6 6.8-9.3M311.7 3034.1l6.9-3.2 6.8-3.2 6.8-2.9 6.9-0.4 6.8-0.5 6.8-0.3 6.9 0.2 6.8 0.3 6.8 0 6.9-0.4 6.8-0.4 6.8-1.6 6.9-3.2 6.8-3.2 6.8-3.9 6.9-4.6 6.8-4.6 6.8-8.3 6.9-10.9 6.8-10.9 6.8-11.2 6.9-13.2 6.8-13.2 6.8-13.2 6.9-7.1 6.8-3.8 6.8-3.7 6.9-3.7 6.8-3.7 6.8-3.6 6.9-3.5 6.8-3.6 6.8-3.5 6.9-3.5 6.8-3.5 6.8-2.8 6.9-2.9 6.8-2.8 6.8-3 6.9-3.1 6.8-3.1 6.8-3.3 6.9-3.6 6.8-3.6 6.8-6.7 6.9-12.9 6.8-12.8 6.8-8.1 6.9-2 6.8-2.1 6.9-3.1 6.8-3 6.8-3.3 6.9-3.6 6.8-3.6 6.8-3.6 6.9-5.4 6.8-7.3M311.7 3066.1l6.9-3.7 6.8-3.7 6.8-3.7 6.9-3.8 6.8-3.7 6.8-3.7 6.9-3.7 6.8-3.7 6.8-3.7 6.9-3.8 6.8-3.7 6.8-3.5 6.9-3.2 6.8-3.2 6.8-3.9 6.9-4.6 6.8-4.6 6.8-8.3 6.9-7.6 6.8-6.3 6.8-6.3 6.9-6.3 6.8-6.3 6.8-4.9 6.9-4.6 6.8-4.6 6.8-4.6 6.9-4.5 6.8-4.6 6.8-4.6 6.9-4.6 6.8-4.6 6.8-4.5 6.9-4.6 6.8-4.6 6.8-4.6 6.9-4.6 6.8-4.5 6.8-4.6 6.9-4.6 6.8-4.6 6.8-4.6 6.9-4.5 6.8-4.6 6.8-4.6 6.9-4.6 6.8-4.6 6.8-4.6 6.9-4.5 6.8-4.6 6.9-4.6 6.8-4.6 6.8-4.6 6.9-4.5 6.8-4.6 6.8-4.6 6.9-4.6 6.8-4.6M311.7 3079.1l6.9-4.5 6.8-4.6 6.8-4.6 6.9-4.5 6.8-4.6 6.8-4.6 6.9-4.5 6.8-4.6 6.8-4.5 6.9-4.6 6.8-4.6 6.8-4.5 6.9-4.6 6.8-4.5 6.8-3.9 6.9-4.6 6.8-4.6 6.8-5.2 6.9-4.6 6.8-4.5 6.8-4.6 6.9-4.6 6.8-4.5 6.8-4.6 6.9-4.6 6.8-4.5 6.8-4.6 6.9-4.6 6.8-4.5 6.8-4.6 6.9-4.5 6.8-4.6 6.8-4.6 6.9-4.5 6.8-4.6 6.8-4.6 6.9-4.5 6.8-4.6 6.8-4.6 6.9-4.5 6.8-4.6 6.8-4.5 6.9-4.6 6.8-4.6 6.8-4.5 6.9-4.6 6.8-4.6 6.8-4.5 6.9-4.6 6.8-4.6 6.9-4.5 6.8-4.6 6.8-4.5 6.9-4.6 6.8-4.6 6.8-4.5 6.9-4.6 6.8-4.6M311.7 3097.1l6.9-4.6 6.8-4.6 6.8-4.7 6.9-4.6 6.8-4.6 6.8-4.7 6.9-4.6 6.8-4.6 6.8-4.7 6.9-4.6 6.8-4.6 6.8-4.7 6.9-4.6 6.8-4.6 6.8-4.7 6.9-4.6 6.8-4.6 6.8-4.7 6.9-4.6 6.8-4.6 6.8-4.7 6.9-4.6 6.8-4.6 6.8-4.7 6.9-4.6 6.8-4.6 6.8-4.7 6.9-4.6 6.8-4.6 6.8-4.7 6.9-4.6 6.8-4.6 6.8-4.6 6.9-4.7 6.8-4.6 6.8-4.6 6.9-4.7 6.8-4.6 6.8-4.6 6.9-4.7 6.8-4.6 6.8-4.6 6.9-4.7 6.8-4.6 6.8-4.6 6.9-4.7 6.8-4.6 6.8-4.6 6.9-4.7 6.8-4.6 6.9-4.6 6.8-4.7 6.8-4.6 6.9-4.6 6.8-4.7 6.8-4.6 6.9-4.6 6.8-4.7M311.7 3120.5l6.9-2.9 6.8-2.9 6.8-2.9 6.9-2.9 6.8-2.9 6.8-2.9 6.9-2.9 6.8-2.9 6.8-2.9 6.9-2.9 6.8-2.9 6.8-2.9 6.9-2.9 6.8-7.3 6.8-14.7 6.9-17.9 6.8-17.5 6.8-9.7 6.9-4.6 6.8-4.6 6.8-4.6 6.9-4.6 6.8-4.5 6.8-4.6 6.9-4.6 6.8-4.6 6.8-4.6 6.9-4.5 6.8-4.6 6.8-4.6 6.9-4.6 6.8-4.6 6.8-4.5 6.9-4.6 6.8-4.6 6.8-4.6 6.9-4.6 6.8-4.5 6.8-4.6 6.9-4.6 6.8-4.6 6.8-4.6 6.9-4.5 6.8-4.6 6.8-4.6 6.9-4.6 6.8-4.6 6.8-4.6 6.9-4.5 6.8-4.6 6.9-4.6 6.8-4.6 6.8-4.6 6.9-4.5 6.8-4.6 6.8-4.6 6.9-4.6 6.8-4.6M311.7 3161l6.9-0.8 6.8-0.8 6.8-0.8 6.9-0.8 6.8-0.8 6.8-0.8 6.9-0.8 6.8-0.9 6.8-0.8 6.9-0.8 6.8-12.9 6.8-16.4 6.9-19.2 6.8-21.8 6.8-21.8 6.9-17.9 6.8-17.5 6.8-9.7 6.9-4.6 6.8-4.6 6.8-4.6 6.9-4.6 6.8-4.5 6.8-4.6 6.9-4.6 6.8-4.6 6.8-4.6 6.9-4.5 6.8-4.6 6.8-4.6 6.9-4.6 6.8-4.6 6.8-4.5 6.9-4.6 6.8-4.6 6.8-4.6 6.9-4.6 6.8-4.5 6.8-4.6 6.9-4.6 6.8-4.6 6.8-4.6 6.9-4.5 6.8-4.6 6.8-4.6 6.9-4.6 6.8-4.6 6.8-4.6 6.9-4.5 6.8-4.6 6.9-4.6 6.8-4.6 6.8-4.6 6.9-4.5 6.8-4.6 6.8-4.6 6.9-4.6 6.8-4.6M311.7 3201.5l6.9 1.3 6.8 1.3 6.8 1.3 6.9 1.3 6.8 1.2 6.8-1 6.9-10.2 6.8-11.5 6.8-12 6.9-12.8 6.8-18.4 6.8-18.4 6.9-19.2 6.8-21.8 6.8-21.8 6.9-17.9 6.8-17.5 6.8-9.7 6.9-4.6 6.8-4.6 6.8-4.6 6.9-4.6 6.8-4.5 6.8-4.6 6.9-4.6 6.8-4.6 6.8-4.6 6.9-4.5 6.8-4.6 6.8-4.6 6.9-4.6 6.8-4.6 6.8-4.5 6.9-4.6 6.8-4.6 6.8-4.6 6.9-4.6 6.8-4.5 6.8-4.6 6.9-4.6 6.8-4.6 6.8-4.6 6.9-4.5 6.8-4.6 6.8-4.6 6.9-4.6 6.8-4.6 6.8-4.6 6.9-4.5 6.8-4.6 6.9-4.6 6.8-4.6 6.8-4.6 6.9-4.5 6.8-4.6 6.8-4.6 6.9-4.6 6.8-4.6M311.7 3230.7l6.9 2.8 6.8 1.3 6.8-0.8 6.9-8 6.8-8 6.8-8.8 6.9-12 6.8-12 6.8-12 6.9-12.8 6.8-18.4 6.8-18.4 6.9-19.2 6.8-21.8 6.8-21.8 6.9-17.9 6.8-17.5 6.8-9.7 6.9-4.6 6.8-4.6 6.8-4.6 6.9-4.6 6.8-4.5 6.8-4.6 6.9-4.6 6.8-4.6 6.8-4.6 6.9-4.5 6.8-4.6 6.8-4.6 6.9-4.6 6.8-4.6 6.8-4.5 6.9-4.6 6.8-4.6 6.8-4.6 6.9-4.6 6.8-4.5 6.8-4.6 6.9-4.6 6.8-4.6 6.8-4.6 6.9-4.5 6.8-4.6 6.8-4.6 6.9-4.6 6.8-4.6 6.8-4.6 6.9-4.5 6.8-4.6 6.9-4.6 6.8-4.6 6.8-4.6 6.9-4.5 6.8-4.6 6.8-4.6 6.9-4.6 6.8-4.6M311.7 3250.1l6.9-5.2 6.8-5.3 6.8-5.6 6.9-8 6.8-8 6.8-8.8 6.9-12 6.8-12 6.8-12 6.9-12.8 6.8-18.4 6.8-18.4 6.9-19.2 6.8-21.8 6.8-21.8 6.9-17.9 6.8-17.5 6.8-9.7 6.9-4.6 6.8-4.6 6.8-4.6 6.9-4.6 6.8-4.5 6.8-4.6 6.9-4.6 6.8-4.6 6.8-4.6 6.9-4.5 6.8-4.6 6.8-4.6 6.9-4.6 6.8-4.6 6.8-4.5 6.9-4.6 6.8-4.6 6.8-4.6 6.9-4.6 6.8-4.5 6.8-4.6 6.9-4.6 6.8-4.6 6.8-4.6 6.9-4.5 6.8-4.6 6.8-4.6 6.9-4.6 6.8-4.6 6.8-4.6 6.9-4.5 6.8-4.6 6.9-4.6 6.8-4.6 6.8-4.6 6.9-4.5 6.8-4.6 6.8-4.6 6.9-4.6 6.8-4.6M311.7 3104.3l6.9-3.7 6.8-3.8 6.8-3.7 6.9-3.7 6.8-3.8 6.8-3.7 6.9-3.8 6.8-3.7 6.8-3.8 6.9-3.7 6.8-3.7 6.8-3.8 6.9-3.7 6.8-3.8 6.8-3.7 6.9-5.3 6.8-17.5 6.8-9.7 6.9-4.6 6.8-4.6 6.8-4.6 6.9-4.6 6.8-4.5 6.8-4.6 6.9-4.6 6.8-4.6 6.8-4.6 6.9-4.5 6.8-4.6 6.8-4.6 6.9-4.6 6.8-4.6 6.8-4.5 6.9-4.6 6.8-4.6 6.8-4.6 6.9-4.6 6.8-4.5 6.8-4.6 6.9-4.6 6.8-4.6 6.8-4.6 6.9-4.5 6.8-4.6 6.8-4.6 6.9-4.6 6.8-4.6 6.8-4.6 6.9-4.5 6.8-4.6 6.9-4.6 6.8-4.6 6.8-4.6 6.9-4.5 6.8-4.6 6.8-4.6 6.9-4.6 6.8-4.6M311.7 3140l6.9-1.9 6.8-1.9 6.8-1.9 6.9-1.9 6.8-1.9 6.8-1.9 6.9-1.9 6.8-1.9 6.8-1.9 6.9-1.9 6.8-1.9 6.8-4 6.9-10.7 6.8-21.8 6.8-21.8 6.9-17.9 6.8-17.5 6.8-9.7 6.9-4.6 6.8-4.6 6.8-4.6 6.9-4.6 6.8-4.5 6.8-4.6 6.9-4.6 6.8-4.6 6.8-4.6 6.9-4.5 6.8-4.6 6.8-4.6 6.9-4.6 6.8-4.6 6.8-4.5 6.9-4.6 6.8-4.6 6.8-4.6 6.9-4.6 6.8-4.5 6.8-4.6 6.9-4.6 6.8-4.6 6.8-4.6 6.9-4.5 6.8-4.6 6.8-4.6 6.9-4.6 6.8-4.6 6.8-4.6 6.9-4.5 6.8-4.6 6.9-4.6 6.8-4.6 6.8-4.6 6.9-4.5 6.8-4.6 6.8-4.6 6.9-4.6 6.8-4.6M311.7 3182.1l6.9 0.3 6.8 0.2 6.8 0.3 6.9 0.3 6.8 0.3 6.8 0.3 6.9 0.2 6.8-3.7 6.8-7.1 6.9-12.8 6.8-18.4 6.8-18.4 6.9-19.2 6.8-21.8 6.8-21.8 6.9-17.9 6.8-17.5 6.8-9.7 6.9-4.6 6.8-4.6 6.8-4.6 6.9-4.6 6.8-4.5 6.8-4.6 6.9-4.6 6.8-4.6 6.8-4.6 6.9-4.5 6.8-4.6 6.8-4.6 6.9-4.6 6.8-4.6 6.8-4.5 6.9-4.6 6.8-4.6 6.8-4.6 6.9-4.6 6.8-4.5 6.8-4.6 6.9-4.6 6.8-4.6 6.8-4.6 6.9-4.5 6.8-4.6 6.8-4.6 6.9-4.6 6.8-4.6 6.8-4.6 6.9-4.5 6.8-4.6 6.9-4.6 6.8-4.6 6.8-4.6 6.9-4.5 6.8-4.6 6.8-4.6 6.9-4.6 6.8-4.6M311.7 3217.7l6.9 2.1 6.8 2.2 6.8 1.8 6.9-0.4 6.8-5.4 6.8-8.8 6.9-12 6.8-12 6.8-12 6.9-12.8 6.8-18.4 6.8-18.4 6.9-19.2 6.8-21.8 6.8-21.8 6.9-17.9 6.8-17.5 6.8-9.7 6.9-4.6 6.8-4.6 6.8-4.6 6.9-4.6 6.8-4.5 6.8-4.6 6.9-4.6 6.8-4.6 6.8-4.6 6.9-4.5 6.8-4.6 6.8-4.6 6.9-4.6 6.8-4.6 6.8-4.5 6.9-4.6 6.8-4.6 6.8-4.6 6.9-4.6 6.8-4.5 6.8-4.6 6.9-4.6 6.8-4.6 6.8-4.6 6.9-4.5 6.8-4.6 6.8-4.6 6.9-4.6 6.8-4.6 6.8-4.6 6.9-4.5 6.8-4.6 6.9-4.6 6.8-4.6 6.8-4.6 6.9-4.5 6.8-4.6 6.8-4.6 6.9-4.6 6.8-4.6M311.7 3242l6.9 0.3 6.8-2.7 6.8-5.6 6.9-8 6.8-8 6.8-8.8 6.9-12 6.8-12 6.8-12 6.9-12.8 6.8-18.4 6.8-18.4 6.9-19.2 6.8-21.8 6.8-21.8 6.9-17.9 6.8-17.5 6.8-9.7 6.9-4.6 6.8-4.6 6.8-4.6 6.9-4.6 6.8-4.5 6.8-4.6 6.9-4.6 6.8-4.6 6.8-4.6 6.9-4.5 6.8-4.6 6.8-4.6 6.9-4.6 6.8-4.6 6.8-4.5 6.9-4.6 6.8-4.6 6.8-4.6 6.9-4.6 6.8-4.5 6.8-4.6 6.9-4.6 6.8-4.6 6.8-4.6 6.9-4.5 6.8-4.6 6.8-4.6 6.9-4.6 6.8-4.6 6.8-4.6 6.9-4.5 6.8-4.6 6.9-4.6 6.8-4.6 6.8-4.6 6.9-4.5 6.8-4.6 6.8-4.6 6.9-4.6 6.8-4.6M482.6 2758.7l6.8-4.3 6.8-4.4 6.9-4.4 6.8-4.3 6.8-3.9 6.9-3.9 6.8-3.9 6.8-3.9 6.9-3.9 6.8-3.3 6.8-1.1 6.9-1.2 6.8-1.1 6.8-1.1 6.9-1.2 6.8-1 6.8-0.9 6.9-0.9 6.8-0.9 6.8-3.2 6.9-7.8 6.8-7.8 6.8-7.8 6.9-7.9 6.8-7.5 6.9-7.5 6.8-7.4 6.8-7.5 6.9-7.4 6.8-7.5 6.8-7.5 6.9-7.4 6.8-7.5M482.6 2823.9l6.8-4.2 6.8-4.1 6.9-4.2 6.8-4.1 6.8-3.2 6.9-3.2 6.8-3.2 6.8-3.2 6.9-3.2 6.8-2.7 6.8-0.8 6.9-0.8 6.8-0.8 6.8-0.8 6.9-0.8 6.8 0 6.8 1.1 6.9 1 6.8 1.1 6.8-2.5 6.9-9.5 6.8-9.6 6.8-9.5 6.9-9.5 6.8-7.9 6.9-7.1 6.8-7.1 6.8-7.1 6.9-7.1 6.8-7.1 6.8-7.1 6.9-7.1 6.8-7.2M311.7 2958.1l6.9-13.2 6.8-13.2 6.8 5.2 6.9 11.1 6.8-36.9 6.8-32.2 6.9-13.2 6.8-13.2 6.8-5.6 6.9-4.6 6.8-4.6 6.8-6.8 6.9-10.2 6.8-10.2M509.9 2895.3l6.8-16.7 6.9-16.6 6.8-16.7 6.8-16.6 6.9-16.7 6.8-16.6 6.8-16.7 6.9-16.6 6.8-16.7 6.8-16.6 6.9-16.7 6.8-18.9 6.8-22.4 6.9-22.4 6.8-22.4M557.7 2882.7l6.9-18.4 6.8-18.4 6.8-18.4 6.9-18.3 6.8-18.4 6.8-18.4 6.9-18.4 6.8-18.3 6.8-18.4 6.9-18.4 6.8-18.3 6.8-18.2 6.9-18 6.8-17.9 6.9-18 6.8-17.9M612.4 2848.8l6.8-20.1 6.9-20.1 6.8-20.1 6.8-20.1 6.9-20.1 6.8-21.3 6.9-21.8 6.8-21.8 6.8-21.8 6.9-22.1 6.8-26 6.8-25.9" fill="none" stroke="#000" stroke-width="0.8" stroke-linejoin="round"/>
<path d="M311.7 2821.1L311.7 3250.1" stroke="#000" stroke-width="2.4" fill="none"/>
<path d="M708.1 2557.4L708.1 2832.4" stroke="#000" stroke-width="1.6" fill="none"/>
<polygon points="311.7,3082.1 400.1,3124.1 796.5,2855.4 708.1,2819.4" fill="#000"/>
<defs><linearGradient id="g17" gradientUnits="userSpaceOnUse" x1="400.1" y1="0" x2="796.5" y2="0"><stop offset="0.000" stop-color="#f9f80e"/><stop offset="0.042" stop-color="#f9f80e"/><stop offset="0.083" stop-color="#faef10"/><stop offset="0.125" stop-color="#fdd613"/><stop offset="0.167" stop-color="#fdc126"/><stop offset="0.208" stop-color="#e3c240"/><stop offset="0.250" stop-color="#93c862"/><stop offset="0.292" stop-color="#1ec381"/><stop offset="0.333" stop-color="#01c090"/><stop offset="0.375" stop-color="#0ac288"/><stop offset="0.417" stop-color="#1bc382"/><stop offset="0.458" stop-color="#27c47d"/><stop offset="0.500" stop-color="#3bc579"/><stop offset="0.542" stop-color="#45c576"/><stop offset="0.583" stop-color="#4ec674"/><stop offset="0.625" stop-color="#56c672"/><stop offset="0.667" stop-color="#5bc671"/><stop offset="0.708" stop-color="#61c770"/><stop offset="0.750" stop-color="#67c76e"/><stop offset="0.792" stop-color="#66c76e"/><stop offset="0.833" stop-color="#65c76f"/><stop offset="0.875" stop-color="#64c76f"/><stop offset="0.917" stop-color="#62c76f"/><stop offset="0.958" stop-color="#5dc671"/><stop offset="1.000" stop-color="#3dc578"/></linearGradient><linearGradient id="g18" gradientUnits="userSpaceOnUse" x1="400.1" y1="0" x2="796.5" y2="0"><stop offset="0.000" stop-color="#fdbe2a"/><stop offset="0.042" stop-color="#fdbf29"/><stop offset="0.083" stop-color="#fdbb2f"/><stop offset="0.125" stop-color="#eebe3a"/><stop offset="0.167" stop-color="#d0c549"/><stop offset="0.208" stop-color="#9bc85f"/><stop offset="0.250" stop-color="#39c579"/><stop offset="0.292" stop-color="#00c18d"/><stop offset="0.333" stop-color="#05bba3"/><stop offset="0.375" stop-color="#03bd99"/><stop offset="0.417" stop-color="#00c08e"/><stop offset="0.458" stop-color="#06c18a"/><stop offset="0.500" stop-color="#0ec287"/><stop offset="0.542" stop-color="#11c286"/><stop offset="0.583" stop-color="#15c384"/><stop offset="0.625" stop-color="#17c383"/><stop offset="0.667" stop-color="#19c383"/><stop offset="0.708" stop-color="#1bc382"/><stop offset="0.750" stop-color="#1dc381"/><stop offset="0.792" stop-color="#1dc381"/><stop offset="0.833" stop-color="#1dc381"/><stop offset="0.875" stop-color="#1cc381"/><stop offset="0.917" stop-color="#1bc382"/><stop offset="0.958" stop-color="#1ac382"/><stop offset="1.000" stop-color="#0ec287"/></linearGradient><linearGradient id="g19" gradientUnits="userSpaceOnUse" x1="400.1" y1="0" x2="796.5" y2="0"><stop offset="0.000" stop-color="#b6c856"/><stop offset="0.042" stop-color="#b7c856"/><stop offset="0.083" stop-color="#acc859"/><stop offset="0.125" stop-color="#90c863"/><stop offset="0.167" stop-color="#65c76f"/><stop offset="0.208" stop-color="#27c47d"/><stop offset="0.250" stop-color="#03c18b"/><stop offset="0.292" stop-color="#05baa6"/><stop offset="0.333" stop-color="#08b6b5"/><stop offset="0.375" stop-color="#07b7af"/><stop offset="0.417" stop-color="#05baa7"/><stop offset="0.458" stop-color="#04bba2"/><stop offset="0.500" stop-color="#03bc9d"/><stop offset="0.542" stop-color="#03bd9b"/><stop offset="0.583" stop-color="#03bd99"/><stop offset="0.625" stop-color="#02be98"/><stop offset="0.667" stop-color="#02be97"/><stop offset="0.708" stop-color="#02be95"/><stop offset="0.750" stop-color="#02bf94"/><stop offset="0.792" stop-color="#02bf94"/><stop offset="0.833" stop-color="#02bf94"/><stop offset="0.875" stop-color="#02bf95"/><stop offset="0.917" stop-color="#02be95"/><stop offset="0.958" stop-color="#02be96"/><stop offset="1.000" stop-color="#03bc9d"/></linearGradient><linearGradient id="g20" gradientUnits="userSpaceOnUse" x1="400.1" y1="0" x2="796.5" y2="0"><stop offset="0.000" stop-color="#52c673"/><stop offset="0.042" stop-color="#53c673"/><stop offset="0.083" stop-color="#48c675"/><stop offset="0.125" stop-color="#2bc47c"/><stop offset="0.167" stop-color="#18c383"/><stop offset="0.208" stop-color="#02c18b"/><stop offset="0.250" stop-color="#04bba0"/><stop offset="0.292" stop-color="#08b6b5"/><stop offset="0.333" stop-color="#0cb2be"/><stop offset="0.375" stop-color="#0bb4ba"/><stop offset="0.417" stop-color="#09b5b5"/><stop offset="0.458" stop-color="#08b7b2"/><stop offset="0.500" stop-color="#07b7af"/><stop offset="0.542" stop-color="#07b8ad"/><stop offset="0.583" stop-color="#06b8ac"/><stop offset="0.625" stop-color="#06b9ab"/><stop offset="0.667" stop-color="#06b9aa"/><stop offset="0.708" stop-color="#06b9a9"/><stop offset="0.750" stop-color="#06b9a8"/><stop offset="0.792" stop-color="#06b9a8"/><stop offset="0.833" stop-color="#06b9a8"/><stop offset="0.875" stop-color="#06b9a9"/><stop offset="0.917" stop-color="#06b9a9"/><stop offset="0.958" stop-color="#06b9aa"/><stop offset="1.000" stop-color="#07b8ae"/></linearGradient><linearGradient id="g21" gradientUnits="userSpaceOnUse" x1="400.1" y1="0" x2="796.5" y2="0"><stop offset="0.000" stop-color="#03bd9b"/><stop offset="0.042" stop-color="#03bd9b"/><stop offset="0.083" stop-color="#03bc9d"/><stop offset="0.125" stop-color="#05bba3"/><stop offset="0.167" stop-color="#06b9aa"/><stop offset="0.208" stop-color="#08b6b4"/><stop offset="0.250" stop-color="#0cb3bd"/><stop offset="0.292" stop-color="#0fb0c5"/><stop offset="0.333" stop-color="#11aec9"/><stop offset="0.375" stop-color="#11afc8"/><stop offset="0.417" stop-color="#10b0c5"/><stop offset="0.458" stop-color="#0fb0c4"/><stop offset="0.500" stop-color="#0eb1c2"/><stop offset="0.542" stop-color="#0eb1c2"/><stop offset="0.583" stop-color="#0eb1c1"/><stop offset="0.625" stop-color="#0eb1c1"/><stop offset="0.667" stop-color="#0db1c0"/><stop offset="0.708" stop-color="#0db1c0"/><stop offset="0.750" stop-color="#0db2c0"/><stop offset="0.792" stop-color="#0db2c0"/><stop offset="0.833" stop-color="#0db2c0"/><stop offset="0.875" stop-color="#0db2c0"/><stop offset="0.917" stop-color="#0db1c0"/><stop offset="0.958" stop-color="#0db1c0"/><stop offset="1.000" stop-color="#0eb1c2"/></linearGradient></defs>
<path d="M400.1 2868.1l6.8-5 6.9-5.1 6.8-2.3 6.8-1.2 6.9-1.1 6.8 4 6.9 5.5 6.8 5.5 6.8 6.6 6.9 9.2 6.8 9.2 6.8 10.6 6.9 12.7 6.8 12.6 6.8 12.2 6.9 11.6 6.8 11.6 6.8 9.8 6.9 2.2 6.8-8.1 6.8-8.2 6.9-8.9 6.8-8.9 6.8-8.9 6.9-7.9 6.8-7.4 6.8-7.3 6.9-7.3 6.8-6.9 6.8-5.7 6.9-5.8 6.8-5.7 6.8-5.7 6.9-5.8 6.8-5.6 6.8-5.3 6.9-5.2 6.8-5.3 6.8-5.2 6.9-5.3 6.8-5.2 6.8-5.3 6.9-5.3 6.8-4.9 6.8-4.5 6.9-4.5 6.8-4.4 6.8-4.5 6.9-4.5 6.8-4.4 6.8-4.5 6.9-4.5 6.8-4.1 6.8-4 6.9-4 6.8-3.5 6.8-2.5 6.9 1.7 0 0 -6.9-1.7 -6.8 2.5 -6.8 3.5 -6.9 4 -6.8 4 -6.8 4.1 -6.9 4.5 -6.8 4.5 -6.8 4.4 -6.9 4.5 -6.8 4.5 -6.8 4.4 -6.9 4.5 -6.8 4.5 -6.8 4.9 -6.9 5.3 -6.8 5.3 -6.8 5.2 -6.9 5.3 -6.8 5.2 -6.8 5.3 -6.9 5.2 -6.8 5.3 -6.8 5.6 -6.9 5.8 -6.8 5.7 -6.8 5.7 -6.9 5.8 -6.8 5.7 -6.8 6.9 -6.9 7.3 -6.8 7.3 -6.8 7.4 -6.9 7.9 -6.8 8.9 -6.8 8.9 -6.9 8.9 -6.8 8.2 -6.8 8.1 -6.9-1.6 -6.8-8.6 -6.8-10.1 -6.9-10 -6.8-10.9 -6.8-11.8 -6.9-11.8 -6.8-9.8 -6.8-8.6 -6.9-8.5 -6.8-6 -6.8-5 -6.9-5 -6.8-3.6 -6.9 1.3 -6.8 1.3 -6.8 2.5 -6.9 5 -6.8 5z" fill="url(#g17)"/>
<path d="M400.1 2880.5l6.8-5 6.9-5 6.8-2.5 6.8-1.3 6.9-1.3 6.8 3.6 6.9 5 6.8 5 6.8 6 6.9 8.5 6.8 8.6 6.8 9.8 6.9 11.8 6.8 11.8 6.8 10.9 6.9 10 6.8 10.1 6.8 8.6 6.9 1.6 6.8-8.1 6.8-8.2 6.9-8.9 6.8-8.9 6.8-8.9 6.9-7.9 6.8-7.4 6.8-7.3 6.9-7.3 6.8-6.9 6.8-5.7 6.9-5.8 6.8-5.7 6.8-5.7 6.9-5.8 6.8-5.6 6.8-5.3 6.9-5.2 6.8-5.3 6.8-5.2 6.9-5.3 6.8-5.2 6.8-5.3 6.9-5.3 6.8-4.9 6.8-4.5 6.9-4.5 6.8-4.4 6.8-4.5 6.9-4.5 6.8-4.4 6.8-4.5 6.9-4.5 6.8-4.1 6.8-4 6.9-4 6.8-3.5 6.8-2.5 6.9 1.7 0 22 -6.9-0.1 -6.8 3 -6.8 3.8 -6.9 4.1 -6.8 4.2 -6.8 4.2 -6.9 4.5 -6.8 4.5 -6.8 4.5 -6.9 4.5 -6.8 4.5 -6.8 4.5 -6.9 4.4 -6.8 4.5 -6.8 4.9 -6.9 5.1 -6.8 5.1 -6.8 5.1 -6.9 5.1 -6.8 5.1 -6.8 5.1 -6.9 5 -6.8 5.1 -6.8 5.4 -6.9 5.5 -6.8 5.4 -6.8 5.4 -6.9 5.5 -6.8 5.4 -6.8 6.3 -6.9 6.7 -6.8 6.6 -6.8 6.7 -6.9 7 -6.8 7.9 -6.8 7.8 -6.9 7.8 -6.8 10 -6.8 10.1 -6.9 3.8 -6.8 0.4 -6.8 0.6 -6.9-1.7 -6.8-2.6 -6.8-3.4 -6.9-3.3 -6.8-2.4 -6.8-1.8 -6.9-1.8 -6.8-0.5 -6.8-0.1 -6.9 0 -6.8 0.6 -6.9 3 -6.8 3 -6.8 3.6 -6.9 4.7 -6.8 4.8z" fill="url(#g18)"/>
<path d="M400.1 3002.5l6.8-4.8 6.9-4.7 6.8-3.6 6.8-3 6.9-3 6.8-0.6 6.9 0 6.8 0.1 6.8 0.5 6.9 1.8 6.8 1.8 6.8 2.4 6.9 3.3 6.8 3.4 6.8 2.6 6.9 1.7 6.8-0.6 6.8-0.4 6.9-3.8 6.8-10.1 6.8-10 6.9-7.8 6.8-7.8 6.8-7.9 6.9-7 6.8-6.7 6.8-6.6 6.9-6.7 6.8-6.3 6.8-5.4 6.9-5.5 6.8-5.4 6.8-5.4 6.9-5.5 6.8-5.4 6.8-5.1 6.9-5 6.8-5.1 6.8-5.1 6.9-5.1 6.8-5.1 6.8-5.1 6.9-5.1 6.8-4.9 6.8-4.5 6.9-4.4 6.8-4.5 6.8-4.5 6.9-4.5 6.8-4.5 6.8-4.5 6.9-4.5 6.8-4.2 6.8-4.2 6.9-4.1 6.8-3.8 6.8-3 6.9 0.1 0 22 -6.9 1.4 -6.8 3.6 -6.8 4 -6.9 4.3 -6.8 4.3 -6.8 4.4 -6.9 4.5 -6.8 4.5 -6.8 4.5 -6.9 4.5 -6.8 4.6 -6.8 4.5 -6.9 4.5 -6.8 4.5 -6.8 4.8 -6.9 4.9 -6.8 5 -6.8 4.9 -6.9 4.9 -6.8 4.9 -6.8 4.9 -6.9 5 -6.8 4.9 -6.8 5.1 -6.9 5.1 -6.8 5.2 -6.8 5.1 -6.9 5.2 -6.8 5.2 -6.8 5.7 -6.9 5.9 -6.8 6 -6.8 6 -6.9 6.2 -6.8 6.7 -6.8 6.8 -6.9 6.7 -6.8 8.6 -6.8 8.5 -6.9 4.7 -6.8 2.6 -6.8 3 -6.9 1.1 -6.8 0.5 -6.8-0.1 -6.9-0.1 -6.8 0.5 -6.8 0.8 -6.9 0.9 -6.8 1.6 -6.8 1.8 -6.9 1.9 -6.8 2.3 -6.9 3.6 -6.8 3.7 -6.8 3.9 -6.9 4.7 -6.8 4.7z" fill="url(#g19)"/>
<path d="M400.1 3049.8l6.8-4.7 6.9-4.7 6.8-3.9 6.8-3.7 6.9-3.6 6.8-2.3 6.9-1.9 6.8-1.8 6.8-1.6 6.9-0.9 6.8-0.8 6.8-0.5 6.9 0.1 6.8 0.1 6.8-0.5 6.9-1.1 6.8-3 6.8-2.6 6.9-4.7 6.8-8.5 6.8-8.6 6.9-6.7 6.8-6.8 6.8-6.7 6.9-6.2 6.8-6 6.8-6 6.9-5.9 6.8-5.7 6.8-5.2 6.9-5.2 6.8-5.1 6.8-5.2 6.9-5.1 6.8-5.1 6.8-4.9 6.9-5 6.8-4.9 6.8-4.9 6.9-4.9 6.8-4.9 6.8-5 6.9-4.9 6.8-4.8 6.8-4.5 6.9-4.5 6.8-4.5 6.8-4.6 6.9-4.5 6.8-4.5 6.8-4.5 6.9-4.5 6.8-4.4 6.8-4.3 6.9-4.3 6.8-4 6.8-3.6 6.9-1.4 0 22 -6.9 3 -6.8 4.1 -6.8 4.3 -6.9 4.4 -6.8 4.5 -6.8 4.4 -6.9 4.6 -6.8 4.5 -6.8 4.6 -6.9 4.5 -6.8 4.6 -6.8 4.5 -6.9 4.6 -6.8 4.5 -6.8 4.7 -6.9 4.8 -6.8 4.7 -6.8 4.8 -6.9 4.7 -6.8 4.8 -6.8 4.7 -6.9 4.8 -6.8 4.7 -6.8 4.8 -6.9 4.9 -6.8 4.9 -6.8 4.9 -6.9 4.8 -6.8 4.9 -6.8 5.1 -6.9 5.3 -6.8 5.3 -6.8 5.3 -6.9 5.4 -6.8 5.6 -6.8 5.7 -6.9 5.6 -6.8 5.3 -6.8 5.3 -6.9 2.6 -6.8 0.5 -6.8 0 -6.9 0.1 -6.8 0.1 -6.8-0.1 -6.9-0.1 -6.8 0.5 -6.8 0.8 -6.9 0.9 -6.8 1.6 -6.8 1.8 -6.9 1.9 -6.8 2.3 -6.9 3.6 -6.8 3.7 -6.8 3.9 -6.9 4.7 -6.8 4.7z" fill="url(#g20)"/>
<path d="M400.1 3049.8l6.8-4.7 6.9-4.7 6.8-3.9 6.8-3.7 6.9-3.6 6.8-2.3 6.9-1.9 6.8-1.8 6.8-1.6 6.9-0.9 6.8-0.8 6.8-0.5 6.9 0.1 6.8 0.1 6.8-0.1 6.9-0.1 6.8 0 6.8-0.5 6.9-2.6 6.8-5.3 6.8-5.3 6.9-5.6 6.8-5.7 6.8-5.6 6.9-5.4 6.8-5.3 6.8-5.3 6.9-5.3 6.8-5.1 6.8-4.9 6.9-4.8 6.8-4.9 6.8-4.9 6.9-4.9 6.8-4.8 6.8-4.7 6.9-4.8 6.8-4.7 6.8-4.8 6.9-4.7 6.8-4.8 6.8-4.7 6.9-4.8 6.8-4.7 6.8-4.5 6.9-4.6 6.8-4.5 6.8-4.6 6.9-4.5 6.8-4.6 6.8-4.5 6.9-4.6 6.8-4.4 6.8-4.5 6.9-4.4 6.8-4.3 6.8-4.1 6.9-3 0 0 -6.9 4.6 -6.8 4.5 -6.8 4.6 -6.9 4.6 -6.8 4.6 -6.8 4.6 -6.9 4.5 -6.8 4.6 -6.8 4.6 -6.9 4.6 -6.8 4.6 -6.8 4.6 -6.9 4.5 -6.8 4.6 -6.8 4.6 -6.9 4.6 -6.8 4.6 -6.8 4.5 -6.9 4.6 -6.8 4.6 -6.8 4.6 -6.9 4.6 -6.8 4.5 -6.8 4.6 -6.9 4.6 -6.8 4.6 -6.8 4.6 -6.9 4.5 -6.8 4.8 -6.8 5.1 -6.9 5.3 -6.8 5.3 -6.8 5.3 -6.9 5.4 -6.8 5.6 -6.8 5.7 -6.9 5.6 -6.8 5.3 -6.8 5.3 -6.9 2.6 -6.8 0.5 -6.8 2.4 -6.9 4.6 -6.8 4.5 -6.8 4.6 -6.9 4.6 -6.8 4.6 -6.8 4.6 -6.9 4.5 -6.8 4.6 -6.8 4.6 -6.9 4.6 -6.8 4.6 -6.9 4.5 -6.8 4.6 -6.8 4.6 -6.9 4.6 -6.8 4.6z" fill="url(#g21)"/>
<path d="M400.1 3095.1l6.8-4.6 6.9-4.6 6.8-4.6 6.8-4.6 6.9-4.5 6.8-4.6 6.9-4.6 6.8-4.6 6.8-4.6 6.9-4.5 6.8-4.6 6.8-4.6 6.9-4.6 6.8-4.6 6.8-4.5 6.9-4.6 6.8-2.4 6.8-0.5 6.9-2.6 6.8-5.3 6.8-5.3 6.9-5.6 6.8-5.7 6.8-5.6 6.9-5.4 6.8-5.3 6.8-5.3 6.9-5.3 6.8-5.1 6.8-4.8 6.9-4.5 6.8-4.6 6.8-4.6 6.9-4.6 6.8-4.6 6.8-4.5 6.9-4.6 6.8-4.6 6.8-4.6 6.9-4.6 6.8-4.5 6.8-4.6 6.9-4.6 6.8-4.6 6.8-4.6 6.9-4.5 6.8-4.6 6.8-4.6 6.9-4.6 6.8-4.6 6.8-4.6 6.9-4.5 6.8-4.6 6.8-4.6 6.9-4.6 6.8-4.6 6.8-4.5 6.9-4.6 0 15 -6.9 4.5 -6.8 4.5 -6.8 4.6 -6.9 4.5 -6.8 4.5 -6.8 4.6 -6.9 4.5 -6.8 4.5 -6.8 4.5 -6.9 4.6 -6.8 4.5 -6.8 4.5 -6.9 4.6 -6.8 4.5 -6.8 4.5 -6.9 4.5 -6.8 4.6 -6.8 4.5 -6.9 4.5 -6.8 4.6 -6.8 4.5 -6.9 4.5 -6.8 4.5 -6.8 4.6 -6.9 4.5 -6.8 4.5 -6.8 4.6 -6.9 4.5 -6.8 4.5 -6.8 4.6 -6.9 4.5 -6.8 4.5 -6.8 4.5 -6.9 4.6 -6.8 4.5 -6.8 4.5 -6.9 4.6 -6.8 4.5 -6.8 4.5 -6.9 4.5 -6.8 4.6 -6.8 4.5 -6.9 4.5 -6.8 4.6 -6.8 4.5 -6.9 4.5 -6.8 4.5 -6.8 4.6 -6.9 4.5 -6.8 4.5 -6.8 4.6 -6.9 4.5 -6.8 4.5 -6.9 4.5 -6.8 4.6 -6.8 4.5 -6.9 4.5 -6.8 4.6z" fill="#0c4a66"/>
<path d="M400.1 3107.1l6.8-4.6 6.9-4.5 6.8-4.5 6.8-4.6 6.9-4.5 6.8-4.5 6.9-4.5 6.8-4.6 6.8-4.5 6.9-4.5 6.8-4.6 6.8-4.5 6.9-4.5 6.8-4.5 6.8-4.6 6.9-4.5 6.8-4.5 6.8-4.6 6.9-4.5 6.8-4.5 6.8-4.5 6.9-4.6 6.8-4.5 6.8-4.5 6.9-4.6 6.8-4.5 6.8-4.5 6.9-4.5 6.8-4.6 6.8-4.5 6.9-4.5 6.8-4.6 6.8-4.5 6.9-4.5 6.8-4.6 6.8-4.5 6.9-4.5 6.8-4.5 6.8-4.6 6.9-4.5 6.8-4.5 6.8-4.6 6.9-4.5 6.8-4.5 6.8-4.5 6.9-4.6 6.8-4.5 6.8-4.5 6.9-4.6 6.8-4.5 6.8-4.5 6.9-4.5 6.8-4.6 6.8-4.5 6.9-4.5 6.8-4.6 6.8-4.5 6.9-4.5 0 12.6 -6.9 4.6 -6.8 4.6 -6.8 4.6 -6.9 4.7 -6.8 4.6 -6.8 4.6 -6.9 4.6 -6.8 4.7 -6.8 4.6 -6.9 4.6 -6.8 4.6 -6.8 4.6 -6.9 4.7 -6.8 4.6 -6.8 4.6 -6.9 4.6 -6.8 4.7 -6.8 4.6 -6.9 4.6 -6.8 4.6 -6.8 4.6 -6.9 4.7 -6.8 4.6 -6.8 4.6 -6.9 4.6 -6.8 4.7 -6.8 4.6 -6.9 4.6 -6.8 4.6 -6.8 4.6 -6.9 4.7 -6.8 4.6 -6.8 4.6 -6.9 4.6 -6.8 4.7 -6.8 4.6 -6.9 4.6 -6.8 4.6 -6.8 4.6 -6.9 4.7 -6.8 4.6 -6.8 4.6 -6.9 4.6 -6.8 4.7 -6.8 4.6 -6.9 4.6 -6.8 4.6 -6.8 4.6 -6.9 4.7 -6.8 4.6 -6.8 4.6 -6.9 4.6 -6.8 4.7 -6.9 4.6 -6.8 4.6 -6.8 4.6 -6.9 4.6 -6.8 4.7z" fill="#000"/>
<path d="M400.1 3125.1l6.8-4.7 6.9-4.6 6.8-4.6 6.8-4.6 6.9-4.6 6.8-4.7 6.9-4.6 6.8-4.6 6.8-4.6 6.9-4.7 6.8-4.6 6.8-4.6 6.9-4.6 6.8-4.6 6.8-4.7 6.9-4.6 6.8-4.6 6.8-4.6 6.9-4.7 6.8-4.6 6.8-4.6 6.9-4.6 6.8-4.6 6.8-4.7 6.9-4.6 6.8-4.6 6.8-4.6 6.9-4.7 6.8-4.6 6.8-4.6 6.9-4.6 6.8-4.6 6.8-4.7 6.9-4.6 6.8-4.6 6.8-4.6 6.9-4.7 6.8-4.6 6.8-4.6 6.9-4.6 6.8-4.6 6.8-4.7 6.9-4.6 6.8-4.6 6.8-4.6 6.9-4.7 6.8-4.6 6.8-4.6 6.9-4.6 6.8-4.6 6.8-4.7 6.9-4.6 6.8-4.6 6.8-4.6 6.9-4.7 6.8-4.6 6.8-4.6 6.9-4.6 0 6.4 -6.9 4.6 -6.8 4.7 -6.8 4.6 -6.9 4.7 -6.8 4.7 -6.8 4.6 -6.9 4.7 -6.8 4.6 -6.8 4.7 -6.9 4.6 -6.8 4.7 -6.8 4.6 -6.9 4.7 -6.8 4.6 -6.8 4.7 -6.9 4.7 -6.8 4.6 -6.8 4.7 -6.9 4.6 -6.8 4.7 -6.8 4.6 -6.9 4.7 -6.8 4.6 -6.8 4.7 -6.9 4.6 -6.8 4.7 -6.8 4.7 -6.9 4.6 -6.8 4.7 -6.8 4.6 -6.9 4.7 -6.8 4.6 -6.8 4.7 -6.9 4.6 -6.8 4.7 -6.8 4.6 -6.9 4.7 -6.8 4.7 -6.8 4.6 -6.9 4.7 -6.8 8.6 -6.8 14.7 -6.9 14.6 -6.8 14.6 -6.8 7.7 -6.9 2.9 -6.8 3 -6.8 3 -6.9 2.9 -6.8 3 -6.8 3 -6.9 2.9 -6.8 3 -6.9 3 -6.8 2.9 -6.8 3 -6.9 2.9 -6.8 3z" fill="#2298e5"/>
<path d="M400.1 3148.3l6.8-3 6.9-2.9 6.8-3 6.8-2.9 6.9-3 6.8-3 6.9-2.9 6.8-3 6.8-3 6.9-2.9 6.8-3 6.8-3 6.9-2.9 6.8-7.7 6.8-14.6 6.9-14.6 6.8-14.7 6.8-8.6 6.9-4.7 6.8-4.6 6.8-4.7 6.9-4.7 6.8-4.6 6.8-4.7 6.9-4.6 6.8-4.7 6.8-4.6 6.9-4.7 6.8-4.6 6.8-4.7 6.9-4.6 6.8-4.7 6.8-4.7 6.9-4.6 6.8-4.7 6.8-4.6 6.9-4.7 6.8-4.6 6.8-4.7 6.9-4.6 6.8-4.7 6.8-4.6 6.9-4.7 6.8-4.7 6.8-4.6 6.9-4.7 6.8-4.6 6.8-4.7 6.9-4.6 6.8-4.7 6.8-4.6 6.9-4.7 6.8-4.6 6.8-4.7 6.9-4.7 6.8-4.6 6.8-4.7 6.9-4.6 0 0 -6.9 4.6 -6.8 4.7 -6.8 4.6 -6.9 4.7 -6.8 4.7 -6.8 4.6 -6.9 4.7 -6.8 4.6 -6.8 4.7 -6.9 4.6 -6.8 4.7 -6.8 4.6 -6.9 4.7 -6.8 4.6 -6.8 4.7 -6.9 4.7 -6.8 4.6 -6.8 4.7 -6.9 4.6 -6.8 4.7 -6.8 4.6 -6.9 4.7 -6.8 4.6 -6.8 4.7 -6.9 4.6 -6.8 4.7 -6.8 4.7 -6.9 4.6 -6.8 4.7 -6.8 4.6 -6.9 4.7 -6.8 4.6 -6.8 4.7 -6.9 4.6 -6.8 4.7 -6.8 4.6 -6.9 4.7 -6.8 4.7 -6.8 4.6 -6.9 4.7 -6.8 8.6 -6.8 14.7 -6.9 14.6 -6.8 14.6 -6.8 13.3 -6.9 13.2 -6.8 13.2 -6.8 13.2 -6.9 12.5 -6.8 6.9 -6.8 4.2 -6.9 1.1 -6.8 1 -6.9 1 -6.8 1 -6.8 1.1 -6.9 1 -6.8 1z" fill="#327ef4"/>
<path d="M400.1 3185.8l6.8-1 6.9-1 6.8-1.1 6.8-1 6.9-1 6.8-1 6.9-1.1 6.8-4.2 6.8-6.9 6.9-12.5 6.8-13.2 6.8-13.2 6.9-13.2 6.8-13.3 6.8-14.6 6.9-14.6 6.8-14.7 6.8-8.6 6.9-4.7 6.8-4.6 6.8-4.7 6.9-4.7 6.8-4.6 6.8-4.7 6.9-4.6 6.8-4.7 6.8-4.6 6.9-4.7 6.8-4.6 6.8-4.7 6.9-4.6 6.8-4.7 6.8-4.7 6.9-4.6 6.8-4.7 6.8-4.6 6.9-4.7 6.8-4.6 6.8-4.7 6.9-4.6 6.8-4.7 6.8-4.6 6.9-4.7 6.8-4.7 6.8-4.6 6.9-4.7 6.8-4.6 6.8-4.7 6.9-4.6 6.8-4.7 6.8-4.6 6.9-4.7 6.8-4.6 6.8-4.7 6.9-4.7 6.8-4.6 6.8-4.7 6.9-4.6 0 0 -6.9 4.6 -6.8 4.7 -6.8 4.6 -6.9 4.7 -6.8 4.7 -6.8 4.6 -6.9 4.7 -6.8 4.6 -6.8 4.7 -6.9 4.6 -6.8 4.7 -6.8 4.6 -6.9 4.7 -6.8 4.6 -6.8 4.7 -6.9 4.7 -6.8 4.6 -6.8 4.7 -6.9 4.6 -6.8 4.7 -6.8 4.6 -6.9 4.7 -6.8 4.6 -6.8 4.7 -6.9 4.6 -6.8 4.7 -6.8 4.7 -6.9 4.6 -6.8 4.7 -6.8 4.6 -6.9 4.7 -6.8 4.6 -6.8 4.7 -6.9 4.6 -6.8 4.7 -6.8 4.6 -6.9 4.7 -6.8 4.7 -6.8 4.6 -6.9 4.7 -6.8 8.6 -6.8 14.7 -6.9 14.6 -6.8 14.6 -6.8 13.3 -6.9 13.2 -6.8 13.2 -6.8 13.2 -6.9 12.5 -6.8 10.6 -6.8 10.7 -6.9 10.6 -6.8 10.6 -6.9 7 -6.8 4.2 -6.8-0.2 -6.9-0.7 -6.8-0.7z" fill="#4061f4"/>
<path d="M400.1 3219.6l6.8 0.7 6.9 0.7 6.8 0.2 6.8-4.2 6.9-7 6.8-10.6 6.9-10.6 6.8-10.7 6.8-10.6 6.9-12.5 6.8-13.2 6.8-13.2 6.9-13.2 6.8-13.3 6.8-14.6 6.9-14.6 6.8-14.7 6.8-8.6 6.9-4.7 6.8-4.6 6.8-4.7 6.9-4.7 6.8-4.6 6.8-4.7 6.9-4.6 6.8-4.7 6.8-4.6 6.9-4.7 6.8-4.6 6.8-4.7 6.9-4.6 6.8-4.7 6.8-4.7 6.9-4.6 6.8-4.7 6.8-4.6 6.9-4.7 6.8-4.6 6.8-4.7 6.9-4.6 6.8-4.7 6.8-4.6 6.9-4.7 6.8-4.7 6.8-4.6 6.9-4.7 6.8-4.6 6.8-4.7 6.9-4.6 6.8-4.7 6.8-4.6 6.9-4.7 6.8-4.6 6.8-4.7 6.9-4.7 6.8-4.6 6.8-4.7 6.9-4.6 0 0 -6.9 4.6 -6.8 4.7 -6.8 4.6 -6.9 4.7 -6.8 4.7 -6.8 4.6 -6.9 4.7 -6.8 4.6 -6.8 4.7 -6.9 4.6 -6.8 4.7 -6.8 4.6 -6.9 4.7 -6.8 4.6 -6.8 4.7 -6.9 4.7 -6.8 4.6 -6.8 4.7 -6.9 4.6 -6.8 4.7 -6.8 4.6 -6.9 4.7 -6.8 4.6 -6.8 4.7 -6.9 4.6 -6.8 4.7 -6.8 4.7 -6.9 4.6 -6.8 4.7 -6.8 4.6 -6.9 4.7 -6.8 4.6 -6.8 4.7 -6.9 4.6 -6.8 4.7 -6.8 4.6 -6.9 4.7 -6.8 4.7 -6.8 4.6 -6.9 4.7 -6.8 8.6 -6.8 14.7 -6.9 14.6 -6.8 14.6 -6.8 13.3 -6.9 13.2 -6.8 13.2 -6.8 13.2 -6.9 12.5 -6.8 10.6 -6.8 10.7 -6.9 10.6 -6.8 10.6 -6.9 7.7 -6.8 6.1 -6.8 6.1 -6.9 6.1 -6.8 6.1z" fill="#4649e1"/>
<path d="M536.8 2979 543.6 2974.4M536.8 2971 557.3 2957.2M550.5 2953.8 584.6 2930.9M564.1 2936.6 639.3 2886.3M789.6 2785.5 796.5 2780.9M577.8 2919.5 796.5 2772.9M598.3 2897.7 796.5 2764.9M639.3 2862.3 789.6 2761.5" fill="none" stroke="#000" stroke-width="1.5" stroke-opacity="0.85"/>
<path d="M536.8 2991.2 557.3 2977.5M543.6 2978.7 591.5 2946.6M557.3 2961.5 796.5 2801.2M577.8 2939.7 796.5 2793.2M605.1 2913.4 796.5 2785.2M687.1 2850.5 762.3 2800.1" fill="none" stroke="#000" stroke-width="1.5" stroke-opacity="0.85"/>
<path d="M536.8 3007.7 557.3 2994M536.8 2999.7 796.5 2825.7M557.3 2978 796.5 2817.7M591.5 2947.1 796.5 2809.7M687.1 2875 762.3 2824.6" fill="none" stroke="#000" stroke-width="1.5" stroke-opacity="0.85"/>
<path d="M400.1 3092.8 509.5 3019.6M400.1 3088.6 502.6 3019.9M400.1 3084.4 495.8 3020.3M400.1 3080.2 489 3020.7M400.1 3076 482.1 3021.1M400.1 3071.8 475.3 3021.5M400.1 3067.6 468.5 3021.8M400.1 3063.4 461.6 3022.2M400.1 3059.2 448 3027.2M400.1 3055 441.1 3027.6M400.1 3050.8 427.4 3032.5" fill="none" stroke="#000" stroke-width="1.5" stroke-opacity="0.85"/>
<path d="M564.1 2998.8 796.5 2843.1M400.1 3106.2 796.5 2840.5M400.1 3103.6 796.5 2837.9M400.1 3101 523.1 3018.5M550.5 3000.2 796.5 2835.3M400.1 3098.4 516.3 3020.5M564.1 2988.4 796.5 2832.7M400.1 3095.8 509.5 3022.5M591.5 2967.5 796.5 2830.1" fill="none" stroke="#000" stroke-width="1.5" stroke-opacity="0.85"/>
<path d="M400.1 2868.1V3242.1M406.9 2863.1V3236M413.8 2858V3229.9M420.6 2855.7V3223.8M427.4 2854.5V3217.7M434.3 2853.4V3210M441.1 2857.4V3199.4M448 2862.9V3188.8M454.8 2868.4V3178.1M461.6 2875V3167.5M468.5 2884.2V3155M475.3 2893.4V3141.8M482.1 2904V3128.6M489 2916.7V3115.4M495.8 2929.3V3102.1M502.6 2941.5V3087.5M509.5 2953.1V3072.9M516.3 2964.7V3058.2M523.1 2974.5V3049.6M530 2976.7V3044.9M536.8 2968.6V3040.3M543.6 2960.4V3035.6M550.5 2951.5V3030.9M557.3 2942.6V3026.3M564.1 2933.7V3021.6M571 2925.8V3017M577.8 2918.4V3012.3M584.6 2911.1V3007.7M591.5 2903.8V3003M598.3 2896.9V2998.4M605.1 2891.2V2993.7M612 2885.4V2989.1M618.8 2879.7V2984.4M625.6 2874V2979.7M632.5 2868.2V2975.1M639.3 2862.6V2970.4M646.1 2857.3V2965.8M653 2852.1V2961.1M659.8 2846.8V2956.5M666.6 2841.6V2951.8M673.5 2836.3V2947.2M680.3 2831.1V2942.5M687.1 2825.8V2937.9M694 2820.5V2933.2M700.8 2815.6V2928.5M707.6 2811.1V2923.9M714.5 2806.6V2919.2M721.3 2802.2V2914.6M728.1 2797.7V2909.9M735 2793.2V2905.3M741.8 2788.8V2900.6M748.6 2784.3V2896M755.5 2779.8V2891.3M762.3 2775.7V2886.7M769.1 2771.7V2882M776 2767.7V2877.3M782.8 2764.2V2872.7M789.6 2761.7V2868M796.5 2763.4V2863.4" fill="none" stroke="#000" stroke-width="1.25" stroke-opacity="0.8"/>
<path d="M400.1 2868.1l6.8-5 6.9-5.1 6.8-2.3 6.8-1.2 6.9-1.1 6.8 4 6.9 5.5 6.8 5.5 6.8 6.6 6.9 9.2 6.8 9.2 6.8 10.6 6.9 12.7 6.8 12.6 6.8 12.2 6.9 11.6 6.8 11.6 6.8 9.8 6.9 2.2 6.8-8.1 6.8-8.2 6.9-8.9 6.8-8.9 6.8-8.9 6.9-7.9 6.8-7.4 6.8-7.3 6.9-7.3 6.8-6.9 6.8-5.7 6.9-5.8 6.8-5.7 6.8-5.7 6.9-5.8 6.8-5.6 6.8-5.3 6.9-5.2 6.8-5.3 6.8-5.2 6.9-5.3 6.8-5.2 6.8-5.3 6.9-5.3 6.8-4.9 6.8-4.5 6.9-4.5 6.8-4.4 6.8-4.5 6.9-4.5 6.8-4.4 6.8-4.5 6.9-4.5 6.8-4.1 6.8-4 6.9-4 6.8-3.5 6.8-2.5 6.9 1.7M400.1 2880.5l6.8-5 6.9-5 6.8-2.5 6.8-1.3 6.9-1.3 6.8 3.6 6.9 5 6.8 5 6.8 6 6.9 8.5 6.8 8.6 6.8 9.8 6.9 11.8 6.8 11.8 6.8 10.9 6.9 10 6.8 10.1 6.8 8.6 6.9 1.6 6.8-8.1 6.8-8.2 6.9-8.9 6.8-8.9 6.8-8.9 6.9-7.9 6.8-7.4 6.8-7.3 6.9-7.3 6.8-6.9 6.8-5.7 6.9-5.8 6.8-5.7 6.8-5.7 6.9-5.8 6.8-5.6 6.8-5.3 6.9-5.2 6.8-5.3 6.8-5.2 6.9-5.3 6.8-5.2 6.8-5.3 6.9-5.3 6.8-4.9 6.8-4.5 6.9-4.5 6.8-4.4 6.8-4.5 6.9-4.5 6.8-4.4 6.8-4.5 6.9-4.5 6.8-4.1 6.8-4 6.9-4 6.8-3.5 6.8-2.5 6.9 1.7M400.1 3002.5l6.8-4.8 6.9-4.7 6.8-3.6 6.8-3 6.9-3 6.8-0.6 6.9 0 6.8 0.1 6.8 0.5 6.9 1.8 6.8 1.8 6.8 2.4 6.9 3.3 6.8 3.4 6.8 2.6 6.9 1.7 6.8-0.6 6.8-0.4 6.9-3.8 6.8-10.1 6.8-10 6.9-7.8 6.8-7.8 6.8-7.9 6.9-7 6.8-6.7 6.8-6.6 6.9-6.7 6.8-6.3 6.8-5.4 6.9-5.5 6.8-5.4 6.8-5.4 6.9-5.5 6.8-5.4 6.8-5.1 6.9-5 6.8-5.1 6.8-5.1 6.9-5.1 6.8-5.1 6.8-5.1 6.9-5.1 6.8-4.9 6.8-4.5 6.9-4.4 6.8-4.5 6.8-4.5 6.9-4.5 6.8-4.5 6.8-4.5 6.9-4.5 6.8-4.2 6.8-4.2 6.9-4.1 6.8-3.8 6.8-3 6.9 0.1M400.1 3049.8l6.8-4.7 6.9-4.7 6.8-3.9 6.8-3.7 6.9-3.6 6.8-2.3 6.9-1.9 6.8-1.8 6.8-1.6 6.9-0.9 6.8-0.8 6.8-0.5 6.9 0.1 6.8 0.1 6.8-0.5 6.9-1.1 6.8-3 6.8-2.6 6.9-4.7 6.8-8.5 6.8-8.6 6.9-6.7 6.8-6.8 6.8-6.7 6.9-6.2 6.8-6 6.8-6 6.9-5.9 6.8-5.7 6.8-5.2 6.9-5.2 6.8-5.1 6.8-5.2 6.9-5.1 6.8-5.1 6.8-4.9 6.9-5 6.8-4.9 6.8-4.9 6.9-4.9 6.8-4.9 6.8-5 6.9-4.9 6.8-4.8 6.8-4.5 6.9-4.5 6.8-4.5 6.8-4.6 6.9-4.5 6.8-4.5 6.8-4.5 6.9-4.5 6.8-4.4 6.8-4.3 6.9-4.3 6.8-4 6.8-3.6 6.9-1.4M400.1 3049.8l6.8-4.7 6.9-4.7 6.8-3.9 6.8-3.7 6.9-3.6 6.8-2.3 6.9-1.9 6.8-1.8 6.8-1.6 6.9-0.9 6.8-0.8 6.8-0.5 6.9 0.1 6.8 0.1 6.8-0.1 6.9-0.1 6.8 0 6.8-0.5 6.9-2.6 6.8-5.3 6.8-5.3 6.9-5.6 6.8-5.7 6.8-5.6 6.9-5.4 6.8-5.3 6.8-5.3 6.9-5.3 6.8-5.1 6.8-4.9 6.9-4.8 6.8-4.9 6.8-4.9 6.9-4.9 6.8-4.8 6.8-4.7 6.9-4.8 6.8-4.7 6.8-4.8 6.9-4.7 6.8-4.8 6.8-4.7 6.9-4.8 6.8-4.7 6.8-4.5 6.9-4.6 6.8-4.5 6.8-4.6 6.9-4.5 6.8-4.6 6.8-4.5 6.9-4.6 6.8-4.4 6.8-4.5 6.9-4.4 6.8-4.3 6.8-4.1 6.9-3M400.1 3095.1l6.8-4.6 6.9-4.6 6.8-4.6 6.8-4.6 6.9-4.5 6.8-4.6 6.9-4.6 6.8-4.6 6.8-4.6 6.9-4.5 6.8-4.6 6.8-4.6 6.9-4.6 6.8-4.6 6.8-4.5 6.9-4.6 6.8-2.4 6.8-0.5 6.9-2.6 6.8-5.3 6.8-5.3 6.9-5.6 6.8-5.7 6.8-5.6 6.9-5.4 6.8-5.3 6.8-5.3 6.9-5.3 6.8-5.1 6.8-4.8 6.9-4.5 6.8-4.6 6.8-4.6 6.9-4.6 6.8-4.6 6.8-4.5 6.9-4.6 6.8-4.6 6.8-4.6 6.9-4.6 6.8-4.5 6.8-4.6 6.9-4.6 6.8-4.6 6.8-4.6 6.9-4.5 6.8-4.6 6.8-4.6 6.9-4.6 6.8-4.6 6.8-4.6 6.9-4.5 6.8-4.6 6.8-4.6 6.9-4.6 6.8-4.6 6.8-4.5 6.9-4.6M400.1 3107.1l6.8-4.6 6.9-4.5 6.8-4.5 6.8-4.6 6.9-4.5 6.8-4.5 6.9-4.5 6.8-4.6 6.8-4.5 6.9-4.5 6.8-4.6 6.8-4.5 6.9-4.5 6.8-4.5 6.8-4.6 6.9-4.5 6.8-4.5 6.8-4.6 6.9-4.5 6.8-4.5 6.8-4.5 6.9-4.6 6.8-4.5 6.8-4.5 6.9-4.6 6.8-4.5 6.8-4.5 6.9-4.5 6.8-4.6 6.8-4.5 6.9-4.5 6.8-4.6 6.8-4.5 6.9-4.5 6.8-4.6 6.8-4.5 6.9-4.5 6.8-4.5 6.8-4.6 6.9-4.5 6.8-4.5 6.8-4.6 6.9-4.5 6.8-4.5 6.8-4.5 6.9-4.6 6.8-4.5 6.8-4.5 6.9-4.6 6.8-4.5 6.8-4.5 6.9-4.5 6.8-4.6 6.8-4.5 6.9-4.5 6.8-4.6 6.8-4.5 6.9-4.5M400.1 3125.1l6.8-4.7 6.9-4.6 6.8-4.6 6.8-4.6 6.9-4.6 6.8-4.7 6.9-4.6 6.8-4.6 6.8-4.6 6.9-4.7 6.8-4.6 6.8-4.6 6.9-4.6 6.8-4.6 6.8-4.7 6.9-4.6 6.8-4.6 6.8-4.6 6.9-4.7 6.8-4.6 6.8-4.6 6.9-4.6 6.8-4.6 6.8-4.7 6.9-4.6 6.8-4.6 6.8-4.6 6.9-4.7 6.8-4.6 6.8-4.6 6.9-4.6 6.8-4.6 6.8-4.7 6.9-4.6 6.8-4.6 6.8-4.6 6.9-4.7 6.8-4.6 6.8-4.6 6.9-4.6 6.8-4.6 6.8-4.7 6.9-4.6 6.8-4.6 6.8-4.6 6.9-4.7 6.8-4.6 6.8-4.6 6.9-4.6 6.8-4.6 6.8-4.7 6.9-4.6 6.8-4.6 6.8-4.6 6.9-4.7 6.8-4.6 6.8-4.6 6.9-4.6M400.1 3148.3l6.8-3 6.9-2.9 6.8-3 6.8-2.9 6.9-3 6.8-3 6.9-2.9 6.8-3 6.8-3 6.9-2.9 6.8-3 6.8-3 6.9-2.9 6.8-7.7 6.8-14.6 6.9-14.6 6.8-14.7 6.8-8.6 6.9-4.7 6.8-4.6 6.8-4.7 6.9-4.7 6.8-4.6 6.8-4.7 6.9-4.6 6.8-4.7 6.8-4.6 6.9-4.7 6.8-4.6 6.8-4.7 6.9-4.6 6.8-4.7 6.8-4.7 6.9-4.6 6.8-4.7 6.8-4.6 6.9-4.7 6.8-4.6 6.8-4.7 6.9-4.6 6.8-4.7 6.8-4.6 6.9-4.7 6.8-4.7 6.8-4.6 6.9-4.7 6.8-4.6 6.8-4.7 6.9-4.6 6.8-4.7 6.8-4.6 6.9-4.7 6.8-4.6 6.8-4.7 6.9-4.7 6.8-4.6 6.8-4.7 6.9-4.6M400.1 3185.8l6.8-1 6.9-1 6.8-1.1 6.8-1 6.9-1 6.8-1 6.9-1.1 6.8-4.2 6.8-6.9 6.9-12.5 6.8-13.2 6.8-13.2 6.9-13.2 6.8-13.3 6.8-14.6 6.9-14.6 6.8-14.7 6.8-8.6 6.9-4.7 6.8-4.6 6.8-4.7 6.9-4.7 6.8-4.6 6.8-4.7 6.9-4.6 6.8-4.7 6.8-4.6 6.9-4.7 6.8-4.6 6.8-4.7 6.9-4.6 6.8-4.7 6.8-4.7 6.9-4.6 6.8-4.7 6.8-4.6 6.9-4.7 6.8-4.6 6.8-4.7 6.9-4.6 6.8-4.7 6.8-4.6 6.9-4.7 6.8-4.7 6.8-4.6 6.9-4.7 6.8-4.6 6.8-4.7 6.9-4.6 6.8-4.7 6.8-4.6 6.9-4.7 6.8-4.6 6.8-4.7 6.9-4.7 6.8-4.6 6.8-4.7 6.9-4.6M400.1 3219.6l6.8 0.7 6.9 0.7 6.8 0.2 6.8-4.2 6.9-7 6.8-10.6 6.9-10.6 6.8-10.7 6.8-10.6 6.9-12.5 6.8-13.2 6.8-13.2 6.9-13.2 6.8-13.3 6.8-14.6 6.9-14.6 6.8-14.7 6.8-8.6 6.9-4.7 6.8-4.6 6.8-4.7 6.9-4.7 6.8-4.6 6.8-4.7 6.9-4.6 6.8-4.7 6.8-4.6 6.9-4.7 6.8-4.6 6.8-4.7 6.9-4.6 6.8-4.7 6.8-4.7 6.9-4.6 6.8-4.7 6.8-4.6 6.9-4.7 6.8-4.6 6.8-4.7 6.9-4.6 6.8-4.7 6.8-4.6 6.9-4.7 6.8-4.7 6.8-4.6 6.9-4.7 6.8-4.6 6.8-4.7 6.9-4.6 6.8-4.7 6.8-4.6 6.9-4.7 6.8-4.6 6.8-4.7 6.9-4.7 6.8-4.6 6.8-4.7 6.9-4.6M400.1 3242.1l6.8-6.1 6.9-6.1 6.8-6.1 6.8-6.1 6.9-7.7 6.8-10.6 6.9-10.6 6.8-10.7 6.8-10.6 6.9-12.5 6.8-13.2 6.8-13.2 6.9-13.2 6.8-13.3 6.8-14.6 6.9-14.6 6.8-14.7 6.8-8.6 6.9-4.7 6.8-4.6 6.8-4.7 6.9-4.7 6.8-4.6 6.8-4.7 6.9-4.6 6.8-4.7 6.8-4.6 6.9-4.7 6.8-4.6 6.8-4.7 6.9-4.6 6.8-4.7 6.8-4.7 6.9-4.6 6.8-4.7 6.8-4.6 6.9-4.7 6.8-4.6 6.8-4.7 6.9-4.6 6.8-4.7 6.8-4.6 6.9-4.7 6.8-4.7 6.8-4.6 6.9-4.7 6.8-4.6 6.8-4.7 6.9-4.6 6.8-4.7 6.8-4.6 6.9-4.7 6.8-4.6 6.8-4.7 6.9-4.7 6.8-4.6 6.8-4.7 6.9-4.6M400.1 2917.9l6.8-5 6.9-4.9 6.8-2.8 6.8-1.8 6.9-1.8 6.8 2.3 6.9 3.4 6.8 3.5 6.8 4.3 6.9 6.5 6.8 6.5 6.8 7.5 6.9 9.2 6.8 9.2 6.8 8.8 6.9 8.4 6.8 8.4 6.8 6.9 6.9 0.8 6.8-7.4 6.8-7.4 6.9-8.1 6.8-8 6.8-8 6.9-7.3 6.8-6.8 6.8-6.7 6.9-6.8 6.8-6.4 6.8-5.5 6.9-5.5 6.8-5.5 6.8-5.5 6.9-5.5 6.8-5.5 6.8-5.1 6.9-5.1 6.8-5.1 6.8-5.2 6.9-5.1 6.8-5.1 6.8-5.1 6.9-5.1 6.8-5 6.8-4.4 6.9-4.5 6.8-4.5 6.8-4.5 6.9-4.5 6.8-4.5 6.8-4.5 6.9-4.5 6.8-4.1 6.8-4.2 6.9-4.1 6.8-3.7 6.8-3 6.9 0.5M400.1 2955.2l6.8-4.8 6.9-4.9 6.8-3.2 6.8-2.3 6.9-2.3 6.8 1 6.9 1.9 6.8 2 6.8 2.7 6.9 4.4 6.8 4.3 6.8 5.3 6.9 6.7 6.8 6.6 6.8 6.3 6.9 5.9 6.8 6 6.8 4.7 6.9-0.1 6.8-6.9 6.8-7 6.9-7.4 6.8-7.3 6.8-7.4 6.9-6.8 6.8-6.3 6.8-6.4 6.9-6.4 6.8-6 6.8-5.4 6.9-5.3 6.8-5.3 6.8-5.4 6.9-5.3 6.8-5.2 6.8-5.1 6.9-5 6.8-5 6.8-5 6.9-5.1 6.8-5 6.8-5 6.9-5 6.8-4.9 6.8-4.5 6.9-4.5 6.8-4.5 6.8-4.5 6.9-4.5 6.8-4.5 6.8-4.5 6.9-4.5 6.8-4.3 6.8-4.2 6.9-4.2 6.8-3.9 6.8-3.2 6.9-0.5M400.1 2980.1l6.8-4.8 6.9-4.8 6.8-3.4 6.8-2.7 6.9-2.7 6.8 0.2 6.9 0.9 6.8 1 6.8 1.6 6.9 3 6.8 3 6.8 3.7 6.9 4.9 6.8 4.9 6.8 4.7 6.9 4.3 6.8 4.3 6.8 3.3 6.9-0.8 6.8-6.5 6.8-6.6 6.9-7 6.8-6.9 6.8-7 6.9-6.4 6.8-6.1 6.8-6.1 6.9-6.1 6.8-5.8 6.8-5.2 6.9-5.2 6.8-5.2 6.8-5.3 6.9-5.2 6.8-5.1 6.8-5 6.9-4.9 6.8-5 6.8-4.9 6.9-5 6.8-5 6.8-4.9 6.9-5 6.8-4.8 6.8-4.5 6.9-4.5 6.8-4.5 6.8-4.5 6.9-4.5 6.8-4.6 6.8-4.5 6.9-4.5 6.8-4.3 6.8-4.3 6.9-4.2 6.8-4 6.8-3.5 6.9-1.1M400.1 3027.4l6.8-4.7 6.9-4.7 6.8-3.8 6.8-3.4 6.9-3.3 6.8-1.5 6.9-1 6.8-0.9 6.8-0.6 6.9 0.4 6.8 0.4 6.8 0.9 6.9 1.6 6.8 1.6 6.8 1.5 6.9 1.2 6.8 1.3 6.8 0.6 6.9-2.2 6.8-5.8 6.8-5.9 6.9-6.2 6.8-6.1 6.8-6.1 6.9-5.8 6.8-5.6 6.8-5.5 6.9-5.6 6.8-5.4 6.8-5 6.9-5 6.8-5 6.8-5 6.9-5 6.8-5 6.8-4.8 6.9-4.8 6.8-4.8 6.8-4.8 6.9-4.9 6.8-4.8 6.8-4.8 6.9-4.8 6.8-4.8 6.8-4.5 6.9-4.6 6.8-4.5 6.8-4.5 6.9-4.6 6.8-4.5 6.8-4.5 6.9-4.6 6.8-4.4 6.8-4.4 6.9-4.3 6.8-4.2 6.8-3.9 6.9-2.3M400.1 3072.2l6.8-4.6 6.9-4.7 6.8-4.2 6.8-3.9 6.9-4 6.8-3 6.9-2.8 6.8-2.8 6.8-2.5 6.9-2.1 6.8-2.1 6.8-1.9 6.9-1.4 6.8-1.5 6.8-1.6 6.9-1.7 6.8-1.6 6.8-2 6.9-3.4 6.8-5.2 6.8-5.2 6.9-5.4 6.8-5.3 6.8-5.4 6.9-5.2 6.8-5 6.8-5.1 6.9-5.1 6.8-5 6.8-4.8 6.9-4.8 6.8-4.8 6.8-4.7 6.9-4.8 6.8-4.8 6.8-4.7 6.9-4.7 6.8-4.7 6.8-4.7 6.9-4.7 6.8-4.7 6.8-4.7 6.9-4.7 6.8-4.7 6.8-4.5 6.9-4.6 6.8-4.6 6.8-4.5 6.9-4.6 6.8-4.5 6.8-4.6 6.9-4.6 6.8-4.5 6.8-4.4 6.9-4.5 6.8-4.4 6.8-4.2 6.9-3.5M400.1 3132.1l6.8-3.8 6.9-3.8 6.8-3.9 6.8-3.8 6.9-3.8 6.8-3.8 6.9-3.8 6.8-3.8 6.8-3.8 6.9-3.8 6.8-3.8 6.8-3.8 6.9-3.8 6.8-3.8 6.8-3.8 6.9-4.3 6.8-13.1 6.8-8 6.9-4.7 6.8-4.6 6.8-4.7 6.9-4.7 6.8-4.6 6.8-4.7 6.9-4.6 6.8-4.7 6.8-4.6 6.9-4.7 6.8-4.6 6.8-4.7 6.9-4.6 6.8-4.7 6.8-4.7 6.9-4.6 6.8-4.7 6.8-4.6 6.9-4.7 6.8-4.6 6.8-4.7 6.9-4.6 6.8-4.7 6.8-4.6 6.9-4.7 6.8-4.7 6.8-4.6 6.9-4.7 6.8-4.6 6.8-4.7 6.9-4.6 6.8-4.7 6.8-4.6 6.9-4.7 6.8-4.6 6.8-4.7 6.9-4.7 6.8-4.6 6.8-4.7 6.9-4.6M400.1 3167.1l6.8-2 6.9-2 6.8-2 6.8-2 6.9-2 6.8-2 6.9-2 6.8-2 6.8-2 6.9-2 6.8-7.8 6.8-10.7 6.9-13.2 6.8-13.3 6.8-14.6 6.9-14.6 6.8-14.7 6.8-8.6 6.9-4.7 6.8-4.6 6.8-4.7 6.9-4.7 6.8-4.6 6.8-4.7 6.9-4.6 6.8-4.7 6.8-4.6 6.9-4.7 6.8-4.6 6.8-4.7 6.9-4.6 6.8-4.7 6.8-4.7 6.9-4.6 6.8-4.7 6.8-4.6 6.9-4.7 6.8-4.6 6.8-4.7 6.9-4.6 6.8-4.7 6.8-4.6 6.9-4.7 6.8-4.7 6.8-4.6 6.9-4.7 6.8-4.6 6.8-4.7 6.9-4.6 6.8-4.7 6.8-4.6 6.9-4.7 6.8-4.6 6.8-4.7 6.9-4.7 6.8-4.6 6.8-4.7 6.9-4.6M400.1 3204.6l6.8-0.1 6.9 0 6.8-0.1 6.8-0.1 6.9-0.9 6.8-4 6.9-10.6 6.8-10.7 6.8-10.6 6.9-12.5 6.8-13.2 6.8-13.2 6.9-13.2 6.8-13.3 6.8-14.6 6.9-14.6 6.8-14.7 6.8-8.6 6.9-4.7 6.8-4.6 6.8-4.7 6.9-4.7 6.8-4.6 6.8-4.7 6.9-4.6 6.8-4.7 6.8-4.6 6.9-4.7 6.8-4.6 6.8-4.7 6.9-4.6 6.8-4.7 6.8-4.7 6.9-4.6 6.8-4.7 6.8-4.6 6.9-4.7 6.8-4.6 6.8-4.7 6.9-4.6 6.8-4.7 6.8-4.6 6.9-4.7 6.8-4.7 6.8-4.6 6.9-4.7 6.8-4.6 6.8-4.7 6.9-4.6 6.8-4.7 6.8-4.6 6.9-4.7 6.8-4.6 6.8-4.7 6.9-4.7 6.8-4.6 6.8-4.7 6.9-4.6M400.1 3232.1l6.8 0.8 6.9-3 6.8-6.1 6.8-6.1 6.9-7.7 6.8-10.6 6.9-10.6 6.8-10.7 6.8-10.6 6.9-12.5 6.8-13.2 6.8-13.2 6.9-13.2 6.8-13.3 6.8-14.6 6.9-14.6 6.8-14.7 6.8-8.6 6.9-4.7 6.8-4.6 6.8-4.7 6.9-4.7 6.8-4.6 6.8-4.7 6.9-4.6 6.8-4.7 6.8-4.6 6.9-4.7 6.8-4.6 6.8-4.7 6.9-4.6 6.8-4.7 6.8-4.7 6.9-4.6 6.8-4.7 6.8-4.6 6.9-4.7 6.8-4.6 6.8-4.7 6.9-4.6 6.8-4.7 6.8-4.6 6.9-4.7 6.8-4.7 6.8-4.6 6.9-4.7 6.8-4.6 6.8-4.7 6.9-4.6 6.8-4.7 6.8-4.6 6.9-4.7 6.8-4.6 6.8-4.7 6.9-4.7 6.8-4.6 6.8-4.7 6.9-4.6" fill="none" stroke="#000" stroke-width="0.8" stroke-linejoin="round"/>
<path d="M400.1 2868.1L400.1 3242.1" stroke="#000" stroke-width="2.4" fill="none"/>
<path d="M796.5 2763.4L796.5 2863.4" stroke="#000" stroke-width="1.6" fill="none"/>
<polygon points="400.1,3111.1 488.5,3153 884.9,2884.3 796.5,2848.4" fill="#000"/>
<defs><linearGradient id="g22" gradientUnits="userSpaceOnUse" x1="488.5" y1="0" x2="884.9" y2="0"><stop offset="0.000" stop-color="#6cc76d"/><stop offset="0.062" stop-color="#57c672"/><stop offset="0.125" stop-color="#24c47f"/><stop offset="0.188" stop-color="#00c18c"/><stop offset="0.250" stop-color="#07b8ae"/><stop offset="0.312" stop-color="#11aec9"/><stop offset="0.375" stop-color="#13adcd"/><stop offset="0.438" stop-color="#13accd"/><stop offset="0.500" stop-color="#13acce"/><stop offset="0.562" stop-color="#13acce"/><stop offset="0.625" stop-color="#13acce"/><stop offset="0.688" stop-color="#13acce"/><stop offset="0.750" stop-color="#14acce"/><stop offset="0.812" stop-color="#14acce"/><stop offset="0.875" stop-color="#14accf"/><stop offset="0.938" stop-color="#14accf"/><stop offset="1.000" stop-color="#0db2bf"/></linearGradient><linearGradient id="g23" gradientUnits="userSpaceOnUse" x1="488.5" y1="0" x2="884.9" y2="0"><stop offset="0.000" stop-color="#18c383"/><stop offset="0.062" stop-color="#11c286"/><stop offset="0.125" stop-color="#00c18d"/><stop offset="0.188" stop-color="#05bba3"/><stop offset="0.250" stop-color="#0bb4ba"/><stop offset="0.312" stop-color="#13adcc"/><stop offset="0.375" stop-color="#14accf"/><stop offset="0.438" stop-color="#14acd0"/><stop offset="0.500" stop-color="#14acd0"/><stop offset="0.562" stop-color="#14acd0"/><stop offset="0.625" stop-color="#14abd0"/><stop offset="0.688" stop-color="#14abd0"/><stop offset="0.750" stop-color="#14abd0"/><stop offset="0.812" stop-color="#14abd0"/><stop offset="0.875" stop-color="#14abd0"/><stop offset="0.938" stop-color="#14abd1"/><stop offset="1.000" stop-color="#10afc5"/></linearGradient><linearGradient id="g24" gradientUnits="userSpaceOnUse" x1="488.5" y1="0" x2="884.9" y2="0"><stop offset="0.000" stop-color="#04bc9e"/><stop offset="0.062" stop-color="#04bba2"/><stop offset="0.125" stop-color="#06b8ac"/><stop offset="0.188" stop-color="#0ab4b8"/><stop offset="0.250" stop-color="#0fb0c5"/><stop offset="0.312" stop-color="#14acd0"/><stop offset="0.375" stop-color="#15abd2"/><stop offset="0.438" stop-color="#15abd2"/><stop offset="0.500" stop-color="#15abd2"/><stop offset="0.562" stop-color="#15abd2"/><stop offset="0.625" stop-color="#15abd2"/><stop offset="0.688" stop-color="#15abd2"/><stop offset="0.750" stop-color="#15abd2"/><stop offset="0.812" stop-color="#15abd2"/><stop offset="0.875" stop-color="#15abd2"/><stop offset="0.938" stop-color="#15abd2"/><stop offset="1.000" stop-color="#12adcb"/></linearGradient><linearGradient id="g25" gradientUnits="userSpaceOnUse" x1="488.5" y1="0" x2="884.9" y2="0"><stop offset="0.000" stop-color="#0db2bf"/><stop offset="0.062" stop-color="#0db2c0"/><stop offset="0.125" stop-color="#0fb0c3"/><stop offset="0.188" stop-color="#11afc8"/><stop offset="0.250" stop-color="#13adcd"/><stop offset="0.312" stop-color="#15abd2"/><stop offset="0.375" stop-color="#15aad3"/><stop offset="0.438" stop-color="#16aad3"/><stop offset="0.500" stop-color="#16aad3"/><stop offset="0.562" stop-color="#16aad3"/><stop offset="0.625" stop-color="#16aad3"/><stop offset="0.688" stop-color="#16aad3"/><stop offset="0.750" stop-color="#16aad3"/><stop offset="0.812" stop-color="#16aad3"/><stop offset="0.875" stop-color="#16aad3"/><stop offset="0.938" stop-color="#16aad3"/><stop offset="1.000" stop-color="#14abd0"/></linearGradient></defs>
<path d="M488.5 3036l6.8-2.9 6.9-2.8 6.8-2.9 6.8-1.3 6.9 0 6.8 0 6.8 0.1 6.9 1.7 6.8 1.8 6.8 1.7 6.9 2.4 6.8 2.9 6.8 2.9 6.9 2.8 6.8 2.3 6.8 2.4 6.9 2.3 6.8 1.6 6.8 0 6.9-4.5 6.8-4.5 6.8-4.5 6.9-4.4 6.8-4.5 6.8-4.5 6.9-4.5 6.8-4.5 6.8-4.5 6.9-4.4 6.8-4.6 6.8-4.5 6.9-4.6 6.8-4.5 6.8-4.6 6.9-4.5 6.8-4.5 6.9-4.6 6.8-4.5 6.8-4.6 6.9-4.5 6.8-4.6 6.8-4.5 6.9-4.6 6.8-4.5 6.8-4.5 6.9-4.6 6.8-4.5 6.8-4.6 6.9-4.5 6.8-4.6 6.8-4.5 6.9-4.5 6.8-4.6 6.8-4.5 6.9-4.6 6.8-4.5 6.8-17.4 6.9-6.8 0 5.9 -6.9 6.2 -6.8 13.8 -6.8 4.5 -6.9 4.6 -6.8 4.5 -6.8 4.6 -6.9 4.5 -6.8 4.6 -6.8 4.5 -6.9 4.6 -6.8 4.5 -6.8 4.6 -6.9 4.6 -6.8 4.5 -6.8 4.6 -6.9 4.5 -6.8 4.6 -6.8 4.5 -6.9 4.6 -6.8 4.5 -6.8 4.6 -6.9 4.5 -6.8 4.6 -6.9 4.6 -6.8 4.5 -6.8 4.6 -6.9 4.5 -6.8 4.6 -6.8 4.5 -6.9 4.5 -6.8 4.5 -6.8 4.6 -6.9 4.5 -6.8 4.5 -6.8 4.5 -6.9 4.5 -6.8 4.5 -6.8 4.5 -6.9 4.5 -6.8 1.3 -6.8 0.1 -6.9-0.4 -6.8-0.3 -6.8-0.4 -6.9-0.8 -6.8-0.8 -6.8-0.8 -6.9-0.4 -6.8 0 -6.8 0 -6.9 0.1 -6.8 1.2 -6.8 1.3 -6.9 1.2 -6.8 2.3 -6.8 3.3 -6.9 3.4 -6.8 3.3z" fill="url(#g22)"/>
<path d="M488.5 3066.8l6.8-3.3 6.9-3.4 6.8-3.3 6.8-2.3 6.9-1.2 6.8-1.3 6.8-1.2 6.9-0.1 6.8 0 6.8 0 6.9 0.4 6.8 0.8 6.8 0.8 6.9 0.8 6.8 0.4 6.8 0.3 6.9 0.4 6.8-0.1 6.8-1.3 6.9-4.5 6.8-4.5 6.8-4.5 6.9-4.5 6.8-4.5 6.8-4.5 6.9-4.5 6.8-4.6 6.8-4.5 6.9-4.5 6.8-4.5 6.8-4.6 6.9-4.5 6.8-4.6 6.8-4.5 6.9-4.6 6.8-4.6 6.9-4.5 6.8-4.6 6.8-4.5 6.9-4.6 6.8-4.5 6.8-4.6 6.9-4.5 6.8-4.6 6.8-4.5 6.9-4.6 6.8-4.6 6.8-4.5 6.9-4.6 6.8-4.5 6.8-4.6 6.9-4.5 6.8-4.6 6.8-4.5 6.9-4.6 6.8-4.5 6.8-13.8 6.9-6.2 0 5.7 -6.9 5.6 -6.8 10.3 -6.8 4.5 -6.9 4.6 -6.8 4.6 -6.8 4.5 -6.9 4.6 -6.8 4.6 -6.8 4.5 -6.9 4.6 -6.8 4.6 -6.8 4.5 -6.9 4.6 -6.8 4.6 -6.8 4.5 -6.9 4.6 -6.8 4.5 -6.8 4.6 -6.9 4.6 -6.8 4.5 -6.8 4.6 -6.9 4.6 -6.8 4.5 -6.9 4.6 -6.8 4.6 -6.8 4.5 -6.9 4.6 -6.8 4.5 -6.8 4.6 -6.9 4.6 -6.8 4.5 -6.8 4.5 -6.9 4.6 -6.8 4.5 -6.8 4.5 -6.9 4.6 -6.8 4.5 -6.8 4.5 -6.9 4.6 -6.8 2.5 -6.8 1.8 -6.9 1.5 -6.8 1.4 -6.8 1.5 -6.9 1.3 -6.8 1.2 -6.8 1.2 -6.9 1.4 -6.8 1.8 -6.8 1.7 -6.9 1.8 -6.8 2.4 -6.8 2.5 -6.9 2.6 -6.8 3.1 -6.8 3.8 -6.9 3.8 -6.8 3.8z" fill="url(#g23)"/>
<path d="M488.5 3096.5l6.8-3.8 6.9-3.8 6.8-3.8 6.8-3.1 6.9-2.6 6.8-2.5 6.8-2.4 6.9-1.8 6.8-1.7 6.8-1.8 6.9-1.4 6.8-1.2 6.8-1.2 6.9-1.3 6.8-1.5 6.8-1.4 6.9-1.5 6.8-1.8 6.8-2.5 6.9-4.6 6.8-4.5 6.8-4.5 6.9-4.6 6.8-4.5 6.8-4.5 6.9-4.6 6.8-4.5 6.8-4.5 6.9-4.6 6.8-4.6 6.8-4.5 6.9-4.6 6.8-4.5 6.8-4.6 6.9-4.6 6.8-4.5 6.9-4.6 6.8-4.6 6.8-4.5 6.9-4.6 6.8-4.6 6.8-4.5 6.9-4.6 6.8-4.5 6.8-4.6 6.9-4.6 6.8-4.5 6.8-4.6 6.9-4.6 6.8-4.5 6.8-4.6 6.9-4.6 6.8-4.5 6.8-4.6 6.9-4.6 6.8-4.5 6.8-10.3 6.9-5.6 0 5.2 -6.9 5.1 -6.8 7.1 -6.8 4.6 -6.9 4.5 -6.8 4.6 -6.8 4.6 -6.9 4.5 -6.8 4.6 -6.8 4.6 -6.9 4.6 -6.8 4.5 -6.8 4.6 -6.9 4.6 -6.8 4.6 -6.8 4.5 -6.9 4.6 -6.8 4.6 -6.8 4.6 -6.9 4.5 -6.8 4.6 -6.8 4.6 -6.9 4.6 -6.8 4.5 -6.9 4.6 -6.8 4.6 -6.8 4.5 -6.9 4.6 -6.8 4.6 -6.8 4.6 -6.9 4.5 -6.8 4.6 -6.8 4.5 -6.9 4.6 -6.8 4.6 -6.8 4.5 -6.9 4.6 -6.8 4.6 -6.8 4.5 -6.9 4.6 -6.8 3.6 -6.8 3.4 -6.9 3.2 -6.8 3.2 -6.8 3.2 -6.9 3.1 -6.8 3.1 -6.8 3.1 -6.9 3.1 -6.8 3.4 -6.8 3.3 -6.9 3.3 -6.8 3.6 -6.8 3.7 -6.9 3.7 -6.8 3.9 -6.8 4.2 -6.9 4.3 -6.8 4.2z" fill="url(#g24)"/>
<path d="M488.5 3124l6.8-4.2 6.9-4.3 6.8-4.2 6.8-3.9 6.9-3.7 6.8-3.7 6.8-3.6 6.9-3.3 6.8-3.3 6.8-3.4 6.9-3.1 6.8-3.1 6.8-3.1 6.9-3.1 6.8-3.2 6.8-3.2 6.9-3.2 6.8-3.4 6.8-3.6 6.9-4.6 6.8-4.5 6.8-4.6 6.9-4.6 6.8-4.5 6.8-4.6 6.9-4.6 6.8-4.5 6.8-4.6 6.9-4.5 6.8-4.6 6.8-4.6 6.9-4.6 6.8-4.5 6.8-4.6 6.9-4.6 6.8-4.5 6.9-4.6 6.8-4.6 6.8-4.6 6.9-4.5 6.8-4.6 6.8-4.6 6.9-4.6 6.8-4.5 6.8-4.6 6.9-4.6 6.8-4.6 6.8-4.5 6.9-4.6 6.8-4.6 6.8-4.6 6.9-4.5 6.8-4.6 6.8-4.6 6.9-4.5 6.8-4.6 6.8-7.1 6.9-5.1 0 0 -6.9 5.1 -6.8 7.1 -6.8 4.6 -6.9 4.5 -6.8 4.6 -6.8 4.6 -6.9 4.5 -6.8 4.6 -6.8 4.6 -6.9 4.6 -6.8 4.5 -6.8 4.6 -6.9 4.6 -6.8 4.6 -6.8 4.5 -6.9 4.6 -6.8 4.6 -6.8 4.6 -6.9 4.5 -6.8 4.6 -6.8 4.6 -6.9 4.6 -6.8 4.5 -6.9 4.6 -6.8 4.6 -6.8 4.5 -6.9 4.6 -6.8 4.6 -6.8 4.6 -6.9 4.5 -6.8 4.6 -6.8 4.5 -6.9 4.6 -6.8 4.6 -6.8 4.5 -6.9 4.6 -6.8 4.6 -6.8 4.5 -6.9 4.6 -6.8 3.6 -6.8 3.4 -6.9 3.2 -6.8 3.2 -6.8 3.2 -6.9 3.1 -6.8 4.6 -6.8 4.5 -6.9 4.5 -6.8 4.5 -6.8 4.6 -6.9 4.5 -6.8 4.5 -6.8 4.6 -6.9 4.5 -6.8 4.5 -6.8 4.5 -6.9 4.6 -6.8 4.5z" fill="url(#g25)"/>
<path d="M488.5 3136l6.8-4.5 6.9-4.6 6.8-4.5 6.8-4.5 6.9-4.5 6.8-4.6 6.8-4.5 6.9-4.5 6.8-4.6 6.8-4.5 6.9-4.5 6.8-4.5 6.8-4.6 6.9-3.1 6.8-3.2 6.8-3.2 6.9-3.2 6.8-3.4 6.8-3.6 6.9-4.6 6.8-4.5 6.8-4.6 6.9-4.6 6.8-4.5 6.8-4.6 6.9-4.6 6.8-4.5 6.8-4.6 6.9-4.5 6.8-4.6 6.8-4.6 6.9-4.6 6.8-4.5 6.8-4.6 6.9-4.6 6.8-4.5 6.9-4.6 6.8-4.6 6.8-4.6 6.9-4.5 6.8-4.6 6.8-4.6 6.9-4.6 6.8-4.5 6.8-4.6 6.9-4.6 6.8-4.6 6.8-4.5 6.9-4.6 6.8-4.6 6.8-4.6 6.9-4.5 6.8-4.6 6.8-4.6 6.9-4.5 6.8-4.6 6.8-7.1 6.9-5.1 0 9.8 -6.9 4.6 -6.8 4.7 -6.8 4.6 -6.9 4.6 -6.8 4.6 -6.8 4.7 -6.9 4.6 -6.8 4.6 -6.8 4.6 -6.9 4.6 -6.8 4.7 -6.8 4.6 -6.9 4.6 -6.8 4.6 -6.8 4.7 -6.9 4.6 -6.8 4.6 -6.8 4.6 -6.9 4.6 -6.8 4.7 -6.8 4.6 -6.9 4.6 -6.8 4.6 -6.9 4.7 -6.8 4.6 -6.8 4.6 -6.9 4.6 -6.8 4.6 -6.8 4.7 -6.9 4.6 -6.8 4.6 -6.8 4.6 -6.9 4.7 -6.8 4.6 -6.8 4.6 -6.9 4.6 -6.8 4.6 -6.8 4.7 -6.9 4.6 -6.8 4.6 -6.8 4.6 -6.9 4.7 -6.8 4.6 -6.8 4.6 -6.9 4.6 -6.8 4.6 -6.8 4.7 -6.9 4.6 -6.8 4.6 -6.8 4.6 -6.9 4.6 -6.8 4.7 -6.8 4.6 -6.9 4.6 -6.8 4.6 -6.8 4.7 -6.9 4.6 -6.8 4.6z" fill="#000"/>
<path d="M488.5 3154l6.8-4.6 6.9-4.6 6.8-4.7 6.8-4.6 6.9-4.6 6.8-4.6 6.8-4.7 6.9-4.6 6.8-4.6 6.8-4.6 6.9-4.6 6.8-4.7 6.8-4.6 6.9-4.6 6.8-4.6 6.8-4.6 6.9-4.7 6.8-4.6 6.8-4.6 6.9-4.6 6.8-4.7 6.8-4.6 6.9-4.6 6.8-4.6 6.8-4.6 6.9-4.7 6.8-4.6 6.8-4.6 6.9-4.6 6.8-4.7 6.8-4.6 6.9-4.6 6.8-4.6 6.8-4.6 6.9-4.7 6.8-4.6 6.9-4.6 6.8-4.6 6.8-4.7 6.9-4.6 6.8-4.6 6.8-4.6 6.9-4.6 6.8-4.7 6.8-4.6 6.9-4.6 6.8-4.6 6.8-4.7 6.9-4.6 6.8-4.6 6.8-4.6 6.9-4.6 6.8-4.7 6.8-4.6 6.9-4.6 6.8-4.6 6.8-4.7 6.9-4.6 0 0.4 -6.9 4.7 -6.8 4.6 -6.8 4.6 -6.9 4.6 -6.8 4.7 -6.8 4.6 -6.9 4.6 -6.8 4.7 -6.8 4.6 -6.9 4.6 -6.8 4.7 -6.8 4.6 -6.9 4.6 -6.8 4.6 -6.8 4.7 -6.9 4.6 -6.8 4.6 -6.8 4.7 -6.9 4.6 -6.8 4.6 -6.8 4.7 -6.9 4.6 -6.8 4.6 -6.9 4.6 -6.8 4.7 -6.8 4.6 -6.9 4.6 -6.8 4.7 -6.8 4.6 -6.9 4.6 -6.8 4.7 -6.8 4.6 -6.9 4.6 -6.8 4.6 -6.8 4.7 -6.9 4.6 -6.8 4.6 -6.8 4.7 -6.9 4.6 -6.8 4.6 -6.8 5.4 -6.9 6.6 -6.8 6.6 -6.8 6.6 -6.9 10.7 -6.8 11 -6.8 10.1 -6.9 8.6 -6.8 3.3 -6.8 3.3 -6.9 3.3 -6.8 3.4 -6.8 3.3 -6.9 3.3 -6.8 3.3 -6.8 3.4 -6.9 3.3 -6.8 3.3z" fill="#209be2"/>
<path d="M488.5 3170.3l6.8-3.3 6.9-3.3 6.8-3.4 6.8-3.3 6.9-3.3 6.8-3.3 6.8-3.4 6.9-3.3 6.8-3.3 6.8-3.3 6.9-8.6 6.8-10.1 6.8-11 6.9-10.7 6.8-6.6 6.8-6.6 6.9-6.6 6.8-5.4 6.8-4.6 6.9-4.6 6.8-4.7 6.8-4.6 6.9-4.6 6.8-4.7 6.8-4.6 6.9-4.6 6.8-4.6 6.8-4.7 6.9-4.6 6.8-4.6 6.8-4.7 6.9-4.6 6.8-4.6 6.8-4.7 6.9-4.6 6.8-4.6 6.9-4.6 6.8-4.7 6.8-4.6 6.9-4.6 6.8-4.7 6.8-4.6 6.9-4.6 6.8-4.7 6.8-4.6 6.9-4.6 6.8-4.6 6.8-4.7 6.9-4.6 6.8-4.6 6.8-4.7 6.9-4.6 6.8-4.6 6.8-4.7 6.9-4.6 6.8-4.6 6.8-4.6 6.9-4.7 0 0 -6.9 4.7 -6.8 4.6 -6.8 4.6 -6.9 4.6 -6.8 4.7 -6.8 4.6 -6.9 4.6 -6.8 4.7 -6.8 4.6 -6.9 4.6 -6.8 4.7 -6.8 4.6 -6.9 4.6 -6.8 4.6 -6.8 4.7 -6.9 4.6 -6.8 4.6 -6.8 4.7 -6.9 4.6 -6.8 4.6 -6.8 4.7 -6.9 4.6 -6.8 4.6 -6.9 4.6 -6.8 4.7 -6.8 4.6 -6.9 4.6 -6.8 4.7 -6.8 4.6 -6.9 4.6 -6.8 4.7 -6.8 4.6 -6.9 4.6 -6.8 4.6 -6.8 4.7 -6.9 4.6 -6.8 4.6 -6.8 4.7 -6.9 4.6 -6.8 4.6 -6.8 5.4 -6.9 6.6 -6.8 6.6 -6.8 6.6 -6.9 10.7 -6.8 11 -6.8 11.1 -6.9 11 -6.8 10.9 -6.8 10.4 -6.9 10.4 -6.8 10.4 -6.8 5.8 -6.9 2.8 -6.8 1.9 -6.8 1.8 -6.9 1.9 -6.8 1.9z" fill="#2c88f1"/>
<path d="M488.5 3198.7l6.8-1.9 6.9-1.9 6.8-1.8 6.8-1.9 6.9-2.8 6.8-5.8 6.8-10.4 6.9-10.4 6.8-10.4 6.8-10.9 6.9-11 6.8-11.1 6.8-11 6.9-10.7 6.8-6.6 6.8-6.6 6.9-6.6 6.8-5.4 6.8-4.6 6.9-4.6 6.8-4.7 6.8-4.6 6.9-4.6 6.8-4.7 6.8-4.6 6.9-4.6 6.8-4.6 6.8-4.7 6.9-4.6 6.8-4.6 6.8-4.7 6.9-4.6 6.8-4.6 6.8-4.7 6.9-4.6 6.8-4.6 6.9-4.6 6.8-4.7 6.8-4.6 6.9-4.6 6.8-4.7 6.8-4.6 6.9-4.6 6.8-4.7 6.8-4.6 6.9-4.6 6.8-4.6 6.8-4.7 6.9-4.6 6.8-4.6 6.8-4.7 6.9-4.6 6.8-4.6 6.8-4.7 6.9-4.6 6.8-4.6 6.8-4.6 6.9-4.7 0 0 -6.9 4.7 -6.8 4.6 -6.8 4.6 -6.9 4.6 -6.8 4.7 -6.8 4.6 -6.9 4.6 -6.8 4.7 -6.8 4.6 -6.9 4.6 -6.8 4.7 -6.8 4.6 -6.9 4.6 -6.8 4.6 -6.8 4.7 -6.9 4.6 -6.8 4.6 -6.8 4.7 -6.9 4.6 -6.8 4.6 -6.8 4.7 -6.9 4.6 -6.8 4.6 -6.9 4.6 -6.8 4.7 -6.8 4.6 -6.9 4.6 -6.8 4.7 -6.8 4.6 -6.9 4.6 -6.8 4.7 -6.8 4.6 -6.9 4.6 -6.8 4.6 -6.8 4.7 -6.9 4.6 -6.8 4.6 -6.8 4.7 -6.9 4.6 -6.8 4.6 -6.8 5.4 -6.9 6.6 -6.8 6.6 -6.8 6.6 -6.9 10.7 -6.8 11 -6.8 11.1 -6.9 11 -6.8 10.9 -6.8 10.4 -6.9 10.4 -6.8 10.4 -6.8 10.4 -6.9 7.9 -6.8 6.5 -6.8 6.6 -6.9 6.5 -6.8 6.5z" fill="#3a71f8"/>
<path d="M618.3 3054.4 871.2 2884.9M604.7 3059.7 611.5 3055.1M597.8 3060.5 604.7 3055.9M878 2872.7 884.9 2868.1M591 3061.3 597.8 3056.7M584.2 3062.1 591 3057.5M577.3 3062.9 591 3053.7M563.7 3068.2 584.2 3054.5M556.8 3069 577.3 3055.3M550 3069.8 570.5 3056M543.2 3070.6 570.5 3052.2M529.5 3075.9 563.7 3053M515.8 3081.3 556.8 3053.8M488.5 3095.8 550 3054.6M488.5 3092 550 3050.8M488.5 3088.2 543.2 3051.6M488.5 3084.4 536.3 3052.3M488.5 3080.6 529.5 3053.1M488.5 3076.8 522.7 3053.9M488.5 3073 515.8 3054.7M488.5 3069.2 502.2 3060" fill="none" stroke="#000" stroke-width="1.5" stroke-opacity="0.85"/>
<path d="M611.5 3060.4 871.2 2886.4M591 3070.4 604.7 3061.2M878 2878 884.9 2873.4M570.5 3080.3 597.8 3062M556.8 3085.7 591 3062.8M529.5 3100.2 577.3 3068.2M488.5 3123.9 570.5 3068.9M488.5 3120.1 563.7 3069.7M488.5 3116.3 556.8 3070.5M488.5 3112.5 550 3071.3M488.5 3108.7 536.3 3076.6M488.5 3104.9 529.5 3077.4M488.5 3101.1 515.8 3082.8M488.5 3097.3 495.3 3092.7" fill="none" stroke="#000" stroke-width="1.5" stroke-opacity="0.85"/>
<path d="M488.5 3135.3 570.5 3080.3M488.5 3131.5 550 3090.3M488.5 3127.7 529.5 3100.2" fill="none" stroke="#000" stroke-width="1.5" stroke-opacity="0.85"/>
<path d="M488.5 3036V3227M495.3 3033.1V3220.5M502.2 3030.3V3214M509 3027.4V3207.4M515.8 3026.1V3200.9M522.7 3026.1V3193M529.5 3026.1V3182.6M536.3 3026.2V3172.2M543.2 3027.9V3161.8M550 3029.7V3151.4M556.8 3031.4V3140.5M563.7 3033.8V3129.5M570.5 3036.7V3118.4M577.3 3039.6V3107.4M584.2 3042.4V3096.7M591 3044.7V3090.1M597.8 3047.1V3083.5M604.7 3049.4V3076.9M611.5 3051V3071.5M618.3 3051V3066.9M625.2 3046.5V3062.3M632 3042V3057.6M638.8 3037.5V3053M645.7 3033.1V3048.4M652.5 3028.6V3043.7M659.3 3024.1V3039.1M666.2 3019.6V3034.5M673 3015.1V3029.9M679.8 3010.6V3025.2M686.7 3006.2V3020.6M693.5 3001.6V3016M700.3 2997.1V3011.3M707.2 2992.5V3006.7M714 2988V3002.1M720.8 2983.4V2997.4M727.7 2978.9V2992.8M734.5 2974.4V2988.2M741.4 2969.8V2983.6M748.2 2965.3V2978.9M755 2960.7V2974.3M761.9 2956.2V2969.7M768.7 2951.6V2965M775.5 2947.1V2960.4M782.4 2942.5V2955.8M789.2 2938V2951.1M796 2933.5V2946.5M802.9 2928.9V2941.9M809.7 2924.4V2937.3M816.5 2919.8V2932.6M823.4 2915.3V2928M830.2 2910.7V2923.4M837 2906.2V2918.7M843.9 2901.7V2914.1M850.7 2897.1V2909.5M857.5 2892.6V2904.8M864.4 2888V2900.2M871.2 2883.5V2895.6M878 2866.1V2891M884.9 2859.3V2886.3" fill="none" stroke="#000" stroke-width="1.25" stroke-opacity="0.8"/>
<path d="M488.5 3036l6.8-2.9 6.9-2.8 6.8-2.9 6.8-1.3 6.9 0 6.8 0 6.8 0.1 6.9 1.7 6.8 1.8 6.8 1.7 6.9 2.4 6.8 2.9 6.8 2.9 6.9 2.8 6.8 2.3 6.8 2.4 6.9 2.3 6.8 1.6 6.8 0 6.9-4.5 6.8-4.5 6.8-4.5 6.9-4.4 6.8-4.5 6.8-4.5 6.9-4.5 6.8-4.5 6.8-4.5 6.9-4.4 6.8-4.6 6.8-4.5 6.9-4.6 6.8-4.5 6.8-4.6 6.9-4.5 6.8-4.5 6.9-4.6 6.8-4.5 6.8-4.6 6.9-4.5 6.8-4.6 6.8-4.5 6.9-4.6 6.8-4.5 6.8-4.5 6.9-4.6 6.8-4.5 6.8-4.6 6.9-4.5 6.8-4.6 6.8-4.5 6.9-4.5 6.8-4.6 6.8-4.5 6.9-4.6 6.8-4.5 6.8-17.4 6.9-6.8M488.5 3066.8l6.8-3.3 6.9-3.4 6.8-3.3 6.8-2.3 6.9-1.2 6.8-1.3 6.8-1.2 6.9-0.1 6.8 0 6.8 0 6.9 0.4 6.8 0.8 6.8 0.8 6.9 0.8 6.8 0.4 6.8 0.3 6.9 0.4 6.8-0.1 6.8-1.3 6.9-4.5 6.8-4.5 6.8-4.5 6.9-4.5 6.8-4.5 6.8-4.5 6.9-4.5 6.8-4.6 6.8-4.5 6.9-4.5 6.8-4.5 6.8-4.6 6.9-4.5 6.8-4.6 6.8-4.5 6.9-4.6 6.8-4.6 6.9-4.5 6.8-4.6 6.8-4.5 6.9-4.6 6.8-4.5 6.8-4.6 6.9-4.5 6.8-4.6 6.8-4.5 6.9-4.6 6.8-4.6 6.8-4.5 6.9-4.6 6.8-4.5 6.8-4.6 6.9-4.5 6.8-4.6 6.8-4.5 6.9-4.6 6.8-4.5 6.8-13.8 6.9-6.2M488.5 3096.5l6.8-3.8 6.9-3.8 6.8-3.8 6.8-3.1 6.9-2.6 6.8-2.5 6.8-2.4 6.9-1.8 6.8-1.7 6.8-1.8 6.9-1.4 6.8-1.2 6.8-1.2 6.9-1.3 6.8-1.5 6.8-1.4 6.9-1.5 6.8-1.8 6.8-2.5 6.9-4.6 6.8-4.5 6.8-4.5 6.9-4.6 6.8-4.5 6.8-4.5 6.9-4.6 6.8-4.5 6.8-4.5 6.9-4.6 6.8-4.6 6.8-4.5 6.9-4.6 6.8-4.5 6.8-4.6 6.9-4.6 6.8-4.5 6.9-4.6 6.8-4.6 6.8-4.5 6.9-4.6 6.8-4.6 6.8-4.5 6.9-4.6 6.8-4.5 6.8-4.6 6.9-4.6 6.8-4.5 6.8-4.6 6.9-4.6 6.8-4.5 6.8-4.6 6.9-4.6 6.8-4.5 6.8-4.6 6.9-4.6 6.8-4.5 6.8-10.3 6.9-5.6M488.5 3124l6.8-4.2 6.9-4.3 6.8-4.2 6.8-3.9 6.9-3.7 6.8-3.7 6.8-3.6 6.9-3.3 6.8-3.3 6.8-3.4 6.9-3.1 6.8-3.1 6.8-3.1 6.9-3.1 6.8-3.2 6.8-3.2 6.9-3.2 6.8-3.4 6.8-3.6 6.9-4.6 6.8-4.5 6.8-4.6 6.9-4.6 6.8-4.5 6.8-4.6 6.9-4.6 6.8-4.5 6.8-4.6 6.9-4.5 6.8-4.6 6.8-4.6 6.9-4.6 6.8-4.5 6.8-4.6 6.9-4.6 6.8-4.5 6.9-4.6 6.8-4.6 6.8-4.6 6.9-4.5 6.8-4.6 6.8-4.6 6.9-4.6 6.8-4.5 6.8-4.6 6.9-4.6 6.8-4.6 6.8-4.5 6.9-4.6 6.8-4.6 6.8-4.6 6.9-4.5 6.8-4.6 6.8-4.6 6.9-4.5 6.8-4.6 6.8-7.1 6.9-5.1M488.5 3136l6.8-4.5 6.9-4.6 6.8-4.5 6.8-4.5 6.9-4.5 6.8-4.6 6.8-4.5 6.9-4.5 6.8-4.6 6.8-4.5 6.9-4.5 6.8-4.5 6.8-4.6 6.9-3.1 6.8-3.2 6.8-3.2 6.9-3.2 6.8-3.4 6.8-3.6 6.9-4.6 6.8-4.5 6.8-4.6 6.9-4.6 6.8-4.5 6.8-4.6 6.9-4.6 6.8-4.5 6.8-4.6 6.9-4.5 6.8-4.6 6.8-4.6 6.9-4.6 6.8-4.5 6.8-4.6 6.9-4.6 6.8-4.5 6.9-4.6 6.8-4.6 6.8-4.6 6.9-4.5 6.8-4.6 6.8-4.6 6.9-4.6 6.8-4.5 6.8-4.6 6.9-4.6 6.8-4.6 6.8-4.5 6.9-4.6 6.8-4.6 6.8-4.6 6.9-4.5 6.8-4.6 6.8-4.6 6.9-4.5 6.8-4.6 6.8-7.1 6.9-5.1M488.5 3154l6.8-4.6 6.9-4.6 6.8-4.7 6.8-4.6 6.9-4.6 6.8-4.6 6.8-4.7 6.9-4.6 6.8-4.6 6.8-4.6 6.9-4.6 6.8-4.7 6.8-4.6 6.9-4.6 6.8-4.6 6.8-4.6 6.9-4.7 6.8-4.6 6.8-4.6 6.9-4.6 6.8-4.7 6.8-4.6 6.9-4.6 6.8-4.6 6.8-4.6 6.9-4.7 6.8-4.6 6.8-4.6 6.9-4.6 6.8-4.7 6.8-4.6 6.9-4.6 6.8-4.6 6.8-4.6 6.9-4.7 6.8-4.6 6.9-4.6 6.8-4.6 6.8-4.7 6.9-4.6 6.8-4.6 6.8-4.6 6.9-4.6 6.8-4.7 6.8-4.6 6.9-4.6 6.8-4.6 6.8-4.7 6.9-4.6 6.8-4.6 6.8-4.6 6.9-4.6 6.8-4.7 6.8-4.6 6.9-4.6 6.8-4.6 6.8-4.7 6.9-4.6M488.5 3170.3l6.8-3.3 6.9-3.3 6.8-3.4 6.8-3.3 6.9-3.3 6.8-3.3 6.8-3.4 6.9-3.3 6.8-3.3 6.8-3.3 6.9-8.6 6.8-10.1 6.8-11 6.9-10.7 6.8-6.6 6.8-6.6 6.9-6.6 6.8-5.4 6.8-4.6 6.9-4.6 6.8-4.7 6.8-4.6 6.9-4.6 6.8-4.7 6.8-4.6 6.9-4.6 6.8-4.6 6.8-4.7 6.9-4.6 6.8-4.6 6.8-4.7 6.9-4.6 6.8-4.6 6.8-4.7 6.9-4.6 6.8-4.6 6.9-4.6 6.8-4.7 6.8-4.6 6.9-4.6 6.8-4.7 6.8-4.6 6.9-4.6 6.8-4.7 6.8-4.6 6.9-4.6 6.8-4.6 6.8-4.7 6.9-4.6 6.8-4.6 6.8-4.7 6.9-4.6 6.8-4.6 6.8-4.7 6.9-4.6 6.8-4.6 6.8-4.6 6.9-4.7M488.5 3198.7l6.8-1.9 6.9-1.9 6.8-1.8 6.8-1.9 6.9-2.8 6.8-5.8 6.8-10.4 6.9-10.4 6.8-10.4 6.8-10.9 6.9-11 6.8-11.1 6.8-11 6.9-10.7 6.8-6.6 6.8-6.6 6.9-6.6 6.8-5.4 6.8-4.6 6.9-4.6 6.8-4.7 6.8-4.6 6.9-4.6 6.8-4.7 6.8-4.6 6.9-4.6 6.8-4.6 6.8-4.7 6.9-4.6 6.8-4.6 6.8-4.7 6.9-4.6 6.8-4.6 6.8-4.7 6.9-4.6 6.8-4.6 6.9-4.6 6.8-4.7 6.8-4.6 6.9-4.6 6.8-4.7 6.8-4.6 6.9-4.6 6.8-4.7 6.8-4.6 6.9-4.6 6.8-4.6 6.8-4.7 6.9-4.6 6.8-4.6 6.8-4.7 6.9-4.6 6.8-4.6 6.8-4.7 6.9-4.6 6.8-4.6 6.8-4.6 6.9-4.7M488.5 3227l6.8-6.5 6.9-6.5 6.8-6.6 6.8-6.5 6.9-7.9 6.8-10.4 6.8-10.4 6.9-10.4 6.8-10.4 6.8-10.9 6.9-11 6.8-11.1 6.8-11 6.9-10.7 6.8-6.6 6.8-6.6 6.9-6.6 6.8-5.4 6.8-4.6 6.9-4.6 6.8-4.7 6.8-4.6 6.9-4.6 6.8-4.7 6.8-4.6 6.9-4.6 6.8-4.6 6.8-4.7 6.9-4.6 6.8-4.6 6.8-4.7 6.9-4.6 6.8-4.6 6.8-4.7 6.9-4.6 6.8-4.6 6.9-4.6 6.8-4.7 6.8-4.6 6.9-4.6 6.8-4.7 6.8-4.6 6.9-4.6 6.8-4.7 6.8-4.6 6.9-4.6 6.8-4.6 6.8-4.7 6.9-4.6 6.8-4.6 6.8-4.7 6.9-4.6 6.8-4.6 6.8-4.7 6.9-4.6 6.8-4.6 6.8-4.6 6.9-4.7M488.5 3051.4l6.8-3.1 6.9-3.1 6.8-3.1 6.8-1.8 6.9-0.6 6.8-0.7 6.8-0.5 6.9 0.8 6.8 0.9 6.8 0.8 6.9 1.5 6.8 1.8 6.8 1.8 6.9 1.8 6.8 1.4 6.8 1.3 6.9 1.4 6.8 0.8 6.8-0.7 6.9-4.5 6.8-4.5 6.8-4.5 6.9-4.5 6.8-4.5 6.8-4.5 6.9-4.5 6.8-4.5 6.8-4.5 6.9-4.5 6.8-4.5 6.8-4.6 6.9-4.5 6.8-4.6 6.8-4.5 6.9-4.6 6.8-4.5 6.9-4.5 6.8-4.6 6.8-4.5 6.9-4.6 6.8-4.5 6.8-4.6 6.9-4.5 6.8-4.6 6.8-4.5 6.9-4.6 6.8-4.5 6.8-4.6 6.9-4.5 6.8-4.6 6.8-4.5 6.9-4.6 6.8-4.5 6.8-4.6 6.9-4.5 6.8-4.6 6.8-15.5 6.9-6.5M488.5 3082.2l6.8-3.6 6.9-3.6 6.8-3.5 6.8-2.8 6.9-1.9 6.8-1.9 6.8-1.9 6.9-0.9 6.8-0.9 6.8-0.9 6.9-0.5 6.8-0.3 6.8-0.2 6.9-0.3 6.8-0.6 6.8-0.6 6.9-0.5 6.8-1 6.8-2 6.9-4.5 6.8-4.5 6.8-4.5 6.9-4.6 6.8-4.5 6.8-4.5 6.9-4.5 6.8-4.5 6.8-4.6 6.9-4.5 6.8-4.6 6.8-4.5 6.9-4.6 6.8-4.5 6.8-4.6 6.9-4.6 6.8-4.5 6.9-4.6 6.8-4.5 6.8-4.6 6.9-4.5 6.8-4.6 6.8-4.6 6.9-4.5 6.8-4.6 6.8-4.5 6.9-4.6 6.8-4.6 6.8-4.5 6.9-4.6 6.8-4.5 6.8-4.6 6.9-4.6 6.8-4.5 6.8-4.6 6.9-4.5 6.8-4.6 6.8-12 6.9-5.9M488.5 3110.8l6.8-4 6.9-4.1 6.8-4 6.8-3.5 6.9-3.1 6.8-3.2 6.8-3 6.9-2.6 6.8-2.6 6.8-2.5 6.9-2.4 6.8-2.2 6.8-2.1 6.9-2.2 6.8-2.4 6.8-2.4 6.9-2.4 6.8-2.6 6.8-3.1 6.9-4.5 6.8-4.6 6.8-4.5 6.9-4.6 6.8-4.5 6.8-4.6 6.9-4.5 6.8-4.6 6.8-4.5 6.9-4.6 6.8-4.5 6.8-4.6 6.9-4.6 6.8-4.6 6.8-4.5 6.9-4.6 6.8-4.6 6.9-4.5 6.8-4.6 6.8-4.6 6.9-4.5 6.8-4.6 6.8-4.6 6.9-4.5 6.8-4.6 6.8-4.6 6.9-4.5 6.8-4.6 6.8-4.6 6.9-4.6 6.8-4.5 6.8-4.6 6.9-4.6 6.8-4.5 6.8-4.6 6.9-4.6 6.8-4.5 6.8-8.7 6.9-5.3" fill="none" stroke="#000" stroke-width="0.8" stroke-linejoin="round"/>
<path d="M488.5 3036L488.5 3227" stroke="#000" stroke-width="2.4" fill="none"/>
<path d="M884.9 2859.3L884.9 2886.3" stroke="#000" stroke-width="1.6" fill="none"/>
<polygon points="488.5,3140 576.9,3181.9 973.2,2913.3 884.9,2877.3" fill="#000"/>
<path d="M576.9 3121.9l6.8-2.8 6.9-2.9 6.8-2.8 6.8-2.9 6.9-2.4 6.8-2.3 6.8-2.4 6.9-2.4 6.8-1.4 6.8-1.4 6.9-1.3 6.8-1.4 6.8-1.3 6.9-1.4 6.8-1.5 6.8-1.4 6.9-1.4 6.8-3.6 6.8-4.1 6.9-4.1 6.8-4 6.8-4.1 6.9-4.1 6.8-4.5 6.8-4.5 6.9-4.6 6.8-4.5 6.8-4.6 6.9-4.5 6.8-4.6 6.8-4.5 6.9-4.6 6.8-4.5 6.8-4.6 6.9-4.5 6.8-4.6 6.8-4.5 6.9-4.6 6.8-4.5 6.8-4.6 6.9-4.5 6.8-4.6 6.8-4.5 6.9-4.6 6.8-4.5 6.8-4.6 6.9-4.5 6.8-4.6 6.8-4.5 6.9-4.6 6.8-4.5 6.8-4.6 6.9-4.5 6.8-4.6 6.8-4.5 6.9-4.6 6.8-5.7 6.8-11.4 0 5.4 -6.8 8.3 -6.8 5.2 -6.9 4.6 -6.8 4.5 -6.8 4.6 -6.9 4.6 -6.8 4.5 -6.8 4.6 -6.9 4.6 -6.8 4.5 -6.8 4.6 -6.9 4.6 -6.8 4.5 -6.8 4.6 -6.9 4.5 -6.8 4.6 -6.8 4.6 -6.9 4.5 -6.8 4.6 -6.8 4.6 -6.9 4.5 -6.8 4.6 -6.8 4.6 -6.9 4.5 -6.8 4.6 -6.8 4.6 -6.9 4.5 -6.8 4.6 -6.8 4.5 -6.9 4.6 -6.8 4.6 -6.8 4.5 -6.9 4.6 -6.8 4.6 -6.8 4.5 -6.9 4.3 -6.8 4.3 -6.8 4.3 -6.9 4.3 -6.8 4.3 -6.8 4.1 -6.9 2.8 -6.8 2.8 -6.8 2.9 -6.9 2.8 -6.8 2.8 -6.8 2.8 -6.9 2.8 -6.8 2.8 -6.8 2.9 -6.9 3.4 -6.8 3.3 -6.8 3.4 -6.9 3.4 -6.8 3.6 -6.8 3.6 -6.9 3.7 -6.8 3.6z" fill="#00c18c"/>
<path d="M576.9 3145.8l6.8-3.6 6.9-3.7 6.8-3.6 6.8-3.6 6.9-3.4 6.8-3.4 6.8-3.3 6.9-3.4 6.8-2.9 6.8-2.8 6.9-2.8 6.8-2.8 6.8-2.8 6.9-2.8 6.8-2.9 6.8-2.8 6.9-2.8 6.8-4.1 6.8-4.3 6.9-4.3 6.8-4.3 6.8-4.3 6.9-4.3 6.8-4.5 6.8-4.6 6.9-4.6 6.8-4.5 6.8-4.6 6.9-4.6 6.8-4.5 6.8-4.6 6.9-4.5 6.8-4.6 6.8-4.6 6.9-4.5 6.8-4.6 6.8-4.6 6.9-4.5 6.8-4.6 6.8-4.6 6.9-4.5 6.8-4.6 6.8-4.6 6.9-4.5 6.8-4.6 6.8-4.5 6.9-4.6 6.8-4.6 6.8-4.5 6.9-4.6 6.8-4.6 6.8-4.5 6.9-4.6 6.8-4.6 6.8-4.5 6.9-4.6 6.8-5.2 6.8-8.3 0 0 -6.8 8.3 -6.8 5.2 -6.9 4.6 -6.8 4.5 -6.8 4.6 -6.9 4.6 -6.8 4.5 -6.8 4.6 -6.9 4.6 -6.8 4.5 -6.8 4.6 -6.9 4.6 -6.8 4.5 -6.8 4.6 -6.9 4.5 -6.8 4.6 -6.8 4.6 -6.9 4.5 -6.8 4.6 -6.8 4.6 -6.9 4.5 -6.8 4.6 -6.8 4.6 -6.9 4.5 -6.8 4.6 -6.8 4.6 -6.9 4.5 -6.8 4.6 -6.8 4.5 -6.9 4.6 -6.8 4.6 -6.8 4.5 -6.9 4.6 -6.8 4.6 -6.8 4.5 -6.9 4.3 -6.8 4.3 -6.8 4.3 -6.9 4.3 -6.8 4.3 -6.8 4.1 -6.9 2.8 -6.8 2.8 -6.8 3.5 -6.9 4.6 -6.8 4.5 -6.8 4.5 -6.9 4.6 -6.8 4.5 -6.8 4.5 -6.9 4.5 -6.8 4.6 -6.8 4.5 -6.9 4.5 -6.8 4.6 -6.8 4.5 -6.9 4.5 -6.8 4.5z" fill="#03bc9d"/>
<path d="M576.9 3164.9l6.8-4.5 6.9-4.5 6.8-4.5 6.8-4.6 6.9-4.5 6.8-4.5 6.8-4.6 6.9-4.5 6.8-4.5 6.8-4.5 6.9-4.6 6.8-4.5 6.8-4.5 6.9-4.6 6.8-3.5 6.8-2.8 6.9-2.8 6.8-4.1 6.8-4.3 6.9-4.3 6.8-4.3 6.8-4.3 6.9-4.3 6.8-4.5 6.8-4.6 6.9-4.6 6.8-4.5 6.8-4.6 6.9-4.6 6.8-4.5 6.8-4.6 6.9-4.5 6.8-4.6 6.8-4.6 6.9-4.5 6.8-4.6 6.8-4.6 6.9-4.5 6.8-4.6 6.8-4.6 6.9-4.5 6.8-4.6 6.8-4.6 6.9-4.5 6.8-4.6 6.8-4.5 6.9-4.6 6.8-4.6 6.8-4.5 6.9-4.6 6.8-4.6 6.8-4.5 6.9-4.6 6.8-4.6 6.8-4.5 6.9-4.6 6.8-5.2 6.8-8.3 0 12.2 -6.8 4.6 -6.8 4.6 -6.9 4.6 -6.8 4.7 -6.8 4.6 -6.9 4.6 -6.8 4.6 -6.8 4.6 -6.9 4.7 -6.8 4.6 -6.8 4.6 -6.9 4.6 -6.8 4.7 -6.8 4.6 -6.9 4.6 -6.8 4.6 -6.8 4.6 -6.9 4.7 -6.8 4.6 -6.8 4.6 -6.9 4.6 -6.8 4.7 -6.8 4.6 -6.9 4.6 -6.8 4.6 -6.8 4.6 -6.9 4.7 -6.8 4.6 -6.8 4.6 -6.9 4.6 -6.8 4.6 -6.8 4.7 -6.9 4.6 -6.8 4.6 -6.8 4.6 -6.9 4.7 -6.8 4.6 -6.8 4.6 -6.9 4.6 -6.8 4.6 -6.8 4.7 -6.9 4.6 -6.8 4.6 -6.8 4.6 -6.9 4.7 -6.8 4.6 -6.8 4.6 -6.9 4.6 -6.8 4.6 -6.8 4.7 -6.9 4.6 -6.8 4.6 -6.8 4.6 -6.9 4.7 -6.8 4.6 -6.8 4.6 -6.9 4.6 -6.8 4.6z" fill="#000"/>
<path d="M576.9 3182.9l6.8-4.6 6.9-4.6 6.8-4.6 6.8-4.6 6.9-4.7 6.8-4.6 6.8-4.6 6.9-4.6 6.8-4.7 6.8-4.6 6.9-4.6 6.8-4.6 6.8-4.6 6.9-4.7 6.8-4.6 6.8-4.6 6.9-4.6 6.8-4.7 6.8-4.6 6.9-4.6 6.8-4.6 6.8-4.6 6.9-4.7 6.8-4.6 6.8-4.6 6.9-4.6 6.8-4.7 6.8-4.6 6.9-4.6 6.8-4.6 6.8-4.6 6.9-4.7 6.8-4.6 6.8-4.6 6.9-4.6 6.8-4.6 6.8-4.7 6.9-4.6 6.8-4.6 6.8-4.6 6.9-4.7 6.8-4.6 6.8-4.6 6.9-4.6 6.8-4.6 6.8-4.7 6.9-4.6 6.8-4.6 6.8-4.6 6.9-4.7 6.8-4.6 6.8-4.6 6.9-4.6 6.8-4.6 6.8-4.7 6.9-4.6 6.8-4.6 6.8-4.6 0 0 -6.8 4.6 -6.8 4.6 -6.9 4.6 -6.8 4.7 -6.8 4.6 -6.9 4.6 -6.8 4.6 -6.8 4.6 -6.9 4.7 -6.8 4.6 -6.8 4.6 -6.9 4.6 -6.8 4.7 -6.8 4.6 -6.9 4.6 -6.8 4.6 -6.8 4.6 -6.9 4.7 -6.8 4.6 -6.8 4.6 -6.9 4.7 -6.8 4.6 -6.8 4.7 -6.9 4.6 -6.8 4.7 -6.8 4.6 -6.9 4.7 -6.8 4.6 -6.8 4.7 -6.9 4.6 -6.8 4.7 -6.8 4.6 -6.9 4.7 -6.8 4.7 -6.8 4.6 -6.9 4.7 -6.8 4.6 -6.8 4.7 -6.9 4.6 -6.8 4.7 -6.8 4.6 -6.9 5.1 -6.8 6.4 -6.8 6.5 -6.9 6.4 -6.8 6.4 -6.8 6.5 -6.9 6.4 -6.8 6.3 -6.8 4.5 -6.9 3.8 -6.8 3.8 -6.8 3.8 -6.9 3.8 -6.8 3.8 -6.8 3.8 -6.9 3.8 -6.8 3.8z" fill="#1d9fde"/>
<path d="M576.9 3189.9l6.8-3.8 6.9-3.8 6.8-3.8 6.8-3.8 6.9-3.8 6.8-3.8 6.8-3.8 6.9-3.8 6.8-4.5 6.8-6.3 6.9-6.4 6.8-6.5 6.8-6.4 6.9-6.4 6.8-6.5 6.8-6.4 6.9-5.1 6.8-4.6 6.8-4.7 6.9-4.6 6.8-4.7 6.8-4.6 6.9-4.7 6.8-4.6 6.8-4.7 6.9-4.7 6.8-4.6 6.8-4.7 6.9-4.6 6.8-4.7 6.8-4.6 6.9-4.7 6.8-4.6 6.8-4.7 6.9-4.6 6.8-4.7 6.8-4.6 6.9-4.7 6.8-4.6 6.8-4.6 6.9-4.7 6.8-4.6 6.8-4.6 6.9-4.6 6.8-4.6 6.8-4.7 6.9-4.6 6.8-4.6 6.8-4.6 6.9-4.7 6.8-4.6 6.8-4.6 6.9-4.6 6.8-4.6 6.8-4.7 6.9-4.6 6.8-4.6 6.8-4.6 0 0 -6.8 4.6 -6.8 4.6 -6.9 4.6 -6.8 4.7 -6.8 4.6 -6.9 4.6 -6.8 4.6 -6.8 4.6 -6.9 4.7 -6.8 4.6 -6.8 4.6 -6.9 4.6 -6.8 4.7 -6.8 4.6 -6.9 4.6 -6.8 4.6 -6.8 4.6 -6.9 4.7 -6.8 4.6 -6.8 4.6 -6.9 4.7 -6.8 4.6 -6.8 4.7 -6.9 4.6 -6.8 4.7 -6.8 4.6 -6.9 4.7 -6.8 4.6 -6.8 4.7 -6.9 4.6 -6.8 4.7 -6.8 4.6 -6.9 4.7 -6.8 4.7 -6.8 4.6 -6.9 4.7 -6.8 4.6 -6.8 4.7 -6.9 4.6 -6.8 4.7 -6.8 4.6 -6.9 5.1 -6.8 6.4 -6.8 6.5 -6.9 6.4 -6.8 6.4 -6.8 6.5 -6.9 6.4 -6.8 6.5 -6.8 5.7 -6.9 5.5 -6.8 5.5 -6.8 5.5 -6.9 5.5 -6.8 5.5 -6.8 5.5 -6.9 5.5 -6.8 5.5z" fill="#2495e7"/>
<path d="M699.9 3088.4 966.4 2909.7M679.4 3098.3 699.9 3084.6M665.7 3103.7 686.2 3089.9M652.1 3109 672.6 3095.3M638.4 3114.4 665.7 3096.1M617.9 3124.3 658.9 3096.9M590.6 3138.9 652.1 3097.6M576.9 3144.2 645.2 3098.4M576.9 3140.4 638.4 3099.2M576.9 3136.6 624.7 3104.6M576.9 3132.8 617.9 3105.3M576.9 3129 604.2 3110.7M576.9 3125.2 590.6 3116.1" fill="none" stroke="#000" stroke-width="1.5" stroke-opacity="0.85"/>
<path d="M699.9 3088.4 713.6 3079.2M576.9 3163.2 665.7 3103.7M576.9 3159.4 652.1 3109M576.9 3155.6 631.6 3119M576.9 3151.8 617.9 3124.3M576.9 3148 590.6 3138.9" fill="none" stroke="#000" stroke-width="1.5" stroke-opacity="0.85"/>
<path d="M576.9 3121.9V3204.9M583.7 3119.1V3199.4M590.6 3116.2V3193.9M597.4 3113.4V3188.4M604.2 3110.5V3182.9M611.1 3108.1V3177.4M617.9 3105.8V3171.9M624.7 3103.4V3166.4M631.6 3101V3160.9M638.4 3099.6V3155.2M645.2 3098.2V3148.7M652.1 3096.9V3142.3M658.9 3095.5V3135.8M665.7 3094.2V3129.4M672.6 3092.8V3123M679.4 3091.3V3116.5M686.2 3089.9V3110.1M693.1 3088.5V3105M699.9 3084.9V3100.4M706.7 3080.8V3095.7M713.6 3076.7V3091.1M720.4 3072.7V3086.4M727.2 3068.6V3081.8M734.1 3064.5V3077.1M740.9 3060V3072.5M747.7 3055.5V3067.8M754.6 3050.9V3063.1M761.4 3046.4V3058.5M768.2 3041.8V3053.8M775.1 3037.3V3049.2M781.9 3032.7V3044.5M788.7 3028.2V3039.9M795.6 3023.6V3035.2M802.4 3019.1V3030.6M809.2 3014.5V3025.9M816.1 3010V3021.3M822.9 3005.4V3016.6M829.7 3000.9V3012M836.6 2996.3V3007.3M843.4 2991.8V3002.7M850.2 2987.2V2998.1M857.1 2982.7V2993.4M863.9 2978.1V2988.8M870.7 2973.6V2984.2M877.6 2969V2979.6M884.4 2964.5V2975M891.2 2959.9V2970.3M898.1 2955.4V2965.7M904.9 2950.8V2961.1M911.7 2946.3V2956.5M918.6 2941.7V2951.8M925.4 2937.2V2947.2M932.2 2932.6V2942.6M939.1 2928.1V2938M945.9 2923.5V2933.4M952.7 2919V2928.7M959.6 2914.4V2924.1M966.4 2908.7V2919.5M973.2 2897.3V2914.9" fill="none" stroke="#000" stroke-width="1.2" stroke-opacity="0.8"/>
<path d="M576.9 3121.9l6.8-2.8 6.9-2.9 6.8-2.8 6.8-2.9 6.9-2.4 6.8-2.3 6.8-2.4 6.9-2.4 6.8-1.4 6.8-1.4 6.9-1.3 6.8-1.4 6.8-1.3 6.9-1.4 6.8-1.5 6.8-1.4 6.9-1.4 6.8-3.6 6.8-4.1 6.9-4.1 6.8-4 6.8-4.1 6.9-4.1 6.8-4.5 6.8-4.5 6.9-4.6 6.8-4.5 6.8-4.6 6.9-4.5 6.8-4.6 6.8-4.5 6.9-4.6 6.8-4.5 6.8-4.6 6.9-4.5 6.8-4.6 6.8-4.5 6.9-4.6 6.8-4.5 6.8-4.6 6.9-4.5 6.8-4.6 6.8-4.5 6.9-4.6 6.8-4.5 6.8-4.6 6.9-4.5 6.8-4.6 6.8-4.5 6.9-4.6 6.8-4.5 6.8-4.6 6.9-4.5 6.8-4.6 6.8-4.5 6.9-4.6 6.8-5.7 6.8-11.4M576.9 3145.8l6.8-3.6 6.9-3.7 6.8-3.6 6.8-3.6 6.9-3.4 6.8-3.4 6.8-3.3 6.9-3.4 6.8-2.9 6.8-2.8 6.9-2.8 6.8-2.8 6.8-2.8 6.9-2.8 6.8-2.9 6.8-2.8 6.9-2.8 6.8-4.1 6.8-4.3 6.9-4.3 6.8-4.3 6.8-4.3 6.9-4.3 6.8-4.5 6.8-4.6 6.9-4.6 6.8-4.5 6.8-4.6 6.9-4.6 6.8-4.5 6.8-4.6 6.9-4.5 6.8-4.6 6.8-4.6 6.9-4.5 6.8-4.6 6.8-4.6 6.9-4.5 6.8-4.6 6.8-4.6 6.9-4.5 6.8-4.6 6.8-4.6 6.9-4.5 6.8-4.6 6.8-4.5 6.9-4.6 6.8-4.6 6.8-4.5 6.9-4.6 6.8-4.6 6.8-4.5 6.9-4.6 6.8-4.6 6.8-4.5 6.9-4.6 6.8-5.2 6.8-8.3M576.9 3164.9l6.8-4.5 6.9-4.5 6.8-4.5 6.8-4.6 6.9-4.5 6.8-4.5 6.8-4.6 6.9-4.5 6.8-4.5 6.8-4.5 6.9-4.6 6.8-4.5 6.8-4.5 6.9-4.6 6.8-3.5 6.8-2.8 6.9-2.8 6.8-4.1 6.8-4.3 6.9-4.3 6.8-4.3 6.8-4.3 6.9-4.3 6.8-4.5 6.8-4.6 6.9-4.6 6.8-4.5 6.8-4.6 6.9-4.6 6.8-4.5 6.8-4.6 6.9-4.5 6.8-4.6 6.8-4.6 6.9-4.5 6.8-4.6 6.8-4.6 6.9-4.5 6.8-4.6 6.8-4.6 6.9-4.5 6.8-4.6 6.8-4.6 6.9-4.5 6.8-4.6 6.8-4.5 6.9-4.6 6.8-4.6 6.8-4.5 6.9-4.6 6.8-4.6 6.8-4.5 6.9-4.6 6.8-4.6 6.8-4.5 6.9-4.6 6.8-5.2 6.8-8.3M576.9 3182.9l6.8-4.6 6.9-4.6 6.8-4.6 6.8-4.6 6.9-4.7 6.8-4.6 6.8-4.6 6.9-4.6 6.8-4.7 6.8-4.6 6.9-4.6 6.8-4.6 6.8-4.6 6.9-4.7 6.8-4.6 6.8-4.6 6.9-4.6 6.8-4.7 6.8-4.6 6.9-4.6 6.8-4.6 6.8-4.6 6.9-4.7 6.8-4.6 6.8-4.6 6.9-4.6 6.8-4.7 6.8-4.6 6.9-4.6 6.8-4.6 6.8-4.6 6.9-4.7 6.8-4.6 6.8-4.6 6.9-4.6 6.8-4.6 6.8-4.7 6.9-4.6 6.8-4.6 6.8-4.6 6.9-4.7 6.8-4.6 6.8-4.6 6.9-4.6 6.8-4.6 6.8-4.7 6.9-4.6 6.8-4.6 6.8-4.6 6.9-4.7 6.8-4.6 6.8-4.6 6.9-4.6 6.8-4.6 6.8-4.7 6.9-4.6 6.8-4.6 6.8-4.6M576.9 3189.9l6.8-3.8 6.9-3.8 6.8-3.8 6.8-3.8 6.9-3.8 6.8-3.8 6.8-3.8 6.9-3.8 6.8-4.5 6.8-6.3 6.9-6.4 6.8-6.5 6.8-6.4 6.9-6.4 6.8-6.5 6.8-6.4 6.9-5.1 6.8-4.6 6.8-4.7 6.9-4.6 6.8-4.7 6.8-4.6 6.9-4.7 6.8-4.6 6.8-4.7 6.9-4.7 6.8-4.6 6.8-4.7 6.9-4.6 6.8-4.7 6.8-4.6 6.9-4.7 6.8-4.6 6.8-4.7 6.9-4.6 6.8-4.7 6.8-4.6 6.9-4.7 6.8-4.6 6.8-4.6 6.9-4.7 6.8-4.6 6.8-4.6 6.9-4.6 6.8-4.6 6.8-4.7 6.9-4.6 6.8-4.6 6.8-4.6 6.9-4.7 6.8-4.6 6.8-4.6 6.9-4.6 6.8-4.6 6.8-4.7 6.9-4.6 6.8-4.6 6.8-4.6M576.9 3204.9l6.8-5.5 6.9-5.5 6.8-5.5 6.8-5.5 6.9-5.5 6.8-5.5 6.8-5.5 6.9-5.5 6.8-5.7 6.8-6.5 6.9-6.4 6.8-6.5 6.8-6.4 6.9-6.4 6.8-6.5 6.8-6.4 6.9-5.1 6.8-4.6 6.8-4.7 6.9-4.6 6.8-4.7 6.8-4.6 6.9-4.7 6.8-4.6 6.8-4.7 6.9-4.7 6.8-4.6 6.8-4.7 6.9-4.6 6.8-4.7 6.8-4.6 6.9-4.7 6.8-4.6 6.8-4.7 6.9-4.6 6.8-4.7 6.8-4.6 6.9-4.7 6.8-4.6 6.8-4.6 6.9-4.7 6.8-4.6 6.8-4.6 6.9-4.6 6.8-4.6 6.8-4.7 6.9-4.6 6.8-4.6 6.8-4.6 6.9-4.7 6.8-4.6 6.8-4.6 6.9-4.6 6.8-4.6 6.8-4.7 6.9-4.6 6.8-4.6 6.8-4.6" fill="none" stroke="#000" stroke-width="0.8" stroke-linejoin="round"/>
<path d="M576.9 3121.9L576.9 3204.9" stroke="#000" stroke-width="2.4" fill="none"/>
<path d="M973.2 2897.3L973.2 2914.9" stroke="#000" stroke-width="1.6" fill="none"/>
<polygon points="576.9,3168.9 665.3,3210.9 1061.6,2942.2 973.2,2906.3" fill="#000"/>
<path d="M665.3 3173.9l6.8-3.6 6.8-3.5 6.9-3.6 6.8-3.5 6.8-3.5 6.9-3.4 6.8-2.5 6.8-2.5 6.9-2.5 6.8-2.5 6.8-2.5 6.9-2.9 6.8-3.4 6.8-3.3 6.9-3.4 6.8-3.4 6.8-3.4 6.9-4.1 6.8-4.5 6.9-4.6 6.8-4.5 6.8-4.6 6.9-4.5 6.8-4.6 6.8-4.5 6.9-4.6 6.8-4.5 6.8-4.6 6.9-4.6 6.8-4.5 6.8-4.6 6.9-4.5 6.8-4.6 6.8-4.5 6.9-4.6 6.8-4.5 6.8-4.6 6.9-4.6 6.8-4.5 6.8-4.6 6.9-4.5 6.8-4.6 6.8-4.5 6.9-4.6 6.8-4.5 6.8-4.6 6.9-4.6 6.8-4.5 6.8-4.6 6.9-4.5 6.8-4.6 6.8-4.5 6.9-4.6 6.8-4.5 6.8-4.6 6.9-4.6 6.8-5.2 6.8-8.9 0 2 -6.8 6.9 -6.8 5.2 -6.9 4.6 -6.8 4.6 -6.8 4.5 -6.9 4.6 -6.8 4.5 -6.8 4.6 -6.9 4.5 -6.8 4.6 -6.8 4.5 -6.9 4.6 -6.8 4.6 -6.8 4.5 -6.9 4.6 -6.8 4.5 -6.8 4.6 -6.9 4.5 -6.8 4.6 -6.8 4.5 -6.9 4.6 -6.8 4.6 -6.8 4.5 -6.9 4.6 -6.8 4.5 -6.8 4.6 -6.9 4.5 -6.8 4.6 -6.8 4.5 -6.9 4.6 -6.8 4.6 -6.8 4.5 -6.9 4.6 -6.8 4.5 -6.8 4.6 -6.9 4.5 -6.8 4.6 -6.8 4.5 -6.9 4.6 -6.8 4.5 -6.9 4.1 -6.8 3.4 -6.8 3.4 -6.9 3.4 -6.8 4.3 -6.8 4.5 -6.9 4.6 -6.8 4.5 -6.8 4.5 -6.9 4.6 -6.8 4.5 -6.8 4.5 -6.9 4.5 -6.8 4.6 -6.8 4.5 -6.9 4.5 -6.8 4.6 -6.8 4.5z" fill="#0a7a72"/>
<path d="M665.3 3193.9l6.8-4.5 6.8-4.6 6.9-4.5 6.8-4.5 6.8-4.6 6.9-4.5 6.8-4.5 6.8-4.5 6.9-4.6 6.8-4.5 6.8-4.5 6.9-4.6 6.8-4.5 6.8-4.3 6.9-3.4 6.8-3.4 6.8-3.4 6.9-4.1 6.8-4.5 6.9-4.6 6.8-4.5 6.8-4.6 6.9-4.5 6.8-4.6 6.8-4.5 6.9-4.6 6.8-4.5 6.8-4.6 6.9-4.6 6.8-4.5 6.8-4.6 6.9-4.5 6.8-4.6 6.8-4.5 6.9-4.6 6.8-4.5 6.8-4.6 6.9-4.6 6.8-4.5 6.8-4.6 6.9-4.5 6.8-4.6 6.8-4.5 6.9-4.6 6.8-4.5 6.8-4.6 6.9-4.6 6.8-4.5 6.8-4.6 6.9-4.5 6.8-4.6 6.8-4.5 6.9-4.6 6.8-4.5 6.8-4.6 6.9-4.6 6.8-5.2 6.8-6.9 0 12.6 -6.8 4.6 -6.8 4.7 -6.9 4.6 -6.8 4.6 -6.8 4.6 -6.9 4.6 -6.8 4.7 -6.8 4.6 -6.9 4.6 -6.8 4.6 -6.8 4.6 -6.9 4.7 -6.8 4.6 -6.8 4.6 -6.9 4.6 -6.8 4.7 -6.8 4.6 -6.9 4.6 -6.8 4.6 -6.8 4.6 -6.9 4.7 -6.8 4.6 -6.8 4.6 -6.9 4.6 -6.8 4.7 -6.8 4.6 -6.9 4.6 -6.8 4.6 -6.8 4.6 -6.9 4.7 -6.8 4.6 -6.8 4.6 -6.9 4.6 -6.8 4.7 -6.8 4.6 -6.9 4.6 -6.8 4.6 -6.8 4.6 -6.9 4.7 -6.8 4.6 -6.9 4.6 -6.8 4.6 -6.8 4.7 -6.9 4.6 -6.8 4.6 -6.8 4.6 -6.9 4.6 -6.8 4.7 -6.8 4.6 -6.9 4.6 -6.8 4.6 -6.8 4.7 -6.9 4.6 -6.8 4.6 -6.8 4.6 -6.9 4.6 -6.8 4.7 -6.8 4.6z" fill="#000"/>
<path d="M665.3 3211.9l6.8-4.6 6.8-4.7 6.9-4.6 6.8-4.6 6.8-4.6 6.9-4.6 6.8-4.7 6.8-4.6 6.9-4.6 6.8-4.6 6.8-4.7 6.9-4.6 6.8-4.6 6.8-4.6 6.9-4.6 6.8-4.7 6.8-4.6 6.9-4.6 6.8-4.6 6.9-4.7 6.8-4.6 6.8-4.6 6.9-4.6 6.8-4.6 6.8-4.7 6.9-4.6 6.8-4.6 6.8-4.6 6.9-4.7 6.8-4.6 6.8-4.6 6.9-4.6 6.8-4.6 6.8-4.7 6.9-4.6 6.8-4.6 6.8-4.6 6.9-4.7 6.8-4.6 6.8-4.6 6.9-4.6 6.8-4.6 6.8-4.7 6.9-4.6 6.8-4.6 6.8-4.6 6.9-4.7 6.8-4.6 6.8-4.6 6.9-4.6 6.8-4.6 6.8-4.7 6.9-4.6 6.8-4.6 6.8-4.6 6.9-4.6 6.8-4.7 6.8-4.6 0 0 -6.8 4.6 -6.8 4.7 -6.9 4.6 -6.8 4.6 -6.8 4.6 -6.9 4.6 -6.8 4.7 -6.8 4.6 -6.9 4.6 -6.8 4.6 -6.8 4.6 -6.9 4.7 -6.8 4.6 -6.8 4.6 -6.9 4.6 -6.8 4.7 -6.8 4.6 -6.9 4.6 -6.8 4.6 -6.8 4.6 -6.9 4.7 -6.8 4.6 -6.8 4.6 -6.9 4.6 -6.8 4.7 -6.8 4.6 -6.9 4.6 -6.8 4.6 -6.8 4.6 -6.9 4.7 -6.8 4.6 -6.8 4.6 -6.9 4.6 -6.8 4.7 -6.8 4.6 -6.9 4.6 -6.8 4.6 -6.8 4.6 -6.9 4.7 -6.8 4.6 -6.9 4.6 -6.8 4.7 -6.8 5.7 -6.9 5.6 -6.8 5.6 -6.8 5.6 -6.9 5.6 -6.8 5.5 -6.8 5.5 -6.9 5.6 -6.8 5.5 -6.8 5.5 -6.9 5.5 -6.8 5.6 -6.8 5.5 -6.9 5.5 -6.8 5.6 -6.8 5.5z" fill="#0a5a6a"/>
<path d="M665.3 3194.2 754.1 3134.6M665.3 3190.4 740.4 3140M665.3 3186.6 726.8 3145.3M665.3 3182.8 713.1 3150.7M665.3 3179 699.4 3156.1M665.3 3175.2 672.1 3170.6" fill="none" stroke="#000" stroke-width="1.5" stroke-opacity="0.85"/>
<path d="M665.3 3173.9V3226.9M672.1 3170.3V3221.4M678.9 3166.8V3215.8M685.8 3163.2V3210.3M692.6 3159.7V3204.8M699.4 3156.2V3199.2M706.3 3152.8V3193.7M713.1 3150.3V3188.2M719.9 3147.8V3182.7M726.8 3145.3V3177.1M733.6 3142.8V3171.6M740.4 3140.3V3166.1M747.3 3137.4V3160.5M754.1 3134V3154.9M760.9 3130.7V3149.3M767.8 3127.3V3143.7M774.6 3123.9V3138M781.4 3120.5V3133.3M788.3 3116.4V3128.7M795.1 3111.9V3124.1M802 3107.3V3119.4M808.8 3102.8V3114.8M815.6 3098.2V3110.2M822.5 3093.7V3105.6M829.3 3089.1V3101M836.1 3084.6V3096.3M843 3080V3091.7M849.8 3075.5V3087.1M856.6 3070.9V3082.5M863.5 3066.3V3077.8M870.3 3061.8V3073.2M877.1 3057.2V3068.6M884 3052.7V3064M890.8 3048.1V3059.4M897.6 3043.6V3054.7M904.5 3039V3050.1M911.3 3034.5V3045.5M918.1 3029.9V3040.9M925 3025.3V3036.2M931.8 3020.8V3031.6M938.6 3016.2V3027M945.5 3011.7V3022.4M952.3 3007.1V3017.8M959.1 3002.6V3013.1M966 2998V3008.5M972.8 2993.5V3003.9M979.6 2988.9V2999.3M986.5 2984.3V2994.6M993.3 2979.8V2990M1000.1 2975.2V2985.4M1007 2970.7V2980.8M1013.8 2966.1V2976.2M1020.6 2961.6V2971.5M1027.5 2957V2966.9M1034.3 2952.5V2962.3M1041.1 2947.9V2957.7M1048 2943.3V2953.1M1054.8 2938.1V2948.4M1061.6 2929.2V2943.8" fill="none" stroke="#000" stroke-width="1.3" stroke-opacity="0.8"/>
<path d="M665.3 3173.9l6.8-3.6 6.8-3.5 6.9-3.6 6.8-3.5 6.8-3.5 6.9-3.4 6.8-2.5 6.8-2.5 6.9-2.5 6.8-2.5 6.8-2.5 6.9-2.9 6.8-3.4 6.8-3.3 6.9-3.4 6.8-3.4 6.8-3.4 6.9-4.1 6.8-4.5 6.9-4.6 6.8-4.5 6.8-4.6 6.9-4.5 6.8-4.6 6.8-4.5 6.9-4.6 6.8-4.5 6.8-4.6 6.9-4.6 6.8-4.5 6.8-4.6 6.9-4.5 6.8-4.6 6.8-4.5 6.9-4.6 6.8-4.5 6.8-4.6 6.9-4.6 6.8-4.5 6.8-4.6 6.9-4.5 6.8-4.6 6.8-4.5 6.9-4.6 6.8-4.5 6.8-4.6 6.9-4.6 6.8-4.5 6.8-4.6 6.9-4.5 6.8-4.6 6.8-4.5 6.9-4.6 6.8-4.5 6.8-4.6 6.9-4.6 6.8-5.2 6.8-8.9M665.3 3193.9l6.8-4.5 6.8-4.6 6.9-4.5 6.8-4.5 6.8-4.6 6.9-4.5 6.8-4.5 6.8-4.5 6.9-4.6 6.8-4.5 6.8-4.5 6.9-4.6 6.8-4.5 6.8-4.3 6.9-3.4 6.8-3.4 6.8-3.4 6.9-4.1 6.8-4.5 6.9-4.6 6.8-4.5 6.8-4.6 6.9-4.5 6.8-4.6 6.8-4.5 6.9-4.6 6.8-4.5 6.8-4.6 6.9-4.6 6.8-4.5 6.8-4.6 6.9-4.5 6.8-4.6 6.8-4.5 6.9-4.6 6.8-4.5 6.8-4.6 6.9-4.6 6.8-4.5 6.8-4.6 6.9-4.5 6.8-4.6 6.8-4.5 6.9-4.6 6.8-4.5 6.8-4.6 6.9-4.6 6.8-4.5 6.8-4.6 6.9-4.5 6.8-4.6 6.8-4.5 6.9-4.6 6.8-4.5 6.8-4.6 6.9-4.6 6.8-5.2 6.8-6.9M665.3 3211.9l6.8-4.6 6.8-4.7 6.9-4.6 6.8-4.6 6.8-4.6 6.9-4.6 6.8-4.7 6.8-4.6 6.9-4.6 6.8-4.6 6.8-4.7 6.9-4.6 6.8-4.6 6.8-4.6 6.9-4.6 6.8-4.7 6.8-4.6 6.9-4.6 6.8-4.6 6.9-4.7 6.8-4.6 6.8-4.6 6.9-4.6 6.8-4.6 6.8-4.7 6.9-4.6 6.8-4.6 6.8-4.6 6.9-4.7 6.8-4.6 6.8-4.6 6.9-4.6 6.8-4.6 6.8-4.7 6.9-4.6 6.8-4.6 6.8-4.6 6.9-4.7 6.8-4.6 6.8-4.6 6.9-4.6 6.8-4.6 6.8-4.7 6.9-4.6 6.8-4.6 6.8-4.6 6.9-4.7 6.8-4.6 6.8-4.6 6.9-4.6 6.8-4.6 6.8-4.7 6.9-4.6 6.8-4.6 6.8-4.6 6.9-4.6 6.8-4.7 6.8-4.6M665.3 3226.9l6.8-5.5 6.8-5.6 6.9-5.5 6.8-5.5 6.8-5.6 6.9-5.5 6.8-5.5 6.8-5.5 6.9-5.6 6.8-5.5 6.8-5.5 6.9-5.6 6.8-5.6 6.8-5.6 6.9-5.6 6.8-5.7 6.8-4.7 6.9-4.6 6.8-4.6 6.9-4.7 6.8-4.6 6.8-4.6 6.9-4.6 6.8-4.6 6.8-4.7 6.9-4.6 6.8-4.6 6.8-4.6 6.9-4.7 6.8-4.6 6.8-4.6 6.9-4.6 6.8-4.6 6.8-4.7 6.9-4.6 6.8-4.6 6.8-4.6 6.9-4.7 6.8-4.6 6.8-4.6 6.9-4.6 6.8-4.6 6.8-4.7 6.9-4.6 6.8-4.6 6.8-4.6 6.9-4.7 6.8-4.6 6.8-4.6 6.9-4.6 6.8-4.6 6.8-4.7 6.9-4.6 6.8-4.6 6.8-4.6 6.9-4.6 6.8-4.7 6.8-4.6" fill="none" stroke="#000" stroke-width="0.8" stroke-linejoin="round"/>
<path d="M665.3 3173.9L665.3 3226.9" stroke="#000" stroke-width="2.4" fill="none"/>
<path d="M1061.6 2929.2L1061.6 2943.8" stroke="#000" stroke-width="1.6" fill="none"/>
<polygon points="665.3,3197.9 753.7,3239.8 1150,2971.1 1061.6,2935.2" fill="#000"/>
<path d="M753.7 3223.8l6.8-4.2 6.8-4.2 6.9-4.3 6.8-4.2 6.8-4.3 6.9-4.2 6.8-4.2 6.8-4.3 6.9-4.2 6.8-4.2 6.8-4.3 6.9-4.3 6.8-4.6 6.8-4.5 6.9-4.6 6.8-4.6 6.8-4.5 6.9-4.6 6.8-4.5 6.8-4.6 6.9-4.6 6.8-4.5 6.8-4.6 6.9-4.5 6.8-4.6 6.8-4.6 6.9-4.5 6.8-4.6 6.8-4.5 6.9-4.6 6.8-4.5 6.8-4.6 6.9-4.6 6.8-4.5 6.8-4.6 6.9-4.5 6.8-4.6 6.8-4.6 6.9-4.5 6.8-4.6 6.8-4.5 6.9-4.6 6.8-4.5 6.8-4.6 6.9-4.6 6.8-4.5 6.9-4.6 6.8-4.5 6.8-4.6 6.9-4.6 6.8-4.5 6.8-4.6 6.9-4.5 6.8-4.6 6.8-4.6 6.9-4.5 6.8-5.1 6.8-8.1 0 1 -6.8 7.1 -6.8 5.1 -6.9 4.5 -6.8 4.6 -6.8 4.6 -6.9 4.5 -6.8 4.6 -6.8 4.5 -6.9 4.6 -6.8 4.6 -6.8 4.5 -6.9 4.6 -6.8 4.5 -6.9 4.6 -6.8 4.6 -6.8 4.5 -6.9 4.6 -6.8 4.5 -6.8 4.6 -6.9 4.5 -6.8 4.6 -6.8 4.6 -6.9 4.5 -6.8 4.6 -6.8 4.5 -6.9 4.6 -6.8 4.6 -6.8 4.5 -6.9 4.6 -6.8 4.5 -6.8 4.6 -6.9 4.5 -6.8 4.6 -6.8 4.6 -6.9 4.5 -6.8 4.6 -6.8 4.5 -6.9 4.6 -6.8 4.6 -6.8 4.5 -6.9 4.6 -6.8 4.5 -6.8 4.6 -6.9 4.6 -6.8 4.5 -6.8 4.6 -6.9 4.3 -6.8 4.3 -6.8 4.2 -6.9 4.2 -6.8 4.3 -6.8 4.2 -6.9 4.2 -6.8 4.3 -6.8 4.2 -6.9 4.3 -6.8 4.2 -6.8 4.2z" fill="#000"/>
<path d="M753.7 3223.8l6.8-4.2 6.8-4.2 6.9-4.3 6.8-4.2 6.8-4.3 6.9-4.2 6.8-4.2 6.8-4.3 6.9-4.2 6.8-4.2 6.8-4.3 6.9-4.3 6.8-4.6 6.8-4.5 6.9-4.6 6.8-4.6 6.8-4.5 6.9-4.6 6.8-4.5 6.8-4.6 6.9-4.6 6.8-4.5 6.8-4.6 6.9-4.5 6.8-4.6 6.8-4.6 6.9-4.5 6.8-4.6 6.8-4.5 6.9-4.6 6.8-4.5 6.8-4.6 6.9-4.6 6.8-4.5 6.8-4.6 6.9-4.5 6.8-4.6 6.8-4.6 6.9-4.5 6.8-4.6 6.8-4.5 6.9-4.6 6.8-4.5 6.8-4.6 6.9-4.6 6.8-4.5 6.9-4.6 6.8-4.5 6.8-4.6 6.9-4.6 6.8-4.5 6.8-4.6 6.9-4.5 6.8-4.6 6.8-4.6 6.9-4.5 6.8-5.1 6.8-7.1 0 12.6 -6.8 4.7 -6.8 4.6 -6.9 4.6 -6.8 4.6 -6.8 4.7 -6.9 4.6 -6.8 4.6 -6.8 4.6 -6.9 4.6 -6.8 4.7 -6.8 4.6 -6.9 4.6 -6.8 4.6 -6.9 4.7 -6.8 4.6 -6.8 4.6 -6.9 4.6 -6.8 4.6 -6.8 4.7 -6.9 4.6 -6.8 4.6 -6.8 4.6 -6.9 4.7 -6.8 4.6 -6.8 4.6 -6.9 4.6 -6.8 4.6 -6.8 4.7 -6.9 4.6 -6.8 4.6 -6.8 4.6 -6.9 4.7 -6.8 4.6 -6.8 4.6 -6.9 4.6 -6.8 4.6 -6.8 4.7 -6.9 4.6 -6.8 4.6 -6.8 4.6 -6.9 4.7 -6.8 4.6 -6.8 4.6 -6.9 4.6 -6.8 4.6 -6.8 4.7 -6.9 4.6 -6.8 4.6 -6.8 4.6 -6.9 4.7 -6.8 4.6 -6.8 4.6 -6.9 4.6 -6.8 4.6 -6.8 4.7 -6.9 4.6 -6.8 4.6 -6.8 4.6z" fill="#000"/>
<path d="M753.7 3240.8l6.8-4.6 6.8-4.6 6.9-4.6 6.8-4.7 6.8-4.6 6.9-4.6 6.8-4.6 6.8-4.6 6.9-4.7 6.8-4.6 6.8-4.6 6.9-4.6 6.8-4.7 6.8-4.6 6.9-4.6 6.8-4.6 6.8-4.6 6.9-4.7 6.8-4.6 6.8-4.6 6.9-4.6 6.8-4.7 6.8-4.6 6.9-4.6 6.8-4.6 6.8-4.6 6.9-4.7 6.8-4.6 6.8-4.6 6.9-4.6 6.8-4.7 6.8-4.6 6.9-4.6 6.8-4.6 6.8-4.6 6.9-4.7 6.8-4.6 6.8-4.6 6.9-4.6 6.8-4.7 6.8-4.6 6.9-4.6 6.8-4.6 6.8-4.6 6.9-4.7 6.8-4.6 6.9-4.6 6.8-4.6 6.8-4.7 6.9-4.6 6.8-4.6 6.8-4.6 6.9-4.6 6.8-4.7 6.8-4.6 6.9-4.6 6.8-4.6 6.8-4.7 0 0 -6.8 4.7 -6.8 4.6 -6.9 4.6 -6.8 4.6 -6.8 4.7 -6.9 4.6 -6.8 4.6 -6.8 4.6 -6.9 4.6 -6.8 4.7 -6.8 4.6 -6.9 4.6 -6.8 4.6 -6.9 4.7 -6.8 4.6 -6.8 4.6 -6.9 4.6 -6.8 4.6 -6.8 4.7 -6.9 4.6 -6.8 4.6 -6.8 4.6 -6.9 4.7 -6.8 4.6 -6.8 4.6 -6.9 4.6 -6.8 4.6 -6.8 4.7 -6.9 4.6 -6.8 4.6 -6.8 4.6 -6.9 4.7 -6.8 4.6 -6.8 4.6 -6.9 4.6 -6.8 4.6 -6.8 4.7 -6.9 4.6 -6.8 4.6 -6.8 4.6 -6.9 4.7 -6.8 4.6 -6.8 4.6 -6.9 4.6 -6.8 4.6 -6.8 4.7 -6.9 4.6 -6.8 4.6 -6.8 4.6 -6.9 4.7 -6.8 4.9 -6.8 4.8 -6.9 4.9 -6.8 4.9 -6.8 4.8 -6.9 4.9 -6.8 4.9 -6.8 4.8z" fill="#06303a"/>
<path d="M753.7 3223.8V3242.8M760.5 3219.6V3238M767.3 3215.4V3233.1M774.2 3211.1V3228.2M781 3206.9V3223.4M787.8 3202.6V3218.5M794.7 3198.4V3213.6M801.5 3194.2V3208.8M808.3 3189.9V3203.9M815.2 3185.7V3199.2M822 3181.5V3194.6M828.8 3177.2V3190M835.7 3172.9V3185.4M842.5 3168.3V3180.7M849.3 3163.8V3176.1M856.2 3159.2V3171.5M863 3154.6V3166.9M869.8 3150.1V3162.3M876.7 3145.5V3157.6M883.5 3141V3153M890.3 3136.4V3148.4M897.2 3131.8V3143.8M904 3127.3V3139.1M910.8 3122.7V3134.5M917.7 3118.2V3129.9M924.5 3113.6V3125.3M931.3 3109V3120.7M938.2 3104.5V3116M945 3099.9V3111.4M951.8 3095.4V3106.8M958.7 3090.8V3102.2M965.5 3086.3V3097.5M972.3 3081.7V3092.9M979.2 3077.1V3088.3M986 3072.6V3083.7M992.8 3068V3079.1M999.7 3063.5V3074.4M1006.5 3058.9V3069.8M1013.3 3054.3V3065.2M1020.2 3049.8V3060.6M1027 3045.2V3055.9M1033.8 3040.7V3051.3M1040.7 3036.1V3046.7M1047.5 3031.6V3042.1M1054.3 3027V3037.5M1061.2 3022.4V3032.8M1068 3017.9V3028.2M1074.9 3013.3V3023.6M1081.7 3008.8V3019M1088.5 3004.2V3014.3M1095.4 2999.6V3009.7M1102.2 2995.1V3005.1M1109 2990.5V3000.5M1115.9 2986V2995.9M1122.7 2981.4V2991.2M1129.5 2976.8V2986.6M1136.4 2972.3V2982M1143.2 2967.2V2977.4M1150 2959.1V2972.7" fill="none" stroke="#000" stroke-width="1.3" stroke-opacity="0.8"/>
<path d="M753.7 3223.8l6.8-4.2 6.8-4.2 6.9-4.3 6.8-4.2 6.8-4.3 6.9-4.2 6.8-4.2 6.8-4.3 6.9-4.2 6.8-4.2 6.8-4.3 6.9-4.3 6.8-4.6 6.8-4.5 6.9-4.6 6.8-4.6 6.8-4.5 6.9-4.6 6.8-4.5 6.8-4.6 6.9-4.6 6.8-4.5 6.8-4.6 6.9-4.5 6.8-4.6 6.8-4.6 6.9-4.5 6.8-4.6 6.8-4.5 6.9-4.6 6.8-4.5 6.8-4.6 6.9-4.6 6.8-4.5 6.8-4.6 6.9-4.5 6.8-4.6 6.8-4.6 6.9-4.5 6.8-4.6 6.8-4.5 6.9-4.6 6.8-4.5 6.8-4.6 6.9-4.6 6.8-4.5 6.9-4.6 6.8-4.5 6.8-4.6 6.9-4.6 6.8-4.5 6.8-4.6 6.9-4.5 6.8-4.6 6.8-4.6 6.9-4.5 6.8-5.1 6.8-8.1M753.7 3223.8l6.8-4.2 6.8-4.2 6.9-4.3 6.8-4.2 6.8-4.3 6.9-4.2 6.8-4.2 6.8-4.3 6.9-4.2 6.8-4.2 6.8-4.3 6.9-4.3 6.8-4.6 6.8-4.5 6.9-4.6 6.8-4.6 6.8-4.5 6.9-4.6 6.8-4.5 6.8-4.6 6.9-4.6 6.8-4.5 6.8-4.6 6.9-4.5 6.8-4.6 6.8-4.6 6.9-4.5 6.8-4.6 6.8-4.5 6.9-4.6 6.8-4.5 6.8-4.6 6.9-4.6 6.8-4.5 6.8-4.6 6.9-4.5 6.8-4.6 6.8-4.6 6.9-4.5 6.8-4.6 6.8-4.5 6.9-4.6 6.8-4.5 6.8-4.6 6.9-4.6 6.8-4.5 6.9-4.6 6.8-4.5 6.8-4.6 6.9-4.6 6.8-4.5 6.8-4.6 6.9-4.5 6.8-4.6 6.8-4.6 6.9-4.5 6.8-5.1 6.8-7.1M753.7 3240.8l6.8-4.6 6.8-4.6 6.9-4.6 6.8-4.7 6.8-4.6 6.9-4.6 6.8-4.6 6.8-4.6 6.9-4.7 6.8-4.6 6.8-4.6 6.9-4.6 6.8-4.7 6.8-4.6 6.9-4.6 6.8-4.6 6.8-4.6 6.9-4.7 6.8-4.6 6.8-4.6 6.9-4.6 6.8-4.7 6.8-4.6 6.9-4.6 6.8-4.6 6.8-4.6 6.9-4.7 6.8-4.6 6.8-4.6 6.9-4.6 6.8-4.7 6.8-4.6 6.9-4.6 6.8-4.6 6.8-4.6 6.9-4.7 6.8-4.6 6.8-4.6 6.9-4.6 6.8-4.7 6.8-4.6 6.9-4.6 6.8-4.6 6.8-4.6 6.9-4.7 6.8-4.6 6.9-4.6 6.8-4.6 6.8-4.7 6.9-4.6 6.8-4.6 6.8-4.6 6.9-4.6 6.8-4.7 6.8-4.6 6.9-4.6 6.8-4.6 6.8-4.7M753.7 3242.8l6.8-4.8 6.8-4.9 6.9-4.9 6.8-4.8 6.8-4.9 6.9-4.9 6.8-4.8 6.8-4.9 6.9-4.7 6.8-4.6 6.8-4.6 6.9-4.6 6.8-4.7 6.8-4.6 6.9-4.6 6.8-4.6 6.8-4.6 6.9-4.7 6.8-4.6 6.8-4.6 6.9-4.6 6.8-4.7 6.8-4.6 6.9-4.6 6.8-4.6 6.8-4.6 6.9-4.7 6.8-4.6 6.8-4.6 6.9-4.6 6.8-4.7 6.8-4.6 6.9-4.6 6.8-4.6 6.8-4.6 6.9-4.7 6.8-4.6 6.8-4.6 6.9-4.6 6.8-4.7 6.8-4.6 6.9-4.6 6.8-4.6 6.8-4.6 6.9-4.7 6.8-4.6 6.9-4.6 6.8-4.6 6.8-4.7 6.9-4.6 6.8-4.6 6.8-4.6 6.9-4.6 6.8-4.7 6.8-4.6 6.9-4.6 6.8-4.6 6.8-4.7" fill="none" stroke="#000" stroke-width="0.8" stroke-linejoin="round"/>
<path d="M753.7 3223.8L753.7 3242.8" stroke="#000" stroke-width="2.4" fill="none"/>
<path d="M1150 2959.1L1150 2972.7" stroke="#000" stroke-width="1.6" fill="none"/>
<polygon points="753.7,3226.8 789.9,3251.7 1186.2,2983 1150,2964.1" fill="#000"/>
<polygon points="789.9,3238.7 1186.2,2976 1186.2,2984 789.9,3256.7" fill="#000"/>
<line x1="179.3" y1="3310.6" x2="179.3" y2="2792.7" stroke="#4a4a4a" stroke-width="1.6"/>
<line x1="179.3" y1="3310.6" x2="806.9" y2="3516.1" stroke="#4a4a4a" stroke-width="1.6"/>
<line x1="806.9" y1="3516.1" x2="1247.3" y2="3220.9" stroke="#4a4a4a" stroke-width="1.6"/>
<line x1="179.3" y1="2792.7" x2="161.5" y2="2786.9" stroke="#4a4a4a" stroke-width="1.6"/>
<text x="149.6" y="2797.3" font-size="29.5" text-anchor="end" font-family='"Liberation Sans", sans-serif' fill="#262626">0.04</text>
<line x1="179.3" y1="2866.7" x2="161.5" y2="2860.9" stroke="#4a4a4a" stroke-width="1.6"/>
<text x="149.6" y="2871.3" font-size="29.5" text-anchor="end" font-family='"Liberation Sans", sans-serif' fill="#262626">0.03</text>
<line x1="179.3" y1="2940.7" x2="161.5" y2="2934.9" stroke="#4a4a4a" stroke-width="1.6"/>
<text x="149.6" y="2945.3" font-size="29.5" text-anchor="end" font-family='"Liberation Sans", sans-serif' fill="#262626">0.02</text>
<line x1="179.3" y1="3014.7" x2="161.5" y2="3008.9" stroke="#4a4a4a" stroke-width="1.6"/>
<text x="149.6" y="3019.3" font-size="29.5" text-anchor="end" font-family='"Liberation Sans", sans-serif' fill="#262626">0.01</text>
<line x1="179.3" y1="3088.7" x2="161.5" y2="3082.9" stroke="#4a4a4a" stroke-width="1.6"/>
<text x="149.6" y="3093.3" font-size="29.5" text-anchor="end" font-family='"Liberation Sans", sans-serif' fill="#262626">0</text>
<line x1="179.3" y1="3162.7" x2="161.5" y2="3156.9" stroke="#4a4a4a" stroke-width="1.6"/>
<text x="149.6" y="3167.3" font-size="29.5" text-anchor="end" font-family='"Liberation Sans", sans-serif' fill="#262626">-0.01</text>
<line x1="179.3" y1="3236.6" x2="161.5" y2="3230.8" stroke="#4a4a4a" stroke-width="1.6"/>
<text x="149.6" y="3241.2" font-size="29.5" text-anchor="end" font-family='"Liberation Sans", sans-serif' fill="#262626">-0.02</text>
<line x1="179.3" y1="3310.6" x2="161.5" y2="3304.8" stroke="#4a4a4a" stroke-width="1.6"/>
<text x="149.6" y="3315.2" font-size="29.5" text-anchor="end" font-family='"Liberation Sans", sans-serif' fill="#262626">-0.03</text>
<line x1="179.3" y1="3310.6" x2="164.8" y2="3320.3" stroke="#4a4a4a" stroke-width="1.6"/>
<text x="153.8" y="3358" font-size="29.5" text-anchor="end" font-family='"Liberation Sans", sans-serif' fill="#262626">0</text>
<line x1="283.9" y1="3344.8" x2="269.4" y2="3354.6" stroke="#4a4a4a" stroke-width="1.6"/>
<text x="258.4" y="3392.2" font-size="29.5" text-anchor="end" font-family='"Liberation Sans", sans-serif' fill="#262626">0.02</text>
<line x1="388.5" y1="3379.1" x2="374" y2="3388.8" stroke="#4a4a4a" stroke-width="1.6"/>
<text x="363" y="3426.5" font-size="29.5" text-anchor="end" font-family='"Liberation Sans", sans-serif' fill="#262626">0.04</text>
<line x1="493.1" y1="3413.3" x2="478.6" y2="3423.1" stroke="#4a4a4a" stroke-width="1.6"/>
<text x="467.6" y="3460.8" font-size="29.5" text-anchor="end" font-family='"Liberation Sans", sans-serif' fill="#262626">0.06</text>
<line x1="597.7" y1="3447.6" x2="583.2" y2="3457.3" stroke="#4a4a4a" stroke-width="1.6"/>
<text x="572.2" y="3495" font-size="29.5" text-anchor="end" font-family='"Liberation Sans", sans-serif' fill="#262626">0.08</text>
<line x1="702.3" y1="3481.8" x2="687.8" y2="3491.6" stroke="#4a4a4a" stroke-width="1.6"/>
<text x="676.8" y="3529.2" font-size="29.5" text-anchor="end" font-family='"Liberation Sans", sans-serif' fill="#262626">0.1</text>
<line x1="806.9" y1="3516.1" x2="792.4" y2="3525.8" stroke="#4a4a4a" stroke-width="1.6"/>
<text x="781.4" y="3563.5" font-size="29.5" text-anchor="end" font-family='"Liberation Sans", sans-serif' fill="#262626">0.12</text>
<line x1="1247.3" y1="3220.9" x2="1265.1" y2="3226.7" stroke="#4a4a4a" stroke-width="1.6"/>
<text x="1273.3" y="3261.3" font-size="29.5" text-anchor="start" font-family='"Liberation Sans", sans-serif' fill="#262626">0</text>
<line x1="1173.9" y1="3270.1" x2="1191.7" y2="3275.9" stroke="#4a4a4a" stroke-width="1.6"/>
<text x="1199.9" y="3310.5" font-size="29.5" text-anchor="start" font-family='"Liberation Sans", sans-serif' fill="#262626">1000</text>
<line x1="1100.5" y1="3319.3" x2="1118.3" y2="3325.1" stroke="#4a4a4a" stroke-width="1.6"/>
<text x="1126.5" y="3359.7" font-size="29.5" text-anchor="start" font-family='"Liberation Sans", sans-serif' fill="#262626">2000</text>
<line x1="1027.1" y1="3368.5" x2="1044.9" y2="3374.3" stroke="#4a4a4a" stroke-width="1.6"/>
<text x="1053.1" y="3408.9" font-size="29.5" text-anchor="start" font-family='"Liberation Sans", sans-serif' fill="#262626">3000</text>
<line x1="953.7" y1="3417.7" x2="971.5" y2="3423.5" stroke="#4a4a4a" stroke-width="1.6"/>
<text x="979.7" y="3458.1" font-size="29.5" text-anchor="start" font-family='"Liberation Sans", sans-serif' fill="#262626">4000</text>
<line x1="880.3" y1="3466.9" x2="898.1" y2="3472.7" stroke="#4a4a4a" stroke-width="1.6"/>
<text x="906.3" y="3507.3" font-size="29.5" text-anchor="start" font-family='"Liberation Sans", sans-serif' fill="#262626">5000</text>
<line x1="806.9" y1="3516.1" x2="824.7" y2="3521.9" stroke="#4a4a4a" stroke-width="1.6"/>
<text x="832.9" y="3556.5" font-size="29.5" text-anchor="start" font-family='"Liberation Sans", sans-serif' fill="#262626">6000</text>
<text x="464" y="3553" font-size="33.4" text-anchor="middle" font-family='"Liberation Sans", sans-serif' fill="#262626">Time (ms)</text>
<text x="1163" y="3532.5" font-size="33.4" text-anchor="middle" font-family='"Liberation Sans", sans-serif' fill="#262626">Rec.moments (s)</text>
<text x="64.3" y="3052" font-size="33.4" text-anchor="middle" font-family='"Liberation Sans", sans-serif' fill="#262626" transform="rotate(-90 64.3 3052)">Signal amplitude (A.U.)</text>
<text x="16" y="2655.5" font-size="96" text-anchor="start" font-family='"Liberation Serif", serif' fill="#111">c)</text>
</g>
</svg></body></html>
